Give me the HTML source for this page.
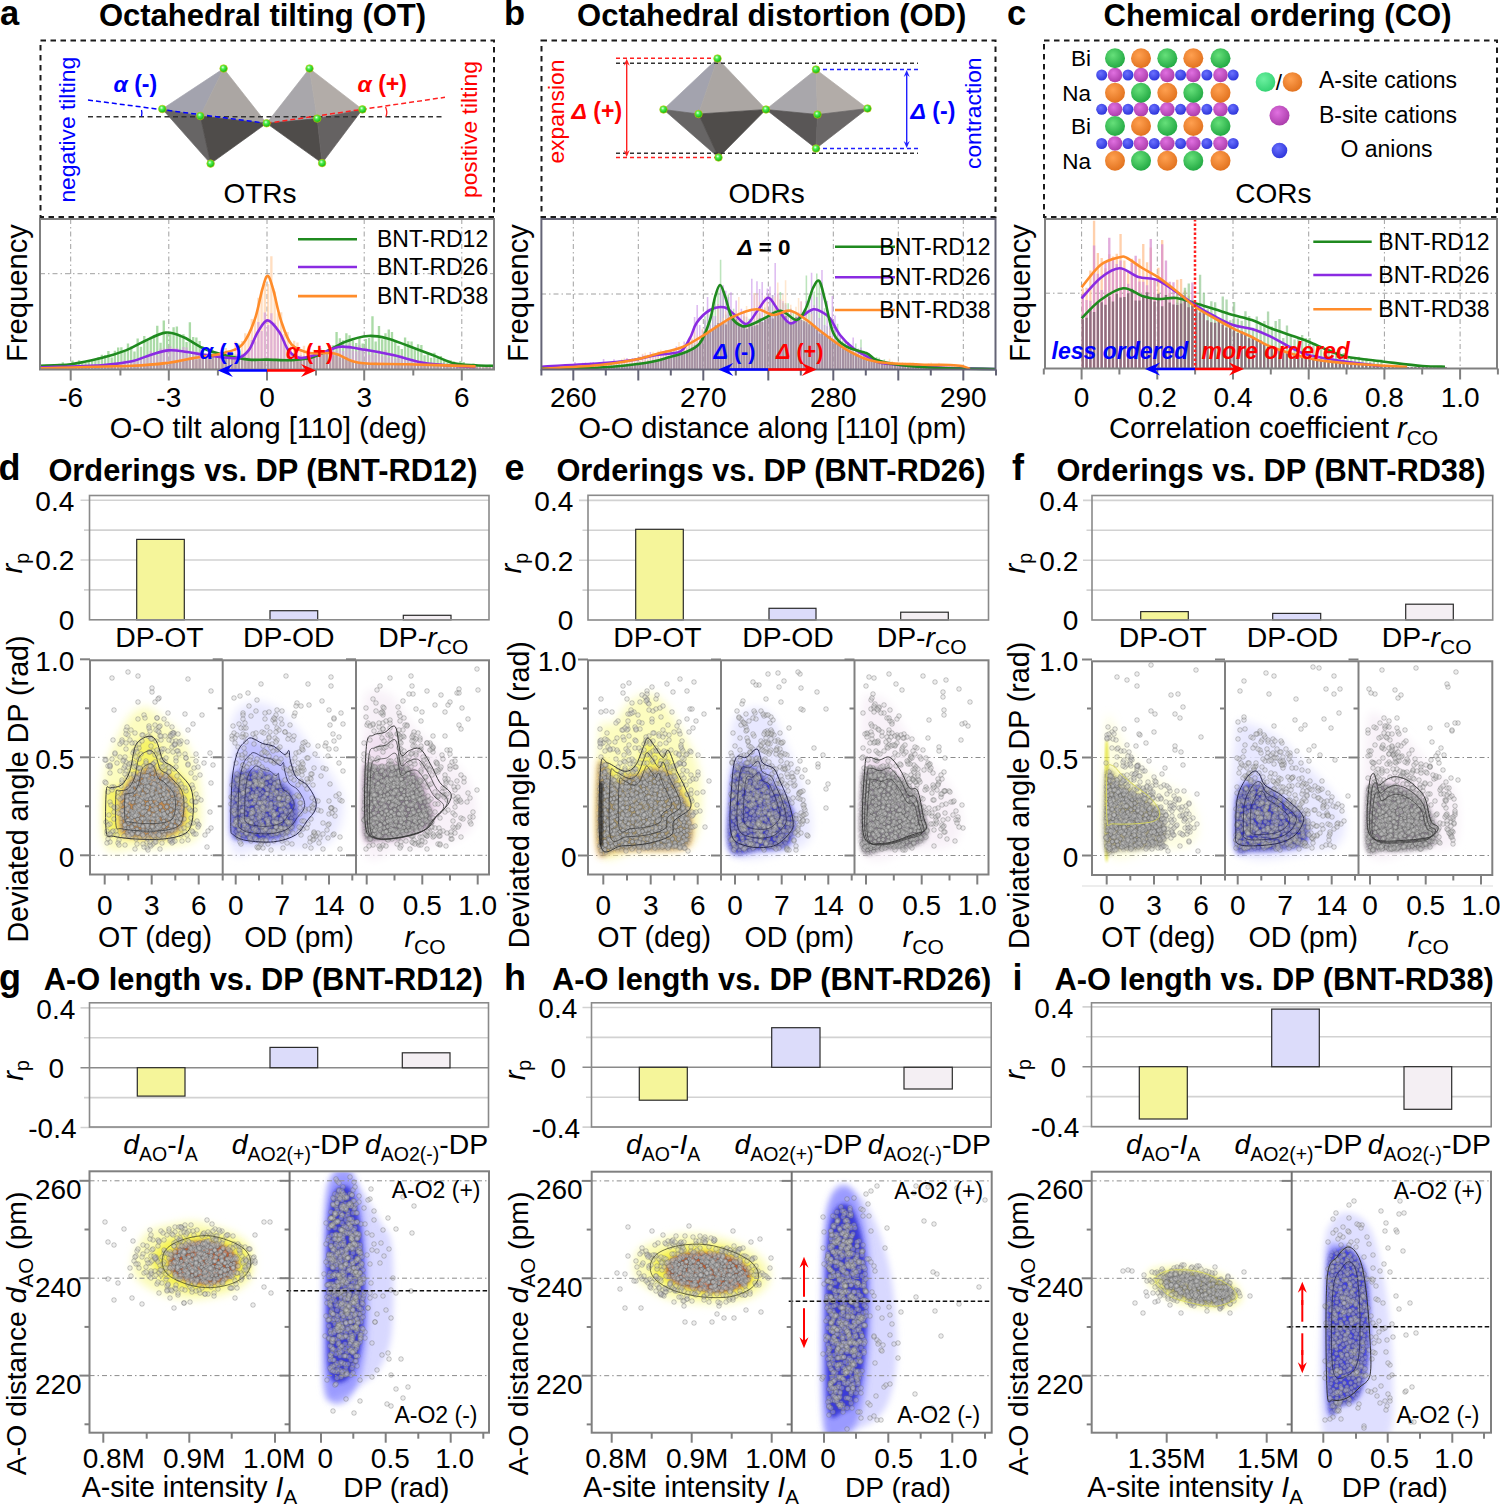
<!DOCTYPE html>
<html><head><meta charset="utf-8"><style>
html,body{margin:0;padding:0;background:#fff;overflow:hidden;}
svg{display:block;}
text{font-family:"Liberation Sans", sans-serif;}
.pc circle{r:2.3px;fill:#cdcdcd;fill-opacity:.36;stroke:#666;stroke-opacity:.48;stroke-width:.75px}
</style></head><body>
<svg width="1500" height="1506" viewBox="0 0 1500 1506" font-family='"Liberation Sans", sans-serif'>
<rect width="1500" height="1506" fill="#fff"/>
<text x="0.0" y="25.0" font-size="34.5" font-weight="bold">a</text>
<text x="504.0" y="25.0" font-size="34.5" font-weight="bold">b</text>
<text x="1007.0" y="25.0" font-size="34.5" font-weight="bold">c</text>
<text x="262.5" y="25.5" font-size="31" text-anchor="middle" font-weight="bold">Octahedral tilting (OT)</text>
<text x="771.7" y="25.5" font-size="31" text-anchor="middle" font-weight="bold">Octahedral distortion (OD)</text>
<text x="1277.5" y="25.5" font-size="31" text-anchor="middle" font-weight="bold">Chemical ordering (CO)</text>
<rect x="40.5" y="40.5" width="453.5" height="176.5" fill="none" stroke="#1a1a1a" stroke-width="2" stroke-dasharray="5.5,4.5"/>
<rect x="541.5" y="40.5" width="454.0" height="176.5" fill="none" stroke="#1a1a1a" stroke-width="2" stroke-dasharray="5.5,4.5"/>
<rect x="1044" y="40.5" width="453" height="176.5" fill="none" stroke="#1a1a1a" stroke-width="2" stroke-dasharray="5.5,4.5"/>
<defs>
<radialGradient id="gball" cx="0.4" cy="0.35" r="0.65"><stop offset="0" stop-color="#eaffea"/><stop offset="0.35" stop-color="#4cf04c"/><stop offset="1" stop-color="#10b010"/></radialGradient>
<radialGradient id="gG" cx="0.4" cy="0.35" r="0.7"><stop offset="0" stop-color="#66e07a"/><stop offset="1" stop-color="#1fa640"/></radialGradient>
<radialGradient id="gO" cx="0.4" cy="0.35" r="0.7"><stop offset="0" stop-color="#ffa050"/><stop offset="1" stop-color="#e0701c"/></radialGradient>
<radialGradient id="gP" cx="0.4" cy="0.35" r="0.7"><stop offset="0" stop-color="#e070e0"/><stop offset="1" stop-color="#a83aa8"/></radialGradient>
<radialGradient id="gB" cx="0.4" cy="0.35" r="0.7"><stop offset="0" stop-color="#6a70ff"/><stop offset="1" stop-color="#2a32d8"/></radialGradient>
<radialGradient id="gGl" cx="0.4" cy="0.35" r="0.7"><stop offset="0" stop-color="#6cf0a0"/><stop offset="1" stop-color="#30d070"/></radialGradient>
<filter id="blur2" x="-20%" y="-20%" width="140%" height="140%"><feGaussianBlur stdDeviation="2"/></filter>
<filter id="blur4" x="-30%" y="-30%" width="160%" height="160%"><feGaussianBlur stdDeviation="4"/></filter>
<filter id="blur7" x="-40%" y="-40%" width="180%" height="180%"><feGaussianBlur stdDeviation="7"/></filter>
<filter id="blur3" x="-30%" y="-30%" width="160%" height="160%"><feGaussianBlur stdDeviation="3"/></filter>
<filter id="blur5" x="-30%" y="-30%" width="160%" height="160%"><feGaussianBlur stdDeviation="5"/></filter>
<filter id="blur6" x="-30%" y="-30%" width="160%" height="160%"><feGaussianBlur stdDeviation="6"/></filter>
</defs>
<polygon points="223.6,68.5 162.3,109.0 200.3,116.0" fill="#a3a3ae" stroke="#a3a3ae" stroke-width="0.7" />
<polygon points="223.6,68.5 200.3,116.0 266.6,123.3" fill="#aba6a3" stroke="#aba6a3" stroke-width="0.7" />
<polygon points="162.3,109.0 200.3,116.0 210.6,163.6" fill="#676565" stroke="#676565" stroke-width="0.7" />
<polygon points="200.3,116.0 266.6,123.3 210.6,163.6" fill="#4f4c4a" stroke="#4f4c4a" stroke-width="0.7" />
<polygon points="309.5,68.5 266.6,123.3 317.2,118.6" fill="#a9a7ab" stroke="#a9a7ab" stroke-width="0.7" />
<polygon points="309.5,68.5 317.2,118.6 362.4,109.4" fill="#b2aca8" stroke="#b2aca8" stroke-width="0.7" />
<polygon points="266.6,123.3 317.2,118.6 322.1,163.1" fill="#4f4c4a" stroke="#4f4c4a" stroke-width="0.7" />
<polygon points="317.2,118.6 362.4,109.4 322.1,163.1" fill="#656262" stroke="#656262" stroke-width="0.7" />
<line x1="88.0" y1="116.7" x2="445.0" y2="116.7" stroke="#333" stroke-width="1.6" stroke-dasharray="5,3.5"/>
<line x1="88.0" y1="100.0" x2="266.6" y2="123.3" stroke="#0000ff" stroke-width="1.5" stroke-dasharray="5,3"/>
<line x1="266.6" y1="123.3" x2="445.0" y2="97.3" stroke="#ff2020" stroke-width="1.5" stroke-dasharray="5,3"/>
<path d="M141.5,110 A 12 12 0 0 1 141.5,116.5" fill="none" stroke="#0000ff" stroke-width="1.3"/>
<path d="M385.5,107 A 12 12 0 0 1 386,116.5" fill="none" stroke="#ff2020" stroke-width="1.3"/>
<circle cx="223.6" cy="68.5" r="3.8" fill="url(#gball)" stroke="#c8c800" stroke-width="0.6"/>
<circle cx="162.3" cy="109.0" r="3.8" fill="url(#gball)" stroke="#c8c800" stroke-width="0.6"/>
<circle cx="200.3" cy="116.0" r="3.8" fill="url(#gball)" stroke="#c8c800" stroke-width="0.6"/>
<circle cx="266.6" cy="123.3" r="3.8" fill="url(#gball)" stroke="#c8c800" stroke-width="0.6"/>
<circle cx="210.6" cy="163.6" r="3.8" fill="url(#gball)" stroke="#c8c800" stroke-width="0.6"/>
<circle cx="309.5" cy="68.5" r="3.8" fill="url(#gball)" stroke="#c8c800" stroke-width="0.6"/>
<circle cx="317.2" cy="118.6" r="3.8" fill="url(#gball)" stroke="#c8c800" stroke-width="0.6"/>
<circle cx="362.4" cy="109.4" r="3.8" fill="url(#gball)" stroke="#c8c800" stroke-width="0.6"/>
<circle cx="322.1" cy="163.1" r="3.8" fill="url(#gball)" stroke="#c8c800" stroke-width="0.6"/>
<text x="113.5" y="91.7" font-size="23" font-weight="bold" fill="#0000ff"><tspan font-style="italic">α</tspan> (-)</text>
<text x="357.5" y="91.7" font-size="23" font-weight="bold" fill="#ff0000"><tspan font-style="italic">α</tspan> (+)</text>
<text x="75.3" y="129.7" font-size="22.8" text-anchor="middle" fill="#0000ff" transform="rotate(-90 75.3 129.7)">negative tilting</text>
<text x="477.2" y="129.6" font-size="22.8" text-anchor="middle" fill="#ff0000" transform="rotate(-90 477.2 129.6)">positive tilting</text>
<text x="260.0" y="203.0" font-size="28" text-anchor="middle">OTRs</text>
<polygon points="717.5,58.5 663.5,109.5 698.5,114.0" fill="#a3a3ae" stroke="#a3a3ae" stroke-width="0.7" />
<polygon points="717.5,58.5 698.5,114.0 766.0,109.5" fill="#aba6a3" stroke="#aba6a3" stroke-width="0.7" />
<polygon points="663.5,109.5 698.5,114.0 718.5,157.5" fill="#676565" stroke="#676565" stroke-width="0.7" />
<polygon points="698.5,114.0 766.0,109.5 718.5,157.5" fill="#4f4c4a" stroke="#4f4c4a" stroke-width="0.7" />
<polygon points="816.0,69.5 766.0,109.5 817.5,114.5" fill="#a9a7ab" stroke="#a9a7ab" stroke-width="0.7" />
<polygon points="816.0,69.5 817.5,114.5 867.5,108.5" fill="#b2aca8" stroke="#b2aca8" stroke-width="0.7" />
<polygon points="766.0,109.5 817.5,114.5 816.0,148.5" fill="#595656" stroke="#595656" stroke-width="0.7" />
<polygon points="817.5,114.5 867.5,108.5 816.0,148.5" fill="#6a6767" stroke="#6a6767" stroke-width="0.7" />
<line x1="616.0" y1="63.3" x2="918.0" y2="63.3" stroke="#333" stroke-width="1.4" stroke-dasharray="4,3"/>
<line x1="616.0" y1="153.3" x2="918.0" y2="153.3" stroke="#333" stroke-width="1.4" stroke-dasharray="4,3"/>
<line x1="616.0" y1="58.3" x2="717.0" y2="58.3" stroke="#ff2020" stroke-width="1.4" stroke-dasharray="4,3"/>
<line x1="616.0" y1="157.5" x2="717.0" y2="157.5" stroke="#ff2020" stroke-width="1.4" stroke-dasharray="4,3"/>
<line x1="816.0" y1="69.5" x2="918.0" y2="69.5" stroke="#2020ff" stroke-width="1.4" stroke-dasharray="4,3"/>
<line x1="816.0" y1="148.5" x2="918.0" y2="148.5" stroke="#2020ff" stroke-width="1.4" stroke-dasharray="4,3"/>
<line x1="626.7" y1="108.0" x2="626.7" y2="63.0" stroke="#ff2020" stroke-width="1.4" />
<polygon points="626.7,58.8 623.7,65.8 626.7,63.3 629.7,65.8" fill="#ff2020" />
<line x1="626.7" y1="108.0" x2="626.7" y2="152.8" stroke="#ff2020" stroke-width="1.4" />
<polygon points="626.7,157.0 623.7,150.0 626.7,152.4 629.7,150.0" fill="#ff2020" />
<line x1="906.7" y1="109.0" x2="906.7" y2="74.2" stroke="#2020ff" stroke-width="1.4" />
<polygon points="906.7,70.0 903.7,77.0 906.7,74.5 909.7,77.0" fill="#2020ff" />
<line x1="906.7" y1="109.0" x2="906.7" y2="143.8" stroke="#2020ff" stroke-width="1.4" />
<polygon points="906.7,148.0 903.7,141.0 906.7,143.4 909.7,141.0" fill="#2020ff" />
<circle cx="717.5" cy="58.5" r="3.8" fill="url(#gball)" stroke="#c8c800" stroke-width="0.6"/>
<circle cx="663.5" cy="109.5" r="3.8" fill="url(#gball)" stroke="#c8c800" stroke-width="0.6"/>
<circle cx="698.5" cy="114.0" r="3.8" fill="url(#gball)" stroke="#c8c800" stroke-width="0.6"/>
<circle cx="766.0" cy="109.5" r="3.8" fill="url(#gball)" stroke="#c8c800" stroke-width="0.6"/>
<circle cx="718.5" cy="157.5" r="3.8" fill="url(#gball)" stroke="#c8c800" stroke-width="0.6"/>
<circle cx="816.0" cy="69.5" r="3.8" fill="url(#gball)" stroke="#c8c800" stroke-width="0.6"/>
<circle cx="817.5" cy="114.5" r="3.8" fill="url(#gball)" stroke="#c8c800" stroke-width="0.6"/>
<circle cx="867.5" cy="108.5" r="3.8" fill="url(#gball)" stroke="#c8c800" stroke-width="0.6"/>
<circle cx="816.0" cy="148.5" r="3.8" fill="url(#gball)" stroke="#c8c800" stroke-width="0.6"/>
<text x="571.5" y="118.8" font-size="23" font-weight="bold" fill="#ff0000"><tspan font-style="italic">Δ</tspan> (+)</text>
<text x="910.5" y="118.8" font-size="23" font-weight="bold" fill="#0000ff"><tspan font-style="italic">Δ</tspan> (-)</text>
<text x="564.0" y="111.6" font-size="22.8" text-anchor="middle" fill="#ff0000" transform="rotate(-90 564.0 111.6)">expansion</text>
<text x="981.2" y="113.2" font-size="22.8" text-anchor="middle" fill="#0000ff" transform="rotate(-90 981.2 113.2)">contraction</text>
<text x="766.7" y="203.0" font-size="28" text-anchor="middle">ODRs</text>
<circle cx="1101.7" cy="75" r="5.5" fill="url(#gB)"/>
<circle cx="1128.0" cy="75" r="5.5" fill="url(#gB)"/>
<circle cx="1154.3" cy="75" r="5.5" fill="url(#gB)"/>
<circle cx="1180.6" cy="75" r="5.5" fill="url(#gB)"/>
<circle cx="1206.9" cy="75" r="5.5" fill="url(#gB)"/>
<circle cx="1233.2" cy="75" r="5.5" fill="url(#gB)"/>
<circle cx="1115.0" cy="75" r="7.3" fill="url(#gP)"/>
<circle cx="1141.0" cy="75" r="7.3" fill="url(#gP)"/>
<circle cx="1167.3" cy="75" r="7.3" fill="url(#gP)"/>
<circle cx="1193.3" cy="75" r="7.3" fill="url(#gP)"/>
<circle cx="1220.5" cy="75" r="7.3" fill="url(#gP)"/>
<circle cx="1101.7" cy="109.3" r="5.5" fill="url(#gB)"/>
<circle cx="1128.0" cy="109.3" r="5.5" fill="url(#gB)"/>
<circle cx="1154.3" cy="109.3" r="5.5" fill="url(#gB)"/>
<circle cx="1180.6" cy="109.3" r="5.5" fill="url(#gB)"/>
<circle cx="1206.9" cy="109.3" r="5.5" fill="url(#gB)"/>
<circle cx="1233.2" cy="109.3" r="5.5" fill="url(#gB)"/>
<circle cx="1115.0" cy="109.3" r="7.3" fill="url(#gP)"/>
<circle cx="1141.0" cy="109.3" r="7.3" fill="url(#gP)"/>
<circle cx="1167.3" cy="109.3" r="7.3" fill="url(#gP)"/>
<circle cx="1193.3" cy="109.3" r="7.3" fill="url(#gP)"/>
<circle cx="1220.5" cy="109.3" r="7.3" fill="url(#gP)"/>
<circle cx="1101.7" cy="143.5" r="5.5" fill="url(#gB)"/>
<circle cx="1128.0" cy="143.5" r="5.5" fill="url(#gB)"/>
<circle cx="1154.3" cy="143.5" r="5.5" fill="url(#gB)"/>
<circle cx="1180.6" cy="143.5" r="5.5" fill="url(#gB)"/>
<circle cx="1206.9" cy="143.5" r="5.5" fill="url(#gB)"/>
<circle cx="1233.2" cy="143.5" r="5.5" fill="url(#gB)"/>
<circle cx="1115.0" cy="143.5" r="7.3" fill="url(#gP)"/>
<circle cx="1141.0" cy="143.5" r="7.3" fill="url(#gP)"/>
<circle cx="1167.3" cy="143.5" r="7.3" fill="url(#gP)"/>
<circle cx="1193.3" cy="143.5" r="7.3" fill="url(#gP)"/>
<circle cx="1220.5" cy="143.5" r="7.3" fill="url(#gP)"/>
<circle cx="1115.0" cy="58.3" r="10" fill="url(#gG)"/>
<circle cx="1141.0" cy="58.3" r="10" fill="url(#gO)"/>
<circle cx="1167.3" cy="58.3" r="10" fill="url(#gG)"/>
<circle cx="1193.3" cy="58.3" r="10" fill="url(#gO)"/>
<circle cx="1220.5" cy="58.3" r="10" fill="url(#gG)"/>
<circle cx="1115.0" cy="92.7" r="10" fill="url(#gO)"/>
<circle cx="1141.0" cy="92.7" r="10" fill="url(#gG)"/>
<circle cx="1167.3" cy="92.7" r="10" fill="url(#gO)"/>
<circle cx="1193.3" cy="92.7" r="10" fill="url(#gG)"/>
<circle cx="1220.5" cy="92.7" r="10" fill="url(#gO)"/>
<circle cx="1115.0" cy="126" r="10" fill="url(#gG)"/>
<circle cx="1141.0" cy="126" r="10" fill="url(#gO)"/>
<circle cx="1167.3" cy="126" r="10" fill="url(#gG)"/>
<circle cx="1193.3" cy="126" r="10" fill="url(#gO)"/>
<circle cx="1220.5" cy="126" r="10" fill="url(#gG)"/>
<circle cx="1115.0" cy="160.7" r="10" fill="url(#gO)"/>
<circle cx="1141.0" cy="160.7" r="10" fill="url(#gG)"/>
<circle cx="1167.3" cy="160.7" r="10" fill="url(#gO)"/>
<circle cx="1193.3" cy="160.7" r="10" fill="url(#gG)"/>
<circle cx="1220.5" cy="160.7" r="10" fill="url(#gO)"/>
<text x="1091.0" y="66.3" font-size="22.5" text-anchor="end">Bi</text>
<text x="1091.0" y="100.7" font-size="22.5" text-anchor="end">Na</text>
<text x="1091.0" y="134.0" font-size="22.5" text-anchor="end">Bi</text>
<text x="1091.0" y="168.7" font-size="22.5" text-anchor="end">Na</text>
<circle cx="1265.5" cy="82" r="9.8" fill="url(#gGl)"/>
<circle cx="1292.5" cy="82" r="9.8" fill="url(#gO)"/>
<text x="1279.0" y="90.0" font-size="22.5" text-anchor="middle">/</text>
<circle cx="1279.5" cy="115.5" r="10" fill="url(#gP)"/>
<circle cx="1279.5" cy="150.5" r="7.8" fill="url(#gB)"/>
<text x="1388.0" y="88.3" font-size="23" text-anchor="middle">A-site cations</text>
<text x="1388.0" y="122.5" font-size="23" text-anchor="middle">B-site cations</text>
<text x="1386.5" y="157.0" font-size="23" text-anchor="middle">O anions</text>
<text x="1273.3" y="203.0" font-size="28" text-anchor="middle">CORs</text>
<line x1="70.7" y1="219.0" x2="70.7" y2="369.0" stroke="#a0a0a0" stroke-width="1" stroke-dasharray="5,3,1.5,3"/>
<line x1="168.8" y1="219.0" x2="168.8" y2="369.0" stroke="#a0a0a0" stroke-width="1" stroke-dasharray="5,3,1.5,3"/>
<line x1="267.0" y1="219.0" x2="267.0" y2="369.0" stroke="#a0a0a0" stroke-width="1" stroke-dasharray="5,3,1.5,3"/>
<line x1="364.2" y1="219.0" x2="364.2" y2="369.0" stroke="#a0a0a0" stroke-width="1" stroke-dasharray="5,3,1.5,3"/>
<line x1="461.8" y1="219.0" x2="461.8" y2="369.0" stroke="#a0a0a0" stroke-width="1" stroke-dasharray="5,3,1.5,3"/>
<line x1="40.0" y1="273.7" x2="494.0" y2="273.7" stroke="#a0a0a0" stroke-width="1" stroke-dasharray="5,3,1.5,3"/>
<path d="M42.0 366.2h2.35V369h-2.35zM45.3 364.7h2.35V369h-2.35zM48.5 365.1h2.35V369h-2.35zM51.8 364.5h2.35V369h-2.35zM55.0 365.0h2.35V369h-2.35zM58.3 363.7h2.35V369h-2.35zM61.6 362.3h2.35V369h-2.35zM64.8 364.4h2.35V369h-2.35zM68.1 364.8h2.35V369h-2.35zM71.3 360.4h2.35V369h-2.35zM74.6 364.6h2.35V369h-2.35zM77.9 360.3h2.35V369h-2.35zM81.1 362.7h2.35V369h-2.35zM84.4 363.1h2.35V369h-2.35zM87.6 360.4h2.35V369h-2.35zM90.9 360.9h2.35V369h-2.35zM94.2 360.4h2.35V369h-2.35zM97.4 357.0h2.35V369h-2.35zM100.7 354.8h2.35V369h-2.35zM103.9 355.1h2.35V369h-2.35zM107.2 351.0h2.35V369h-2.35zM110.5 357.4h2.35V369h-2.35zM113.7 350.8h2.35V369h-2.35zM117.0 347.4h2.35V369h-2.35zM120.2 347.2h2.35V369h-2.35zM123.5 352.0h2.35V369h-2.35zM126.8 343.4h2.35V369h-2.35zM130.0 346.4h2.35V369h-2.35zM133.3 351.5h2.35V369h-2.35zM136.5 338.4h2.35V369h-2.35zM139.8 346.7h2.35V369h-2.35zM143.1 336.1h2.35V369h-2.35zM146.3 340.6h2.35V369h-2.35zM149.6 336.7h2.35V369h-2.35zM152.8 335.1h2.35V369h-2.35zM156.1 325.7h2.35V369h-2.35zM159.4 342.7h2.35V369h-2.35zM162.6 320.5h2.35V369h-2.35zM165.9 333.7h2.35V369h-2.35zM169.1 332.1h2.35V369h-2.35zM172.4 327.3h2.35V369h-2.35zM175.7 326.4h2.35V369h-2.35zM178.9 334.6h2.35V369h-2.35zM182.2 334.3h2.35V369h-2.35zM185.4 342.0h2.35V369h-2.35zM188.7 322.2h2.35V369h-2.35zM192.0 336.9h2.35V369h-2.35zM195.2 337.6h2.35V369h-2.35zM198.5 341.1h2.35V369h-2.35zM201.7 346.4h2.35V369h-2.35zM205.0 353.8h2.35V369h-2.35zM208.3 348.6h2.35V369h-2.35zM211.5 350.5h2.35V369h-2.35zM214.8 353.2h2.35V369h-2.35zM218.0 352.4h2.35V369h-2.35zM221.3 352.9h2.35V369h-2.35zM224.6 358.8h2.35V369h-2.35zM227.8 358.0h2.35V369h-2.35zM231.1 353.2h2.35V369h-2.35zM234.3 354.4h2.35V369h-2.35zM237.6 359.0h2.35V369h-2.35zM240.9 353.7h2.35V369h-2.35zM244.1 359.7h2.35V369h-2.35zM247.4 357.6h2.35V369h-2.35zM250.6 361.4h2.35V369h-2.35zM253.9 357.8h2.35V369h-2.35zM257.2 361.1h2.35V369h-2.35zM260.4 361.1h2.35V369h-2.35zM263.7 357.9h2.35V369h-2.35zM266.9 360.2h2.35V369h-2.35zM270.2 362.0h2.35V369h-2.35zM273.5 359.8h2.35V369h-2.35zM276.7 361.7h2.35V369h-2.35zM280.0 359.4h2.35V369h-2.35zM283.2 359.0h2.35V369h-2.35zM286.5 360.7h2.35V369h-2.35zM289.8 361.7h2.35V369h-2.35zM293.0 361.3h2.35V369h-2.35zM296.3 357.9h2.35V369h-2.35zM299.5 360.3h2.35V369h-2.35zM302.8 356.3h2.35V369h-2.35zM306.1 359.7h2.35V369h-2.35zM309.3 357.9h2.35V369h-2.35zM312.6 357.1h2.35V369h-2.35zM315.8 358.2h2.35V369h-2.35zM319.1 348.3h2.35V369h-2.35zM322.4 353.4h2.35V369h-2.35zM325.6 352.1h2.35V369h-2.35zM328.9 345.3h2.35V369h-2.35zM332.1 345.2h2.35V369h-2.35zM335.4 332.0h2.35V369h-2.35zM338.7 338.2h2.35V369h-2.35zM341.9 340.3h2.35V369h-2.35zM345.2 333.3h2.35V369h-2.35zM348.4 335.3h2.35V369h-2.35zM351.7 340.4h2.35V369h-2.35zM355.0 342.9h2.35V369h-2.35zM358.2 337.8h2.35V369h-2.35zM361.5 343.6h2.35V369h-2.35zM364.7 339.0h2.35V369h-2.35zM368.0 338.1h2.35V369h-2.35zM371.3 316.2h2.35V369h-2.35zM374.5 341.4h2.35V369h-2.35zM377.8 326.0h2.35V369h-2.35zM381.0 339.3h2.35V369h-2.35zM384.3 333.2h2.35V369h-2.35zM387.6 329.5h2.35V369h-2.35zM390.8 331.9h2.35V369h-2.35zM394.1 340.3h2.35V369h-2.35zM397.3 345.7h2.35V369h-2.35zM400.6 349.1h2.35V369h-2.35zM403.9 337.5h2.35V369h-2.35zM407.1 341.2h2.35V369h-2.35zM410.4 341.6h2.35V369h-2.35zM413.6 349.6h2.35V369h-2.35zM416.9 344.3h2.35V369h-2.35zM420.2 344.9h2.35V369h-2.35zM423.4 355.2h2.35V369h-2.35zM426.7 353.4h2.35V369h-2.35zM429.9 357.8h2.35V369h-2.35zM433.2 352.8h2.35V369h-2.35zM436.5 357.7h2.35V369h-2.35zM439.7 356.0h2.35V369h-2.35zM443.0 358.8h2.35V369h-2.35zM446.2 362.6h2.35V369h-2.35zM449.5 360.2h2.35V369h-2.35zM452.8 361.5h2.35V369h-2.35zM456.0 364.1h2.35V369h-2.35zM459.3 361.0h2.35V369h-2.35zM462.5 362.0h2.35V369h-2.35zM465.8 365.4h2.35V369h-2.35zM469.1 365.8h2.35V369h-2.35zM472.3 363.6h2.35V369h-2.35zM475.6 366.0h2.35V369h-2.35zM478.8 365.8h2.35V369h-2.35zM482.1 366.2h2.35V369h-2.35zM485.4 365.7h2.35V369h-2.35zM488.6 364.7h2.35V369h-2.35zM491.9 366.1h2.35V369h-2.35z" fill="#8fcf8a" fill-opacity="0.75"/>
<path d="M42.0 368.2h2.35V369h-2.35zM45.3 368.0h2.35V369h-2.35zM48.5 367.6h2.35V369h-2.35zM51.8 368.1h2.35V369h-2.35zM55.0 367.9h2.35V369h-2.35zM58.3 367.3h2.35V369h-2.35zM61.6 367.3h2.35V369h-2.35zM64.8 367.3h2.35V369h-2.35zM68.1 367.3h2.35V369h-2.35zM71.3 367.3h2.35V369h-2.35zM74.6 366.7h2.35V369h-2.35zM77.9 366.9h2.35V369h-2.35zM81.1 366.9h2.35V369h-2.35zM84.4 366.5h2.35V369h-2.35zM87.6 366.6h2.35V369h-2.35zM90.9 366.5h2.35V369h-2.35zM94.2 366.8h2.35V369h-2.35zM97.4 366.6h2.35V369h-2.35zM100.7 365.5h2.35V369h-2.35zM103.9 366.9h2.35V369h-2.35zM107.2 365.7h2.35V369h-2.35zM110.5 366.0h2.35V369h-2.35zM113.7 366.1h2.35V369h-2.35zM117.0 366.3h2.35V369h-2.35zM120.2 365.8h2.35V369h-2.35zM123.5 365.6h2.35V369h-2.35zM126.8 365.2h2.35V369h-2.35zM130.0 365.4h2.35V369h-2.35zM133.3 364.8h2.35V369h-2.35zM136.5 364.3h2.35V369h-2.35zM139.8 364.4h2.35V369h-2.35zM143.1 363.8h2.35V369h-2.35zM146.3 364.2h2.35V369h-2.35zM149.6 363.1h2.35V369h-2.35zM152.8 364.8h2.35V369h-2.35zM156.1 363.7h2.35V369h-2.35zM159.4 363.7h2.35V369h-2.35zM162.6 360.6h2.35V369h-2.35zM165.9 361.2h2.35V369h-2.35zM169.1 361.3h2.35V369h-2.35zM172.4 360.0h2.35V369h-2.35zM175.7 360.8h2.35V369h-2.35zM178.9 359.8h2.35V369h-2.35zM182.2 357.6h2.35V369h-2.35zM185.4 360.4h2.35V369h-2.35zM188.7 357.7h2.35V369h-2.35zM192.0 360.2h2.35V369h-2.35zM195.2 358.2h2.35V369h-2.35zM198.5 354.0h2.35V369h-2.35zM201.7 356.2h2.35V369h-2.35zM205.0 354.3h2.35V369h-2.35zM208.3 354.3h2.35V369h-2.35zM211.5 350.9h2.35V369h-2.35zM214.8 354.1h2.35V369h-2.35zM218.0 355.1h2.35V369h-2.35zM221.3 348.5h2.35V369h-2.35zM224.6 348.0h2.35V369h-2.35zM227.8 350.4h2.35V369h-2.35zM231.1 353.1h2.35V369h-2.35zM234.3 341.4h2.35V369h-2.35zM237.6 343.4h2.35V369h-2.35zM240.9 341.0h2.35V369h-2.35zM244.1 333.2h2.35V369h-2.35zM247.4 334.6h2.35V369h-2.35zM250.6 318.9h2.35V369h-2.35zM253.9 321.2h2.35V369h-2.35zM257.2 297.7h2.35V369h-2.35zM260.4 292.8h2.35V369h-2.35zM263.7 284.1h2.35V369h-2.35zM266.9 284.0h2.35V369h-2.35zM270.2 256.2h2.35V369h-2.35zM273.5 291.5h2.35V369h-2.35zM276.7 313.5h2.35V369h-2.35zM280.0 312.3h2.35V369h-2.35zM283.2 334.0h2.35V369h-2.35zM286.5 331.9h2.35V369h-2.35zM289.8 345.4h2.35V369h-2.35zM293.0 340.8h2.35V369h-2.35zM296.3 342.4h2.35V369h-2.35zM299.5 349.7h2.35V369h-2.35zM302.8 345.8h2.35V369h-2.35zM306.1 353.6h2.35V369h-2.35zM309.3 352.0h2.35V369h-2.35zM312.6 349.8h2.35V369h-2.35zM315.8 355.1h2.35V369h-2.35zM319.1 350.0h2.35V369h-2.35zM322.4 350.1h2.35V369h-2.35zM325.6 355.7h2.35V369h-2.35zM328.9 350.4h2.35V369h-2.35zM332.1 354.1h2.35V369h-2.35zM335.4 354.5h2.35V369h-2.35zM338.7 352.2h2.35V369h-2.35zM341.9 359.5h2.35V369h-2.35zM345.2 355.5h2.35V369h-2.35zM348.4 359.3h2.35V369h-2.35zM351.7 358.4h2.35V369h-2.35zM355.0 360.6h2.35V369h-2.35zM358.2 361.9h2.35V369h-2.35zM361.5 363.3h2.35V369h-2.35zM364.7 362.7h2.35V369h-2.35zM368.0 362.5h2.35V369h-2.35zM371.3 360.9h2.35V369h-2.35zM374.5 361.8h2.35V369h-2.35zM377.8 361.8h2.35V369h-2.35zM381.0 362.0h2.35V369h-2.35zM384.3 364.7h2.35V369h-2.35zM387.6 364.3h2.35V369h-2.35zM390.8 363.1h2.35V369h-2.35zM394.1 363.8h2.35V369h-2.35zM397.3 363.4h2.35V369h-2.35zM400.6 364.5h2.35V369h-2.35zM403.9 364.0h2.35V369h-2.35zM407.1 364.4h2.35V369h-2.35zM410.4 364.1h2.35V369h-2.35zM413.6 365.0h2.35V369h-2.35zM416.9 363.4h2.35V369h-2.35zM420.2 363.0h2.35V369h-2.35zM423.4 364.3h2.35V369h-2.35zM426.7 365.7h2.35V369h-2.35zM429.9 365.3h2.35V369h-2.35zM433.2 365.1h2.35V369h-2.35zM436.5 363.8h2.35V369h-2.35zM439.7 366.0h2.35V369h-2.35zM443.0 365.5h2.35V369h-2.35zM446.2 364.5h2.35V369h-2.35zM449.5 366.2h2.35V369h-2.35zM452.8 365.9h2.35V369h-2.35zM456.0 365.9h2.35V369h-2.35zM459.3 365.7h2.35V369h-2.35zM462.5 366.4h2.35V369h-2.35zM465.8 366.6h2.35V369h-2.35zM469.1 365.8h2.35V369h-2.35zM472.3 366.8h2.35V369h-2.35zM475.6 366.5h2.35V369h-2.35zM478.8 365.9h2.35V369h-2.35zM482.1 365.9h2.35V369h-2.35zM485.4 366.4h2.35V369h-2.35zM488.6 366.3h2.35V369h-2.35zM491.9 366.4h2.35V369h-2.35z" fill="#ffc898" fill-opacity="0.6"/>
<path d="M42.0 366.7h2.35V369h-2.35zM45.3 366.6h2.35V369h-2.35zM48.5 367.4h2.35V369h-2.35zM51.8 367.3h2.35V369h-2.35zM55.0 366.3h2.35V369h-2.35zM58.3 366.3h2.35V369h-2.35zM61.6 366.2h2.35V369h-2.35zM64.8 366.6h2.35V369h-2.35zM68.1 366.1h2.35V369h-2.35zM71.3 366.0h2.35V369h-2.35zM74.6 365.9h2.35V369h-2.35zM77.9 366.4h2.35V369h-2.35zM81.1 365.9h2.35V369h-2.35zM84.4 365.8h2.35V369h-2.35zM87.6 365.2h2.35V369h-2.35zM90.9 364.5h2.35V369h-2.35zM94.2 364.5h2.35V369h-2.35zM97.4 365.1h2.35V369h-2.35zM100.7 365.1h2.35V369h-2.35zM103.9 365.1h2.35V369h-2.35zM107.2 365.3h2.35V369h-2.35zM110.5 364.9h2.35V369h-2.35zM113.7 363.4h2.35V369h-2.35zM117.0 363.4h2.35V369h-2.35zM120.2 362.8h2.35V369h-2.35zM123.5 360.6h2.35V369h-2.35zM126.8 361.4h2.35V369h-2.35zM130.0 360.9h2.35V369h-2.35zM133.3 361.2h2.35V369h-2.35zM136.5 361.3h2.35V369h-2.35zM139.8 358.8h2.35V369h-2.35zM143.1 358.9h2.35V369h-2.35zM146.3 355.5h2.35V369h-2.35zM149.6 350.9h2.35V369h-2.35zM152.8 352.3h2.35V369h-2.35zM156.1 355.4h2.35V369h-2.35zM159.4 348.7h2.35V369h-2.35zM162.6 348.5h2.35V369h-2.35zM165.9 348.2h2.35V369h-2.35zM169.1 346.4h2.35V369h-2.35zM172.4 348.1h2.35V369h-2.35zM175.7 348.1h2.35V369h-2.35zM178.9 352.4h2.35V369h-2.35zM182.2 347.1h2.35V369h-2.35zM185.4 347.6h2.35V369h-2.35zM188.7 355.0h2.35V369h-2.35zM192.0 350.7h2.35V369h-2.35zM195.2 351.6h2.35V369h-2.35zM198.5 354.1h2.35V369h-2.35zM201.7 354.1h2.35V369h-2.35zM205.0 355.0h2.35V369h-2.35zM208.3 352.5h2.35V369h-2.35zM211.5 355.9h2.35V369h-2.35zM214.8 354.0h2.35V369h-2.35zM218.0 357.3h2.35V369h-2.35zM221.3 354.4h2.35V369h-2.35zM224.6 354.6h2.35V369h-2.35zM227.8 357.5h2.35V369h-2.35zM231.1 357.2h2.35V369h-2.35zM234.3 355.5h2.35V369h-2.35zM237.6 354.6h2.35V369h-2.35zM240.9 354.0h2.35V369h-2.35zM244.1 354.2h2.35V369h-2.35zM247.4 350.9h2.35V369h-2.35zM250.6 339.9h2.35V369h-2.35zM253.9 341.4h2.35V369h-2.35zM257.2 322.1h2.35V369h-2.35zM260.4 331.1h2.35V369h-2.35zM263.7 312.6h2.35V369h-2.35zM266.9 325.0h2.35V369h-2.35zM270.2 313.3h2.35V369h-2.35zM273.5 322.7h2.35V369h-2.35zM276.7 330.2h2.35V369h-2.35zM280.0 335.7h2.35V369h-2.35zM283.2 340.6h2.35V369h-2.35zM286.5 348.4h2.35V369h-2.35zM289.8 353.5h2.35V369h-2.35zM293.0 356.2h2.35V369h-2.35zM296.3 356.0h2.35V369h-2.35zM299.5 355.3h2.35V369h-2.35zM302.8 356.2h2.35V369h-2.35zM306.1 358.9h2.35V369h-2.35zM309.3 353.2h2.35V369h-2.35zM312.6 352.9h2.35V369h-2.35zM315.8 350.6h2.35V369h-2.35zM319.1 355.4h2.35V369h-2.35zM322.4 349.9h2.35V369h-2.35zM325.6 354.8h2.35V369h-2.35zM328.9 348.2h2.35V369h-2.35zM332.1 350.9h2.35V369h-2.35zM335.4 350.4h2.35V369h-2.35zM338.7 342.1h2.35V369h-2.35zM341.9 351.0h2.35V369h-2.35zM345.2 346.8h2.35V369h-2.35zM348.4 343.7h2.35V369h-2.35zM351.7 350.6h2.35V369h-2.35zM355.0 351.3h2.35V369h-2.35zM358.2 344.9h2.35V369h-2.35zM361.5 349.9h2.35V369h-2.35zM364.7 347.5h2.35V369h-2.35zM368.0 354.7h2.35V369h-2.35zM371.3 352.1h2.35V369h-2.35zM374.5 354.4h2.35V369h-2.35zM377.8 350.7h2.35V369h-2.35zM381.0 356.2h2.35V369h-2.35zM384.3 349.9h2.35V369h-2.35zM387.6 357.6h2.35V369h-2.35zM390.8 353.0h2.35V369h-2.35zM394.1 358.7h2.35V369h-2.35zM397.3 357.9h2.35V369h-2.35zM400.6 355.3h2.35V369h-2.35zM403.9 359.9h2.35V369h-2.35zM407.1 360.4h2.35V369h-2.35zM410.4 358.8h2.35V369h-2.35zM413.6 361.0h2.35V369h-2.35zM416.9 363.1h2.35V369h-2.35zM420.2 360.5h2.35V369h-2.35zM423.4 363.8h2.35V369h-2.35zM426.7 364.5h2.35V369h-2.35zM429.9 363.9h2.35V369h-2.35zM433.2 363.4h2.35V369h-2.35zM436.5 363.5h2.35V369h-2.35zM439.7 365.3h2.35V369h-2.35zM443.0 365.1h2.35V369h-2.35zM446.2 366.0h2.35V369h-2.35zM449.5 365.5h2.35V369h-2.35zM452.8 365.3h2.35V369h-2.35zM456.0 365.6h2.35V369h-2.35zM459.3 365.7h2.35V369h-2.35zM462.5 366.1h2.35V369h-2.35zM465.8 366.3h2.35V369h-2.35zM469.1 366.7h2.35V369h-2.35zM472.3 367.2h2.35V369h-2.35zM475.6 367.5h2.35V369h-2.35zM478.8 367.1h2.35V369h-2.35zM482.1 367.4h2.35V369h-2.35zM485.4 367.6h2.35V369h-2.35zM488.6 367.3h2.35V369h-2.35zM491.9 366.9h2.35V369h-2.35z" fill="#d4a0d8" fill-opacity="0.7"/>
<path d="M42.0 368.2h2.35V369h-2.35zM45.3 368.2h2.35V369h-2.35zM48.5 368.0h2.35V369h-2.35zM51.8 368.0h2.35V369h-2.35zM55.0 368.0h2.35V369h-2.35zM58.3 367.8h2.35V369h-2.35zM61.6 367.5h2.35V369h-2.35zM64.8 367.4h2.35V369h-2.35zM68.1 367.4h2.35V369h-2.35zM71.3 367.5h2.35V369h-2.35zM74.6 367.3h2.35V369h-2.35zM77.9 367.3h2.35V369h-2.35zM81.1 367.3h2.35V369h-2.35zM84.4 367.3h2.35V369h-2.35zM87.6 367.2h2.35V369h-2.35zM90.9 366.6h2.35V369h-2.35zM94.2 366.6h2.35V369h-2.35zM97.4 366.5h2.35V369h-2.35zM100.7 366.4h2.35V369h-2.35zM103.9 366.8h2.35V369h-2.35zM107.2 366.6h2.35V369h-2.35zM110.5 366.3h2.35V369h-2.35zM113.7 366.1h2.35V369h-2.35zM117.0 365.9h2.35V369h-2.35zM120.2 365.8h2.35V369h-2.35zM123.5 366.4h2.35V369h-2.35zM126.8 365.9h2.35V369h-2.35zM130.0 365.7h2.35V369h-2.35zM133.3 365.7h2.35V369h-2.35zM136.5 365.7h2.35V369h-2.35zM139.8 365.2h2.35V369h-2.35zM143.1 365.4h2.35V369h-2.35zM146.3 364.0h2.35V369h-2.35zM149.6 363.8h2.35V369h-2.35zM152.8 364.0h2.35V369h-2.35zM156.1 364.1h2.35V369h-2.35zM159.4 362.9h2.35V369h-2.35zM162.6 363.1h2.35V369h-2.35zM165.9 362.3h2.35V369h-2.35zM169.1 361.9h2.35V369h-2.35zM172.4 361.9h2.35V369h-2.35zM175.7 361.5h2.35V369h-2.35zM178.9 360.5h2.35V369h-2.35zM182.2 360.3h2.35V369h-2.35zM185.4 360.5h2.35V369h-2.35zM188.7 359.6h2.35V369h-2.35zM192.0 357.4h2.35V369h-2.35zM195.2 359.4h2.35V369h-2.35zM198.5 358.9h2.35V369h-2.35zM201.7 356.3h2.35V369h-2.35zM205.0 357.1h2.35V369h-2.35zM208.3 356.0h2.35V369h-2.35zM211.5 356.6h2.35V369h-2.35zM214.8 357.3h2.35V369h-2.35zM218.0 355.3h2.35V369h-2.35zM221.3 358.4h2.35V369h-2.35zM224.6 357.9h2.35V369h-2.35zM227.8 358.9h2.35V369h-2.35zM231.1 357.7h2.35V369h-2.35zM234.3 359.1h2.35V369h-2.35zM237.6 358.7h2.35V369h-2.35zM240.9 358.0h2.35V369h-2.35zM244.1 359.9h2.35V369h-2.35zM247.4 359.7h2.35V369h-2.35zM250.6 358.8h2.35V369h-2.35zM253.9 361.0h2.35V369h-2.35zM257.2 361.1h2.35V369h-2.35zM260.4 360.6h2.35V369h-2.35zM263.7 359.2h2.35V369h-2.35zM266.9 359.6h2.35V369h-2.35zM270.2 360.7h2.35V369h-2.35zM273.5 360.5h2.35V369h-2.35zM276.7 361.0h2.35V369h-2.35zM280.0 360.3h2.35V369h-2.35zM283.2 361.5h2.35V369h-2.35zM286.5 359.9h2.35V369h-2.35zM289.8 359.4h2.35V369h-2.35zM293.0 358.9h2.35V369h-2.35zM296.3 359.1h2.35V369h-2.35zM299.5 358.1h2.35V369h-2.35zM302.8 360.5h2.35V369h-2.35zM306.1 359.3h2.35V369h-2.35zM309.3 356.5h2.35V369h-2.35zM312.6 355.7h2.35V369h-2.35zM315.8 355.7h2.35V369h-2.35zM319.1 352.1h2.35V369h-2.35zM322.4 353.2h2.35V369h-2.35zM325.6 352.3h2.35V369h-2.35zM328.9 354.8h2.35V369h-2.35zM332.1 355.3h2.35V369h-2.35zM335.4 355.1h2.35V369h-2.35zM338.7 357.5h2.35V369h-2.35zM341.9 357.7h2.35V369h-2.35zM345.2 357.0h2.35V369h-2.35zM348.4 360.1h2.35V369h-2.35zM351.7 362.0h2.35V369h-2.35zM355.0 363.0h2.35V369h-2.35zM358.2 363.5h2.35V369h-2.35zM361.5 362.5h2.35V369h-2.35zM364.7 363.4h2.35V369h-2.35zM368.0 363.6h2.35V369h-2.35zM371.3 364.0h2.35V369h-2.35zM374.5 362.6h2.35V369h-2.35zM377.8 363.6h2.35V369h-2.35zM381.0 364.1h2.35V369h-2.35zM384.3 364.4h2.35V369h-2.35zM387.6 364.5h2.35V369h-2.35zM390.8 364.4h2.35V369h-2.35zM394.1 363.7h2.35V369h-2.35zM397.3 364.6h2.35V369h-2.35zM400.6 364.8h2.35V369h-2.35zM403.9 364.3h2.35V369h-2.35zM407.1 364.7h2.35V369h-2.35zM410.4 363.8h2.35V369h-2.35zM413.6 365.1h2.35V369h-2.35zM416.9 364.6h2.35V369h-2.35zM420.2 364.4h2.35V369h-2.35zM423.4 365.0h2.35V369h-2.35zM426.7 364.4h2.35V369h-2.35zM429.9 365.1h2.35V369h-2.35zM433.2 365.5h2.35V369h-2.35zM436.5 365.4h2.35V369h-2.35zM439.7 365.9h2.35V369h-2.35zM443.0 365.6h2.35V369h-2.35zM446.2 365.9h2.35V369h-2.35zM449.5 365.3h2.35V369h-2.35zM452.8 365.6h2.35V369h-2.35zM456.0 366.1h2.35V369h-2.35zM459.3 366.7h2.35V369h-2.35zM462.5 366.8h2.35V369h-2.35zM465.8 367.0h2.35V369h-2.35zM469.1 367.2h2.35V369h-2.35zM472.3 367.4h2.35V369h-2.35zM475.6 367.2h2.35V369h-2.35zM478.8 367.5h2.35V369h-2.35zM482.1 367.6h2.35V369h-2.35zM485.4 367.1h2.35V369h-2.35zM488.6 367.3h2.35V369h-2.35zM491.9 367.1h2.35V369h-2.35z" fill="#b09aa3" fill-opacity="0.9"/>
<path d="M40.0,365.8 C45.1,365.5 60.5,365.5 70.7,364.2 C80.9,362.9 92.1,360.4 101.3,358.1 C110.5,355.8 118.7,353.2 125.9,350.4 C133.1,347.6 137.7,344.2 144.3,341.2 C151.0,338.2 159.2,333.2 165.8,332.6 C172.5,332.0 178.1,334.9 184.2,337.5 C190.3,340.1 196.0,345.1 202.6,348.0 C209.2,350.9 216.3,353.1 224.0,355.0 C231.7,356.9 241.4,358.8 248.6,359.6 C255.8,360.4 259.9,359.5 267.0,359.6 C274.1,359.7 284.3,360.4 291.5,360.2 C298.7,359.9 303.9,359.7 310.0,358.1 C316.1,356.5 322.2,353.2 328.3,350.4 C334.4,347.6 340.1,343.6 346.7,341.2 C353.3,338.8 361.5,336.5 368.2,336.0 C374.9,335.5 380.0,336.6 386.6,338.2 C393.2,339.8 400.3,343.0 408.0,345.8 C415.7,348.6 424.9,352.1 432.6,355.0 C440.3,357.9 446.8,361.6 454.0,363.3 C461.2,365.0 468.9,364.8 475.6,365.2 C482.3,365.6 490.9,365.7 494.0,365.8" fill="none" stroke="#1f8a1f" stroke-width="2.6" stroke-linejoin="round"/>
<path d="M40.0,367.3 C50.2,366.9 86.0,366.2 101.3,365.2 C116.6,364.2 123.8,362.9 132.0,361.2 C140.2,359.5 144.3,356.8 150.4,355.0 C156.5,353.2 162.7,350.9 168.8,350.4 C174.9,349.9 180.0,351.1 187.2,352.0 C194.4,352.9 203.6,355.0 211.8,356.0 C220.0,357.0 230.2,359.0 236.3,358.1 C242.4,357.2 245.0,354.8 248.6,350.4 C252.2,346.0 254.6,337.0 257.8,332.0 C261.0,327.0 264.0,320.4 267.6,320.4 C271.2,320.4 275.8,327.0 279.3,332.0 C282.8,337.0 284.9,346.0 288.5,350.4 C292.1,354.8 295.1,357.7 300.7,358.1 C306.3,358.5 315.5,354.8 322.2,352.9 C328.9,351.0 333.4,347.2 340.6,346.7 C347.8,346.2 356.5,348.4 365.2,349.8 C373.9,351.2 383.1,352.9 392.8,355.0 C402.5,357.1 413.2,360.9 423.4,362.7 C433.6,364.5 445.4,365.0 454.1,365.8 C462.8,366.6 472.0,367.1 475.6,367.3" fill="none" stroke="#8a2be2" stroke-width="2.6" stroke-linejoin="round"/>
<path d="M40.0,368.2 C55.3,367.8 110.5,366.7 132.0,365.8 C153.5,364.9 158.6,364.0 168.8,362.7 C179.0,361.4 184.2,359.7 193.4,358.1 C202.6,356.5 215.8,355.2 224.0,352.9 C232.2,350.6 237.4,349.8 242.5,344.3 C247.6,338.8 251.4,329.0 254.7,319.8 C258.0,310.6 260.2,296.3 262.4,289.0 C264.5,281.7 265.8,275.9 267.6,275.9 C269.4,275.9 270.9,281.7 273.1,289.0 C275.3,296.3 277.7,310.6 280.8,319.8 C283.9,329.0 286.6,338.8 291.5,344.3 C296.4,349.8 302.8,351.4 310.0,352.9 C317.2,354.4 326.3,351.9 334.5,353.5 C342.7,355.1 346.8,360.9 359.0,362.7 C371.2,364.5 388.6,363.6 408.0,364.2 C427.4,364.8 464.3,366.0 475.6,366.4" fill="none" stroke="#ff8c2a" stroke-width="2.6" stroke-linejoin="round"/>
<line x1="573.3" y1="219.0" x2="573.3" y2="369.0" stroke="#a0a0a0" stroke-width="1" stroke-dasharray="5,3,1.5,3"/>
<line x1="638.3" y1="219.0" x2="638.3" y2="369.0" stroke="#a0a0a0" stroke-width="1" stroke-dasharray="5,3,1.5,3"/>
<line x1="703.3" y1="219.0" x2="703.3" y2="369.0" stroke="#a0a0a0" stroke-width="1" stroke-dasharray="5,3,1.5,3"/>
<line x1="768.3" y1="219.0" x2="768.3" y2="369.0" stroke="#a0a0a0" stroke-width="1" stroke-dasharray="5,3,1.5,3"/>
<line x1="833.3" y1="219.0" x2="833.3" y2="369.0" stroke="#a0a0a0" stroke-width="1" stroke-dasharray="5,3,1.5,3"/>
<line x1="898.3" y1="219.0" x2="898.3" y2="369.0" stroke="#a0a0a0" stroke-width="1" stroke-dasharray="5,3,1.5,3"/>
<line x1="963.3" y1="219.0" x2="963.3" y2="369.0" stroke="#a0a0a0" stroke-width="1" stroke-dasharray="5,3,1.5,3"/>
<line x1="541.0" y1="294.0" x2="996.0" y2="294.0" stroke="#a0a0a0" stroke-width="1" stroke-dasharray="5,3,1.5,3"/>
<path d="M543.0 368.4h1.56V369h-1.56zM545.6 368.3h1.56V369h-1.56zM548.2 368.2h1.56V369h-1.56zM550.8 368.5h1.56V369h-1.56zM553.4 368.0h1.56V369h-1.56zM556.0 368.0h1.56V369h-1.56zM558.6 368.2h1.56V369h-1.56zM561.2 368.1h1.56V369h-1.56zM563.8 368.3h1.56V369h-1.56zM566.4 368.1h1.56V369h-1.56zM569.0 367.8h1.56V369h-1.56zM571.6 367.7h1.56V369h-1.56zM574.2 367.8h1.56V369h-1.56zM576.8 368.2h1.56V369h-1.56zM579.4 368.0h1.56V369h-1.56zM582.0 367.4h1.56V369h-1.56zM584.6 367.8h1.56V369h-1.56zM587.2 367.6h1.56V369h-1.56zM589.8 367.8h1.56V369h-1.56zM592.4 367.4h1.56V369h-1.56zM595.0 367.1h1.56V369h-1.56zM597.6 367.6h1.56V369h-1.56zM600.2 367.2h1.56V369h-1.56zM602.8 367.2h1.56V369h-1.56zM605.4 367.4h1.56V369h-1.56zM608.0 366.7h1.56V369h-1.56zM610.6 365.7h1.56V369h-1.56zM613.2 366.3h1.56V369h-1.56zM615.8 364.2h1.56V369h-1.56zM618.4 363.0h1.56V369h-1.56zM621.0 364.6h1.56V369h-1.56zM623.6 366.1h1.56V369h-1.56zM626.2 365.0h1.56V369h-1.56zM628.8 364.7h1.56V369h-1.56zM631.4 365.0h1.56V369h-1.56zM634.0 364.8h1.56V369h-1.56zM636.6 362.2h1.56V369h-1.56zM639.2 363.8h1.56V369h-1.56zM641.8 362.9h1.56V369h-1.56zM644.4 364.0h1.56V369h-1.56zM647.0 360.5h1.56V369h-1.56zM649.6 363.3h1.56V369h-1.56zM652.2 362.6h1.56V369h-1.56zM654.8 359.2h1.56V369h-1.56zM657.4 360.1h1.56V369h-1.56zM660.0 358.3h1.56V369h-1.56zM662.6 359.1h1.56V369h-1.56zM665.2 360.2h1.56V369h-1.56zM667.8 355.2h1.56V369h-1.56zM670.4 355.4h1.56V369h-1.56zM673.0 350.9h1.56V369h-1.56zM675.6 354.9h1.56V369h-1.56zM678.2 352.3h1.56V369h-1.56zM680.8 352.8h1.56V369h-1.56zM683.4 356.2h1.56V369h-1.56zM686.0 355.6h1.56V369h-1.56zM688.6 344.5h1.56V369h-1.56zM691.2 343.8h1.56V369h-1.56zM693.8 343.2h1.56V369h-1.56zM696.4 349.4h1.56V369h-1.56zM699.0 346.9h1.56V369h-1.56zM701.6 338.9h1.56V369h-1.56zM704.2 316.3h1.56V369h-1.56zM706.8 308.8h1.56V369h-1.56zM709.4 314.6h1.56V369h-1.56zM712.0 302.5h1.56V369h-1.56zM714.6 295.6h1.56V369h-1.56zM717.2 290.8h1.56V369h-1.56zM719.8 259.7h1.56V369h-1.56zM722.4 289.4h1.56V369h-1.56zM725.0 314.5h1.56V369h-1.56zM727.6 294.4h1.56V369h-1.56zM730.2 318.4h1.56V369h-1.56zM732.8 308.7h1.56V369h-1.56zM735.4 314.5h1.56V369h-1.56zM738.0 325.5h1.56V369h-1.56zM740.6 329.7h1.56V369h-1.56zM743.2 316.2h1.56V369h-1.56zM745.8 328.8h1.56V369h-1.56zM748.4 318.7h1.56V369h-1.56zM751.0 335.5h1.56V369h-1.56zM753.6 327.7h1.56V369h-1.56zM756.2 320.2h1.56V369h-1.56zM758.8 313.3h1.56V369h-1.56zM761.4 321.4h1.56V369h-1.56zM764.0 307.6h1.56V369h-1.56zM766.6 319.0h1.56V369h-1.56zM769.2 300.3h1.56V369h-1.56zM771.8 295.1h1.56V369h-1.56zM774.4 309.6h1.56V369h-1.56zM777.0 321.0h1.56V369h-1.56zM779.6 291.9h1.56V369h-1.56zM782.2 302.7h1.56V369h-1.56zM784.8 303.1h1.56V369h-1.56zM787.4 303.2h1.56V369h-1.56zM790.0 308.8h1.56V369h-1.56zM792.6 311.9h1.56V369h-1.56zM795.2 313.2h1.56V369h-1.56zM797.8 329.8h1.56V369h-1.56zM800.4 312.8h1.56V369h-1.56zM803.0 317.7h1.56V369h-1.56zM805.6 275.4h1.56V369h-1.56zM808.2 295.7h1.56V369h-1.56zM810.8 308.7h1.56V369h-1.56zM813.4 291.5h1.56V369h-1.56zM816.0 273.5h1.56V369h-1.56zM818.6 280.6h1.56V369h-1.56zM821.2 282.4h1.56V369h-1.56zM823.8 308.3h1.56V369h-1.56zM826.4 326.2h1.56V369h-1.56zM829.0 325.4h1.56V369h-1.56zM831.6 338.6h1.56V369h-1.56zM834.2 326.4h1.56V369h-1.56zM836.8 323.7h1.56V369h-1.56zM839.4 338.3h1.56V369h-1.56zM842.0 340.6h1.56V369h-1.56zM844.6 340.1h1.56V369h-1.56zM847.2 341.9h1.56V369h-1.56zM849.8 348.8h1.56V369h-1.56zM852.4 346.8h1.56V369h-1.56zM855.0 343.4h1.56V369h-1.56zM857.6 348.6h1.56V369h-1.56zM860.2 339.6h1.56V369h-1.56zM862.8 355.7h1.56V369h-1.56zM865.4 351.4h1.56V369h-1.56zM868.0 353.2h1.56V369h-1.56zM870.6 357.1h1.56V369h-1.56zM873.2 359.8h1.56V369h-1.56zM875.8 357.0h1.56V369h-1.56zM878.4 357.8h1.56V369h-1.56zM881.0 360.3h1.56V369h-1.56zM883.6 359.2h1.56V369h-1.56zM886.2 362.3h1.56V369h-1.56zM888.8 360.7h1.56V369h-1.56zM891.4 363.9h1.56V369h-1.56zM894.0 364.9h1.56V369h-1.56zM896.6 364.5h1.56V369h-1.56zM899.2 364.1h1.56V369h-1.56zM901.8 366.2h1.56V369h-1.56zM904.4 365.8h1.56V369h-1.56zM907.0 364.9h1.56V369h-1.56zM909.6 366.1h1.56V369h-1.56zM912.2 364.9h1.56V369h-1.56zM914.8 365.9h1.56V369h-1.56zM917.4 366.0h1.56V369h-1.56zM920.0 366.1h1.56V369h-1.56zM922.6 366.3h1.56V369h-1.56zM925.2 366.8h1.56V369h-1.56zM927.8 367.3h1.56V369h-1.56zM930.4 367.3h1.56V369h-1.56zM933.0 367.3h1.56V369h-1.56zM935.6 368.1h1.56V369h-1.56zM938.2 367.9h1.56V369h-1.56zM940.8 367.8h1.56V369h-1.56zM943.4 368.3h1.56V369h-1.56zM946.0 368.1h1.56V369h-1.56zM948.6 368.0h1.56V369h-1.56zM951.2 368.2h1.56V369h-1.56zM953.8 368.3h1.56V369h-1.56zM956.4 368.1h1.56V369h-1.56zM959.0 368.4h1.56V369h-1.56zM964.2 368.4h1.56V369h-1.56zM969.4 368.4h1.56V369h-1.56z" fill="#a0d8a0" fill-opacity="0.7"/>
<path d="M543.0 366.8h1.56V369h-1.56zM545.6 366.5h1.56V369h-1.56zM548.2 366.9h1.56V369h-1.56zM550.8 365.2h1.56V369h-1.56zM553.4 365.3h1.56V369h-1.56zM556.0 365.6h1.56V369h-1.56zM558.6 366.2h1.56V369h-1.56zM561.2 366.0h1.56V369h-1.56zM563.8 364.4h1.56V369h-1.56zM566.4 364.3h1.56V369h-1.56zM569.0 365.3h1.56V369h-1.56zM571.6 364.1h1.56V369h-1.56zM574.2 361.9h1.56V369h-1.56zM576.8 364.1h1.56V369h-1.56zM579.4 364.2h1.56V369h-1.56zM582.0 362.7h1.56V369h-1.56zM584.6 362.5h1.56V369h-1.56zM587.2 363.6h1.56V369h-1.56zM589.8 362.2h1.56V369h-1.56zM592.4 362.1h1.56V369h-1.56zM595.0 363.2h1.56V369h-1.56zM597.6 362.7h1.56V369h-1.56zM600.2 364.1h1.56V369h-1.56zM602.8 359.1h1.56V369h-1.56zM605.4 364.1h1.56V369h-1.56zM608.0 363.0h1.56V369h-1.56zM610.6 361.9h1.56V369h-1.56zM613.2 359.3h1.56V369h-1.56zM615.8 361.6h1.56V369h-1.56zM618.4 360.3h1.56V369h-1.56zM621.0 361.4h1.56V369h-1.56zM623.6 361.3h1.56V369h-1.56zM626.2 358.0h1.56V369h-1.56zM628.8 362.3h1.56V369h-1.56zM631.4 358.1h1.56V369h-1.56zM634.0 360.7h1.56V369h-1.56zM636.6 360.5h1.56V369h-1.56zM639.2 361.0h1.56V369h-1.56zM641.8 354.6h1.56V369h-1.56zM644.4 355.0h1.56V369h-1.56zM647.0 359.9h1.56V369h-1.56zM649.6 351.9h1.56V369h-1.56zM652.2 355.8h1.56V369h-1.56zM654.8 353.4h1.56V369h-1.56zM657.4 355.9h1.56V369h-1.56zM660.0 354.1h1.56V369h-1.56zM662.6 354.3h1.56V369h-1.56zM665.2 350.1h1.56V369h-1.56zM667.8 357.0h1.56V369h-1.56zM670.4 349.2h1.56V369h-1.56zM673.0 349.3h1.56V369h-1.56zM675.6 346.2h1.56V369h-1.56zM678.2 349.6h1.56V369h-1.56zM680.8 353.5h1.56V369h-1.56zM683.4 341.4h1.56V369h-1.56zM686.0 348.2h1.56V369h-1.56zM688.6 341.5h1.56V369h-1.56zM691.2 339.2h1.56V369h-1.56zM693.8 316.9h1.56V369h-1.56zM696.4 304.9h1.56V369h-1.56zM699.0 324.9h1.56V369h-1.56zM701.6 329.4h1.56V369h-1.56zM704.2 320.2h1.56V369h-1.56zM706.8 297.0h1.56V369h-1.56zM709.4 324.4h1.56V369h-1.56zM712.0 316.1h1.56V369h-1.56zM714.6 316.0h1.56V369h-1.56zM717.2 304.0h1.56V369h-1.56zM719.8 288.3h1.56V369h-1.56zM722.4 285.2h1.56V369h-1.56zM725.0 290.7h1.56V369h-1.56zM727.6 297.1h1.56V369h-1.56zM730.2 292.2h1.56V369h-1.56zM732.8 321.6h1.56V369h-1.56zM735.4 300.4h1.56V369h-1.56zM738.0 321.0h1.56V369h-1.56zM740.6 308.7h1.56V369h-1.56zM743.2 310.7h1.56V369h-1.56zM745.8 316.8h1.56V369h-1.56zM748.4 325.0h1.56V369h-1.56zM751.0 278.7h1.56V369h-1.56zM753.6 294.7h1.56V369h-1.56zM756.2 281.3h1.56V369h-1.56zM758.8 289.0h1.56V369h-1.56zM761.4 282.1h1.56V369h-1.56zM764.0 316.6h1.56V369h-1.56zM766.6 288.6h1.56V369h-1.56zM769.2 286.4h1.56V369h-1.56zM771.8 295.0h1.56V369h-1.56zM774.4 263.1h1.56V369h-1.56zM777.0 293.5h1.56V369h-1.56zM779.6 299.5h1.56V369h-1.56zM782.2 300.9h1.56V369h-1.56zM784.8 304.5h1.56V369h-1.56zM787.4 314.4h1.56V369h-1.56zM790.0 308.7h1.56V369h-1.56zM792.6 319.4h1.56V369h-1.56zM795.2 320.5h1.56V369h-1.56zM797.8 312.2h1.56V369h-1.56zM800.4 301.4h1.56V369h-1.56zM803.0 324.3h1.56V369h-1.56zM805.6 300.9h1.56V369h-1.56zM808.2 326.4h1.56V369h-1.56zM810.8 272.7h1.56V369h-1.56zM813.4 305.2h1.56V369h-1.56zM816.0 297.0h1.56V369h-1.56zM818.6 318.1h1.56V369h-1.56zM821.2 270.1h1.56V369h-1.56zM823.8 325.0h1.56V369h-1.56zM826.4 301.1h1.56V369h-1.56zM829.0 318.4h1.56V369h-1.56zM831.6 296.0h1.56V369h-1.56zM834.2 315.4h1.56V369h-1.56zM836.8 334.6h1.56V369h-1.56zM839.4 335.7h1.56V369h-1.56zM842.0 343.2h1.56V369h-1.56zM844.6 345.2h1.56V369h-1.56zM847.2 342.3h1.56V369h-1.56zM849.8 344.4h1.56V369h-1.56zM852.4 337.5h1.56V369h-1.56zM855.0 351.3h1.56V369h-1.56zM857.6 350.8h1.56V369h-1.56zM860.2 347.5h1.56V369h-1.56zM862.8 356.2h1.56V369h-1.56zM865.4 356.6h1.56V369h-1.56zM868.0 353.5h1.56V369h-1.56zM870.6 357.1h1.56V369h-1.56zM873.2 360.4h1.56V369h-1.56zM875.8 360.6h1.56V369h-1.56zM878.4 362.4h1.56V369h-1.56zM881.0 361.5h1.56V369h-1.56zM883.6 363.4h1.56V369h-1.56zM886.2 362.4h1.56V369h-1.56zM888.8 363.1h1.56V369h-1.56zM891.4 365.1h1.56V369h-1.56zM894.0 363.1h1.56V369h-1.56zM896.6 363.1h1.56V369h-1.56zM899.2 364.2h1.56V369h-1.56zM901.8 363.0h1.56V369h-1.56zM904.4 365.1h1.56V369h-1.56zM907.0 365.8h1.56V369h-1.56zM909.6 365.7h1.56V369h-1.56zM912.2 365.8h1.56V369h-1.56zM914.8 364.9h1.56V369h-1.56zM917.4 365.4h1.56V369h-1.56zM920.0 365.4h1.56V369h-1.56zM922.6 366.3h1.56V369h-1.56zM925.2 366.5h1.56V369h-1.56zM927.8 366.5h1.56V369h-1.56zM930.4 367.4h1.56V369h-1.56zM933.0 366.9h1.56V369h-1.56zM935.6 367.1h1.56V369h-1.56zM938.2 367.5h1.56V369h-1.56zM940.8 367.5h1.56V369h-1.56zM943.4 367.1h1.56V369h-1.56zM946.0 367.8h1.56V369h-1.56zM948.6 367.8h1.56V369h-1.56zM951.2 367.5h1.56V369h-1.56zM953.8 368.0h1.56V369h-1.56zM956.4 367.9h1.56V369h-1.56zM959.0 367.9h1.56V369h-1.56zM961.6 368.4h1.56V369h-1.56zM964.2 368.2h1.56V369h-1.56zM966.8 368.4h1.56V369h-1.56zM969.4 368.4h1.56V369h-1.56zM974.6 368.4h1.56V369h-1.56z" fill="#c890e8" fill-opacity="0.6"/>
<path d="M543.0 368.3h1.56V369h-1.56zM545.6 368.4h1.56V369h-1.56zM550.8 368.2h1.56V369h-1.56zM553.4 368.0h1.56V369h-1.56zM556.0 367.9h1.56V369h-1.56zM558.6 367.4h1.56V369h-1.56zM561.2 367.4h1.56V369h-1.56zM563.8 367.6h1.56V369h-1.56zM566.4 366.7h1.56V369h-1.56zM569.0 366.5h1.56V369h-1.56zM571.6 366.3h1.56V369h-1.56zM574.2 367.1h1.56V369h-1.56zM576.8 365.9h1.56V369h-1.56zM579.4 366.9h1.56V369h-1.56zM582.0 365.8h1.56V369h-1.56zM584.6 365.0h1.56V369h-1.56zM587.2 366.3h1.56V369h-1.56zM589.8 365.8h1.56V369h-1.56zM592.4 364.4h1.56V369h-1.56zM595.0 364.8h1.56V369h-1.56zM597.6 364.2h1.56V369h-1.56zM600.2 365.9h1.56V369h-1.56zM602.8 364.0h1.56V369h-1.56zM605.4 362.5h1.56V369h-1.56zM608.0 362.2h1.56V369h-1.56zM610.6 364.4h1.56V369h-1.56zM613.2 363.4h1.56V369h-1.56zM615.8 362.3h1.56V369h-1.56zM618.4 363.1h1.56V369h-1.56zM621.0 358.8h1.56V369h-1.56zM623.6 357.8h1.56V369h-1.56zM626.2 361.5h1.56V369h-1.56zM628.8 359.6h1.56V369h-1.56zM631.4 360.5h1.56V369h-1.56zM634.0 361.4h1.56V369h-1.56zM636.6 361.3h1.56V369h-1.56zM639.2 356.2h1.56V369h-1.56zM641.8 353.7h1.56V369h-1.56zM644.4 352.8h1.56V369h-1.56zM647.0 354.4h1.56V369h-1.56zM649.6 355.5h1.56V369h-1.56zM652.2 351.8h1.56V369h-1.56zM654.8 354.0h1.56V369h-1.56zM657.4 350.8h1.56V369h-1.56zM660.0 349.8h1.56V369h-1.56zM662.6 351.6h1.56V369h-1.56zM665.2 351.4h1.56V369h-1.56zM667.8 354.3h1.56V369h-1.56zM670.4 351.0h1.56V369h-1.56zM673.0 349.2h1.56V369h-1.56zM675.6 351.0h1.56V369h-1.56zM678.2 342.1h1.56V369h-1.56zM680.8 349.5h1.56V369h-1.56zM683.4 345.5h1.56V369h-1.56zM686.0 345.5h1.56V369h-1.56zM688.6 337.2h1.56V369h-1.56zM691.2 337.9h1.56V369h-1.56zM693.8 331.5h1.56V369h-1.56zM696.4 335.6h1.56V369h-1.56zM699.0 338.0h1.56V369h-1.56zM701.6 328.4h1.56V369h-1.56zM704.2 331.2h1.56V369h-1.56zM706.8 325.2h1.56V369h-1.56zM709.4 340.7h1.56V369h-1.56zM712.0 337.5h1.56V369h-1.56zM714.6 329.8h1.56V369h-1.56zM717.2 304.5h1.56V369h-1.56zM719.8 331.5h1.56V369h-1.56zM722.4 318.1h1.56V369h-1.56zM725.0 311.3h1.56V369h-1.56zM727.6 318.2h1.56V369h-1.56zM730.2 328.9h1.56V369h-1.56zM732.8 326.4h1.56V369h-1.56zM735.4 310.5h1.56V369h-1.56zM738.0 296.9h1.56V369h-1.56zM740.6 325.7h1.56V369h-1.56zM743.2 312.8h1.56V369h-1.56zM745.8 306.1h1.56V369h-1.56zM748.4 323.0h1.56V369h-1.56zM751.0 323.9h1.56V369h-1.56zM753.6 293.1h1.56V369h-1.56zM756.2 293.3h1.56V369h-1.56zM758.8 301.7h1.56V369h-1.56zM761.4 322.6h1.56V369h-1.56zM764.0 296.2h1.56V369h-1.56zM766.6 301.9h1.56V369h-1.56zM769.2 320.0h1.56V369h-1.56zM771.8 327.9h1.56V369h-1.56zM774.4 296.6h1.56V369h-1.56zM777.0 282.6h1.56V369h-1.56zM779.6 299.0h1.56V369h-1.56zM782.2 294.4h1.56V369h-1.56zM784.8 280.2h1.56V369h-1.56zM787.4 324.1h1.56V369h-1.56zM790.0 304.8h1.56V369h-1.56zM792.6 327.4h1.56V369h-1.56zM795.2 306.7h1.56V369h-1.56zM797.8 298.0h1.56V369h-1.56zM800.4 301.3h1.56V369h-1.56zM803.0 312.6h1.56V369h-1.56zM805.6 311.7h1.56V369h-1.56zM808.2 319.5h1.56V369h-1.56zM810.8 314.0h1.56V369h-1.56zM813.4 336.3h1.56V369h-1.56zM816.0 339.0h1.56V369h-1.56zM818.6 337.7h1.56V369h-1.56zM821.2 339.4h1.56V369h-1.56zM823.8 335.9h1.56V369h-1.56zM826.4 341.0h1.56V369h-1.56zM829.0 329.4h1.56V369h-1.56zM831.6 345.1h1.56V369h-1.56zM834.2 345.3h1.56V369h-1.56zM836.8 338.2h1.56V369h-1.56zM839.4 349.1h1.56V369h-1.56zM842.0 348.0h1.56V369h-1.56zM844.6 349.5h1.56V369h-1.56zM847.2 349.5h1.56V369h-1.56zM849.8 349.3h1.56V369h-1.56zM852.4 349.6h1.56V369h-1.56zM855.0 352.1h1.56V369h-1.56zM857.6 357.5h1.56V369h-1.56zM860.2 354.1h1.56V369h-1.56zM862.8 360.0h1.56V369h-1.56zM865.4 360.3h1.56V369h-1.56zM868.0 361.1h1.56V369h-1.56zM870.6 362.3h1.56V369h-1.56zM873.2 359.2h1.56V369h-1.56zM875.8 361.2h1.56V369h-1.56zM878.4 362.6h1.56V369h-1.56zM881.0 360.9h1.56V369h-1.56zM883.6 363.4h1.56V369h-1.56zM886.2 363.8h1.56V369h-1.56zM888.8 358.7h1.56V369h-1.56zM891.4 360.9h1.56V369h-1.56zM894.0 362.1h1.56V369h-1.56zM896.6 362.3h1.56V369h-1.56zM899.2 363.3h1.56V369h-1.56zM901.8 362.0h1.56V369h-1.56zM904.4 362.4h1.56V369h-1.56zM907.0 363.3h1.56V369h-1.56zM909.6 362.8h1.56V369h-1.56zM912.2 362.4h1.56V369h-1.56zM914.8 363.6h1.56V369h-1.56zM917.4 365.4h1.56V369h-1.56zM920.0 365.7h1.56V369h-1.56zM922.6 365.5h1.56V369h-1.56zM925.2 365.8h1.56V369h-1.56zM927.8 363.3h1.56V369h-1.56zM930.4 362.6h1.56V369h-1.56zM933.0 364.9h1.56V369h-1.56zM935.6 365.1h1.56V369h-1.56zM938.2 362.8h1.56V369h-1.56zM940.8 364.5h1.56V369h-1.56zM943.4 365.7h1.56V369h-1.56zM946.0 365.6h1.56V369h-1.56zM948.6 365.2h1.56V369h-1.56zM951.2 364.9h1.56V369h-1.56zM953.8 365.4h1.56V369h-1.56zM956.4 366.3h1.56V369h-1.56zM959.0 366.4h1.56V369h-1.56zM961.6 365.8h1.56V369h-1.56zM964.2 366.8h1.56V369h-1.56zM966.8 368.3h1.56V369h-1.56z" fill="#ffd0a0" fill-opacity="0.5"/>
<path d="M543.0 368.5h2.08V369h-2.08zM545.6 368.4h2.08V369h-2.08zM548.2 368.4h2.08V369h-2.08zM550.8 368.4h2.08V369h-2.08zM553.4 368.3h2.08V369h-2.08zM556.0 368.3h2.08V369h-2.08zM558.6 368.2h2.08V369h-2.08zM561.2 368.1h2.08V369h-2.08zM563.8 368.2h2.08V369h-2.08zM566.4 368.1h2.08V369h-2.08zM569.0 368.1h2.08V369h-2.08zM571.6 368.0h2.08V369h-2.08zM574.2 367.9h2.08V369h-2.08zM576.8 367.8h2.08V369h-2.08zM579.4 367.9h2.08V369h-2.08zM582.0 367.8h2.08V369h-2.08zM584.6 367.7h2.08V369h-2.08zM587.2 367.6h2.08V369h-2.08zM589.8 367.6h2.08V369h-2.08zM592.4 367.6h2.08V369h-2.08zM595.0 367.5h2.08V369h-2.08zM597.6 367.6h2.08V369h-2.08zM600.2 367.3h2.08V369h-2.08zM602.8 367.2h2.08V369h-2.08zM605.4 367.0h2.08V369h-2.08zM608.0 366.7h2.08V369h-2.08zM610.6 366.4h2.08V369h-2.08zM613.2 365.9h2.08V369h-2.08zM615.8 366.0h2.08V369h-2.08zM618.4 365.5h2.08V369h-2.08zM621.0 365.3h2.08V369h-2.08zM623.6 365.2h2.08V369h-2.08zM626.2 364.8h2.08V369h-2.08zM628.8 364.9h2.08V369h-2.08zM631.4 364.7h2.08V369h-2.08zM634.0 364.3h2.08V369h-2.08zM636.6 363.7h2.08V369h-2.08zM639.2 363.6h2.08V369h-2.08zM641.8 363.5h2.08V369h-2.08zM644.4 362.6h2.08V369h-2.08zM647.0 362.2h2.08V369h-2.08zM649.6 361.7h2.08V369h-2.08zM652.2 360.5h2.08V369h-2.08zM654.8 360.0h2.08V369h-2.08zM657.4 360.0h2.08V369h-2.08zM660.0 358.9h2.08V369h-2.08zM662.6 358.4h2.08V369h-2.08zM665.2 357.2h2.08V369h-2.08zM667.8 356.8h2.08V369h-2.08zM670.4 356.9h2.08V369h-2.08zM673.0 354.6h2.08V369h-2.08zM675.6 355.7h2.08V369h-2.08zM678.2 354.2h2.08V369h-2.08zM680.8 352.5h2.08V369h-2.08zM683.4 353.3h2.08V369h-2.08zM686.0 351.3h2.08V369h-2.08zM688.6 351.0h2.08V369h-2.08zM691.2 347.3h2.08V369h-2.08zM693.8 345.2h2.08V369h-2.08zM696.4 344.2h2.08V369h-2.08zM699.0 340.7h2.08V369h-2.08zM701.6 337.3h2.08V369h-2.08zM704.2 332.9h2.08V369h-2.08zM706.8 331.9h2.08V369h-2.08zM709.4 330.3h2.08V369h-2.08zM712.0 329.5h2.08V369h-2.08zM714.6 325.3h2.08V369h-2.08zM717.2 322.9h2.08V369h-2.08zM719.8 324.5h2.08V369h-2.08zM722.4 321.5h2.08V369h-2.08zM725.0 324.4h2.08V369h-2.08zM727.6 317.8h2.08V369h-2.08zM730.2 316.6h2.08V369h-2.08zM732.8 315.8h2.08V369h-2.08zM735.4 319.3h2.08V369h-2.08zM738.0 325.4h2.08V369h-2.08zM740.6 326.7h2.08V369h-2.08zM743.2 324.5h2.08V369h-2.08zM745.8 328.7h2.08V369h-2.08zM748.4 325.3h2.08V369h-2.08zM751.0 326.3h2.08V369h-2.08zM753.6 325.5h2.08V369h-2.08zM756.2 324.9h2.08V369h-2.08zM758.8 318.2h2.08V369h-2.08zM761.4 322.0h2.08V369h-2.08zM764.0 319.9h2.08V369h-2.08zM766.6 317.6h2.08V369h-2.08zM769.2 312.3h2.08V369h-2.08zM771.8 318.6h2.08V369h-2.08zM774.4 314.8h2.08V369h-2.08zM777.0 313.3h2.08V369h-2.08zM779.6 309.8h2.08V369h-2.08zM782.2 313.4h2.08V369h-2.08zM784.8 316.1h2.08V369h-2.08zM787.4 323.5h2.08V369h-2.08zM790.0 323.1h2.08V369h-2.08zM792.6 322.0h2.08V369h-2.08zM795.2 316.9h2.08V369h-2.08zM797.8 314.0h2.08V369h-2.08zM800.4 320.1h2.08V369h-2.08zM803.0 321.3h2.08V369h-2.08zM805.6 322.3h2.08V369h-2.08zM808.2 324.2h2.08V369h-2.08zM810.8 324.4h2.08V369h-2.08zM813.4 325.8h2.08V369h-2.08zM816.0 330.0h2.08V369h-2.08zM818.6 333.6h2.08V369h-2.08zM821.2 333.1h2.08V369h-2.08zM823.8 335.3h2.08V369h-2.08zM826.4 336.0h2.08V369h-2.08zM829.0 335.9h2.08V369h-2.08zM831.6 339.0h2.08V369h-2.08zM834.2 341.6h2.08V369h-2.08zM836.8 343.0h2.08V369h-2.08zM839.4 344.6h2.08V369h-2.08zM842.0 348.6h2.08V369h-2.08zM844.6 347.6h2.08V369h-2.08zM847.2 349.8h2.08V369h-2.08zM849.8 351.1h2.08V369h-2.08zM852.4 352.3h2.08V369h-2.08zM855.0 354.3h2.08V369h-2.08zM857.6 355.3h2.08V369h-2.08zM860.2 356.8h2.08V369h-2.08zM862.8 356.7h2.08V369h-2.08zM865.4 358.7h2.08V369h-2.08zM868.0 359.6h2.08V369h-2.08zM870.6 360.3h2.08V369h-2.08zM873.2 361.3h2.08V369h-2.08zM875.8 361.9h2.08V369h-2.08zM878.4 362.4h2.08V369h-2.08zM881.0 363.4h2.08V369h-2.08zM883.6 363.7h2.08V369h-2.08zM886.2 364.0h2.08V369h-2.08zM888.8 364.0h2.08V369h-2.08zM891.4 364.4h2.08V369h-2.08zM894.0 364.0h2.08V369h-2.08zM896.6 364.5h2.08V369h-2.08zM899.2 365.3h2.08V369h-2.08zM901.8 365.4h2.08V369h-2.08zM904.4 365.5h2.08V369h-2.08zM907.0 365.7h2.08V369h-2.08zM909.6 366.0h2.08V369h-2.08zM912.2 365.8h2.08V369h-2.08zM914.8 366.0h2.08V369h-2.08zM917.4 366.4h2.08V369h-2.08zM920.0 366.6h2.08V369h-2.08zM922.6 366.9h2.08V369h-2.08zM925.2 367.1h2.08V369h-2.08zM927.8 367.2h2.08V369h-2.08zM930.4 367.4h2.08V369h-2.08zM933.0 367.5h2.08V369h-2.08zM935.6 367.8h2.08V369h-2.08zM938.2 368.0h2.08V369h-2.08zM940.8 368.0h2.08V369h-2.08zM943.4 368.1h2.08V369h-2.08zM946.0 368.2h2.08V369h-2.08zM948.6 368.2h2.08V369h-2.08zM951.2 368.3h2.08V369h-2.08zM953.8 368.3h2.08V369h-2.08zM956.4 368.3h2.08V369h-2.08zM959.0 368.3h2.08V369h-2.08zM961.6 368.4h2.08V369h-2.08zM964.2 368.5h2.08V369h-2.08z" fill="#a08ca0" fill-opacity="0.92"/>
<path d="M542.0,366.7 C551.7,366.1 584.8,364.4 600.0,363.3 C615.2,362.2 623.8,361.4 633.3,360.0 C642.8,358.6 648.9,356.4 656.7,355.0 C664.5,353.6 674.5,354.5 680.0,351.7 C685.5,348.9 687.2,342.8 690.0,338.0 C692.8,333.2 693.4,327.4 696.7,322.7 C700.0,318.0 705.5,312.6 710.0,310.0 C714.5,307.4 719.8,306.5 724.0,307.3 C728.2,308.1 731.2,312.2 735.0,315.0 C738.8,317.8 742.9,324.8 746.7,324.0 C750.5,323.2 754.4,314.4 758.0,310.0 C761.6,305.6 765.0,297.7 768.3,297.7 C771.6,297.7 774.4,305.7 778.0,310.0 C781.6,314.3 786.0,322.3 790.0,323.3 C794.0,324.3 798.1,318.3 802.0,316.0 C805.9,313.7 810.0,310.0 813.3,309.3 C816.6,308.6 819.2,310.5 822.0,312.0 C824.8,313.5 827.0,314.5 830.0,318.3 C833.0,322.1 836.1,330.0 840.0,335.0 C843.9,340.0 848.3,344.5 853.3,348.3 C858.3,352.1 865.0,355.5 870.0,358.0 C875.0,360.5 873.3,361.8 883.3,363.3 C893.3,364.8 916.7,366.2 930.0,367.0 C943.3,367.8 952.3,368.0 963.3,368.3 C974.3,368.6 990.5,368.9 996.0,369.0" fill="none" stroke="#8a2be2" stroke-width="2.6" stroke-linejoin="round"/>
<path d="M542.0,368.5 C551.7,368.3 583.1,368.4 600.0,367.5 C616.9,366.6 631.6,365.1 643.3,363.3 C655.0,361.6 662.8,358.9 670.0,357.0 C677.2,355.1 681.7,354.0 686.7,351.7 C691.7,349.4 696.1,348.3 700.0,343.0 C703.9,337.7 707.5,327.7 710.0,320.0 C712.5,312.3 713.3,302.8 715.0,297.0 C716.7,291.2 718.3,285.2 720.0,285.0 C721.7,284.8 723.0,290.5 725.0,296.0 C727.0,301.5 729.2,313.0 732.0,318.0 C734.8,323.0 739.0,324.8 742.0,326.0 C745.0,327.2 746.2,326.3 750.0,325.0 C753.8,323.7 759.9,320.4 765.0,318.0 C770.1,315.6 775.4,310.4 780.7,310.7 C786.0,311.0 792.5,320.4 796.7,320.0 C800.9,319.6 803.3,313.3 806.0,308.0 C808.7,302.7 810.8,292.5 813.0,288.0 C815.2,283.5 817.3,279.0 819.3,281.0 C821.3,283.0 822.7,291.3 825.0,300.0 C827.3,308.7 829.7,325.2 833.3,333.0 C836.9,340.8 841.1,343.3 846.7,346.7 C852.3,350.1 861.7,351.1 866.7,353.3 C871.7,355.5 871.2,358.1 876.7,360.0 C882.2,361.9 889.5,363.7 900.0,365.0 C910.5,366.3 924.0,367.3 940.0,368.0 C956.0,368.7 986.7,368.8 996.0,369.0" fill="none" stroke="#1f8a1f" stroke-width="2.6" stroke-linejoin="round"/>
<path d="M542.0,368.5 C543.3,368.5 540.3,368.9 550.0,368.3 C559.7,367.7 586.1,366.4 600.0,365.0 C613.9,363.6 623.8,361.8 633.3,360.0 C642.8,358.2 648.4,356.2 656.7,354.0 C665.0,351.8 675.0,350.1 683.3,346.7 C691.6,343.2 698.4,338.3 706.7,333.3 C715.0,328.3 725.0,320.7 733.3,316.7 C741.6,312.7 750.0,309.6 756.7,309.3 C763.4,309.0 767.8,314.8 773.3,315.0 C778.8,315.2 784.4,309.9 790.0,310.7 C795.6,311.5 801.2,316.2 806.7,320.0 C812.2,323.8 816.1,328.0 823.3,333.3 C830.5,338.6 841.1,347.0 850.0,351.7 C858.9,356.4 865.0,359.6 876.7,361.7 C888.4,363.8 907.8,363.9 920.0,364.5 C932.2,365.1 943.0,364.8 950.0,365.0 C957.0,365.2 958.7,365.3 962.0,366.0 C965.3,366.7 968.7,368.5 970.0,369.0" fill="none" stroke="#ff8c2a" stroke-width="2.6" stroke-linejoin="round"/>
<line x1="1081.6" y1="219.0" x2="1081.6" y2="368.0" stroke="#a0a0a0" stroke-width="1" stroke-dasharray="5,3,1.5,3"/>
<line x1="1157.3" y1="219.0" x2="1157.3" y2="368.0" stroke="#a0a0a0" stroke-width="1" stroke-dasharray="5,3,1.5,3"/>
<line x1="1233.0" y1="219.0" x2="1233.0" y2="368.0" stroke="#a0a0a0" stroke-width="1" stroke-dasharray="5,3,1.5,3"/>
<line x1="1308.7" y1="219.0" x2="1308.7" y2="368.0" stroke="#a0a0a0" stroke-width="1" stroke-dasharray="5,3,1.5,3"/>
<line x1="1384.4" y1="219.0" x2="1384.4" y2="368.0" stroke="#a0a0a0" stroke-width="1" stroke-dasharray="5,3,1.5,3"/>
<line x1="1460.1" y1="219.0" x2="1460.1" y2="368.0" stroke="#a0a0a0" stroke-width="1" stroke-dasharray="5,3,1.5,3"/>
<line x1="1045.0" y1="293.2" x2="1497.0" y2="293.2" stroke="#a0a0a0" stroke-width="1" stroke-dasharray="5,3,1.5,3"/>
<path d="M1081.6 288.2h2.34V368h-2.34zM1085.4 287.7h2.34V368h-2.34zM1089.2 270.4h2.34V368h-2.34zM1092.9 220.8h2.34V368h-2.34zM1096.7 253.0h2.34V368h-2.34zM1100.5 258.0h2.34V368h-2.34zM1104.3 268.3h2.34V368h-2.34zM1108.1 254.2h2.34V368h-2.34zM1111.8 256.4h2.34V368h-2.34zM1115.6 253.7h2.34V368h-2.34zM1119.4 234.0h2.34V368h-2.34zM1123.2 260.5h2.34V368h-2.34zM1127.0 271.0h2.34V368h-2.34zM1130.7 258.8h2.34V368h-2.34zM1134.5 263.1h2.34V368h-2.34zM1138.3 258.7h2.34V368h-2.34zM1142.1 244.0h2.34V368h-2.34zM1145.9 262.3h2.34V368h-2.34zM1149.6 247.6h2.34V368h-2.34zM1153.4 280.4h2.34V368h-2.34zM1157.2 267.8h2.34V368h-2.34zM1161.0 240.1h2.34V368h-2.34zM1164.8 282.2h2.34V368h-2.34zM1168.5 292.9h2.34V368h-2.34zM1172.3 296.8h2.34V368h-2.34zM1176.1 279.8h2.34V368h-2.34zM1179.9 279.1h2.34V368h-2.34zM1183.7 290.4h2.34V368h-2.34zM1187.4 295.8h2.34V368h-2.34zM1191.2 311.6h2.34V368h-2.34z" fill="#ffc090" fill-opacity="0.75"/>
<path d="M1081.6 293.8h2.34V368h-2.34zM1085.4 299.9h2.34V368h-2.34zM1089.2 300.7h2.34V368h-2.34zM1092.9 245.5h2.34V368h-2.34zM1096.7 273.7h2.34V368h-2.34zM1100.5 290.0h2.34V368h-2.34zM1104.3 262.5h2.34V368h-2.34zM1108.1 237.8h2.34V368h-2.34zM1111.8 258.8h2.34V368h-2.34zM1115.6 264.1h2.34V368h-2.34zM1119.4 260.4h2.34V368h-2.34zM1123.2 270.8h2.34V368h-2.34zM1127.0 283.8h2.34V368h-2.34zM1130.7 262.8h2.34V368h-2.34zM1134.5 255.8h2.34V368h-2.34zM1138.3 281.6h2.34V368h-2.34zM1142.1 281.7h2.34V368h-2.34zM1145.9 285.3h2.34V368h-2.34zM1149.6 239.0h2.34V368h-2.34zM1153.4 279.8h2.34V368h-2.34zM1157.2 294.2h2.34V368h-2.34zM1161.0 244.3h2.34V368h-2.34zM1164.8 260.6h2.34V368h-2.34zM1168.5 281.7h2.34V368h-2.34zM1172.3 282.2h2.34V368h-2.34zM1176.1 302.6h2.34V368h-2.34zM1179.9 294.6h2.34V368h-2.34zM1183.7 295.0h2.34V368h-2.34zM1187.4 299.9h2.34V368h-2.34zM1191.2 282.4h2.34V368h-2.34z" fill="#d890d0" fill-opacity="0.75"/>
<path d="M1176.2 293.9h2.34V368h-2.34zM1180.0 294.8h2.34V368h-2.34zM1183.8 287.8h2.34V368h-2.34zM1187.6 283.4h2.34V368h-2.34zM1191.3 300.1h2.34V368h-2.34zM1195.1 310.2h2.34V368h-2.34zM1198.9 274.8h2.34V368h-2.34zM1202.7 292.8h2.34V368h-2.34zM1206.5 309.2h2.34V368h-2.34zM1210.2 301.3h2.34V368h-2.34zM1214.0 302.2h2.34V368h-2.34zM1217.8 319.9h2.34V368h-2.34zM1221.6 296.4h2.34V368h-2.34zM1225.4 299.4h2.34V368h-2.34zM1229.1 320.2h2.34V368h-2.34zM1232.9 302.0h2.34V368h-2.34zM1236.7 318.5h2.34V368h-2.34zM1240.5 320.8h2.34V368h-2.34zM1244.3 311.2h2.34V368h-2.34zM1248.0 315.9h2.34V368h-2.34zM1251.8 327.7h2.34V368h-2.34zM1255.6 316.4h2.34V368h-2.34zM1259.4 322.9h2.34V368h-2.34zM1263.2 321.1h2.34V368h-2.34zM1266.9 311.4h2.34V368h-2.34zM1270.7 326.4h2.34V368h-2.34zM1274.5 321.0h2.34V368h-2.34zM1278.3 318.9h2.34V368h-2.34zM1282.1 337.9h2.34V368h-2.34zM1285.8 325.5h2.34V368h-2.34zM1289.6 336.1h2.34V368h-2.34zM1293.4 339.6h2.34V368h-2.34zM1297.2 338.5h2.34V368h-2.34zM1301.0 335.1h2.34V368h-2.34zM1304.7 338.1h2.34V368h-2.34zM1308.5 338.0h2.34V368h-2.34zM1312.3 345.3h2.34V368h-2.34zM1316.1 350.8h2.34V368h-2.34zM1319.9 348.6h2.34V368h-2.34zM1323.6 352.6h2.34V368h-2.34zM1327.4 349.3h2.34V368h-2.34zM1331.2 348.4h2.34V368h-2.34zM1335.0 354.8h2.34V368h-2.34zM1338.8 351.4h2.34V368h-2.34zM1342.5 353.0h2.34V368h-2.34zM1346.3 356.6h2.34V368h-2.34zM1350.1 357.6h2.34V368h-2.34zM1353.9 357.2h2.34V368h-2.34zM1357.7 356.7h2.34V368h-2.34zM1361.4 358.9h2.34V368h-2.34zM1365.2 358.3h2.34V368h-2.34zM1369.0 361.7h2.34V368h-2.34zM1372.8 361.0h2.34V368h-2.34zM1376.6 362.1h2.34V368h-2.34zM1380.3 359.5h2.34V368h-2.34z" fill="#80c080" fill-opacity="0.6"/>
<path d="M1081.6 319.3h2.34V368h-2.34zM1085.4 317.7h2.34V368h-2.34zM1089.2 308.6h2.34V368h-2.34zM1092.9 312.0h2.34V368h-2.34zM1096.7 302.7h2.34V368h-2.34zM1100.5 302.2h2.34V368h-2.34zM1104.3 304.7h2.34V368h-2.34zM1108.1 296.5h2.34V368h-2.34zM1111.8 301.5h2.34V368h-2.34zM1115.6 293.8h2.34V368h-2.34zM1119.4 297.5h2.34V368h-2.34zM1123.2 297.0h2.34V368h-2.34zM1127.0 293.3h2.34V368h-2.34zM1130.7 288.8h2.34V368h-2.34zM1134.5 300.6h2.34V368h-2.34zM1138.3 300.6h2.34V368h-2.34zM1142.1 296.0h2.34V368h-2.34zM1145.9 292.3h2.34V368h-2.34zM1149.6 298.2h2.34V368h-2.34zM1153.4 301.4h2.34V368h-2.34zM1157.2 293.8h2.34V368h-2.34zM1161.0 306.2h2.34V368h-2.34zM1164.8 295.0h2.34V368h-2.34zM1168.5 302.6h2.34V368h-2.34zM1172.3 304.4h2.34V368h-2.34zM1176.1 305.1h2.34V368h-2.34zM1179.9 303.5h2.34V368h-2.34zM1183.7 297.8h2.34V368h-2.34zM1187.4 307.3h2.34V368h-2.34zM1191.2 305.3h2.34V368h-2.34zM1195.0 307.3h2.34V368h-2.34zM1198.8 312.6h2.34V368h-2.34zM1202.6 312.8h2.34V368h-2.34zM1206.3 320.2h2.34V368h-2.34zM1210.1 322.2h2.34V368h-2.34zM1213.9 322.7h2.34V368h-2.34zM1217.7 320.3h2.34V368h-2.34zM1221.5 324.6h2.34V368h-2.34zM1225.2 327.5h2.34V368h-2.34zM1229.0 327.3h2.34V368h-2.34zM1232.8 330.2h2.34V368h-2.34zM1236.6 333.0h2.34V368h-2.34zM1240.4 331.2h2.34V368h-2.34zM1244.1 333.6h2.34V368h-2.34zM1247.9 338.3h2.34V368h-2.34zM1251.7 338.0h2.34V368h-2.34zM1255.5 340.2h2.34V368h-2.34zM1259.3 340.3h2.34V368h-2.34zM1263.0 343.1h2.34V368h-2.34zM1266.8 347.0h2.34V368h-2.34zM1270.6 345.7h2.34V368h-2.34zM1274.4 350.2h2.34V368h-2.34zM1278.2 350.2h2.34V368h-2.34zM1281.9 350.2h2.34V368h-2.34zM1285.7 353.3h2.34V368h-2.34zM1289.5 353.3h2.34V368h-2.34zM1293.3 355.7h2.34V368h-2.34zM1297.1 355.1h2.34V368h-2.34zM1300.8 356.1h2.34V368h-2.34zM1304.6 357.7h2.34V368h-2.34zM1308.4 358.0h2.34V368h-2.34zM1312.2 359.5h2.34V368h-2.34zM1316.0 359.4h2.34V368h-2.34zM1319.7 360.0h2.34V368h-2.34zM1323.5 360.5h2.34V368h-2.34zM1327.3 361.2h2.34V368h-2.34zM1331.1 361.2h2.34V368h-2.34zM1334.9 361.6h2.34V368h-2.34zM1338.6 362.6h2.34V368h-2.34zM1342.4 362.9h2.34V368h-2.34zM1346.2 363.9h2.34V368h-2.34zM1350.0 363.5h2.34V368h-2.34zM1353.8 363.8h2.34V368h-2.34zM1357.5 363.8h2.34V368h-2.34zM1361.3 364.2h2.34V368h-2.34zM1365.1 364.8h2.34V368h-2.34zM1368.9 364.9h2.34V368h-2.34zM1372.7 365.2h2.34V368h-2.34zM1376.4 366.0h2.34V368h-2.34zM1380.2 366.1h2.34V368h-2.34zM1384.0 366.2h2.34V368h-2.34zM1387.8 366.2h2.34V368h-2.34zM1391.6 366.4h2.34V368h-2.34zM1395.3 366.3h2.34V368h-2.34zM1399.1 366.8h2.34V368h-2.34zM1402.9 366.9h2.34V368h-2.34zM1406.7 367.0h2.34V368h-2.34zM1410.5 366.9h2.34V368h-2.34zM1414.2 367.1h2.34V368h-2.34zM1418.0 367.0h2.34V368h-2.34zM1421.8 367.0h2.34V368h-2.34zM1425.6 366.9h2.34V368h-2.34zM1429.4 367.0h2.34V368h-2.34zM1433.1 366.9h2.34V368h-2.34zM1436.9 367.1h2.34V368h-2.34zM1440.7 367.0h2.34V368h-2.34zM1444.5 367.0h2.34V368h-2.34z" fill="#8b6c7a" fill-opacity="0.95"/>
<path d="M1081.6,318.3 C1084.8,315.2 1093.6,305.0 1100.5,300.0 C1107.5,295.0 1116.3,289.0 1123.2,288.3 C1130.2,287.6 1136.5,294.2 1142.2,296.0 C1147.8,297.8 1151.6,298.7 1157.3,299.0 C1163.0,299.3 1169.9,297.3 1176.2,298.0 C1182.5,298.7 1188.8,301.5 1195.1,303.3 C1201.5,305.1 1207.8,307.1 1214.1,309.0 C1220.4,310.9 1226.7,313.2 1233.0,315.0 C1239.3,316.8 1245.6,317.8 1251.9,320.0 C1258.2,322.2 1264.5,325.8 1270.8,328.3 C1277.2,330.8 1283.5,332.8 1289.8,335.0 C1296.1,337.2 1302.4,339.2 1308.7,341.7 C1315.0,344.2 1321.3,347.5 1327.6,350.0 C1333.9,352.5 1337.1,354.8 1346.5,356.7 C1356.0,358.6 1371.8,360.1 1384.4,361.7 C1397.0,363.2 1412.2,365.2 1422.2,366.0 C1432.3,366.8 1441.2,366.6 1445.0,366.7" fill="none" stroke="#1f8a1f" stroke-width="2.6" stroke-linejoin="round"/>
<path d="M1081.6,298.3 C1084.8,294.9 1094.2,283.0 1100.5,278.0 C1106.8,273.0 1113.1,268.5 1119.4,268.3 C1125.8,268.1 1132.1,275.1 1138.4,277.0 C1144.7,278.9 1151.0,277.5 1157.3,280.0 C1163.6,282.5 1169.9,287.8 1176.2,292.0 C1182.5,296.2 1188.8,301.0 1195.1,305.0 C1201.5,309.0 1207.8,312.7 1214.1,316.0 C1220.4,319.3 1226.7,322.8 1233.0,325.0 C1239.3,327.2 1245.6,327.1 1251.9,329.0 C1258.2,330.9 1264.5,333.7 1270.8,336.7 C1277.2,339.7 1283.5,343.9 1289.8,347.0 C1296.1,350.1 1299.2,352.6 1308.7,355.0 C1318.2,357.4 1334.6,359.9 1346.5,361.7 C1358.5,363.5 1374.9,365.3 1380.6,366.0" fill="none" stroke="#8a2be2" stroke-width="2.6" stroke-linejoin="round"/>
<path d="M1081.6,287.3 C1084.8,283.6 1094.2,270.0 1100.5,265.0 C1106.8,260.0 1115.0,258.5 1119.4,257.3 C1123.9,256.1 1123.2,256.2 1127.0,258.0 C1130.8,259.8 1137.1,264.9 1142.2,268.0 C1147.2,271.1 1151.6,272.9 1157.3,276.7 C1163.0,280.5 1169.9,286.0 1176.2,291.0 C1182.5,296.0 1188.8,302.2 1195.1,306.7 C1201.5,311.2 1207.8,314.4 1214.1,318.0 C1220.4,321.6 1226.7,325.1 1233.0,328.3 C1239.3,331.5 1245.6,333.9 1251.9,337.0 C1258.2,340.1 1261.4,343.1 1270.8,346.7 C1280.3,350.2 1296.1,355.5 1308.7,358.3 C1321.3,361.1 1330.1,361.9 1346.5,363.3 C1363.0,364.8 1397.0,366.4 1407.1,367.0" fill="none" stroke="#ff8c2a" stroke-width="2.6" stroke-linejoin="round"/>
<line x1="1195.0" y1="219.0" x2="1195.0" y2="368.0" stroke="#ff2020" stroke-width="2.5" stroke-dasharray="2.5,2"/>
<rect x="40.0" y="219.0" width="454.0" height="150.5" fill="none" stroke="#808080" stroke-width="2" />
<line x1="70.7" y1="369.5" x2="70.7" y2="380.5" stroke="#808080" stroke-width="2" />
<line x1="168.8" y1="369.5" x2="168.8" y2="380.5" stroke="#808080" stroke-width="2" />
<line x1="267.0" y1="369.5" x2="267.0" y2="380.5" stroke="#808080" stroke-width="2" />
<line x1="364.2" y1="369.5" x2="364.2" y2="380.5" stroke="#808080" stroke-width="2" />
<line x1="461.8" y1="369.5" x2="461.8" y2="380.5" stroke="#808080" stroke-width="2" />
<line x1="120.4" y1="369.5" x2="120.4" y2="375.5" stroke="#808080" stroke-width="2" />
<line x1="217.9" y1="369.5" x2="217.9" y2="375.5" stroke="#808080" stroke-width="2" />
<line x1="316.0" y1="369.5" x2="316.0" y2="375.5" stroke="#808080" stroke-width="2" />
<line x1="413.3" y1="369.5" x2="413.3" y2="375.5" stroke="#808080" stroke-width="2" />
<text x="70.7" y="407.0" font-size="28" text-anchor="middle">-6</text>
<text x="168.8" y="407.0" font-size="28" text-anchor="middle">-3</text>
<text x="267.0" y="407.0" font-size="28" text-anchor="middle">0</text>
<text x="364.2" y="407.0" font-size="28" text-anchor="middle">3</text>
<text x="461.8" y="407.0" font-size="28" text-anchor="middle">6</text>
<rect x="541.4" y="219.0" width="454.1" height="150.5" fill="none" stroke="#646476" stroke-width="2" />
<line x1="573.3" y1="369.5" x2="573.3" y2="380.5" stroke="#646476" stroke-width="2" />
<line x1="638.3" y1="369.5" x2="638.3" y2="380.5" stroke="#646476" stroke-width="2" />
<line x1="703.3" y1="369.5" x2="703.3" y2="380.5" stroke="#646476" stroke-width="2" />
<line x1="768.3" y1="369.5" x2="768.3" y2="380.5" stroke="#646476" stroke-width="2" />
<line x1="833.3" y1="369.5" x2="833.3" y2="380.5" stroke="#646476" stroke-width="2" />
<line x1="898.3" y1="369.5" x2="898.3" y2="380.5" stroke="#646476" stroke-width="2" />
<line x1="963.3" y1="369.5" x2="963.3" y2="380.5" stroke="#646476" stroke-width="2" />
<line x1="541.4" y1="369.5" x2="541.4" y2="375.5" stroke="#646476" stroke-width="2" />
<line x1="605.8" y1="369.5" x2="605.8" y2="375.5" stroke="#646476" stroke-width="2" />
<line x1="670.8" y1="369.5" x2="670.8" y2="375.5" stroke="#646476" stroke-width="2" />
<line x1="735.8" y1="369.5" x2="735.8" y2="375.5" stroke="#646476" stroke-width="2" />
<line x1="800.8" y1="369.5" x2="800.8" y2="375.5" stroke="#646476" stroke-width="2" />
<line x1="865.8" y1="369.5" x2="865.8" y2="375.5" stroke="#646476" stroke-width="2" />
<line x1="930.8" y1="369.5" x2="930.8" y2="375.5" stroke="#646476" stroke-width="2" />
<line x1="996.0" y1="369.5" x2="996.0" y2="375.5" stroke="#646476" stroke-width="2" />
<text x="573.3" y="407.0" font-size="28" text-anchor="middle">260</text>
<text x="703.3" y="407.0" font-size="28" text-anchor="middle">270</text>
<text x="833.3" y="407.0" font-size="28" text-anchor="middle">280</text>
<text x="963.3" y="407.0" font-size="28" text-anchor="middle">290</text>
<rect x="1045.0" y="219.0" width="452.0" height="149.5" fill="none" stroke="#808080" stroke-width="2" />
<line x1="1081.6" y1="368.5" x2="1081.6" y2="379.5" stroke="#808080" stroke-width="2" />
<line x1="1157.3" y1="368.5" x2="1157.3" y2="379.5" stroke="#808080" stroke-width="2" />
<line x1="1233.0" y1="368.5" x2="1233.0" y2="379.5" stroke="#808080" stroke-width="2" />
<line x1="1308.7" y1="368.5" x2="1308.7" y2="379.5" stroke="#808080" stroke-width="2" />
<line x1="1384.4" y1="368.5" x2="1384.4" y2="379.5" stroke="#808080" stroke-width="2" />
<line x1="1460.1" y1="368.5" x2="1460.1" y2="379.5" stroke="#808080" stroke-width="2" />
<line x1="1043.8" y1="368.5" x2="1043.8" y2="374.5" stroke="#808080" stroke-width="2" />
<line x1="1119.4" y1="368.5" x2="1119.4" y2="374.5" stroke="#808080" stroke-width="2" />
<line x1="1195.1" y1="368.5" x2="1195.1" y2="374.5" stroke="#808080" stroke-width="2" />
<line x1="1270.8" y1="368.5" x2="1270.8" y2="374.5" stroke="#808080" stroke-width="2" />
<line x1="1346.5" y1="368.5" x2="1346.5" y2="374.5" stroke="#808080" stroke-width="2" />
<line x1="1422.2" y1="368.5" x2="1422.2" y2="374.5" stroke="#808080" stroke-width="2" />
<line x1="1497.9" y1="368.5" x2="1497.9" y2="374.5" stroke="#808080" stroke-width="2" />
<text x="1081.6" y="407.0" font-size="28" text-anchor="middle">0</text>
<text x="1157.3" y="407.0" font-size="28" text-anchor="middle">0.2</text>
<text x="1233.0" y="407.0" font-size="28" text-anchor="middle">0.4</text>
<text x="1308.7" y="407.0" font-size="28" text-anchor="middle">0.6</text>
<text x="1384.4" y="407.0" font-size="28" text-anchor="middle">0.8</text>
<text x="1460.1" y="407.0" font-size="28" text-anchor="middle">1.0</text>
<text x="268.3" y="438.3" font-size="29" text-anchor="middle">O-O tilt along [110] (deg)</text>
<text x="772.5" y="438.3" font-size="29" text-anchor="middle">O-O distance along [110] (pm)</text>
<text x="1109.0" y="438.3" font-size="29">Correlation coefficient <tspan font-style="italic">r</tspan><tspan font-size="21" dy="7">CO</tspan></text>
<text x="27.0" y="293.0" font-size="29.2" text-anchor="middle" transform="rotate(-90 27.0 293.0)">Frequency</text>
<text x="527.5" y="293.0" font-size="29.2" text-anchor="middle" transform="rotate(-90 527.5 293.0)">Frequency</text>
<text x="1029.5" y="293.0" font-size="29.2" text-anchor="middle" transform="rotate(-90 1029.5 293.0)">Frequency</text>
<line x1="298.0" y1="239.3" x2="357.0" y2="239.3" stroke="#1f8a1f" stroke-width="2.6" />
<text x="377.0" y="247.3" font-size="23">BNT-RD12</text>
<line x1="298.0" y1="267.0" x2="357.0" y2="267.0" stroke="#8a2be2" stroke-width="2.6" />
<text x="377.0" y="275.0" font-size="23">BNT-RD26</text>
<line x1="298.0" y1="296.1" x2="357.0" y2="296.1" stroke="#ff8c2a" stroke-width="2.6" />
<text x="377.0" y="304.1" font-size="23">BNT-RD38</text>
<line x1="835.0" y1="246.7" x2="895.0" y2="246.7" stroke="#1f8a1f" stroke-width="2.6" />
<text x="879.3" y="254.7" font-size="23">BNT-RD12</text>
<line x1="835.0" y1="277.3" x2="895.0" y2="277.3" stroke="#8a2be2" stroke-width="2.6" />
<text x="879.3" y="285.3" font-size="23">BNT-RD26</text>
<line x1="835.0" y1="310.0" x2="895.0" y2="310.0" stroke="#ff8c2a" stroke-width="2.6" />
<text x="879.3" y="318.0" font-size="23">BNT-RD38</text>
<line x1="1313.3" y1="241.7" x2="1371.7" y2="241.7" stroke="#1f8a1f" stroke-width="2.6" />
<text x="1378.3" y="249.7" font-size="23">BNT-RD12</text>
<line x1="1313.3" y1="275.0" x2="1371.7" y2="275.0" stroke="#8a2be2" stroke-width="2.6" />
<text x="1378.3" y="283.0" font-size="23">BNT-RD26</text>
<line x1="1313.3" y1="309.3" x2="1371.7" y2="309.3" stroke="#ff8c2a" stroke-width="2.6" />
<text x="1378.3" y="317.3" font-size="23">BNT-RD38</text>
<line x1="267.0" y1="370.4" x2="226.9" y2="370.4" stroke="#0000ff" stroke-width="2.5" />
<polygon points="217.9,370.4 232.9,363.9 227.7,370.4 232.9,376.9" fill="#0000ff" />
<line x1="267.0" y1="370.4" x2="307.0" y2="370.4" stroke="#ff0000" stroke-width="2.5" />
<polygon points="316.0,370.4 301.0,363.9 306.2,370.4 301.0,376.9" fill="#ff0000" />
<text x="199.5" y="358.5" font-size="22" font-weight="bold" fill="#0000ff"><tspan font-style="italic">α</tspan> (-)</text>
<text x="286.0" y="358.5" font-size="22" font-weight="bold" fill="#ff0000"><tspan font-style="italic">α</tspan> (+)</text>
<line x1="768.3" y1="369.5" x2="727.3" y2="369.5" stroke="#0000ff" stroke-width="2.5" />
<polygon points="718.3,369.5 733.3,363.0 728.0,369.5 733.3,376.0" fill="#0000ff" />
<line x1="768.3" y1="369.5" x2="807.7" y2="369.5" stroke="#ff0000" stroke-width="2.5" />
<polygon points="816.7,369.5 801.7,363.0 807.0,369.5 801.7,376.0" fill="#ff0000" />
<text x="713.5" y="358.8" font-size="21.5" font-weight="bold" fill="#0000ff"><tspan font-style="italic">Δ</tspan> (-)</text>
<text x="776.0" y="358.8" font-size="21.5" font-weight="bold" fill="#ff0000"><tspan font-style="italic">Δ</tspan> (+)</text>
<text x="737.5" y="254.9" font-size="22.4" font-weight="bold"><tspan font-style="italic">Δ</tspan> = 0</text>
<line x1="1195.0" y1="369.0" x2="1154.0" y2="369.0" stroke="#0000ff" stroke-width="2.5" />
<polygon points="1145.0,369.0 1160.0,362.5 1154.8,369.0 1160.0,375.5" fill="#0000ff" />
<line x1="1195.0" y1="369.0" x2="1235.0" y2="369.0" stroke="#ff0000" stroke-width="2.5" />
<polygon points="1244.0,369.0 1229.0,362.5 1234.2,369.0 1229.0,375.5" fill="#ff0000" />
<text x="1051.5" y="359.3" font-size="23" font-weight="bold" font-style="italic" fill="#0000ff">less ordered</text>
<text x="1201.5" y="359.3" font-size="23" font-weight="bold" font-style="italic" fill="#ff0000">more ordered</text>
<defs>
<pattern id="pt" width="32" height="32" patternUnits="userSpaceOnUse">
<g fill="#ababab" stroke="#5a5a5a" stroke-width="0.55"><circle cx="19.9" cy="23.7" r="2.1"/><circle cx="25.4" cy="-1.8" r="2.1"/><circle cx="25.4" cy="30.2" r="2.1"/><circle cx="0.9" cy="14.9" r="2.1"/><circle cx="32.9" cy="14.9" r="2.1"/><circle cx="-1.8" cy="20.8" r="2.1"/><circle cx="30.2" cy="20.8" r="2.1"/><circle cx="28.8" cy="3.6" r="2.1"/><circle cx="15.0" cy="7.9" r="2.1"/><circle cx="17.4" cy="18.4" r="2.1"/><circle cx="0.4" cy="6.9" r="2.1"/><circle cx="32.4" cy="6.9" r="2.1"/><circle cx="8.9" cy="29.3" r="2.1"/><circle cx="24.5" cy="5.1" r="2.1"/><circle cx="19.8" cy="4.1" r="2.1"/><circle cx="0.1" cy="27.9" r="2.1"/><circle cx="32.1" cy="27.9" r="2.1"/><circle cx="6.7" cy="6.9" r="2.1"/><circle cx="17.3" cy="21.7" r="2.1"/><circle cx="22.1" cy="-1.1" r="2.1"/><circle cx="22.1" cy="30.9" r="2.1"/><circle cx="28.6" cy="9.6" r="2.1"/><circle cx="11.6" cy="5.3" r="2.1"/><circle cx="4.7" cy="2.1" r="2.1"/><circle cx="4.7" cy="34.1" r="2.1"/><circle cx="9.6" cy="19.3" r="2.1"/><circle cx="10.8" cy="9.9" r="2.1"/><circle cx="26.2" cy="15.4" r="2.1"/><circle cx="10.1" cy="15.4" r="2.1"/><circle cx="-0.8" cy="0.7" r="2.1"/><circle cx="-0.8" cy="32.7" r="2.1"/><circle cx="31.2" cy="0.7" r="2.1"/><circle cx="31.2" cy="32.7" r="2.1"/><circle cx="24.0" cy="27.0" r="2.1"/><circle cx="5.8" cy="-1.4" r="2.1"/><circle cx="5.8" cy="30.6" r="2.1"/><circle cx="6.3" cy="24.2" r="2.1"/><circle cx="2.9" cy="10.9" r="2.1"/><circle cx="14.6" cy="13.5" r="2.1"/><circle cx="12.1" cy="-0.4" r="2.1"/><circle cx="12.1" cy="31.6" r="2.1"/><circle cx="11.6" cy="25.2" r="2.1"/><circle cx="24.8" cy="22.2" r="2.1"/><circle cx="20.8" cy="18.6" r="2.1"/><circle cx="14.8" cy="26.1" r="2.1"/><circle cx="25.0" cy="18.6" r="2.1"/><circle cx="21.3" cy="13.5" r="2.1"/><circle cx="3.7" cy="26.6" r="2.1"/><circle cx="17.4" cy="10.9" r="2.1"/><circle cx="18.6" cy="-1.3" r="2.1"/><circle cx="18.6" cy="30.7" r="2.1"/><circle cx="3.5" cy="18.1" r="2.1"/><circle cx="24.3" cy="9.6" r="2.1"/><circle cx="13.7" cy="18.4" r="2.1"/><circle cx="0.8" cy="23.1" r="2.1"/><circle cx="32.8" cy="23.1" r="2.1"/><circle cx="7.5" cy="11.9" r="2.1"/><circle cx="19.0" cy="7.6" r="2.1"/><circle cx="14.9" cy="3.2" r="2.1"/><circle cx="15.1" cy="-1.7" r="2.1"/><circle cx="15.1" cy="30.3" r="2.1"/><circle cx="3.8" cy="21.4" r="2.1"/><circle cx="9.1" cy="2.0" r="2.1"/><circle cx="9.1" cy="34.0" r="2.1"/><circle cx="6.7" cy="16.5" r="2.1"/><circle cx="12.0" cy="21.9" r="2.1"/><circle cx="28.7" cy="28.3" r="2.1"/><circle cx="28.8" cy="17.8" r="2.1"/><circle cx="19.8" cy="27.4" r="2.1"/><circle cx="29.8" cy="12.9" r="2.1"/><circle cx="4.2" cy="14.1" r="2.1"/><circle cx="28.4" cy="25.0" r="2.1"/><circle cx="18.4" cy="15.2" r="2.1"/><circle cx="22.6" cy="2.2" r="2.1"/><circle cx="2.4" cy="-0.7" r="2.1"/><circle cx="2.4" cy="31.3" r="2.1"/></g></pattern>
</defs>
<defs><filter id="blur1" x="-10%" y="-10%" width="120%" height="120%"><feGaussianBlur stdDeviation="0.8"/></filter></defs>
<text x="-1.5" y="480.0" font-size="36" font-weight="bold">d</text>
<text x="504.5" y="480.0" font-size="36" font-weight="bold">e</text>
<text x="1012.0" y="480.0" font-size="36" font-weight="bold">f</text>
<text x="262.9" y="480.5" font-size="30.8" text-anchor="middle" font-weight="bold">Orderings vs. DP (BNT-RD12)</text>
<text x="770.9" y="480.5" font-size="30.8" text-anchor="middle" font-weight="bold">Orderings vs. DP (BNT-RD26)</text>
<text x="1270.9" y="480.5" font-size="30.8" text-anchor="middle" font-weight="bold">Orderings vs. DP (BNT-RD38)</text>
<line x1="80.5" y1="500.2" x2="489.0" y2="500.2" stroke="#d2d2d2" stroke-width="1.6" />
<line x1="80.5" y1="560.0" x2="489.0" y2="560.0" stroke="#d2d2d2" stroke-width="1.6" />
<line x1="84.0" y1="530.1" x2="489.0" y2="530.1" stroke="#d2d2d2" stroke-width="1.6" />
<line x1="84.0" y1="589.9" x2="489.0" y2="589.9" stroke="#d2d2d2" stroke-width="1.6" />
<rect x="136.7" y="539.4" width="47.6" height="80.4" fill="#f5f59a" stroke="#2a2a2a" stroke-width="1.2" />
<rect x="270.0" y="610.7" width="47.7" height="9.1" fill="#dcdcfa" stroke="#2a2a2a" stroke-width="1.2" />
<rect x="403.3" y="615.3" width="47.7" height="4.5" fill="#f4eff3" stroke="#2a2a2a" stroke-width="1.2" />
<rect x="89.5" y="495.5" width="399.5" height="124.3" fill="none" stroke="#8a8a8a" stroke-width="1.6" />
<text x="74.3" y="510.6" font-size="28" text-anchor="end">0.4</text>
<text x="74.3" y="570.4" font-size="28" text-anchor="end">0.2</text>
<text x="74.3" y="630.2" font-size="28" text-anchor="end">0</text>
<text x="21.9" y="573.5" font-size="29" transform="rotate(-90 21.9 573.5)"><tspan font-style="italic">r</tspan><tspan font-size="19.3" dy="6.7">p</tspan></text>
<line x1="579.0" y1="500.4" x2="988.5" y2="500.4" stroke="#d2d2d2" stroke-width="1.6" />
<line x1="579.0" y1="560.2" x2="988.5" y2="560.2" stroke="#d2d2d2" stroke-width="1.6" />
<line x1="582.5" y1="530.3" x2="988.5" y2="530.3" stroke="#d2d2d2" stroke-width="1.6" />
<line x1="582.5" y1="590.1" x2="988.5" y2="590.1" stroke="#d2d2d2" stroke-width="1.6" />
<rect x="635.7" y="529.3" width="47.6" height="90.7" fill="#f5f59a" stroke="#2a2a2a" stroke-width="1.2" />
<rect x="769.0" y="608.3" width="47.0" height="11.7" fill="#dcdcfa" stroke="#2a2a2a" stroke-width="1.2" />
<rect x="900.7" y="612.2" width="47.6" height="7.8" fill="#f4eff3" stroke="#2a2a2a" stroke-width="1.2" />
<rect x="588.0" y="495.3" width="400.5" height="124.7" fill="none" stroke="#8a8a8a" stroke-width="1.6" />
<text x="573.3" y="510.8" font-size="28" text-anchor="end">0.4</text>
<text x="573.3" y="570.6" font-size="28" text-anchor="end">0.2</text>
<text x="573.3" y="630.4" font-size="28" text-anchor="end">0</text>
<text x="521.0" y="573.5" font-size="29" transform="rotate(-90 521.0 573.5)"><tspan font-style="italic">r</tspan><tspan font-size="19.3" dy="6.7">p</tspan></text>
<line x1="1083.0" y1="500.4" x2="1492.7" y2="500.4" stroke="#d2d2d2" stroke-width="1.6" />
<line x1="1083.0" y1="560.2" x2="1492.7" y2="560.2" stroke="#d2d2d2" stroke-width="1.6" />
<line x1="1086.5" y1="530.3" x2="1492.7" y2="530.3" stroke="#d2d2d2" stroke-width="1.6" />
<line x1="1086.5" y1="590.1" x2="1492.7" y2="590.1" stroke="#d2d2d2" stroke-width="1.6" />
<rect x="1140.7" y="611.6" width="47.6" height="8.4" fill="#f5f59a" stroke="#2a2a2a" stroke-width="1.2" />
<rect x="1272.7" y="613.4" width="48.0" height="6.6" fill="#dcdcfa" stroke="#2a2a2a" stroke-width="1.2" />
<rect x="1405.7" y="604.2" width="47.6" height="15.8" fill="#f4eff3" stroke="#2a2a2a" stroke-width="1.2" />
<rect x="1092.0" y="495.5" width="400.7" height="124.5" fill="none" stroke="#8a8a8a" stroke-width="1.6" />
<text x="1078.3" y="510.8" font-size="28" text-anchor="end">0.4</text>
<text x="1078.3" y="570.6" font-size="28" text-anchor="end">0.2</text>
<text x="1078.3" y="630.4" font-size="28" text-anchor="end">0</text>
<text x="1025.0" y="573.5" font-size="29" transform="rotate(-90 1025.0 573.5)"><tspan font-style="italic">r</tspan><tspan font-size="19.3" dy="6.7">p</tspan></text>
<text x="159.4" y="646.7" font-size="28.4" text-anchor="middle">DP-OT</text>
<text x="288.8" y="646.7" font-size="28.4" text-anchor="middle">DP-OD</text>
<text x="423.3" y="646.7" font-size="28.4" text-anchor="middle">DP-<tspan font-style="italic">r</tspan><tspan font-size="21" dy="7">CO</tspan></text>
<text x="657.5" y="646.7" font-size="28.4" text-anchor="middle">DP-OT</text>
<text x="788.0" y="646.7" font-size="28.4" text-anchor="middle">DP-OD</text>
<text x="921.6" y="646.7" font-size="28.4" text-anchor="middle">DP-<tspan font-style="italic">r</tspan><tspan font-size="21" dy="7">CO</tspan></text>
<text x="1162.8" y="646.7" font-size="28.4" text-anchor="middle">DP-OT</text>
<text x="1292.5" y="646.7" font-size="28.4" text-anchor="middle">DP-OD</text>
<text x="1426.6" y="646.7" font-size="28.4" text-anchor="middle">DP-<tspan font-style="italic">r</tspan><tspan font-size="21" dy="7">CO</tspan></text>
<line x1="90.0" y1="757.3" x2="489.0" y2="757.3" stroke="#8c8c8c" stroke-width="1" stroke-dasharray="5,3,1.5,3"/>
<line x1="90.0" y1="855.3" x2="489.0" y2="855.3" stroke="#8c8c8c" stroke-width="1" stroke-dasharray="5,3,1.5,3"/>
<clipPath id="cl1"><rect x="91" y="661.3" width="130.7" height="212.20000000000005"/></clipPath>
<g clip-path="url(#cl1)">
<path d="M104.9,845.9 C99.6,834.4 102.1,796.1 103.5,779.5 C104.9,762.9 108.8,756.9 113.2,746.3 C117.6,735.7 124.3,722.3 129.8,715.9 C135.3,709.4 140.9,707.1 146.4,707.6 C151.9,708.0 157.0,713.6 163.0,718.6 C169.0,723.7 176.8,730.2 182.4,738.0 C187.9,745.9 193.0,755.5 196.2,765.7 C199.4,775.8 201.3,787.4 201.7,798.9 C202.2,810.4 203.1,827.0 199.0,834.9 C194.8,842.7 187.5,843.6 176.8,845.9 C166.2,848.2 147.3,848.7 135.3,848.7 C123.3,848.7 110.2,857.5 104.9,845.9 Z" fill="#fbfbb4" fill-opacity="0.85" filter="url(#blur5)"/>
<path d="M106.3,832.1 C105.1,824.5 105.6,798.0 106.3,790.6 C107.0,783.2 107.9,788.7 110.4,787.8 C113.0,786.9 118.3,787.8 121.5,785.0 C124.7,782.3 127.5,777.7 129.8,771.2 C132.1,764.8 133.0,751.8 135.3,746.3 C137.6,740.8 140.9,739.6 143.6,738.0 C146.4,736.4 149.6,735.7 151.9,736.6 C154.2,737.5 155.6,739.6 157.5,743.5 C159.3,747.5 160.7,756.5 163.0,760.1 C165.3,763.8 168.5,763.4 171.3,765.7 C174.1,768.0 176.4,770.3 179.6,774.0 C182.8,777.7 188.4,782.3 190.7,787.8 C193.0,793.4 193.4,800.7 193.4,807.2 C193.4,813.6 192.5,821.9 190.7,826.6 C188.8,831.2 187.0,832.8 182.4,834.9 C177.8,836.9 170.9,838.3 163.0,839.0 C155.2,839.7 143.6,839.5 135.3,839.0 C127.0,838.5 118.0,837.4 113.2,836.2 C108.4,835.1 107.4,839.7 106.3,832.1 Z" fill="#f4f04a" fill-opacity="0.75" filter="url(#blur3)"/>
<path d="M120.0,827.8 C119.6,821.7 118.8,806.0 120.0,798.7 C121.3,791.5 124.9,788.1 127.3,784.2 C129.7,780.3 131.9,777.7 134.6,775.5 C137.2,773.3 140.6,773.1 143.3,771.1 C146.0,769.2 148.1,763.6 150.6,763.9 C153.0,764.1 154.7,770.7 157.8,772.6 C161.0,774.5 166.0,773.1 169.4,775.5 C172.8,777.9 175.7,782.3 178.2,787.1 C180.6,792.0 183.0,798.7 184.0,804.5 C184.9,810.4 185.4,817.1 184.0,822.0 C182.5,826.8 179.6,830.9 175.2,833.6 C170.9,836.3 164.6,837.2 157.8,838.0 C151.0,838.7 140.4,838.4 134.6,838.0 C128.8,837.5 125.4,836.7 123.0,835.1 C120.5,833.4 120.5,833.8 120.0,827.8 Z" fill="#e89040" fill-opacity="0.55" filter="url(#blur3)"/>
<mask id="mk1"><path d="M121.5,826.6 C121.0,820.8 120.4,805.8 121.5,798.9 C122.7,792.0 126.1,788.7 128.4,785.0 C130.7,781.4 132.8,778.8 135.3,776.7 C137.9,774.7 141.1,774.4 143.6,772.6 C146.2,770.8 148.3,765.5 150.6,765.7 C152.9,765.9 154.5,772.1 157.5,774.0 C160.5,775.8 165.3,774.4 168.5,776.7 C171.8,779.1 174.5,783.2 176.8,787.8 C179.2,792.4 181.5,798.9 182.4,804.4 C183.3,810.0 183.8,816.4 182.4,821.0 C181.0,825.6 178.2,829.6 174.1,832.1 C169.9,834.6 163.9,835.5 157.5,836.2 C151.0,836.9 140.9,836.7 135.3,836.2 C129.8,835.8 126.6,835.1 124.3,833.5 C122.0,831.9 122.0,832.3 121.5,826.6 Z" fill="#fff" filter="url(#blur2)"/></mask>
<path d="M121.5,826.6 C121.0,820.8 120.4,805.8 121.5,798.9 C122.7,792.0 126.1,788.7 128.4,785.0 C130.7,781.4 132.8,778.8 135.3,776.7 C137.9,774.7 141.1,774.4 143.6,772.6 C146.2,770.8 148.3,765.5 150.6,765.7 C152.9,765.9 154.5,772.1 157.5,774.0 C160.5,775.8 165.3,774.4 168.5,776.7 C171.8,779.1 174.5,783.2 176.8,787.8 C179.2,792.4 181.5,798.9 182.4,804.4 C183.3,810.0 183.8,816.4 182.4,821.0 C181.0,825.6 178.2,829.6 174.1,832.1 C169.9,834.6 163.9,835.5 157.5,836.2 C151.0,836.9 140.9,836.7 135.3,836.2 C129.8,835.8 126.6,835.1 124.3,833.5 C122.0,831.9 122.0,832.3 121.5,826.6 Z" fill="#b88050" fill-opacity="0.85" filter="url(#blur2)"/>
<rect x="91" y="661.3" width="130.7" height="212.20000000000005" fill="url(#pt)" fill-opacity="1.0" mask="url(#mk1)"/>
<g class="pc"><circle cx="164" cy="814"/><circle cx="192" cy="811"/><circle cx="198" cy="798"/><circle cx="114" cy="787"/><circle cx="190" cy="810"/><circle cx="165" cy="777"/><circle cx="204" cy="763"/><circle cx="141" cy="771"/><circle cx="178" cy="751"/><circle cx="151" cy="746"/><circle cx="148" cy="776"/><circle cx="155" cy="702"/><circle cx="159" cy="732"/><circle cx="172" cy="785"/><circle cx="211" cy="691"/><circle cx="136" cy="810"/><circle cx="119" cy="840"/><circle cx="153" cy="751"/><circle cx="157" cy="812"/><circle cx="193" cy="724"/><circle cx="156" cy="730"/><circle cx="153" cy="844"/><circle cx="131" cy="785"/><circle cx="123" cy="797"/><circle cx="129" cy="802"/><circle cx="185" cy="754"/><circle cx="126" cy="771"/><circle cx="139" cy="748"/><circle cx="128" cy="672"/><circle cx="144" cy="783"/><circle cx="150" cy="794"/><circle cx="153" cy="835"/><circle cx="163" cy="791"/><circle cx="106" cy="760"/><circle cx="165" cy="817"/><circle cx="164" cy="749"/><circle cx="128" cy="767"/><circle cx="198" cy="824"/><circle cx="172" cy="782"/><circle cx="181" cy="811"/><circle cx="106" cy="822"/><circle cx="118" cy="843"/><circle cx="156" cy="833"/><circle cx="134" cy="767"/><circle cx="159" cy="785"/><circle cx="143" cy="807"/><circle cx="159" cy="838"/><circle cx="126" cy="804"/><circle cx="110" cy="824"/><circle cx="158" cy="731"/><circle cx="189" cy="808"/><circle cx="186" cy="805"/><circle cx="154" cy="768"/><circle cx="134" cy="751"/><circle cx="132" cy="814"/><circle cx="188" cy="840"/><circle cx="143" cy="794"/><circle cx="126" cy="749"/><circle cx="202" cy="715"/><circle cx="172" cy="741"/><circle cx="115" cy="754"/><circle cx="154" cy="836"/><circle cx="161" cy="767"/><circle cx="171" cy="841"/><circle cx="177" cy="813"/><circle cx="128" cy="789"/><circle cx="152" cy="790"/><circle cx="166" cy="798"/><circle cx="157" cy="776"/><circle cx="136" cy="757"/><circle cx="168" cy="822"/><circle cx="154" cy="819"/><circle cx="141" cy="754"/><circle cx="110" cy="767"/><circle cx="162" cy="815"/><circle cx="147" cy="821"/><circle cx="138" cy="795"/><circle cx="176" cy="807"/><circle cx="147" cy="848"/><circle cx="130" cy="820"/><circle cx="111" cy="835"/><circle cx="124" cy="836"/><circle cx="153" cy="827"/><circle cx="152" cy="692"/><circle cx="182" cy="808"/><circle cx="120" cy="771"/><circle cx="107" cy="834"/><circle cx="151" cy="846"/><circle cx="136" cy="824"/><circle cx="136" cy="777"/><circle cx="174" cy="733"/><circle cx="131" cy="793"/><circle cx="105" cy="782"/><circle cx="168" cy="713"/><circle cx="138" cy="676"/><circle cx="168" cy="818"/><circle cx="122" cy="782"/><circle cx="159" cy="772"/><circle cx="210" cy="753"/><circle cx="171" cy="828"/><circle cx="131" cy="788"/><circle cx="146" cy="761"/><circle cx="147" cy="776"/><circle cx="135" cy="791"/><circle cx="145" cy="796"/><circle cx="157" cy="718"/><circle cx="164" cy="835"/><circle cx="157" cy="718"/><circle cx="134" cy="776"/><circle cx="136" cy="839"/><circle cx="173" cy="837"/><circle cx="181" cy="801"/><circle cx="192" cy="801"/><circle cx="135" cy="743"/><circle cx="175" cy="827"/><circle cx="193" cy="788"/><circle cx="184" cy="798"/><circle cx="139" cy="768"/><circle cx="126" cy="730"/><circle cx="124" cy="760"/><circle cx="196" cy="794"/><circle cx="138" cy="768"/><circle cx="169" cy="767"/><circle cx="188" cy="679"/><circle cx="178" cy="734"/><circle cx="165" cy="765"/><circle cx="181" cy="835"/><circle cx="160" cy="849"/><circle cx="177" cy="776"/><circle cx="161" cy="836"/><circle cx="170" cy="785"/><circle cx="153" cy="793"/><circle cx="120" cy="799"/><circle cx="138" cy="783"/><circle cx="155" cy="815"/><circle cx="142" cy="812"/><circle cx="148" cy="787"/><circle cx="154" cy="788"/><circle cx="127" cy="777"/><circle cx="165" cy="771"/><circle cx="123" cy="811"/><circle cx="112" cy="832"/><circle cx="125" cy="757"/><circle cx="110" cy="834"/><circle cx="180" cy="823"/><circle cx="152" cy="688"/><circle cx="159" cy="835"/><circle cx="195" cy="802"/><circle cx="144" cy="847"/><circle cx="187" cy="835"/><circle cx="161" cy="740"/><circle cx="149" cy="813"/><circle cx="126" cy="812"/><circle cx="137" cy="806"/><circle cx="127" cy="800"/><circle cx="153" cy="764"/><circle cx="170" cy="818"/><circle cx="137" cy="778"/><circle cx="129" cy="820"/><circle cx="188" cy="764"/><circle cx="127" cy="809"/><circle cx="124" cy="815"/><circle cx="166" cy="774"/><circle cx="120" cy="757"/><circle cx="142" cy="811"/><circle cx="187" cy="742"/><circle cx="160" cy="736"/><circle cx="127" cy="797"/><circle cx="146" cy="763"/><circle cx="155" cy="762"/><circle cx="119" cy="845"/><circle cx="152" cy="780"/><circle cx="157" cy="823"/><circle cx="148" cy="850"/><circle cx="156" cy="741"/><circle cx="169" cy="740"/><circle cx="192" cy="785"/><circle cx="142" cy="834"/><circle cx="126" cy="762"/><circle cx="147" cy="791"/><circle cx="172" cy="830"/><circle cx="154" cy="810"/><circle cx="132" cy="817"/><circle cx="186" cy="758"/><circle cx="141" cy="808"/><circle cx="107" cy="831"/><circle cx="147" cy="842"/><circle cx="148" cy="786"/><circle cx="131" cy="837"/><circle cx="162" cy="760"/><circle cx="131" cy="834"/><circle cx="126" cy="805"/><circle cx="130" cy="774"/><circle cx="159" cy="752"/><circle cx="108" cy="792"/><circle cx="173" cy="733"/><circle cx="171" cy="790"/><circle cx="159" cy="787"/><circle cx="170" cy="841"/><circle cx="132" cy="834"/><circle cx="129" cy="764"/><circle cx="193" cy="832"/><circle cx="158" cy="798"/><circle cx="116" cy="831"/><circle cx="125" cy="774"/><circle cx="126" cy="792"/><circle cx="164" cy="719"/><circle cx="128" cy="835"/><circle cx="155" cy="780"/><circle cx="133" cy="753"/><circle cx="150" cy="845"/><circle cx="122" cy="780"/><circle cx="171" cy="734"/><circle cx="194" cy="834"/><circle cx="138" cy="800"/><circle cx="132" cy="791"/><circle cx="134" cy="774"/><circle cx="123" cy="815"/><circle cx="128" cy="735"/><circle cx="173" cy="733"/><circle cx="125" cy="825"/><circle cx="185" cy="805"/><circle cx="139" cy="744"/><circle cx="115" cy="808"/><circle cx="171" cy="815"/><circle cx="211" cy="828"/><circle cx="110" cy="802"/><circle cx="156" cy="801"/><circle cx="173" cy="795"/><circle cx="196" cy="834"/><circle cx="191" cy="823"/><circle cx="148" cy="823"/><circle cx="113" cy="740"/><circle cx="171" cy="825"/><circle cx="117" cy="763"/><circle cx="152" cy="826"/><circle cx="165" cy="781"/><circle cx="136" cy="812"/><circle cx="132" cy="828"/><circle cx="144" cy="715"/><circle cx="155" cy="725"/><circle cx="111" cy="805"/><circle cx="136" cy="807"/><circle cx="173" cy="788"/><circle cx="122" cy="740"/><circle cx="146" cy="823"/><circle cx="139" cy="823"/><circle cx="114" cy="812"/><circle cx="196" cy="761"/><circle cx="143" cy="844"/><circle cx="150" cy="737"/><circle cx="120" cy="744"/><circle cx="143" cy="819"/><circle cx="110" cy="842"/><circle cx="147" cy="782"/><circle cx="149" cy="752"/><circle cx="162" cy="749"/><circle cx="173" cy="842"/><circle cx="150" cy="752"/><circle cx="155" cy="785"/><circle cx="165" cy="816"/><circle cx="199" cy="825"/><circle cx="159" cy="757"/><circle cx="112" cy="678"/><circle cx="173" cy="821"/><circle cx="145" cy="797"/><circle cx="181" cy="829"/><circle cx="117" cy="835"/><circle cx="160" cy="726"/><circle cx="148" cy="824"/><circle cx="177" cy="789"/><circle cx="188" cy="765"/><circle cx="158" cy="799"/><circle cx="191" cy="818"/><circle cx="213" cy="765"/><circle cx="161" cy="736"/><circle cx="155" cy="755"/><circle cx="166" cy="781"/><circle cx="138" cy="702"/><circle cx="157" cy="796"/><circle cx="170" cy="736"/><circle cx="163" cy="767"/><circle cx="174" cy="745"/><circle cx="196" cy="754"/><circle cx="175" cy="789"/><circle cx="175" cy="802"/><circle cx="109" cy="815"/><circle cx="122" cy="742"/><circle cx="159" cy="698"/><circle cx="145" cy="782"/><circle cx="129" cy="836"/><circle cx="106" cy="783"/><circle cx="198" cy="767"/><circle cx="186" cy="791"/><circle cx="114" cy="710"/><circle cx="171" cy="826"/><circle cx="155" cy="807"/><circle cx="121" cy="786"/><circle cx="182" cy="841"/><circle cx="158" cy="828"/><circle cx="172" cy="802"/><circle cx="179" cy="796"/><circle cx="158" cy="816"/><circle cx="177" cy="785"/><circle cx="151" cy="766"/><circle cx="179" cy="781"/><circle cx="172" cy="840"/><circle cx="135" cy="849"/><circle cx="160" cy="814"/><circle cx="142" cy="741"/><circle cx="148" cy="839"/><circle cx="200" cy="775"/><circle cx="138" cy="719"/><circle cx="188" cy="730"/><circle cx="177" cy="751"/><circle cx="140" cy="775"/><circle cx="166" cy="796"/><circle cx="172" cy="747"/><circle cx="192" cy="831"/><circle cx="161" cy="752"/><circle cx="108" cy="839"/><circle cx="152" cy="783"/><circle cx="124" cy="768"/><circle cx="186" cy="758"/><circle cx="137" cy="813"/><circle cx="112" cy="790"/><circle cx="118" cy="792"/><circle cx="127" cy="801"/><circle cx="177" cy="792"/><circle cx="134" cy="763"/><circle cx="139" cy="810"/><circle cx="153" cy="764"/><circle cx="144" cy="837"/><circle cx="185" cy="788"/><circle cx="107" cy="843"/><circle cx="168" cy="794"/><circle cx="162" cy="843"/><circle cx="141" cy="788"/><circle cx="131" cy="798"/><circle cx="157" cy="750"/><circle cx="114" cy="819"/><circle cx="139" cy="759"/><circle cx="142" cy="802"/><circle cx="169" cy="768"/><circle cx="191" cy="773"/><circle cx="134" cy="815"/><circle cx="122" cy="811"/><circle cx="156" cy="830"/><circle cx="150" cy="731"/><circle cx="182" cy="787"/><circle cx="136" cy="749"/><circle cx="165" cy="736"/><circle cx="166" cy="776"/><circle cx="153" cy="815"/><circle cx="164" cy="814"/><circle cx="196" cy="802"/><circle cx="154" cy="784"/><circle cx="179" cy="816"/><circle cx="158" cy="819"/><circle cx="171" cy="736"/><circle cx="207" cy="847"/><circle cx="128" cy="809"/><circle cx="143" cy="735"/><circle cx="145" cy="780"/><circle cx="138" cy="791"/><circle cx="174" cy="769"/><circle cx="147" cy="826"/><circle cx="166" cy="758"/><circle cx="155" cy="840"/><circle cx="145" cy="823"/><circle cx="108" cy="825"/><circle cx="169" cy="772"/><circle cx="132" cy="743"/><circle cx="173" cy="752"/><circle cx="156" cy="842"/><circle cx="128" cy="821"/><circle cx="141" cy="799"/><circle cx="136" cy="766"/><circle cx="145" cy="776"/><circle cx="149" cy="726"/><circle cx="152" cy="739"/><circle cx="148" cy="736"/><circle cx="117" cy="807"/><circle cx="184" cy="828"/><circle cx="135" cy="785"/><circle cx="205" cy="835"/><circle cx="125" cy="845"/><circle cx="165" cy="762"/><circle cx="150" cy="788"/><circle cx="108" cy="766"/><circle cx="130" cy="740"/><circle cx="172" cy="843"/><circle cx="135" cy="809"/><circle cx="172" cy="793"/><circle cx="170" cy="839"/><circle cx="168" cy="795"/><circle cx="195" cy="778"/><circle cx="132" cy="785"/><circle cx="152" cy="769"/><circle cx="152" cy="791"/><circle cx="176" cy="767"/><circle cx="188" cy="825"/><circle cx="133" cy="812"/><circle cx="208" cy="831"/><circle cx="164" cy="838"/><circle cx="149" cy="770"/><circle cx="164" cy="789"/><circle cx="185" cy="714"/><circle cx="164" cy="794"/><circle cx="158" cy="827"/><circle cx="110" cy="765"/><circle cx="151" cy="739"/><circle cx="163" cy="760"/><circle cx="142" cy="797"/><circle cx="114" cy="807"/><circle cx="172" cy="786"/><circle cx="128" cy="821"/><circle cx="138" cy="833"/><circle cx="179" cy="823"/><circle cx="185" cy="832"/><circle cx="113" cy="831"/><circle cx="195" cy="810"/><circle cx="152" cy="794"/><circle cx="123" cy="761"/><circle cx="176" cy="758"/><circle cx="115" cy="753"/><circle cx="159" cy="791"/><circle cx="135" cy="733"/><circle cx="210" cy="812"/><circle cx="139" cy="790"/><circle cx="125" cy="766"/><circle cx="181" cy="741"/><circle cx="184" cy="819"/><circle cx="150" cy="766"/><circle cx="135" cy="816"/><circle cx="110" cy="766"/><circle cx="110" cy="773"/><circle cx="148" cy="817"/><circle cx="151" cy="818"/><circle cx="129" cy="788"/><circle cx="144" cy="812"/><circle cx="138" cy="833"/><circle cx="120" cy="814"/><circle cx="165" cy="782"/><circle cx="118" cy="797"/><circle cx="193" cy="823"/><circle cx="163" cy="784"/><circle cx="137" cy="752"/><circle cx="167" cy="724"/><circle cx="159" cy="835"/><circle cx="150" cy="842"/><circle cx="201" cy="800"/><circle cx="198" cy="827"/><circle cx="126" cy="734"/><circle cx="176" cy="741"/><circle cx="181" cy="784"/><circle cx="175" cy="841"/><circle cx="175" cy="745"/><circle cx="144" cy="766"/><circle cx="134" cy="821"/><circle cx="139" cy="789"/><circle cx="176" cy="812"/><circle cx="145" cy="718"/><circle cx="118" cy="813"/><circle cx="165" cy="787"/><circle cx="176" cy="761"/><circle cx="169" cy="830"/><circle cx="159" cy="727"/><circle cx="173" cy="735"/><circle cx="194" cy="768"/><circle cx="175" cy="802"/><circle cx="140" cy="768"/><circle cx="175" cy="817"/><circle cx="181" cy="819"/><circle cx="138" cy="807"/><circle cx="180" cy="744"/><circle cx="153" cy="788"/><circle cx="172" cy="727"/><circle cx="169" cy="785"/><circle cx="105" cy="760"/><circle cx="211" cy="783"/><circle cx="174" cy="806"/><circle cx="185" cy="800"/><circle cx="168" cy="788"/><circle cx="131" cy="730"/><circle cx="112" cy="759"/><circle cx="126" cy="743"/><circle cx="127" cy="727"/><circle cx="179" cy="742"/><circle cx="175" cy="744"/><circle cx="148" cy="796"/><circle cx="156" cy="809"/><circle cx="137" cy="844"/><circle cx="179" cy="754"/><circle cx="147" cy="825"/><circle cx="140" cy="801"/><circle cx="139" cy="805"/><circle cx="149" cy="728"/><circle cx="169" cy="772"/><circle cx="155" cy="798"/><circle cx="142" cy="735"/><circle cx="129" cy="830"/><circle cx="197" cy="821"/><circle cx="158" cy="699"/><circle cx="143" cy="835"/><circle cx="149" cy="779"/><circle cx="168" cy="751"/><circle cx="112" cy="787"/><circle cx="160" cy="825"/><circle cx="143" cy="827"/><circle cx="136" cy="815"/><circle cx="155" cy="842"/><circle cx="131" cy="763"/></g>
<path d="M106.3,832.1 C105.1,824.5 105.6,798.0 106.3,790.6 C107.0,783.2 107.9,788.7 110.4,787.8 C113.0,786.9 118.3,787.8 121.5,785.0 C124.7,782.3 127.5,777.7 129.8,771.2 C132.1,764.8 133.0,751.8 135.3,746.3 C137.6,740.8 140.9,739.6 143.6,738.0 C146.4,736.4 149.6,735.7 151.9,736.6 C154.2,737.5 155.6,739.6 157.5,743.5 C159.3,747.5 160.7,756.5 163.0,760.1 C165.3,763.8 168.5,763.4 171.3,765.7 C174.1,768.0 176.4,770.3 179.6,774.0 C182.8,777.7 188.4,782.3 190.7,787.8 C193.0,793.4 193.4,800.7 193.4,807.2 C193.4,813.6 192.5,821.9 190.7,826.6 C188.8,831.2 187.0,832.8 182.4,834.9 C177.8,836.9 170.9,838.3 163.0,839.0 C155.2,839.7 143.6,839.5 135.3,839.0 C127.0,838.5 118.0,837.4 113.2,836.2 C108.4,835.1 107.4,839.7 106.3,832.1 Z" fill="none" stroke="#3a3a3a" stroke-width="1.0"/>
<path d="M116.0,825.4 C115.1,819.5 115.5,798.8 116.0,793.1 C116.6,787.3 117.3,791.6 119.3,790.9 C121.3,790.2 125.4,790.9 127.9,788.7 C130.4,786.6 132.6,783.0 134.4,778.0 C136.2,772.9 136.9,762.8 138.7,758.5 C140.5,754.2 143.0,753.3 145.2,752.1 C147.3,750.8 149.9,750.3 151.7,751.0 C153.5,751.7 154.5,753.3 156.0,756.4 C157.4,759.4 158.5,766.4 160.3,769.3 C162.1,772.2 164.6,771.8 166.8,773.6 C168.9,775.4 170.7,777.2 173.2,780.1 C175.8,783.0 180.1,786.6 181.9,790.9 C183.7,795.2 184.0,801.0 184.0,806.0 C184.0,811.0 183.3,817.5 181.9,821.1 C180.4,824.7 179.0,826.0 175.4,827.6 C171.8,829.2 166.4,830.3 160.3,830.8 C154.2,831.4 145.2,831.2 138.7,830.8 C132.2,830.5 125.2,829.6 121.4,828.7 C117.7,827.8 116.9,831.4 116.0,825.4 Z" fill="none" stroke="#3a3a3a" stroke-width="0.8"/>
<path d="M124.9,819.4 C124.3,815.0 124.5,799.6 124.9,795.3 C125.3,791.0 125.9,794.2 127.3,793.7 C128.8,793.2 131.9,793.7 133.7,792.1 C135.6,790.5 137.2,787.8 138.6,784.1 C139.9,780.3 140.4,772.8 141.8,769.6 C143.1,766.4 145.0,765.8 146.6,764.8 C148.2,763.9 150.1,763.5 151.4,764.0 C152.7,764.5 153.5,765.8 154.6,768.0 C155.7,770.3 156.5,775.5 157.8,777.7 C159.2,779.8 161.0,779.5 162.6,780.9 C164.2,782.2 165.6,783.5 167.4,785.7 C169.3,787.8 172.5,790.5 173.9,793.7 C175.2,796.9 175.5,801.2 175.5,804.9 C175.5,808.7 174.9,813.5 173.9,816.2 C172.8,818.8 171.7,819.8 169.1,821.0 C166.4,822.2 162.4,823.0 157.8,823.4 C153.3,823.8 146.6,823.7 141.8,823.4 C137.0,823.1 131.7,822.5 128.9,821.8 C126.1,821.1 125.6,823.8 124.9,819.4 Z" fill="none" stroke="#3a3a3a" stroke-width="0.7"/>
</g>
<clipPath id="cl2"><rect x="223.7" y="661.3" width="131.3" height="212.20000000000005"/></clipPath>
<g clip-path="url(#cl2)">
<path d="M230.8,845.9 C226.0,827.2 229.6,760.6 230.8,738.0 C232.0,715.4 233.3,716.3 237.7,710.3 C242.1,704.3 250.2,702.0 257.1,702.0 C264.0,702.0 272.8,706.2 279.2,710.3 C285.7,714.5 290.8,720.9 295.8,726.9 C300.9,732.9 304.1,738.9 309.7,746.3 C315.2,753.7 323.5,762.5 329.0,771.2 C334.6,780.0 341.5,788.7 342.9,798.9 C344.3,809.0 341.9,823.8 337.3,832.1 C332.7,840.4 328.1,845.7 315.2,848.7 C302.3,851.7 273.9,850.5 259.9,850.1 C245.8,849.6 235.6,864.6 230.8,845.9 Z" fill="#e4e4ff" fill-opacity="0.85" filter="url(#blur5)"/>
<path d="M230.8,826.6 C230.6,817.3 231.0,792.0 232.2,779.5 C233.3,767.1 235.4,758.3 237.7,751.8 C240.0,745.4 243.7,743.1 246.0,740.8 C248.3,738.5 248.8,737.5 251.6,738.0 C254.3,738.5 258.9,742.2 262.6,743.5 C266.3,744.9 270.0,744.5 273.7,746.3 C277.4,748.2 282.2,753.9 284.8,754.6 C287.3,755.3 288.0,749.5 288.9,750.5 C289.8,751.4 289.1,755.8 290.3,760.1 C291.4,764.5 293.1,772.6 295.8,776.7 C298.6,780.9 303.7,781.4 306.9,785.0 C310.1,788.7 313.8,794.7 315.2,798.9 C316.6,803.0 316.6,806.3 315.2,810.0 C313.8,813.6 310.1,816.9 306.9,821.0 C303.7,825.2 301.4,831.4 295.8,834.9 C290.3,838.3 282.0,840.9 273.7,841.8 C265.4,842.7 252.7,841.5 246.0,840.4 C239.3,839.2 236.1,837.2 233.6,834.9 C231.0,832.6 231.0,835.8 230.8,826.6 Z" fill="#b4b4ff" fill-opacity="0.75" filter="url(#blur3)"/>
<path d="M232.1,833.5 C230.8,823.8 231.3,791.3 232.1,781.2 C232.8,771.0 233.3,774.4 236.4,772.4 C239.6,770.5 245.6,769.5 250.9,769.5 C256.3,769.5 263.5,770.5 268.4,772.4 C273.2,774.4 276.1,777.8 280.0,781.2 C283.9,784.5 288.7,787.9 291.6,792.8 C294.5,797.6 296.9,804.4 297.4,810.2 C297.9,816.0 296.9,823.3 294.5,827.6 C292.1,832.0 288.7,834.2 282.9,836.4 C277.1,838.5 266.9,840.2 259.7,840.7 C252.4,841.2 243.9,840.5 239.3,839.3 C234.7,838.1 233.3,843.1 232.1,833.5 Z" fill="#5a5af0" fill-opacity="0.55" filter="url(#blur3)"/>
<mask id="mk2"><path d="M233.6,832.1 C232.4,822.9 232.9,792.0 233.6,782.3 C234.3,772.6 234.7,775.8 237.7,774.0 C240.7,772.1 246.5,771.2 251.6,771.2 C256.6,771.2 263.5,772.1 268.2,774.0 C272.8,775.8 275.5,779.1 279.2,782.3 C282.9,785.5 287.5,788.7 290.3,793.4 C293.1,798.0 295.4,804.4 295.8,810.0 C296.3,815.5 295.4,822.4 293.1,826.6 C290.8,830.7 287.5,832.8 282.0,834.9 C276.5,836.9 266.8,838.5 259.9,839.0 C252.9,839.5 244.9,838.8 240.5,837.6 C236.1,836.5 234.7,841.3 233.6,832.1 Z" fill="#fff" filter="url(#blur2)"/></mask>
<path d="M233.6,832.1 C232.4,822.9 232.9,792.0 233.6,782.3 C234.3,772.6 234.7,775.8 237.7,774.0 C240.7,772.1 246.5,771.2 251.6,771.2 C256.6,771.2 263.5,772.1 268.2,774.0 C272.8,775.8 275.5,779.1 279.2,782.3 C282.9,785.5 287.5,788.7 290.3,793.4 C293.1,798.0 295.4,804.4 295.8,810.0 C296.3,815.5 295.4,822.4 293.1,826.6 C290.8,830.7 287.5,832.8 282.0,834.9 C276.5,836.9 266.8,838.5 259.9,839.0 C252.9,839.5 244.9,838.8 240.5,837.6 C236.1,836.5 234.7,841.3 233.6,832.1 Z" fill="#2828c8" fill-opacity="0.85" filter="url(#blur2)"/>
<rect x="223.7" y="661.3" width="131.3" height="212.20000000000005" fill="url(#pt)" fill-opacity="0.62" mask="url(#mk2)"/>
<g class="pc"><circle cx="292" cy="844"/><circle cx="330" cy="784"/><circle cx="250" cy="839"/><circle cx="264" cy="801"/><circle cx="279" cy="823"/><circle cx="236" cy="763"/><circle cx="238" cy="835"/><circle cx="279" cy="829"/><circle cx="305" cy="785"/><circle cx="255" cy="780"/><circle cx="255" cy="800"/><circle cx="308" cy="745"/><circle cx="232" cy="736"/><circle cx="340" cy="800"/><circle cx="274" cy="763"/><circle cx="284" cy="795"/><circle cx="294" cy="797"/><circle cx="294" cy="716"/><circle cx="232" cy="785"/><circle cx="263" cy="784"/><circle cx="273" cy="831"/><circle cx="274" cy="816"/><circle cx="257" cy="700"/><circle cx="286" cy="833"/><circle cx="333" cy="835"/><circle cx="343" cy="771"/><circle cx="257" cy="782"/><circle cx="314" cy="839"/><circle cx="318" cy="801"/><circle cx="332" cy="808"/><circle cx="336" cy="749"/><circle cx="299" cy="797"/><circle cx="273" cy="720"/><circle cx="331" cy="808"/><circle cx="289" cy="771"/><circle cx="240" cy="779"/><circle cx="302" cy="762"/><circle cx="282" cy="724"/><circle cx="269" cy="712"/><circle cx="305" cy="742"/><circle cx="259" cy="803"/><circle cx="323" cy="823"/><circle cx="287" cy="822"/><circle cx="328" cy="838"/><circle cx="294" cy="780"/><circle cx="263" cy="841"/><circle cx="276" cy="824"/><circle cx="333" cy="734"/><circle cx="287" cy="755"/><circle cx="284" cy="804"/><circle cx="262" cy="732"/><circle cx="244" cy="748"/><circle cx="290" cy="828"/><circle cx="294" cy="769"/><circle cx="260" cy="772"/><circle cx="277" cy="728"/><circle cx="301" cy="768"/><circle cx="329" cy="801"/><circle cx="259" cy="777"/><circle cx="263" cy="769"/><circle cx="269" cy="756"/><circle cx="321" cy="776"/><circle cx="265" cy="778"/><circle cx="314" cy="833"/><circle cx="275" cy="778"/><circle cx="244" cy="818"/><circle cx="275" cy="738"/><circle cx="252" cy="817"/><circle cx="301" cy="706"/><circle cx="293" cy="833"/><circle cx="261" cy="773"/><circle cx="260" cy="775"/><circle cx="287" cy="805"/><circle cx="310" cy="778"/><circle cx="326" cy="743"/><circle cx="311" cy="779"/><circle cx="243" cy="790"/><circle cx="276" cy="792"/><circle cx="256" cy="762"/><circle cx="289" cy="824"/><circle cx="296" cy="753"/><circle cx="301" cy="828"/><circle cx="288" cy="832"/><circle cx="266" cy="841"/><circle cx="248" cy="821"/><circle cx="274" cy="815"/><circle cx="267" cy="819"/><circle cx="277" cy="750"/><circle cx="291" cy="768"/><circle cx="269" cy="825"/><circle cx="267" cy="803"/><circle cx="258" cy="848"/><circle cx="318" cy="810"/><circle cx="257" cy="759"/><circle cx="298" cy="771"/><circle cx="268" cy="844"/><circle cx="240" cy="783"/><circle cx="280" cy="747"/><circle cx="316" cy="836"/><circle cx="243" cy="830"/><circle cx="232" cy="798"/><circle cx="262" cy="783"/><circle cx="303" cy="750"/><circle cx="299" cy="752"/><circle cx="263" cy="746"/><circle cx="269" cy="777"/><circle cx="307" cy="758"/><circle cx="281" cy="804"/><circle cx="277" cy="793"/><circle cx="240" cy="795"/><circle cx="234" cy="733"/><circle cx="261" cy="785"/><circle cx="272" cy="791"/><circle cx="244" cy="777"/><circle cx="252" cy="813"/><circle cx="318" cy="746"/><circle cx="275" cy="719"/><circle cx="244" cy="770"/><circle cx="246" cy="775"/><circle cx="335" cy="810"/><circle cx="303" cy="743"/><circle cx="247" cy="804"/><circle cx="311" cy="819"/><circle cx="283" cy="808"/><circle cx="233" cy="726"/><circle cx="297" cy="795"/><circle cx="314" cy="768"/><circle cx="299" cy="796"/><circle cx="286" cy="676"/><circle cx="243" cy="713"/><circle cx="321" cy="811"/><circle cx="265" cy="719"/><circle cx="301" cy="835"/><circle cx="241" cy="844"/><circle cx="263" cy="814"/><circle cx="276" cy="833"/><circle cx="302" cy="775"/><circle cx="294" cy="773"/><circle cx="339" cy="794"/><circle cx="255" cy="798"/><circle cx="248" cy="693"/><circle cx="310" cy="842"/><circle cx="327" cy="830"/><circle cx="273" cy="834"/><circle cx="328" cy="756"/><circle cx="251" cy="797"/><circle cx="299" cy="827"/><circle cx="247" cy="833"/><circle cx="262" cy="827"/><circle cx="236" cy="820"/><circle cx="340" cy="849"/><circle cx="298" cy="773"/><circle cx="296" cy="774"/><circle cx="239" cy="801"/><circle cx="282" cy="799"/><circle cx="330" cy="725"/><circle cx="341" cy="713"/><circle cx="247" cy="791"/><circle cx="253" cy="796"/><circle cx="329" cy="824"/><circle cx="245" cy="781"/><circle cx="308" cy="758"/><circle cx="291" cy="778"/><circle cx="264" cy="808"/><circle cx="279" cy="799"/><circle cx="237" cy="799"/><circle cx="283" cy="848"/><circle cx="279" cy="730"/><circle cx="275" cy="784"/><circle cx="238" cy="784"/><circle cx="261" cy="840"/><circle cx="276" cy="827"/><circle cx="244" cy="728"/><circle cx="247" cy="819"/><circle cx="281" cy="820"/><circle cx="291" cy="768"/><circle cx="331" cy="808"/><circle cx="290" cy="811"/><circle cx="247" cy="828"/><circle cx="238" cy="837"/><circle cx="277" cy="823"/><circle cx="269" cy="737"/><circle cx="281" cy="719"/><circle cx="243" cy="715"/><circle cx="302" cy="821"/><circle cx="251" cy="835"/><circle cx="264" cy="810"/><circle cx="266" cy="760"/><circle cx="284" cy="799"/><circle cx="249" cy="784"/><circle cx="249" cy="706"/><circle cx="323" cy="834"/><circle cx="329" cy="814"/><circle cx="261" cy="805"/><circle cx="264" cy="803"/><circle cx="243" cy="782"/><circle cx="273" cy="812"/><circle cx="237" cy="735"/><circle cx="248" cy="821"/><circle cx="261" cy="803"/><circle cx="288" cy="798"/><circle cx="252" cy="810"/><circle cx="336" cy="796"/><circle cx="308" cy="684"/><circle cx="238" cy="796"/><circle cx="274" cy="794"/><circle cx="278" cy="782"/><circle cx="235" cy="738"/><circle cx="309" cy="705"/><circle cx="277" cy="762"/><circle cx="318" cy="833"/><circle cx="268" cy="827"/><circle cx="246" cy="742"/><circle cx="293" cy="740"/><circle cx="274" cy="761"/><circle cx="256" cy="768"/><circle cx="290" cy="725"/><circle cx="254" cy="786"/><circle cx="284" cy="816"/><circle cx="246" cy="758"/><circle cx="245" cy="753"/><circle cx="276" cy="758"/><circle cx="237" cy="821"/><circle cx="340" cy="837"/><circle cx="303" cy="829"/><circle cx="257" cy="807"/><circle cx="267" cy="770"/><circle cx="294" cy="736"/><circle cx="246" cy="833"/><circle cx="298" cy="763"/><circle cx="242" cy="820"/><circle cx="260" cy="825"/><circle cx="239" cy="838"/><circle cx="275" cy="723"/><circle cx="254" cy="803"/><circle cx="264" cy="751"/><circle cx="266" cy="794"/><circle cx="263" cy="827"/><circle cx="246" cy="825"/><circle cx="242" cy="758"/><circle cx="251" cy="823"/><circle cx="264" cy="733"/><circle cx="251" cy="803"/><circle cx="268" cy="778"/><circle cx="274" cy="822"/><circle cx="250" cy="838"/><circle cx="305" cy="846"/><circle cx="284" cy="768"/><circle cx="235" cy="743"/><circle cx="241" cy="728"/><circle cx="289" cy="735"/><circle cx="253" cy="832"/><circle cx="255" cy="781"/><circle cx="277" cy="740"/><circle cx="309" cy="809"/><circle cx="241" cy="787"/><circle cx="270" cy="831"/><circle cx="275" cy="802"/><circle cx="271" cy="760"/><circle cx="290" cy="774"/><circle cx="242" cy="777"/><circle cx="271" cy="761"/><circle cx="323" cy="768"/><circle cx="281" cy="828"/><circle cx="278" cy="786"/><circle cx="237" cy="779"/><circle cx="313" cy="785"/><circle cx="339" cy="737"/><circle cx="298" cy="768"/><circle cx="301" cy="782"/><circle cx="243" cy="821"/><circle cx="270" cy="732"/><circle cx="262" cy="822"/><circle cx="253" cy="734"/><circle cx="285" cy="732"/><circle cx="261" cy="684"/><circle cx="334" cy="834"/><circle cx="259" cy="803"/><circle cx="245" cy="792"/><circle cx="239" cy="804"/><circle cx="282" cy="839"/><circle cx="249" cy="764"/><circle cx="286" cy="818"/><circle cx="256" cy="711"/><circle cx="268" cy="809"/><circle cx="301" cy="803"/><circle cx="287" cy="831"/><circle cx="300" cy="814"/><circle cx="251" cy="757"/><circle cx="273" cy="788"/><circle cx="312" cy="774"/><circle cx="243" cy="719"/><circle cx="260" cy="809"/><circle cx="313" cy="836"/><circle cx="304" cy="821"/><circle cx="298" cy="785"/><circle cx="311" cy="848"/><circle cx="275" cy="814"/><circle cx="257" cy="810"/><circle cx="295" cy="758"/><circle cx="244" cy="825"/><circle cx="251" cy="822"/><circle cx="332" cy="813"/><circle cx="329" cy="710"/><circle cx="243" cy="811"/><circle cx="253" cy="812"/><circle cx="305" cy="809"/><circle cx="271" cy="850"/><circle cx="232" cy="811"/><circle cx="238" cy="747"/><circle cx="326" cy="769"/><circle cx="282" cy="829"/><circle cx="241" cy="803"/><circle cx="242" cy="755"/><circle cx="312" cy="811"/><circle cx="269" cy="745"/><circle cx="277" cy="710"/><circle cx="278" cy="749"/><circle cx="271" cy="807"/><circle cx="312" cy="806"/><circle cx="325" cy="746"/><circle cx="275" cy="776"/><circle cx="304" cy="770"/><circle cx="235" cy="825"/><circle cx="234" cy="824"/><circle cx="299" cy="832"/><circle cx="263" cy="826"/><circle cx="243" cy="793"/><circle cx="244" cy="737"/><circle cx="308" cy="782"/><circle cx="267" cy="727"/><circle cx="247" cy="790"/><circle cx="266" cy="840"/><circle cx="286" cy="837"/><circle cx="281" cy="828"/><circle cx="269" cy="738"/><circle cx="292" cy="827"/><circle cx="307" cy="828"/><circle cx="301" cy="767"/><circle cx="231" cy="804"/><circle cx="285" cy="780"/><circle cx="256" cy="785"/><circle cx="247" cy="785"/><circle cx="243" cy="793"/><circle cx="287" cy="770"/><circle cx="310" cy="838"/><circle cx="251" cy="716"/><circle cx="282" cy="841"/><circle cx="243" cy="765"/><circle cx="290" cy="822"/><circle cx="263" cy="831"/><circle cx="265" cy="713"/><circle cx="281" cy="805"/><circle cx="259" cy="812"/><circle cx="255" cy="776"/><circle cx="312" cy="798"/><circle cx="334" cy="741"/><circle cx="322" cy="701"/><circle cx="315" cy="800"/><circle cx="287" cy="793"/><circle cx="239" cy="724"/><circle cx="307" cy="789"/><circle cx="319" cy="843"/><circle cx="331" cy="686"/><circle cx="334" cy="719"/><circle cx="257" cy="847"/><circle cx="307" cy="779"/><circle cx="276" cy="822"/><circle cx="268" cy="823"/><circle cx="273" cy="751"/><circle cx="256" cy="819"/><circle cx="234" cy="813"/><circle cx="303" cy="764"/><circle cx="342" cy="801"/><circle cx="283" cy="834"/><circle cx="262" cy="785"/><circle cx="281" cy="793"/><circle cx="243" cy="734"/><circle cx="313" cy="808"/><circle cx="271" cy="796"/><circle cx="256" cy="796"/><circle cx="262" cy="758"/><circle cx="259" cy="764"/><circle cx="279" cy="831"/><circle cx="335" cy="816"/><circle cx="262" cy="753"/><circle cx="259" cy="847"/><circle cx="259" cy="841"/><circle cx="236" cy="822"/><circle cx="240" cy="842"/><circle cx="279" cy="798"/><circle cx="288" cy="822"/><circle cx="246" cy="735"/><circle cx="329" cy="749"/><circle cx="288" cy="798"/><circle cx="237" cy="780"/><circle cx="256" cy="782"/><circle cx="247" cy="767"/><circle cx="262" cy="809"/><circle cx="277" cy="833"/><circle cx="287" cy="843"/><circle cx="256" cy="733"/><circle cx="302" cy="771"/><circle cx="263" cy="807"/><circle cx="276" cy="715"/><circle cx="242" cy="737"/><circle cx="241" cy="834"/><circle cx="263" cy="848"/><circle cx="234" cy="698"/><circle cx="285" cy="732"/><circle cx="261" cy="844"/><circle cx="279" cy="782"/><circle cx="245" cy="723"/><circle cx="286" cy="811"/><circle cx="279" cy="798"/><circle cx="262" cy="786"/><circle cx="256" cy="840"/><circle cx="279" cy="805"/><circle cx="334" cy="718"/><circle cx="282" cy="711"/><circle cx="259" cy="818"/><circle cx="247" cy="782"/><circle cx="300" cy="803"/><circle cx="260" cy="781"/><circle cx="257" cy="793"/><circle cx="237" cy="774"/><circle cx="238" cy="826"/><circle cx="339" cy="763"/><circle cx="243" cy="765"/><circle cx="286" cy="829"/><circle cx="255" cy="838"/><circle cx="254" cy="744"/><circle cx="251" cy="841"/><circle cx="276" cy="827"/><circle cx="262" cy="767"/><circle cx="315" cy="834"/><circle cx="276" cy="742"/><circle cx="302" cy="747"/><circle cx="313" cy="840"/><circle cx="262" cy="842"/><circle cx="254" cy="829"/><circle cx="305" cy="811"/><circle cx="238" cy="755"/><circle cx="267" cy="753"/><circle cx="315" cy="754"/><circle cx="288" cy="739"/><circle cx="302" cy="749"/><circle cx="314" cy="832"/><circle cx="254" cy="774"/><circle cx="295" cy="713"/><circle cx="314" cy="804"/><circle cx="262" cy="781"/><circle cx="265" cy="752"/><circle cx="282" cy="832"/><circle cx="245" cy="808"/><circle cx="255" cy="738"/><circle cx="271" cy="804"/><circle cx="235" cy="814"/><circle cx="243" cy="801"/><circle cx="281" cy="811"/><circle cx="276" cy="732"/><circle cx="251" cy="823"/><circle cx="274" cy="831"/><circle cx="267" cy="789"/><circle cx="285" cy="828"/><circle cx="253" cy="763"/><circle cx="297" cy="703"/><circle cx="274" cy="841"/><circle cx="303" cy="768"/><circle cx="264" cy="797"/><circle cx="234" cy="810"/><circle cx="234" cy="794"/><circle cx="260" cy="816"/><circle cx="232" cy="739"/><circle cx="292" cy="762"/><circle cx="259" cy="784"/><circle cx="308" cy="824"/><circle cx="246" cy="728"/><circle cx="265" cy="830"/><circle cx="300" cy="808"/><circle cx="250" cy="760"/><circle cx="281" cy="759"/><circle cx="271" cy="748"/><circle cx="239" cy="829"/><circle cx="279" cy="762"/><circle cx="251" cy="813"/><circle cx="250" cy="783"/><circle cx="288" cy="801"/><circle cx="272" cy="744"/><circle cx="245" cy="821"/><circle cx="235" cy="807"/><circle cx="274" cy="718"/><circle cx="240" cy="696"/><circle cx="323" cy="849"/><circle cx="267" cy="794"/><circle cx="242" cy="769"/><circle cx="331" cy="677"/><circle cx="266" cy="742"/><circle cx="343" cy="724"/><circle cx="296" cy="706"/><circle cx="328" cy="825"/><circle cx="231" cy="797"/><circle cx="242" cy="811"/><circle cx="268" cy="821"/><circle cx="266" cy="829"/><circle cx="256" cy="784"/><circle cx="320" cy="838"/><circle cx="270" cy="810"/><circle cx="238" cy="812"/><circle cx="256" cy="830"/><circle cx="311" cy="774"/><circle cx="301" cy="781"/><circle cx="239" cy="823"/></g>
<path d="M230.8,826.6 C230.6,817.3 231.0,792.0 232.2,779.5 C233.3,767.1 235.4,758.3 237.7,751.8 C240.0,745.4 243.7,743.1 246.0,740.8 C248.3,738.5 248.8,737.5 251.6,738.0 C254.3,738.5 258.9,742.2 262.6,743.5 C266.3,744.9 270.0,744.5 273.7,746.3 C277.4,748.2 282.2,753.9 284.8,754.6 C287.3,755.3 288.0,749.5 288.9,750.5 C289.8,751.4 289.1,755.8 290.3,760.1 C291.4,764.5 293.1,772.6 295.8,776.7 C298.6,780.9 303.7,781.4 306.9,785.0 C310.1,788.7 313.8,794.7 315.2,798.9 C316.6,803.0 316.6,806.3 315.2,810.0 C313.8,813.6 310.1,816.9 306.9,821.0 C303.7,825.2 301.4,831.4 295.8,834.9 C290.3,838.3 282.0,840.9 273.7,841.8 C265.4,842.7 252.7,841.5 246.0,840.4 C239.3,839.2 236.1,837.2 233.6,834.9 C231.0,832.6 231.0,835.8 230.8,826.6 Z" fill="none" stroke="#2c2c50" stroke-width="1.0"/>
<path d="M238.1,821.8 C237.9,814.6 238.2,794.8 239.1,785.1 C240.0,775.4 241.7,768.5 243.5,763.5 C245.3,758.5 248.1,756.7 249.9,754.9 C251.7,753.1 252.1,752.3 254.2,752.7 C256.4,753.1 260.0,755.9 262.9,757.0 C265.8,758.1 268.6,757.7 271.5,759.2 C274.4,760.6 278.2,765.1 280.1,765.6 C282.1,766.2 282.7,761.7 283.4,762.4 C284.1,763.1 283.6,766.5 284.5,770.0 C285.4,773.4 286.6,779.7 288.8,782.9 C290.9,786.1 294.9,786.5 297.4,789.4 C299.9,792.3 302.8,796.9 303.9,800.2 C305.0,803.4 305.0,805.9 303.9,808.8 C302.8,811.7 299.9,814.2 297.4,817.4 C294.9,820.7 293.1,825.5 288.8,828.2 C284.5,830.9 278.0,832.9 271.5,833.6 C265.0,834.4 255.1,833.5 249.9,832.6 C244.7,831.7 242.2,830.0 240.2,828.2 C238.2,826.4 238.2,829.0 238.1,821.8 Z" fill="none" stroke="#2c2c50" stroke-width="0.8"/>
<path d="M244.7,817.4 C244.5,812.1 244.8,797.3 245.5,790.1 C246.1,782.9 247.3,777.8 248.7,774.1 C250.0,770.3 252.1,769.0 253.5,767.7 C254.8,766.3 255.1,765.8 256.7,766.0 C258.3,766.3 261.0,768.5 263.1,769.3 C265.2,770.1 267.4,769.8 269.5,770.9 C271.7,771.9 274.5,775.3 275.9,775.7 C277.4,776.1 277.8,772.7 278.4,773.3 C278.9,773.8 278.5,776.3 279.2,778.9 C279.8,781.4 280.8,786.1 282.4,788.5 C284.0,790.9 286.9,791.2 288.8,793.3 C290.7,795.5 292.8,798.9 293.6,801.4 C294.4,803.8 294.4,805.6 293.6,807.8 C292.8,809.9 290.7,811.8 288.8,814.2 C286.9,816.6 285.6,820.2 282.4,822.2 C279.2,824.2 274.3,825.7 269.5,826.2 C264.7,826.8 257.4,826.1 253.5,825.4 C249.6,824.8 247.7,823.6 246.3,822.2 C244.8,820.9 244.8,822.8 244.7,817.4 Z" fill="none" stroke="#2c2c50" stroke-width="0.7"/>
</g>
<clipPath id="cl3"><rect x="357" y="661.3" width="131" height="212.20000000000005"/></clipPath>
<g clip-path="url(#cl3)">
<path d="M363.6,848.7 C357.9,825.4 362.0,736.6 363.6,710.3 C365.2,684.1 368.5,693.3 373.3,691.0 C378.1,688.7 386.2,691.0 392.7,696.5 C399.1,702.0 405.1,715.9 412.0,724.2 C419.0,732.5 425.9,738.5 434.2,746.3 C442.5,754.2 454.9,762.5 461.8,771.2 C468.8,780.0 473.8,789.7 475.7,798.9 C477.5,808.1 477.5,819.2 472.9,826.6 C468.3,833.9 460.5,839.2 448.0,843.2 C435.6,847.1 412.3,849.2 398.2,850.1 C384.1,851.0 369.4,872.0 363.6,848.7 Z" fill="#f7eff7" fill-opacity="0.85" filter="url(#blur5)"/>
<path d="M365.0,821.0 C363.8,805.8 365.0,760.6 366.4,746.3 C367.8,732.0 370.3,737.5 373.3,735.2 C376.3,732.9 380.7,733.9 384.4,732.5 C388.1,731.1 392.7,723.3 395.4,726.9 C398.2,730.6 398.7,750.7 401.0,754.6 C403.3,758.5 406.0,751.4 409.3,750.5 C412.5,749.5 416.7,746.5 420.3,749.1 C424.0,751.6 428.2,760.1 431.4,765.7 C434.6,771.2 436.5,777.7 439.7,782.3 C442.9,786.9 449.4,789.7 450.8,793.4 C452.2,797.0 450.3,800.7 448.0,804.4 C445.7,808.1 440.6,811.3 436.9,815.5 C433.3,819.6 432.3,825.6 425.9,829.3 C419.4,833.0 407.0,836.2 398.2,837.6 C389.4,839.0 378.8,840.4 373.3,837.6 C367.8,834.9 366.2,836.2 365.0,821.0 Z" fill="#efdcef" fill-opacity="0.75" filter="url(#blur3)"/>
<path d="M363.3,836.6 C360.9,824.7 362.3,781.8 363.3,769.7 C364.3,757.6 365.7,764.4 369.1,763.9 C372.5,763.4 378.8,766.8 383.6,766.8 C388.5,766.8 393.3,763.4 398.2,763.9 C403.0,764.4 408.8,766.8 412.7,769.7 C416.6,772.6 419.0,776.5 421.4,781.4 C423.8,786.2 425.3,793.0 427.2,798.8 C429.2,804.6 433.0,811.4 433.0,816.2 C433.0,821.1 430.6,824.9 427.2,827.8 C423.8,830.8 417.5,831.7 412.7,833.7 C407.8,835.6 404.0,838.3 398.2,839.5 C392.4,840.7 383.6,841.4 377.8,840.9 C372.0,840.4 365.7,848.4 363.3,836.6 Z" fill="#dcb0d8" fill-opacity="0.55" filter="url(#blur3)"/>
<mask id="mk3"><path d="M365.0,834.9 C362.7,823.6 364.1,782.7 365.0,771.2 C365.9,759.7 367.3,766.1 370.5,765.7 C373.8,765.2 379.8,768.4 384.4,768.4 C389.0,768.4 393.6,765.2 398.2,765.7 C402.8,766.1 408.4,768.4 412.0,771.2 C415.7,774.0 418.0,777.7 420.3,782.3 C422.6,786.9 424.0,793.4 425.9,798.9 C427.7,804.4 431.4,810.9 431.4,815.5 C431.4,820.1 429.1,823.8 425.9,826.6 C422.6,829.3 416.7,830.2 412.0,832.1 C407.4,833.9 403.7,836.5 398.2,837.6 C392.7,838.8 384.4,839.5 378.8,839.0 C373.3,838.5 367.3,846.2 365.0,834.9 Z" fill="#fff" filter="url(#blur2)"/></mask>
<path d="M365.0,834.9 C362.7,823.6 364.1,782.7 365.0,771.2 C365.9,759.7 367.3,766.1 370.5,765.7 C373.8,765.2 379.8,768.4 384.4,768.4 C389.0,768.4 393.6,765.2 398.2,765.7 C402.8,766.1 408.4,768.4 412.0,771.2 C415.7,774.0 418.0,777.7 420.3,782.3 C422.6,786.9 424.0,793.4 425.9,798.9 C427.7,804.4 431.4,810.9 431.4,815.5 C431.4,820.1 429.1,823.8 425.9,826.6 C422.6,829.3 416.7,830.2 412.0,832.1 C407.4,833.9 403.7,836.5 398.2,837.6 C392.7,838.8 384.4,839.5 378.8,839.0 C373.3,838.5 367.3,846.2 365.0,834.9 Z" fill="#7a7080" fill-opacity="0.85" filter="url(#blur2)"/>
<rect x="357" y="661.3" width="131" height="212.20000000000005" fill="url(#pt)" fill-opacity="1.0" mask="url(#mk3)"/>
<g class="pc"><circle cx="422" cy="793"/><circle cx="461" cy="818"/><circle cx="402" cy="819"/><circle cx="383" cy="715"/><circle cx="370" cy="740"/><circle cx="445" cy="795"/><circle cx="392" cy="820"/><circle cx="411" cy="819"/><circle cx="425" cy="842"/><circle cx="397" cy="779"/><circle cx="450" cy="750"/><circle cx="462" cy="708"/><circle cx="408" cy="794"/><circle cx="378" cy="819"/><circle cx="370" cy="831"/><circle cx="407" cy="725"/><circle cx="454" cy="787"/><circle cx="451" cy="839"/><circle cx="383" cy="707"/><circle cx="373" cy="794"/><circle cx="416" cy="753"/><circle cx="370" cy="839"/><circle cx="382" cy="801"/><circle cx="407" cy="803"/><circle cx="378" cy="758"/><circle cx="414" cy="840"/><circle cx="397" cy="800"/><circle cx="421" cy="770"/><circle cx="370" cy="825"/><circle cx="414" cy="738"/><circle cx="413" cy="843"/><circle cx="384" cy="748"/><circle cx="391" cy="826"/><circle cx="447" cy="833"/><circle cx="401" cy="810"/><circle cx="399" cy="762"/><circle cx="458" cy="801"/><circle cx="383" cy="729"/><circle cx="379" cy="833"/><circle cx="387" cy="779"/><circle cx="437" cy="796"/><circle cx="446" cy="783"/><circle cx="422" cy="815"/><circle cx="429" cy="769"/><circle cx="422" cy="712"/><circle cx="443" cy="795"/><circle cx="427" cy="836"/><circle cx="381" cy="747"/><circle cx="404" cy="737"/><circle cx="394" cy="834"/><circle cx="375" cy="819"/><circle cx="407" cy="784"/><circle cx="395" cy="801"/><circle cx="408" cy="788"/><circle cx="372" cy="784"/><circle cx="386" cy="807"/><circle cx="420" cy="837"/><circle cx="435" cy="804"/><circle cx="417" cy="832"/><circle cx="382" cy="800"/><circle cx="433" cy="837"/><circle cx="428" cy="801"/><circle cx="459" cy="689"/><circle cx="431" cy="745"/><circle cx="373" cy="822"/><circle cx="402" cy="832"/><circle cx="374" cy="824"/><circle cx="417" cy="797"/><circle cx="455" cy="833"/><circle cx="390" cy="723"/><circle cx="429" cy="809"/><circle cx="393" cy="834"/><circle cx="398" cy="797"/><circle cx="408" cy="773"/><circle cx="416" cy="830"/><circle cx="367" cy="818"/><circle cx="401" cy="749"/><circle cx="403" cy="736"/><circle cx="438" cy="844"/><circle cx="416" cy="755"/><circle cx="440" cy="769"/><circle cx="415" cy="817"/><circle cx="411" cy="767"/><circle cx="450" cy="766"/><circle cx="427" cy="849"/><circle cx="408" cy="791"/><circle cx="445" cy="712"/><circle cx="369" cy="783"/><circle cx="422" cy="763"/><circle cx="431" cy="827"/><circle cx="395" cy="830"/><circle cx="371" cy="780"/><circle cx="443" cy="788"/><circle cx="430" cy="743"/><circle cx="427" cy="787"/><circle cx="425" cy="782"/><circle cx="390" cy="728"/><circle cx="440" cy="836"/><circle cx="423" cy="757"/><circle cx="450" cy="769"/><circle cx="420" cy="738"/><circle cx="444" cy="797"/><circle cx="459" cy="725"/><circle cx="477" cy="790"/><circle cx="448" cy="705"/><circle cx="414" cy="818"/><circle cx="427" cy="836"/><circle cx="414" cy="761"/><circle cx="438" cy="772"/><circle cx="426" cy="767"/><circle cx="420" cy="782"/><circle cx="392" cy="764"/><circle cx="381" cy="847"/><circle cx="370" cy="790"/><circle cx="367" cy="725"/><circle cx="380" cy="767"/><circle cx="398" cy="783"/><circle cx="375" cy="801"/><circle cx="375" cy="781"/><circle cx="397" cy="760"/><circle cx="406" cy="841"/><circle cx="373" cy="769"/><circle cx="382" cy="770"/><circle cx="387" cy="839"/><circle cx="411" cy="804"/><circle cx="447" cy="750"/><circle cx="403" cy="783"/><circle cx="370" cy="821"/><circle cx="438" cy="834"/><circle cx="369" cy="775"/><circle cx="443" cy="831"/><circle cx="371" cy="773"/><circle cx="377" cy="788"/><circle cx="369" cy="832"/><circle cx="421" cy="772"/><circle cx="374" cy="793"/><circle cx="373" cy="699"/><circle cx="364" cy="820"/><circle cx="404" cy="759"/><circle cx="401" cy="765"/><circle cx="371" cy="807"/><circle cx="410" cy="805"/><circle cx="394" cy="783"/><circle cx="455" cy="790"/><circle cx="386" cy="832"/><circle cx="385" cy="801"/><circle cx="383" cy="804"/><circle cx="433" cy="748"/><circle cx="402" cy="807"/><circle cx="410" cy="849"/><circle cx="446" cy="781"/><circle cx="379" cy="727"/><circle cx="426" cy="816"/><circle cx="368" cy="816"/><circle cx="380" cy="686"/><circle cx="401" cy="779"/><circle cx="457" cy="693"/><circle cx="435" cy="828"/><circle cx="388" cy="785"/><circle cx="453" cy="821"/><circle cx="435" cy="705"/><circle cx="395" cy="790"/><circle cx="428" cy="765"/><circle cx="408" cy="761"/><circle cx="375" cy="795"/><circle cx="367" cy="790"/><circle cx="453" cy="796"/><circle cx="409" cy="757"/><circle cx="412" cy="753"/><circle cx="368" cy="768"/><circle cx="402" cy="775"/><circle cx="373" cy="725"/><circle cx="380" cy="825"/><circle cx="364" cy="760"/><circle cx="392" cy="839"/><circle cx="391" cy="812"/><circle cx="413" cy="836"/><circle cx="477" cy="669"/><circle cx="399" cy="713"/><circle cx="400" cy="836"/><circle cx="373" cy="845"/><circle cx="420" cy="799"/><circle cx="455" cy="767"/><circle cx="415" cy="746"/><circle cx="452" cy="762"/><circle cx="393" cy="825"/><circle cx="456" cy="802"/><circle cx="388" cy="773"/><circle cx="382" cy="738"/><circle cx="411" cy="790"/><circle cx="456" cy="767"/><circle cx="456" cy="799"/><circle cx="461" cy="729"/><circle cx="437" cy="764"/><circle cx="378" cy="776"/><circle cx="439" cy="828"/><circle cx="388" cy="735"/><circle cx="413" cy="746"/><circle cx="388" cy="821"/><circle cx="470" cy="817"/><circle cx="369" cy="802"/><circle cx="400" cy="742"/><circle cx="400" cy="738"/><circle cx="464" cy="778"/><circle cx="423" cy="798"/><circle cx="367" cy="800"/><circle cx="370" cy="786"/><circle cx="383" cy="723"/><circle cx="468" cy="719"/><circle cx="421" cy="828"/><circle cx="418" cy="843"/><circle cx="411" cy="754"/><circle cx="394" cy="814"/><circle cx="438" cy="804"/><circle cx="403" cy="817"/><circle cx="366" cy="708"/><circle cx="368" cy="765"/><circle cx="401" cy="810"/><circle cx="395" cy="791"/><circle cx="365" cy="802"/><circle cx="427" cy="691"/><circle cx="470" cy="822"/><circle cx="400" cy="756"/><circle cx="397" cy="767"/><circle cx="411" cy="676"/><circle cx="422" cy="816"/><circle cx="404" cy="755"/><circle cx="459" cy="825"/><circle cx="407" cy="825"/><circle cx="398" cy="707"/><circle cx="455" cy="807"/><circle cx="421" cy="781"/><circle cx="367" cy="834"/><circle cx="396" cy="820"/><circle cx="392" cy="773"/><circle cx="421" cy="721"/><circle cx="435" cy="792"/><circle cx="426" cy="835"/><circle cx="401" cy="743"/><circle cx="445" cy="736"/><circle cx="411" cy="836"/><circle cx="390" cy="678"/><circle cx="366" cy="717"/><circle cx="386" cy="789"/><circle cx="425" cy="834"/><circle cx="438" cy="770"/><circle cx="393" cy="775"/><circle cx="381" cy="819"/><circle cx="432" cy="822"/><circle cx="400" cy="716"/><circle cx="391" cy="775"/><circle cx="401" cy="842"/><circle cx="382" cy="766"/><circle cx="433" cy="752"/><circle cx="386" cy="721"/><circle cx="416" cy="709"/><circle cx="427" cy="743"/><circle cx="478" cy="690"/><circle cx="382" cy="767"/><circle cx="413" cy="735"/><circle cx="403" cy="730"/><circle cx="421" cy="749"/><circle cx="392" cy="793"/><circle cx="401" cy="828"/><circle cx="382" cy="771"/><circle cx="430" cy="812"/><circle cx="416" cy="805"/><circle cx="376" cy="749"/><circle cx="384" cy="708"/><circle cx="393" cy="800"/><circle cx="391" cy="746"/><circle cx="367" cy="773"/><circle cx="415" cy="819"/><circle cx="432" cy="749"/><circle cx="412" cy="836"/><circle cx="391" cy="736"/><circle cx="411" cy="788"/><circle cx="413" cy="694"/><circle cx="383" cy="713"/><circle cx="395" cy="800"/><circle cx="366" cy="849"/><circle cx="410" cy="781"/><circle cx="455" cy="761"/><circle cx="408" cy="774"/><circle cx="383" cy="808"/><circle cx="420" cy="750"/><circle cx="404" cy="834"/><circle cx="452" cy="839"/><circle cx="381" cy="827"/><circle cx="423" cy="820"/><circle cx="372" cy="759"/><circle cx="370" cy="783"/><circle cx="473" cy="817"/><circle cx="406" cy="767"/><circle cx="401" cy="763"/><circle cx="433" cy="747"/><circle cx="408" cy="769"/><circle cx="378" cy="784"/><circle cx="364" cy="820"/><circle cx="448" cy="810"/><circle cx="418" cy="733"/><circle cx="379" cy="828"/><circle cx="412" cy="813"/><circle cx="373" cy="835"/><circle cx="409" cy="824"/><circle cx="381" cy="792"/><circle cx="397" cy="802"/><circle cx="438" cy="797"/><circle cx="366" cy="817"/><circle cx="389" cy="761"/><circle cx="368" cy="723"/><circle cx="411" cy="831"/><circle cx="443" cy="759"/><circle cx="396" cy="831"/><circle cx="393" cy="805"/><circle cx="375" cy="813"/><circle cx="422" cy="837"/><circle cx="457" cy="781"/><circle cx="401" cy="846"/><circle cx="428" cy="796"/><circle cx="445" cy="812"/><circle cx="390" cy="781"/><circle cx="415" cy="764"/><circle cx="388" cy="765"/><circle cx="417" cy="786"/><circle cx="403" cy="785"/><circle cx="427" cy="743"/><circle cx="364" cy="743"/><circle cx="433" cy="834"/><circle cx="376" cy="776"/><circle cx="392" cy="798"/><circle cx="389" cy="764"/><circle cx="378" cy="778"/><circle cx="383" cy="845"/><circle cx="380" cy="825"/><circle cx="391" cy="822"/><circle cx="410" cy="834"/><circle cx="382" cy="712"/><circle cx="413" cy="778"/><circle cx="402" cy="761"/><circle cx="431" cy="823"/><circle cx="431" cy="799"/><circle cx="416" cy="739"/><circle cx="390" cy="820"/><circle cx="401" cy="798"/><circle cx="412" cy="842"/><circle cx="373" cy="790"/><circle cx="401" cy="784"/><circle cx="451" cy="835"/><circle cx="439" cy="836"/><circle cx="464" cy="782"/><circle cx="373" cy="724"/><circle cx="376" cy="703"/><circle cx="369" cy="829"/><circle cx="420" cy="740"/><circle cx="446" cy="846"/><circle cx="401" cy="814"/><circle cx="395" cy="791"/><circle cx="438" cy="796"/><circle cx="430" cy="832"/><circle cx="397" cy="783"/><circle cx="386" cy="811"/><circle cx="451" cy="783"/><circle cx="383" cy="800"/><circle cx="387" cy="798"/><circle cx="398" cy="734"/><circle cx="420" cy="800"/><circle cx="436" cy="771"/><circle cx="377" cy="760"/><circle cx="412" cy="686"/><circle cx="379" cy="799"/><circle cx="388" cy="840"/><circle cx="426" cy="777"/><circle cx="415" cy="844"/><circle cx="375" cy="803"/><circle cx="434" cy="836"/><circle cx="396" cy="767"/><circle cx="393" cy="794"/><circle cx="440" cy="818"/><circle cx="461" cy="802"/><circle cx="414" cy="741"/><circle cx="370" cy="761"/><circle cx="400" cy="826"/><circle cx="405" cy="725"/><circle cx="393" cy="830"/><circle cx="387" cy="781"/><circle cx="386" cy="837"/><circle cx="377" cy="690"/><circle cx="397" cy="844"/><circle cx="376" cy="711"/><circle cx="402" cy="798"/><circle cx="428" cy="832"/><circle cx="364" cy="809"/><circle cx="414" cy="812"/><circle cx="422" cy="841"/><circle cx="405" cy="775"/><circle cx="392" cy="768"/><circle cx="395" cy="836"/><circle cx="458" cy="787"/><circle cx="400" cy="848"/><circle cx="460" cy="800"/><circle cx="380" cy="733"/><circle cx="368" cy="756"/><circle cx="383" cy="752"/><circle cx="385" cy="773"/><circle cx="467" cy="802"/><circle cx="390" cy="837"/><circle cx="394" cy="779"/><circle cx="410" cy="778"/><circle cx="463" cy="819"/><circle cx="369" cy="767"/><circle cx="422" cy="824"/><circle cx="427" cy="759"/><circle cx="414" cy="802"/><circle cx="383" cy="818"/><circle cx="365" cy="789"/><circle cx="391" cy="765"/><circle cx="419" cy="845"/><circle cx="416" cy="828"/><circle cx="423" cy="765"/><circle cx="427" cy="831"/><circle cx="386" cy="747"/><circle cx="410" cy="763"/><circle cx="432" cy="827"/><circle cx="425" cy="777"/><circle cx="370" cy="798"/><circle cx="394" cy="793"/><circle cx="387" cy="744"/><circle cx="419" cy="842"/><circle cx="455" cy="828"/><circle cx="401" cy="737"/><circle cx="430" cy="770"/><circle cx="378" cy="837"/><circle cx="420" cy="780"/><circle cx="433" cy="736"/><circle cx="440" cy="845"/><circle cx="403" cy="809"/><circle cx="399" cy="748"/><circle cx="391" cy="740"/><circle cx="391" cy="761"/><circle cx="451" cy="832"/><circle cx="370" cy="826"/><circle cx="411" cy="794"/><circle cx="398" cy="838"/><circle cx="404" cy="819"/><circle cx="401" cy="798"/><circle cx="381" cy="713"/><circle cx="429" cy="801"/><circle cx="401" cy="822"/><circle cx="440" cy="844"/><circle cx="429" cy="785"/><circle cx="412" cy="737"/><circle cx="366" cy="795"/><circle cx="453" cy="827"/><circle cx="432" cy="775"/><circle cx="448" cy="779"/><circle cx="398" cy="832"/><circle cx="409" cy="694"/><circle cx="379" cy="846"/><circle cx="377" cy="833"/><circle cx="385" cy="806"/><circle cx="399" cy="735"/><circle cx="459" cy="693"/><circle cx="458" cy="797"/><circle cx="390" cy="720"/><circle cx="417" cy="831"/><circle cx="374" cy="731"/><circle cx="453" cy="813"/><circle cx="379" cy="836"/><circle cx="379" cy="723"/><circle cx="379" cy="816"/><circle cx="455" cy="815"/><circle cx="391" cy="779"/><circle cx="442" cy="792"/><circle cx="413" cy="786"/><circle cx="430" cy="750"/><circle cx="468" cy="793"/><circle cx="372" cy="766"/><circle cx="470" cy="798"/><circle cx="399" cy="774"/><circle cx="380" cy="830"/><circle cx="370" cy="765"/><circle cx="366" cy="819"/><circle cx="370" cy="774"/><circle cx="413" cy="799"/><circle cx="384" cy="781"/><circle cx="375" cy="830"/><circle cx="397" cy="791"/><circle cx="403" cy="701"/><circle cx="379" cy="748"/><circle cx="426" cy="821"/><circle cx="414" cy="732"/><circle cx="390" cy="734"/><circle cx="431" cy="784"/><circle cx="383" cy="786"/><circle cx="364" cy="754"/><circle cx="441" cy="695"/><circle cx="399" cy="730"/><circle cx="414" cy="797"/><circle cx="395" cy="818"/><circle cx="397" cy="833"/><circle cx="379" cy="835"/><circle cx="461" cy="837"/><circle cx="436" cy="762"/><circle cx="412" cy="741"/><circle cx="450" cy="754"/><circle cx="424" cy="810"/><circle cx="380" cy="849"/><circle cx="461" cy="775"/><circle cx="437" cy="763"/><circle cx="442" cy="755"/><circle cx="400" cy="819"/><circle cx="473" cy="812"/><circle cx="370" cy="809"/><circle cx="399" cy="772"/><circle cx="401" cy="754"/><circle cx="369" cy="846"/><circle cx="421" cy="789"/><circle cx="388" cy="788"/><circle cx="404" cy="751"/><circle cx="397" cy="734"/><circle cx="425" cy="814"/><circle cx="392" cy="768"/><circle cx="417" cy="818"/><circle cx="370" cy="726"/><circle cx="392" cy="787"/><circle cx="400" cy="721"/><circle cx="445" cy="788"/><circle cx="424" cy="760"/><circle cx="385" cy="767"/><circle cx="413" cy="797"/><circle cx="440" cy="832"/><circle cx="397" cy="780"/><circle cx="380" cy="791"/><circle cx="458" cy="827"/><circle cx="394" cy="786"/><circle cx="415" cy="821"/><circle cx="399" cy="814"/><circle cx="445" cy="775"/><circle cx="421" cy="746"/><circle cx="417" cy="793"/><circle cx="384" cy="741"/><circle cx="403" cy="813"/><circle cx="383" cy="729"/><circle cx="421" cy="845"/><circle cx="415" cy="826"/><circle cx="447" cy="794"/><circle cx="374" cy="795"/><circle cx="378" cy="807"/><circle cx="391" cy="829"/><circle cx="433" cy="818"/><circle cx="390" cy="798"/><circle cx="375" cy="767"/><circle cx="386" cy="846"/><circle cx="401" cy="759"/><circle cx="445" cy="779"/><circle cx="450" cy="702"/><circle cx="447" cy="800"/><circle cx="379" cy="788"/><circle cx="392" cy="805"/><circle cx="375" cy="818"/><circle cx="412" cy="805"/><circle cx="406" cy="769"/><circle cx="407" cy="780"/><circle cx="368" cy="802"/><circle cx="407" cy="726"/><circle cx="435" cy="812"/><circle cx="369" cy="788"/><circle cx="404" cy="718"/><circle cx="441" cy="767"/><circle cx="471" cy="824"/></g>
<path d="M365.0,821.0 C363.8,805.8 365.0,760.6 366.4,746.3 C367.8,732.0 370.3,737.5 373.3,735.2 C376.3,732.9 380.7,733.9 384.4,732.5 C388.1,731.1 392.7,723.3 395.4,726.9 C398.2,730.6 398.7,750.7 401.0,754.6 C403.3,758.5 406.0,751.4 409.3,750.5 C412.5,749.5 416.7,746.5 420.3,749.1 C424.0,751.6 428.2,760.1 431.4,765.7 C434.6,771.2 436.5,777.7 439.7,782.3 C442.9,786.9 449.4,789.7 450.8,793.4 C452.2,797.0 450.3,800.7 448.0,804.4 C445.7,808.1 440.6,811.3 436.9,815.5 C433.3,819.6 432.3,825.6 425.9,829.3 C419.4,833.0 407.0,836.2 398.2,837.6 C389.4,839.0 378.8,840.4 373.3,837.6 C367.8,834.9 366.2,836.2 365.0,821.0 Z" fill="none" stroke="#3a3a3a" stroke-width="1.0"/>
<path d="M367.5,823.2 C366.4,809.8 367.5,770.0 368.7,757.4 C370.0,744.9 372.4,749.7 375.2,747.7 C377.9,745.7 382.0,746.5 385.4,745.3 C388.9,744.0 393.1,737.1 395.7,740.4 C398.3,743.6 398.7,761.3 400.8,764.7 C403.0,768.2 405.5,761.9 408.5,761.1 C411.5,760.3 415.4,757.6 418.8,759.9 C422.2,762.1 426.1,769.6 429.1,774.5 C432.1,779.3 433.8,785.0 436.8,789.1 C439.8,793.1 445.8,795.6 447.1,798.8 C448.3,802.1 446.6,805.3 444.5,808.6 C442.3,811.8 437.6,814.7 434.2,818.3 C430.8,822.0 429.9,827.2 423.9,830.5 C418.0,833.7 406.4,836.6 398.3,837.8 C390.1,839.0 380.3,840.2 375.2,837.8 C370.0,835.4 368.5,836.6 367.5,823.2 Z" fill="none" stroke="#3a3a3a" stroke-width="0.8"/>
<path d="M369.9,825.3 C368.9,813.8 369.9,779.4 371.1,768.6 C372.3,757.7 374.4,761.9 377.0,760.1 C379.6,758.4 383.3,759.1 386.5,758.0 C389.6,757.0 393.6,751.0 396.0,753.8 C398.3,756.6 398.7,771.9 400.7,774.9 C402.7,777.8 405.0,772.4 407.8,771.7 C410.6,771.0 414.1,768.7 417.3,770.7 C420.4,772.6 424.0,779.1 426.8,783.3 C429.5,787.5 431.1,792.4 433.9,795.9 C436.6,799.4 442.1,801.5 443.3,804.3 C444.5,807.1 442.9,809.9 441.0,812.7 C439.0,815.5 434.6,818.0 431.5,821.1 C428.3,824.3 427.5,828.8 422.0,831.6 C416.5,834.5 405.8,836.9 398.3,838.0 C390.8,839.0 381.7,840.1 377.0,838.0 C372.3,835.9 370.9,836.9 369.9,825.3 Z" fill="none" stroke="#3a3a3a" stroke-width="0.7"/>
</g>
<rect x="90" y="660.3" width="399" height="214.20000000000005" fill="none" stroke="#808080" stroke-width="2"/>
<line x1="222.7" y1="660.3" x2="222.7" y2="874.5" stroke="#808080" stroke-width="2" />
<line x1="356.0" y1="660.3" x2="356.0" y2="874.5" stroke="#808080" stroke-width="2" />
<line x1="80.0" y1="659.3" x2="90.0" y2="659.3" stroke="#808080" stroke-width="2" />
<line x1="80.0" y1="757.3" x2="90.0" y2="757.3" stroke="#808080" stroke-width="2" />
<line x1="80.0" y1="855.3" x2="90.0" y2="855.3" stroke="#808080" stroke-width="2" />
<line x1="85.0" y1="708.3" x2="90.0" y2="708.3" stroke="#808080" stroke-width="2" />
<line x1="85.0" y1="806.3" x2="90.0" y2="806.3" stroke="#808080" stroke-width="2" />
<line x1="212.7" y1="659.3" x2="222.7" y2="659.3" stroke="#808080" stroke-width="2" />
<line x1="212.7" y1="757.3" x2="222.7" y2="757.3" stroke="#808080" stroke-width="2" />
<line x1="212.7" y1="855.3" x2="222.7" y2="855.3" stroke="#808080" stroke-width="2" />
<line x1="217.7" y1="708.3" x2="222.7" y2="708.3" stroke="#808080" stroke-width="2" />
<line x1="217.7" y1="806.3" x2="222.7" y2="806.3" stroke="#808080" stroke-width="2" />
<line x1="346.0" y1="659.3" x2="356.0" y2="659.3" stroke="#808080" stroke-width="2" />
<line x1="346.0" y1="757.3" x2="356.0" y2="757.3" stroke="#808080" stroke-width="2" />
<line x1="346.0" y1="855.3" x2="356.0" y2="855.3" stroke="#808080" stroke-width="2" />
<line x1="351.0" y1="708.3" x2="356.0" y2="708.3" stroke="#808080" stroke-width="2" />
<line x1="351.0" y1="806.3" x2="356.0" y2="806.3" stroke="#808080" stroke-width="2" />
<line x1="104.7" y1="874.5" x2="104.7" y2="884.5" stroke="#808080" stroke-width="2" />
<line x1="151.7" y1="874.5" x2="151.7" y2="884.5" stroke="#808080" stroke-width="2" />
<line x1="198.7" y1="874.5" x2="198.7" y2="884.5" stroke="#808080" stroke-width="2" />
<line x1="128.3" y1="874.5" x2="128.3" y2="880.5" stroke="#808080" stroke-width="2" />
<line x1="175.3" y1="874.5" x2="175.3" y2="880.5" stroke="#808080" stroke-width="2" />
<line x1="222.7" y1="874.5" x2="222.7" y2="880.5" stroke="#808080" stroke-width="2" />
<text x="104.7" y="915.0" font-size="28" text-anchor="middle">0</text>
<text x="151.7" y="915.0" font-size="28" text-anchor="middle">3</text>
<text x="198.7" y="915.0" font-size="28" text-anchor="middle">6</text>
<line x1="235.7" y1="874.5" x2="235.7" y2="884.5" stroke="#808080" stroke-width="2" />
<line x1="282.3" y1="874.5" x2="282.3" y2="884.5" stroke="#808080" stroke-width="2" />
<line x1="329.0" y1="874.5" x2="329.0" y2="884.5" stroke="#808080" stroke-width="2" />
<line x1="259.0" y1="874.5" x2="259.0" y2="880.5" stroke="#808080" stroke-width="2" />
<line x1="305.7" y1="874.5" x2="305.7" y2="880.5" stroke="#808080" stroke-width="2" />
<line x1="352.3" y1="874.5" x2="352.3" y2="880.5" stroke="#808080" stroke-width="2" />
<text x="235.7" y="915.0" font-size="28" text-anchor="middle">0</text>
<text x="282.3" y="915.0" font-size="28" text-anchor="middle">7</text>
<text x="329.0" y="915.0" font-size="28" text-anchor="middle">14</text>
<line x1="366.7" y1="874.5" x2="366.7" y2="884.5" stroke="#808080" stroke-width="2" />
<line x1="422.3" y1="874.5" x2="422.3" y2="884.5" stroke="#808080" stroke-width="2" />
<line x1="477.7" y1="874.5" x2="477.7" y2="884.5" stroke="#808080" stroke-width="2" />
<line x1="394.5" y1="874.5" x2="394.5" y2="880.5" stroke="#808080" stroke-width="2" />
<line x1="450.0" y1="874.5" x2="450.0" y2="880.5" stroke="#808080" stroke-width="2" />
<text x="366.7" y="915.0" font-size="28" text-anchor="middle">0</text>
<text x="422.3" y="915.0" font-size="28" text-anchor="middle">0.5</text>
<text x="477.7" y="915.0" font-size="28" text-anchor="middle">1.0</text>
<text x="74.3" y="671.1" font-size="28" text-anchor="end">1.0</text>
<text x="74.3" y="769.1" font-size="28" text-anchor="end">0.5</text>
<text x="74.3" y="867.1" font-size="28" text-anchor="end">0</text>
<text x="28.3" y="789.0" font-size="28.7" text-anchor="middle" transform="rotate(-90 28.3 789.0)">Deviated angle DP (rad)</text>
<text x="155.0" y="946.7" font-size="28.6" text-anchor="middle">OT (deg)</text>
<text x="299.0" y="946.7" font-size="28.6" text-anchor="middle">OD (pm)</text>
<text x="425.0" y="946.7" font-size="28.6" text-anchor="middle"><tspan font-style="italic">r</tspan><tspan font-size="21" dy="7">CO</tspan></text>
<line x1="588.0" y1="757.5" x2="988.5" y2="757.5" stroke="#8c8c8c" stroke-width="1" stroke-dasharray="5,3,1.5,3"/>
<line x1="588.0" y1="855.5" x2="988.5" y2="855.5" stroke="#8c8c8c" stroke-width="1" stroke-dasharray="5,3,1.5,3"/>
<clipPath id="cl4"><rect x="589" y="661.3" width="131" height="212.20000000000005"/></clipPath>
<g clip-path="url(#cl4)">
<path d="M599.4,850.1 C593.4,830.2 597.1,753.5 599.4,732.5 C601.7,711.5 608.1,729.2 613.2,724.2 C618.3,719.1 623.8,707.1 629.8,702.0 C635.8,697.0 643.6,693.7 649.2,693.7 C654.7,693.7 657.9,696.5 663.0,702.0 C668.1,707.6 674.1,717.3 679.6,726.9 C685.1,736.6 692.5,749.1 696.2,760.1 C699.9,771.2 701.3,782.3 701.7,793.4 C702.2,804.4 701.7,817.3 699.0,826.6 C696.2,835.8 695.8,844.5 685.1,848.7 C674.5,852.8 649.6,851.2 635.3,851.5 C621.0,851.7 605.4,869.9 599.4,850.1 Z" fill="#fbfbb4" fill-opacity="0.85" filter="url(#blur5)"/>
<path d="M600.8,845.9 C597.3,832.6 599.6,779.5 600.8,765.7 C601.9,751.8 603.8,762.0 607.7,762.9 C611.6,763.8 619.7,770.8 624.3,771.2 C628.9,771.7 632.1,769.8 635.3,765.7 C638.6,761.5 641.6,750.9 643.6,746.3 C645.7,741.7 645.9,738.0 647.8,738.0 C649.6,738.0 652.2,743.1 654.7,746.3 C657.2,749.5 660.7,756.7 663.0,757.4 C665.3,758.1 666.2,748.2 668.5,750.5 C670.9,752.8 674.1,765.0 676.8,771.2 C679.6,777.4 682.8,781.8 685.1,787.8 C687.5,793.8 692.5,801.7 690.7,807.2 C688.8,812.7 677.3,816.4 674.1,821.0 C670.9,825.6 675.5,831.2 671.3,834.9 C667.2,838.5 657.5,841.3 649.2,843.2 C640.9,845.0 629.6,845.5 621.5,845.9 C613.4,846.4 604.2,859.3 600.8,845.9 Z" fill="#f4f04a" fill-opacity="0.75" filter="url(#blur3)"/>
<path d="M597.1,850.9 C594.7,837.1 596.1,784.1 597.1,769.6 C598.1,755.0 600.0,761.3 602.9,763.7 C605.8,766.2 610.6,782.1 614.5,784.1 C618.4,786.0 622.3,776.8 626.1,775.4 C630.0,773.9 633.9,776.3 637.8,775.4 C641.6,774.4 645.5,770.5 649.4,769.6 C653.3,768.6 657.1,768.6 661.0,769.6 C664.9,770.5 669.2,771.5 672.6,775.4 C676.0,779.2 678.4,787.0 681.3,792.8 C684.2,798.6 688.1,803.4 690.1,810.2 C692.0,817.0 693.4,827.2 693.0,833.5 C692.5,839.8 692.0,845.1 687.2,848.0 C682.3,850.9 672.6,850.4 663.9,850.9 C655.2,851.4 643.6,850.7 634.9,850.9 C626.1,851.1 617.9,852.4 611.6,852.4 C605.3,852.4 599.5,864.7 597.1,850.9 Z" fill="#e89040" fill-opacity="0.55" filter="url(#blur3)"/>
<mask id="mk4"><path d="M599.4,848.7 C597.1,835.5 598.4,785.0 599.4,771.2 C600.3,757.4 602.1,763.4 604.9,765.7 C607.7,768.0 612.3,783.2 616.0,785.0 C619.7,786.9 623.3,778.1 627.0,776.7 C630.7,775.4 634.4,777.7 638.1,776.7 C641.8,775.8 645.5,772.1 649.2,771.2 C652.9,770.3 656.6,770.3 660.2,771.2 C663.9,772.1 668.1,773.1 671.3,776.7 C674.5,780.4 676.8,787.8 679.6,793.4 C682.4,798.9 686.1,803.5 687.9,810.0 C689.8,816.4 691.1,826.1 690.7,832.1 C690.2,838.1 689.8,843.2 685.1,845.9 C680.5,848.7 671.3,848.2 663.0,848.7 C654.7,849.2 643.6,848.5 635.3,848.7 C627.0,848.9 619.2,850.1 613.2,850.1 C607.2,850.1 601.7,861.8 599.4,848.7 Z" fill="#fff" filter="url(#blur2)"/></mask>
<path d="M599.4,848.7 C597.1,835.5 598.4,785.0 599.4,771.2 C600.3,757.4 602.1,763.4 604.9,765.7 C607.7,768.0 612.3,783.2 616.0,785.0 C619.7,786.9 623.3,778.1 627.0,776.7 C630.7,775.4 634.4,777.7 638.1,776.7 C641.8,775.8 645.5,772.1 649.2,771.2 C652.9,770.3 656.6,770.3 660.2,771.2 C663.9,772.1 668.1,773.1 671.3,776.7 C674.5,780.4 676.8,787.8 679.6,793.4 C682.4,798.9 686.1,803.5 687.9,810.0 C689.8,816.4 691.1,826.1 690.7,832.1 C690.2,838.1 689.8,843.2 685.1,845.9 C680.5,848.7 671.3,848.2 663.0,848.7 C654.7,849.2 643.6,848.5 635.3,848.7 C627.0,848.9 619.2,850.1 613.2,850.1 C607.2,850.1 601.7,861.8 599.4,848.7 Z" fill="#a09070" fill-opacity="0.85" filter="url(#blur2)"/>
<rect x="589" y="661.3" width="131" height="212.20000000000005" fill="url(#pt)" fill-opacity="1.0" mask="url(#mk4)"/>
<g class="pc"><circle cx="644" cy="773"/><circle cx="671" cy="820"/><circle cx="687" cy="771"/><circle cx="608" cy="803"/><circle cx="682" cy="842"/><circle cx="622" cy="786"/><circle cx="603" cy="807"/><circle cx="666" cy="743"/><circle cx="630" cy="819"/><circle cx="611" cy="822"/><circle cx="647" cy="699"/><circle cx="669" cy="735"/><circle cx="683" cy="770"/><circle cx="690" cy="709"/><circle cx="653" cy="818"/><circle cx="683" cy="846"/><circle cx="638" cy="784"/><circle cx="649" cy="829"/><circle cx="619" cy="828"/><circle cx="622" cy="730"/><circle cx="692" cy="801"/><circle cx="679" cy="731"/><circle cx="673" cy="692"/><circle cx="632" cy="818"/><circle cx="679" cy="722"/><circle cx="661" cy="792"/><circle cx="640" cy="702"/><circle cx="606" cy="711"/><circle cx="629" cy="683"/><circle cx="668" cy="845"/><circle cx="607" cy="733"/><circle cx="644" cy="848"/><circle cx="648" cy="703"/><circle cx="680" cy="848"/><circle cx="671" cy="794"/><circle cx="691" cy="790"/><circle cx="628" cy="729"/><circle cx="641" cy="751"/><circle cx="639" cy="851"/><circle cx="663" cy="840"/><circle cx="704" cy="714"/><circle cx="637" cy="808"/><circle cx="663" cy="783"/><circle cx="658" cy="821"/><circle cx="626" cy="838"/><circle cx="670" cy="793"/><circle cx="657" cy="840"/><circle cx="639" cy="819"/><circle cx="690" cy="751"/><circle cx="681" cy="800"/><circle cx="687" cy="819"/><circle cx="644" cy="750"/><circle cx="650" cy="753"/><circle cx="670" cy="830"/><circle cx="684" cy="764"/><circle cx="675" cy="811"/><circle cx="626" cy="819"/><circle cx="684" cy="848"/><circle cx="625" cy="845"/><circle cx="684" cy="778"/><circle cx="671" cy="777"/><circle cx="682" cy="741"/><circle cx="635" cy="806"/><circle cx="626" cy="793"/><circle cx="664" cy="785"/><circle cx="658" cy="774"/><circle cx="629" cy="736"/><circle cx="607" cy="740"/><circle cx="655" cy="790"/><circle cx="684" cy="759"/><circle cx="650" cy="801"/><circle cx="626" cy="851"/><circle cx="674" cy="772"/><circle cx="666" cy="752"/><circle cx="608" cy="771"/><circle cx="645" cy="805"/><circle cx="629" cy="745"/><circle cx="661" cy="803"/><circle cx="675" cy="767"/><circle cx="656" cy="748"/><circle cx="649" cy="704"/><circle cx="682" cy="775"/><circle cx="616" cy="794"/><circle cx="688" cy="809"/><circle cx="648" cy="848"/><circle cx="609" cy="782"/><circle cx="601" cy="757"/><circle cx="674" cy="776"/><circle cx="658" cy="845"/><circle cx="691" cy="827"/><circle cx="647" cy="691"/><circle cx="612" cy="712"/><circle cx="609" cy="777"/><circle cx="617" cy="738"/><circle cx="616" cy="803"/><circle cx="631" cy="770"/><circle cx="628" cy="772"/><circle cx="602" cy="799"/><circle cx="614" cy="793"/><circle cx="618" cy="767"/><circle cx="644" cy="803"/><circle cx="647" cy="813"/><circle cx="633" cy="764"/><circle cx="666" cy="841"/><circle cx="603" cy="743"/><circle cx="622" cy="772"/><circle cx="670" cy="769"/><circle cx="614" cy="825"/><circle cx="621" cy="823"/><circle cx="639" cy="818"/><circle cx="600" cy="846"/><circle cx="698" cy="775"/><circle cx="685" cy="848"/><circle cx="694" cy="813"/><circle cx="650" cy="846"/><circle cx="618" cy="752"/><circle cx="662" cy="813"/><circle cx="634" cy="788"/><circle cx="661" cy="761"/><circle cx="663" cy="776"/><circle cx="690" cy="781"/><circle cx="627" cy="726"/><circle cx="649" cy="710"/><circle cx="625" cy="768"/><circle cx="658" cy="751"/><circle cx="661" cy="764"/><circle cx="691" cy="775"/><circle cx="670" cy="777"/><circle cx="628" cy="802"/><circle cx="649" cy="814"/><circle cx="692" cy="709"/><circle cx="623" cy="825"/><circle cx="676" cy="779"/><circle cx="642" cy="723"/><circle cx="634" cy="770"/><circle cx="672" cy="832"/><circle cx="602" cy="797"/><circle cx="667" cy="794"/><circle cx="649" cy="736"/><circle cx="601" cy="795"/><circle cx="650" cy="812"/><circle cx="628" cy="714"/><circle cx="624" cy="761"/><circle cx="635" cy="740"/><circle cx="616" cy="777"/><circle cx="679" cy="807"/><circle cx="648" cy="835"/><circle cx="680" cy="847"/><circle cx="620" cy="810"/><circle cx="630" cy="764"/><circle cx="661" cy="788"/><circle cx="660" cy="795"/><circle cx="664" cy="793"/><circle cx="680" cy="823"/><circle cx="643" cy="817"/><circle cx="692" cy="816"/><circle cx="656" cy="812"/><circle cx="642" cy="802"/><circle cx="608" cy="781"/><circle cx="630" cy="714"/><circle cx="617" cy="837"/><circle cx="647" cy="847"/><circle cx="607" cy="784"/><circle cx="642" cy="796"/><circle cx="672" cy="712"/><circle cx="639" cy="832"/><circle cx="687" cy="754"/><circle cx="677" cy="794"/><circle cx="666" cy="778"/><circle cx="656" cy="699"/><circle cx="670" cy="817"/><circle cx="605" cy="842"/><circle cx="627" cy="812"/><circle cx="628" cy="787"/><circle cx="646" cy="814"/><circle cx="623" cy="730"/><circle cx="623" cy="817"/><circle cx="632" cy="849"/><circle cx="612" cy="821"/><circle cx="618" cy="838"/><circle cx="646" cy="737"/><circle cx="617" cy="806"/><circle cx="644" cy="839"/><circle cx="672" cy="780"/><circle cx="650" cy="755"/><circle cx="600" cy="741"/><circle cx="688" cy="795"/><circle cx="629" cy="753"/><circle cx="627" cy="730"/><circle cx="608" cy="747"/><circle cx="709" cy="781"/><circle cx="659" cy="777"/><circle cx="675" cy="794"/><circle cx="650" cy="779"/><circle cx="600" cy="820"/><circle cx="668" cy="819"/><circle cx="675" cy="777"/><circle cx="665" cy="734"/><circle cx="622" cy="802"/><circle cx="664" cy="846"/><circle cx="693" cy="827"/><circle cx="687" cy="719"/><circle cx="631" cy="836"/><circle cx="653" cy="751"/><circle cx="669" cy="846"/><circle cx="608" cy="830"/><circle cx="623" cy="737"/><circle cx="644" cy="815"/><circle cx="644" cy="763"/><circle cx="634" cy="712"/><circle cx="685" cy="811"/><circle cx="639" cy="842"/><circle cx="685" cy="812"/><circle cx="691" cy="799"/><circle cx="632" cy="801"/><circle cx="634" cy="761"/><circle cx="678" cy="785"/><circle cx="676" cy="817"/><circle cx="623" cy="788"/><circle cx="677" cy="726"/><circle cx="652" cy="801"/><circle cx="645" cy="775"/><circle cx="671" cy="750"/><circle cx="653" cy="711"/><circle cx="696" cy="721"/><circle cx="691" cy="752"/><circle cx="648" cy="824"/><circle cx="677" cy="785"/><circle cx="634" cy="836"/><circle cx="658" cy="843"/><circle cx="664" cy="840"/><circle cx="665" cy="757"/><circle cx="605" cy="845"/><circle cx="640" cy="729"/><circle cx="642" cy="695"/><circle cx="659" cy="734"/><circle cx="609" cy="786"/><circle cx="615" cy="790"/><circle cx="673" cy="766"/><circle cx="639" cy="843"/><circle cx="695" cy="826"/><circle cx="647" cy="824"/><circle cx="601" cy="740"/><circle cx="608" cy="823"/><circle cx="664" cy="830"/><circle cx="660" cy="764"/><circle cx="662" cy="821"/><circle cx="635" cy="769"/><circle cx="700" cy="811"/><circle cx="644" cy="744"/><circle cx="660" cy="807"/><circle cx="697" cy="805"/><circle cx="613" cy="780"/><circle cx="646" cy="809"/><circle cx="633" cy="820"/><circle cx="610" cy="819"/><circle cx="635" cy="748"/><circle cx="683" cy="808"/><circle cx="623" cy="815"/><circle cx="609" cy="742"/><circle cx="606" cy="765"/><circle cx="659" cy="736"/><circle cx="656" cy="816"/><circle cx="637" cy="780"/><circle cx="642" cy="797"/><circle cx="620" cy="800"/><circle cx="656" cy="828"/><circle cx="621" cy="818"/><circle cx="652" cy="719"/><circle cx="625" cy="762"/><circle cx="659" cy="820"/><circle cx="688" cy="851"/><circle cx="604" cy="793"/><circle cx="682" cy="816"/><circle cx="657" cy="695"/><circle cx="656" cy="830"/><circle cx="667" cy="684"/><circle cx="650" cy="792"/><circle cx="616" cy="841"/><circle cx="656" cy="709"/><circle cx="668" cy="762"/><circle cx="602" cy="814"/><circle cx="615" cy="831"/><circle cx="662" cy="840"/><circle cx="640" cy="763"/><circle cx="607" cy="834"/><circle cx="668" cy="808"/><circle cx="669" cy="740"/><circle cx="640" cy="797"/><circle cx="646" cy="777"/><circle cx="660" cy="708"/><circle cx="622" cy="842"/><circle cx="605" cy="739"/><circle cx="654" cy="733"/><circle cx="681" cy="745"/><circle cx="693" cy="728"/><circle cx="626" cy="803"/><circle cx="608" cy="824"/><circle cx="616" cy="784"/><circle cx="648" cy="839"/><circle cx="648" cy="797"/><circle cx="662" cy="847"/><circle cx="705" cy="827"/><circle cx="625" cy="728"/><circle cx="604" cy="834"/><circle cx="650" cy="769"/><circle cx="636" cy="730"/><circle cx="639" cy="748"/><circle cx="613" cy="817"/><circle cx="609" cy="789"/><circle cx="660" cy="809"/><circle cx="636" cy="772"/><circle cx="647" cy="694"/><circle cx="692" cy="812"/><circle cx="652" cy="722"/><circle cx="608" cy="806"/><circle cx="670" cy="792"/><circle cx="618" cy="721"/><circle cx="696" cy="812"/><circle cx="663" cy="730"/><circle cx="667" cy="764"/><circle cx="661" cy="717"/><circle cx="697" cy="793"/><circle cx="609" cy="815"/><circle cx="600" cy="830"/><circle cx="682" cy="749"/><circle cx="600" cy="789"/><circle cx="617" cy="785"/><circle cx="615" cy="781"/><circle cx="647" cy="755"/><circle cx="661" cy="769"/><circle cx="670" cy="844"/><circle cx="634" cy="795"/><circle cx="656" cy="790"/><circle cx="684" cy="764"/><circle cx="601" cy="744"/><circle cx="666" cy="780"/><circle cx="636" cy="741"/><circle cx="620" cy="774"/><circle cx="638" cy="789"/><circle cx="637" cy="788"/><circle cx="689" cy="732"/><circle cx="685" cy="840"/><circle cx="670" cy="767"/><circle cx="608" cy="821"/><circle cx="649" cy="822"/><circle cx="615" cy="742"/><circle cx="606" cy="796"/><circle cx="683" cy="751"/><circle cx="627" cy="699"/><circle cx="622" cy="807"/><circle cx="680" cy="764"/><circle cx="624" cy="755"/><circle cx="604" cy="803"/><circle cx="625" cy="770"/><circle cx="639" cy="807"/><circle cx="633" cy="819"/><circle cx="680" cy="763"/><circle cx="655" cy="797"/><circle cx="600" cy="729"/><circle cx="663" cy="774"/><circle cx="632" cy="759"/><circle cx="624" cy="740"/><circle cx="683" cy="816"/><circle cx="653" cy="733"/><circle cx="609" cy="829"/><circle cx="609" cy="840"/><circle cx="648" cy="789"/><circle cx="662" cy="824"/><circle cx="669" cy="819"/><circle cx="661" cy="809"/><circle cx="656" cy="828"/><circle cx="694" cy="682"/><circle cx="653" cy="762"/><circle cx="631" cy="792"/><circle cx="623" cy="796"/><circle cx="652" cy="687"/><circle cx="698" cy="772"/><circle cx="656" cy="806"/><circle cx="605" cy="751"/><circle cx="663" cy="706"/><circle cx="656" cy="751"/><circle cx="626" cy="749"/><circle cx="689" cy="823"/><circle cx="628" cy="815"/><circle cx="648" cy="823"/><circle cx="668" cy="848"/><circle cx="646" cy="742"/><circle cx="605" cy="811"/><circle cx="679" cy="788"/><circle cx="620" cy="779"/><circle cx="676" cy="818"/><circle cx="613" cy="789"/><circle cx="653" cy="741"/><circle cx="647" cy="700"/><circle cx="681" cy="805"/><circle cx="679" cy="763"/><circle cx="620" cy="763"/><circle cx="693" cy="779"/><circle cx="667" cy="768"/><circle cx="644" cy="815"/><circle cx="618" cy="786"/><circle cx="664" cy="824"/><circle cx="632" cy="703"/><circle cx="617" cy="809"/><circle cx="614" cy="834"/><circle cx="624" cy="835"/><circle cx="639" cy="783"/><circle cx="661" cy="820"/><circle cx="647" cy="846"/><circle cx="623" cy="808"/><circle cx="686" cy="785"/><circle cx="604" cy="819"/><circle cx="611" cy="778"/><circle cx="682" cy="819"/><circle cx="641" cy="812"/><circle cx="651" cy="840"/><circle cx="626" cy="799"/><circle cx="635" cy="727"/><circle cx="703" cy="792"/><circle cx="623" cy="686"/><circle cx="637" cy="798"/><circle cx="613" cy="813"/><circle cx="681" cy="747"/><circle cx="612" cy="841"/><circle cx="606" cy="805"/><circle cx="623" cy="693"/><circle cx="641" cy="795"/><circle cx="687" cy="691"/><circle cx="621" cy="772"/><circle cx="616" cy="723"/><circle cx="601" cy="819"/><circle cx="680" cy="679"/><circle cx="679" cy="836"/><circle cx="636" cy="838"/><circle cx="603" cy="775"/><circle cx="669" cy="845"/><circle cx="629" cy="824"/><circle cx="629" cy="760"/><circle cx="662" cy="753"/><circle cx="610" cy="840"/><circle cx="617" cy="807"/><circle cx="636" cy="818"/><circle cx="682" cy="784"/><circle cx="606" cy="814"/><circle cx="626" cy="787"/><circle cx="635" cy="778"/><circle cx="675" cy="846"/><circle cx="628" cy="751"/><circle cx="600" cy="743"/><circle cx="662" cy="782"/><circle cx="617" cy="750"/><circle cx="652" cy="760"/><circle cx="628" cy="721"/><circle cx="650" cy="786"/><circle cx="668" cy="725"/><circle cx="616" cy="759"/><circle cx="632" cy="713"/><circle cx="683" cy="814"/><circle cx="687" cy="794"/><circle cx="620" cy="804"/><circle cx="637" cy="824"/><circle cx="671" cy="825"/><circle cx="664" cy="751"/><circle cx="638" cy="830"/><circle cx="634" cy="800"/><circle cx="656" cy="787"/><circle cx="645" cy="697"/><circle cx="639" cy="722"/><circle cx="614" cy="780"/><circle cx="633" cy="772"/><circle cx="652" cy="798"/><circle cx="625" cy="827"/><circle cx="664" cy="840"/><circle cx="605" cy="773"/><circle cx="626" cy="844"/><circle cx="666" cy="762"/><circle cx="638" cy="812"/><circle cx="646" cy="701"/><circle cx="683" cy="808"/><circle cx="636" cy="769"/><circle cx="646" cy="829"/><circle cx="605" cy="765"/><circle cx="649" cy="797"/><circle cx="696" cy="779"/><circle cx="670" cy="836"/><circle cx="671" cy="800"/><circle cx="686" cy="755"/><circle cx="682" cy="758"/><circle cx="660" cy="744"/><circle cx="663" cy="737"/><circle cx="636" cy="729"/><circle cx="625" cy="838"/><circle cx="650" cy="742"/><circle cx="678" cy="812"/><circle cx="609" cy="822"/><circle cx="674" cy="732"/><circle cx="642" cy="836"/><circle cx="622" cy="776"/><circle cx="646" cy="740"/><circle cx="639" cy="825"/><circle cx="698" cy="755"/><circle cx="662" cy="813"/><circle cx="647" cy="763"/><circle cx="645" cy="783"/><circle cx="619" cy="840"/><circle cx="601" cy="699"/><circle cx="651" cy="803"/><circle cx="680" cy="734"/><circle cx="607" cy="791"/><circle cx="650" cy="744"/><circle cx="632" cy="794"/><circle cx="676" cy="753"/><circle cx="639" cy="847"/><circle cx="693" cy="815"/><circle cx="652" cy="828"/><circle cx="620" cy="793"/><circle cx="613" cy="749"/><circle cx="655" cy="848"/><circle cx="671" cy="801"/><circle cx="612" cy="840"/><circle cx="601" cy="786"/><circle cx="648" cy="771"/><circle cx="677" cy="765"/><circle cx="642" cy="756"/><circle cx="638" cy="715"/><circle cx="601" cy="712"/><circle cx="610" cy="750"/><circle cx="669" cy="816"/><circle cx="600" cy="747"/><circle cx="679" cy="754"/><circle cx="631" cy="710"/><circle cx="691" cy="794"/><circle cx="610" cy="749"/><circle cx="679" cy="755"/><circle cx="655" cy="758"/><circle cx="621" cy="799"/></g>
<path d="M600.8,845.9 C597.3,832.6 599.6,779.5 600.8,765.7 C601.9,751.8 603.8,762.0 607.7,762.9 C611.6,763.8 619.7,770.8 624.3,771.2 C628.9,771.7 632.1,769.8 635.3,765.7 C638.6,761.5 641.6,750.9 643.6,746.3 C645.7,741.7 645.9,738.0 647.8,738.0 C649.6,738.0 652.2,743.1 654.7,746.3 C657.2,749.5 660.7,756.7 663.0,757.4 C665.3,758.1 666.2,748.2 668.5,750.5 C670.9,752.8 674.1,765.0 676.8,771.2 C679.6,777.4 682.8,781.8 685.1,787.8 C687.5,793.8 692.5,801.7 690.7,807.2 C688.8,812.7 677.3,816.4 674.1,821.0 C670.9,825.6 675.5,831.2 671.3,834.9 C667.2,838.5 657.5,841.3 649.2,843.2 C640.9,845.0 629.6,845.5 621.5,845.9 C613.4,846.4 604.2,859.3 600.8,845.9 Z" fill="none" stroke="#3a3a3a" stroke-width="1.0"/>
<path d="M610.5,836.8 C607.8,826.4 609.6,785.0 610.5,774.2 C611.4,763.4 612.8,771.3 615.9,772.1 C618.9,772.8 625.2,778.2 628.8,778.5 C632.4,778.9 635.0,777.5 637.5,774.2 C640.0,771.0 642.3,762.7 643.9,759.1 C645.6,755.5 645.7,752.6 647.2,752.6 C648.6,752.6 650.6,756.6 652.6,759.1 C654.6,761.6 657.3,767.2 659.1,767.7 C660.9,768.3 661.6,760.6 663.4,762.4 C665.2,764.2 667.7,773.7 669.8,778.5 C672.0,783.4 674.5,786.8 676.3,791.5 C678.1,796.2 682.1,802.3 680.6,806.6 C679.2,810.9 670.2,813.8 667.7,817.4 C665.2,821.0 668.8,825.3 665.5,828.2 C662.3,831.1 654.7,833.2 648.3,834.7 C641.8,836.1 633.0,836.5 626.7,836.8 C620.4,837.2 613.2,847.2 610.5,836.8 Z" fill="none" stroke="#3a3a3a" stroke-width="0.8"/>
<path d="M619.3,828.5 C617.3,820.8 618.7,790.0 619.3,782.0 C620.0,774.0 621.1,779.8 623.4,780.4 C625.6,780.9 630.3,784.9 633.0,785.2 C635.7,785.5 637.5,784.4 639.4,782.0 C641.3,779.6 643.0,773.4 644.2,770.8 C645.4,768.1 645.6,765.9 646.6,765.9 C647.7,765.9 649.2,768.9 650.6,770.8 C652.1,772.6 654.1,776.8 655.5,777.2 C656.8,777.6 657.3,771.8 658.7,773.2 C660.0,774.5 661.9,781.6 663.5,785.2 C665.1,788.8 667.0,791.3 668.3,794.8 C669.6,798.3 672.6,802.9 671.5,806.1 C670.4,809.3 663.7,811.4 661.9,814.1 C660.0,816.8 662.7,820.0 660.3,822.1 C657.9,824.2 652.2,825.9 647.4,826.9 C642.6,828.0 636.1,828.3 631.4,828.5 C626.7,828.8 621.4,836.3 619.3,828.5 Z" fill="none" stroke="#3a3a3a" stroke-width="0.7"/>
</g>
<clipPath id="cl5"><rect x="722" y="661.3" width="131.5" height="212.20000000000005"/></clipPath>
<g clip-path="url(#cl5)">
<path d="M730.8,850.1 C720.9,831.4 729.6,760.4 730.8,738.0 C732.0,715.6 733.3,720.9 737.7,715.9 C742.1,710.8 751.1,707.1 757.1,707.6 C763.1,708.0 769.1,712.6 773.7,718.6 C778.3,724.6 780.6,734.3 784.8,743.5 C788.9,752.8 794.4,762.9 798.6,774.0 C802.7,785.0 807.8,799.3 809.7,810.0 C811.5,820.6 812.9,830.9 809.7,837.6 C806.4,844.3 803.4,848.0 790.3,850.1 C777.1,852.1 740.7,868.8 730.8,850.1 Z" fill="#e4e4ff" fill-opacity="0.85" filter="url(#blur5)"/>
<path d="M730.8,832.1 C728.5,821.0 731.3,792.0 732.2,779.5 C733.1,767.1 734.0,761.1 736.3,757.4 C738.6,753.7 742.6,758.8 746.0,757.4 C749.5,756.0 754.3,748.2 757.1,749.1 C759.9,750.0 759.9,759.7 762.6,762.9 C765.4,766.1 770.9,765.7 773.7,768.4 C776.5,771.2 776.9,774.4 779.2,779.5 C781.5,784.6 785.2,792.0 787.5,798.9 C789.8,805.8 792.6,815.5 793.1,821.0 C793.5,826.6 793.5,827.9 790.3,832.1 C787.1,836.2 781.1,843.6 773.7,845.9 C766.3,848.2 753.2,848.2 746.0,845.9 C738.9,843.6 733.1,843.2 730.8,832.1 Z" fill="#b4b4ff" fill-opacity="0.75" filter="url(#blur3)"/>
<path d="M729.3,850.9 C724.3,841.2 729.4,806.4 730.1,792.8 C730.9,779.2 732.1,774.4 733.6,769.6 C735.2,764.7 736.5,764.2 739.4,763.7 C742.3,763.3 747.2,764.7 751.0,766.6 C754.9,768.6 758.8,772.0 762.7,775.4 C766.5,778.8 770.4,783.1 774.3,787.0 C778.2,790.9 782.5,793.8 785.9,798.6 C789.3,803.5 793.2,810.2 794.6,816.0 C796.1,821.9 796.1,828.1 794.6,833.5 C793.2,838.8 791.7,845.1 785.9,848.0 C780.1,850.9 769.2,850.4 759.8,850.9 C750.3,851.4 734.2,860.6 729.3,850.9 Z" fill="#5a5af0" fill-opacity="0.55" filter="url(#blur3)"/>
<mask id="mk5"><path d="M730.8,848.7 C726.1,839.5 730.9,806.3 731.6,793.4 C732.3,780.4 733.5,775.8 735.0,771.2 C736.4,766.6 737.7,766.1 740.5,765.7 C743.3,765.2 747.9,766.6 751.6,768.4 C755.2,770.3 758.9,773.5 762.6,776.7 C766.3,780.0 770.0,784.1 773.7,787.8 C777.4,791.5 781.5,794.3 784.8,798.9 C788.0,803.5 791.7,810.0 793.1,815.5 C794.4,821.0 794.4,827.0 793.1,832.1 C791.7,837.2 790.3,843.2 784.8,845.9 C779.2,848.7 768.8,848.2 759.9,848.7 C750.9,849.2 735.5,857.9 730.8,848.7 Z" fill="#fff" filter="url(#blur2)"/></mask>
<path d="M730.8,848.7 C726.1,839.5 730.9,806.3 731.6,793.4 C732.3,780.4 733.5,775.8 735.0,771.2 C736.4,766.6 737.7,766.1 740.5,765.7 C743.3,765.2 747.9,766.6 751.6,768.4 C755.2,770.3 758.9,773.5 762.6,776.7 C766.3,780.0 770.0,784.1 773.7,787.8 C777.4,791.5 781.5,794.3 784.8,798.9 C788.0,803.5 791.7,810.0 793.1,815.5 C794.4,821.0 794.4,827.0 793.1,832.1 C791.7,837.2 790.3,843.2 784.8,845.9 C779.2,848.7 768.8,848.2 759.9,848.7 C750.9,849.2 735.5,857.9 730.8,848.7 Z" fill="#2828c8" fill-opacity="0.85" filter="url(#blur2)"/>
<rect x="722" y="661.3" width="131.5" height="212.20000000000005" fill="url(#pt)" fill-opacity="0.62" mask="url(#mk5)"/>
<g class="pc"><circle cx="779" cy="848"/><circle cx="766" cy="807"/><circle cx="742" cy="809"/><circle cx="771" cy="831"/><circle cx="781" cy="776"/><circle cx="740" cy="750"/><circle cx="743" cy="701"/><circle cx="754" cy="804"/><circle cx="772" cy="820"/><circle cx="759" cy="685"/><circle cx="733" cy="733"/><circle cx="782" cy="780"/><circle cx="757" cy="758"/><circle cx="768" cy="803"/><circle cx="770" cy="846"/><circle cx="787" cy="800"/><circle cx="758" cy="786"/><circle cx="751" cy="837"/><circle cx="803" cy="791"/><circle cx="793" cy="824"/><circle cx="759" cy="815"/><circle cx="767" cy="731"/><circle cx="826" cy="789"/><circle cx="775" cy="804"/><circle cx="772" cy="788"/><circle cx="781" cy="761"/><circle cx="761" cy="838"/><circle cx="807" cy="821"/><circle cx="801" cy="822"/><circle cx="732" cy="807"/><circle cx="776" cy="821"/><circle cx="781" cy="702"/><circle cx="766" cy="742"/><circle cx="803" cy="815"/><circle cx="790" cy="824"/><circle cx="766" cy="752"/><circle cx="752" cy="762"/><circle cx="732" cy="839"/><circle cx="817" cy="692"/><circle cx="749" cy="846"/><circle cx="796" cy="815"/><circle cx="764" cy="829"/><circle cx="754" cy="736"/><circle cx="749" cy="769"/><circle cx="799" cy="819"/><circle cx="765" cy="767"/><circle cx="793" cy="777"/><circle cx="762" cy="837"/><circle cx="774" cy="825"/><circle cx="780" cy="824"/><circle cx="746" cy="763"/><circle cx="745" cy="780"/><circle cx="779" cy="804"/><circle cx="753" cy="749"/><circle cx="755" cy="713"/><circle cx="795" cy="785"/><circle cx="752" cy="772"/><circle cx="765" cy="819"/><circle cx="774" cy="827"/><circle cx="763" cy="764"/><circle cx="750" cy="841"/><circle cx="808" cy="836"/><circle cx="796" cy="832"/><circle cx="785" cy="784"/><circle cx="746" cy="714"/><circle cx="739" cy="824"/><circle cx="803" cy="800"/><circle cx="784" cy="767"/><circle cx="759" cy="748"/><circle cx="734" cy="845"/><circle cx="781" cy="798"/><circle cx="734" cy="786"/><circle cx="763" cy="813"/><circle cx="780" cy="755"/><circle cx="758" cy="794"/><circle cx="744" cy="827"/><circle cx="802" cy="777"/><circle cx="743" cy="827"/><circle cx="750" cy="796"/><circle cx="734" cy="794"/><circle cx="787" cy="834"/><circle cx="777" cy="817"/><circle cx="781" cy="836"/><circle cx="744" cy="755"/><circle cx="778" cy="740"/><circle cx="762" cy="842"/><circle cx="755" cy="774"/><circle cx="759" cy="825"/><circle cx="758" cy="777"/><circle cx="757" cy="798"/><circle cx="753" cy="761"/><circle cx="770" cy="777"/><circle cx="743" cy="722"/><circle cx="764" cy="850"/><circle cx="747" cy="824"/><circle cx="759" cy="823"/><circle cx="769" cy="816"/><circle cx="772" cy="766"/><circle cx="759" cy="823"/><circle cx="749" cy="805"/><circle cx="738" cy="797"/><circle cx="770" cy="744"/><circle cx="765" cy="759"/><circle cx="742" cy="704"/><circle cx="764" cy="827"/><circle cx="743" cy="842"/><circle cx="802" cy="816"/><circle cx="788" cy="823"/><circle cx="780" cy="839"/><circle cx="770" cy="767"/><circle cx="748" cy="790"/><circle cx="759" cy="809"/><circle cx="763" cy="796"/><circle cx="779" cy="821"/><circle cx="772" cy="734"/><circle cx="769" cy="836"/><circle cx="738" cy="788"/><circle cx="765" cy="732"/><circle cx="764" cy="790"/><circle cx="761" cy="746"/><circle cx="741" cy="786"/><circle cx="749" cy="824"/><circle cx="782" cy="753"/><circle cx="778" cy="792"/><circle cx="742" cy="825"/><circle cx="770" cy="734"/><circle cx="743" cy="829"/><circle cx="744" cy="785"/><circle cx="755" cy="835"/><circle cx="794" cy="841"/><circle cx="770" cy="834"/><circle cx="734" cy="805"/><circle cx="761" cy="745"/><circle cx="802" cy="824"/><circle cx="766" cy="738"/><circle cx="741" cy="765"/><circle cx="745" cy="848"/><circle cx="781" cy="792"/><circle cx="788" cy="799"/><circle cx="741" cy="829"/><circle cx="771" cy="739"/><circle cx="773" cy="720"/><circle cx="801" cy="813"/><circle cx="741" cy="719"/><circle cx="734" cy="759"/><circle cx="753" cy="803"/><circle cx="756" cy="759"/><circle cx="749" cy="746"/><circle cx="774" cy="835"/><circle cx="787" cy="848"/><circle cx="781" cy="798"/><circle cx="803" cy="820"/><circle cx="777" cy="748"/><circle cx="735" cy="848"/><circle cx="749" cy="721"/><circle cx="753" cy="718"/><circle cx="758" cy="822"/><circle cx="740" cy="821"/><circle cx="763" cy="808"/><circle cx="766" cy="749"/><circle cx="787" cy="849"/><circle cx="784" cy="681"/><circle cx="787" cy="850"/><circle cx="763" cy="848"/><circle cx="745" cy="785"/><circle cx="767" cy="734"/><circle cx="744" cy="773"/><circle cx="774" cy="847"/><circle cx="760" cy="836"/><circle cx="740" cy="788"/><circle cx="805" cy="810"/><circle cx="772" cy="774"/><circle cx="769" cy="804"/><circle cx="753" cy="824"/><circle cx="737" cy="808"/><circle cx="774" cy="769"/><circle cx="749" cy="784"/><circle cx="785" cy="769"/><circle cx="760" cy="833"/><circle cx="792" cy="773"/><circle cx="754" cy="791"/><circle cx="740" cy="757"/><circle cx="807" cy="835"/><circle cx="769" cy="827"/><circle cx="784" cy="796"/><circle cx="755" cy="830"/><circle cx="799" cy="793"/><circle cx="754" cy="794"/><circle cx="808" cy="782"/><circle cx="748" cy="795"/><circle cx="765" cy="801"/><circle cx="790" cy="830"/><circle cx="798" cy="769"/><circle cx="779" cy="783"/><circle cx="733" cy="776"/><circle cx="759" cy="821"/><circle cx="741" cy="806"/><circle cx="782" cy="743"/><circle cx="800" cy="674"/><circle cx="781" cy="797"/><circle cx="777" cy="750"/><circle cx="753" cy="734"/><circle cx="746" cy="829"/><circle cx="752" cy="812"/><circle cx="798" cy="672"/><circle cx="755" cy="764"/><circle cx="770" cy="814"/><circle cx="762" cy="836"/><circle cx="738" cy="784"/><circle cx="749" cy="759"/><circle cx="732" cy="784"/><circle cx="800" cy="799"/><circle cx="734" cy="833"/><circle cx="768" cy="743"/><circle cx="734" cy="803"/><circle cx="746" cy="781"/><circle cx="767" cy="780"/><circle cx="748" cy="742"/><circle cx="739" cy="812"/><circle cx="758" cy="831"/><circle cx="734" cy="850"/><circle cx="771" cy="750"/><circle cx="767" cy="842"/><circle cx="793" cy="818"/><circle cx="767" cy="797"/><circle cx="732" cy="762"/><circle cx="803" cy="821"/><circle cx="739" cy="771"/><circle cx="800" cy="792"/><circle cx="773" cy="822"/><circle cx="744" cy="788"/><circle cx="771" cy="717"/><circle cx="773" cy="805"/><circle cx="782" cy="818"/><circle cx="774" cy="834"/><circle cx="740" cy="738"/><circle cx="753" cy="682"/><circle cx="764" cy="826"/><circle cx="752" cy="752"/><circle cx="733" cy="838"/><circle cx="788" cy="791"/><circle cx="793" cy="798"/><circle cx="752" cy="788"/><circle cx="788" cy="810"/><circle cx="746" cy="781"/><circle cx="760" cy="800"/><circle cx="764" cy="716"/><circle cx="803" cy="710"/><circle cx="746" cy="727"/><circle cx="778" cy="840"/><circle cx="801" cy="688"/><circle cx="794" cy="780"/><circle cx="751" cy="789"/><circle cx="745" cy="804"/><circle cx="761" cy="837"/><circle cx="748" cy="776"/><circle cx="770" cy="752"/><circle cx="769" cy="828"/><circle cx="772" cy="818"/><circle cx="792" cy="803"/><circle cx="780" cy="767"/><circle cx="765" cy="788"/><circle cx="770" cy="782"/><circle cx="748" cy="763"/><circle cx="734" cy="835"/><circle cx="777" cy="790"/><circle cx="747" cy="755"/><circle cx="750" cy="806"/><circle cx="790" cy="783"/><circle cx="746" cy="731"/><circle cx="747" cy="842"/><circle cx="772" cy="778"/><circle cx="772" cy="819"/><circle cx="771" cy="730"/><circle cx="744" cy="849"/><circle cx="747" cy="769"/><circle cx="801" cy="709"/><circle cx="761" cy="800"/><circle cx="774" cy="821"/><circle cx="731" cy="794"/><circle cx="737" cy="774"/><circle cx="799" cy="794"/><circle cx="783" cy="812"/><circle cx="775" cy="772"/><circle cx="751" cy="844"/><circle cx="768" cy="801"/><circle cx="787" cy="763"/><circle cx="801" cy="792"/><circle cx="753" cy="845"/><circle cx="751" cy="844"/><circle cx="745" cy="724"/><circle cx="743" cy="776"/><circle cx="826" cy="709"/><circle cx="774" cy="805"/><circle cx="762" cy="767"/><circle cx="804" cy="805"/><circle cx="780" cy="749"/><circle cx="749" cy="837"/><circle cx="745" cy="776"/><circle cx="806" cy="814"/><circle cx="740" cy="794"/><circle cx="731" cy="753"/><circle cx="766" cy="843"/><circle cx="789" cy="850"/><circle cx="778" cy="780"/><circle cx="747" cy="798"/><circle cx="776" cy="769"/><circle cx="739" cy="768"/><circle cx="752" cy="805"/><circle cx="783" cy="769"/><circle cx="735" cy="763"/><circle cx="772" cy="793"/><circle cx="828" cy="784"/><circle cx="765" cy="797"/><circle cx="788" cy="777"/><circle cx="750" cy="777"/><circle cx="774" cy="735"/><circle cx="775" cy="825"/><circle cx="759" cy="776"/><circle cx="756" cy="719"/><circle cx="818" cy="764"/><circle cx="734" cy="802"/><circle cx="732" cy="796"/><circle cx="760" cy="824"/><circle cx="768" cy="674"/><circle cx="741" cy="725"/><circle cx="778" cy="800"/><circle cx="785" cy="797"/><circle cx="776" cy="828"/><circle cx="767" cy="809"/><circle cx="740" cy="797"/><circle cx="740" cy="760"/><circle cx="780" cy="784"/><circle cx="766" cy="715"/><circle cx="759" cy="769"/><circle cx="803" cy="805"/><circle cx="757" cy="779"/><circle cx="769" cy="762"/><circle cx="787" cy="786"/><circle cx="769" cy="754"/><circle cx="789" cy="728"/><circle cx="753" cy="799"/><circle cx="814" cy="748"/><circle cx="737" cy="711"/><circle cx="732" cy="756"/><circle cx="779" cy="687"/><circle cx="798" cy="798"/><circle cx="754" cy="771"/><circle cx="772" cy="732"/><circle cx="787" cy="774"/><circle cx="742" cy="837"/><circle cx="758" cy="834"/><circle cx="768" cy="744"/><circle cx="757" cy="764"/><circle cx="764" cy="734"/><circle cx="760" cy="841"/><circle cx="771" cy="734"/><circle cx="784" cy="806"/><circle cx="762" cy="825"/><circle cx="768" cy="733"/><circle cx="749" cy="844"/><circle cx="756" cy="685"/><circle cx="752" cy="759"/><circle cx="737" cy="799"/><circle cx="798" cy="835"/><circle cx="823" cy="755"/><circle cx="737" cy="768"/><circle cx="760" cy="841"/><circle cx="799" cy="825"/><circle cx="776" cy="754"/><circle cx="826" cy="808"/><circle cx="733" cy="795"/><circle cx="744" cy="723"/><circle cx="760" cy="813"/><circle cx="741" cy="783"/><circle cx="778" cy="742"/><circle cx="745" cy="826"/><circle cx="785" cy="769"/><circle cx="738" cy="775"/><circle cx="760" cy="802"/><circle cx="731" cy="804"/><circle cx="754" cy="711"/><circle cx="733" cy="839"/><circle cx="787" cy="755"/><circle cx="796" cy="819"/><circle cx="733" cy="817"/><circle cx="765" cy="812"/><circle cx="740" cy="807"/><circle cx="747" cy="738"/><circle cx="747" cy="763"/><circle cx="745" cy="779"/><circle cx="750" cy="798"/><circle cx="734" cy="813"/><circle cx="769" cy="814"/><circle cx="735" cy="746"/><circle cx="770" cy="723"/><circle cx="761" cy="741"/><circle cx="782" cy="800"/><circle cx="785" cy="823"/><circle cx="754" cy="764"/><circle cx="768" cy="797"/><circle cx="758" cy="761"/><circle cx="761" cy="835"/><circle cx="750" cy="753"/><circle cx="760" cy="759"/><circle cx="762" cy="819"/><circle cx="732" cy="763"/><circle cx="762" cy="750"/><circle cx="805" cy="770"/><circle cx="751" cy="747"/><circle cx="748" cy="777"/><circle cx="783" cy="742"/><circle cx="785" cy="754"/><circle cx="737" cy="812"/><circle cx="791" cy="764"/><circle cx="756" cy="840"/><circle cx="756" cy="829"/><circle cx="775" cy="827"/><circle cx="775" cy="807"/><circle cx="739" cy="787"/><circle cx="734" cy="832"/><circle cx="753" cy="848"/><circle cx="780" cy="843"/><circle cx="782" cy="827"/><circle cx="804" cy="815"/><circle cx="739" cy="788"/><circle cx="773" cy="813"/><circle cx="763" cy="714"/><circle cx="747" cy="730"/><circle cx="784" cy="831"/><circle cx="755" cy="781"/><circle cx="767" cy="792"/><circle cx="776" cy="849"/><circle cx="770" cy="807"/><circle cx="737" cy="766"/><circle cx="743" cy="801"/><circle cx="781" cy="743"/><circle cx="755" cy="827"/><circle cx="757" cy="796"/><circle cx="735" cy="840"/><circle cx="775" cy="741"/><circle cx="739" cy="717"/><circle cx="739" cy="718"/><circle cx="761" cy="711"/><circle cx="774" cy="830"/><circle cx="733" cy="785"/><circle cx="764" cy="761"/><circle cx="794" cy="840"/><circle cx="794" cy="786"/><circle cx="768" cy="826"/><circle cx="758" cy="812"/><circle cx="766" cy="844"/><circle cx="798" cy="828"/><circle cx="800" cy="761"/><circle cx="733" cy="843"/><circle cx="801" cy="833"/><circle cx="749" cy="787"/><circle cx="780" cy="825"/><circle cx="731" cy="840"/><circle cx="734" cy="788"/><circle cx="763" cy="743"/><circle cx="781" cy="821"/><circle cx="781" cy="756"/><circle cx="797" cy="772"/><circle cx="792" cy="777"/><circle cx="758" cy="792"/><circle cx="778" cy="673"/><circle cx="750" cy="752"/><circle cx="744" cy="830"/><circle cx="786" cy="838"/><circle cx="776" cy="814"/><circle cx="759" cy="825"/><circle cx="764" cy="774"/><circle cx="768" cy="715"/><circle cx="749" cy="758"/><circle cx="754" cy="772"/><circle cx="788" cy="768"/><circle cx="781" cy="782"/><circle cx="739" cy="818"/><circle cx="760" cy="783"/><circle cx="761" cy="831"/><circle cx="764" cy="751"/><circle cx="798" cy="830"/><circle cx="755" cy="784"/><circle cx="776" cy="792"/><circle cx="748" cy="741"/><circle cx="757" cy="845"/><circle cx="796" cy="850"/><circle cx="753" cy="800"/><circle cx="818" cy="767"/><circle cx="766" cy="699"/><circle cx="804" cy="808"/><circle cx="735" cy="777"/><circle cx="751" cy="770"/><circle cx="763" cy="790"/><circle cx="776" cy="784"/><circle cx="732" cy="796"/><circle cx="741" cy="756"/><circle cx="780" cy="733"/><circle cx="759" cy="778"/><circle cx="796" cy="846"/><circle cx="741" cy="846"/><circle cx="758" cy="824"/><circle cx="756" cy="778"/><circle cx="784" cy="806"/><circle cx="795" cy="833"/><circle cx="776" cy="750"/><circle cx="733" cy="834"/></g>
<path d="M730.8,832.1 C728.5,821.0 731.3,792.0 732.2,779.5 C733.1,767.1 734.0,761.1 736.3,757.4 C738.6,753.7 742.6,758.8 746.0,757.4 C749.5,756.0 754.3,748.2 757.1,749.1 C759.9,750.0 759.9,759.7 762.6,762.9 C765.4,766.1 770.9,765.7 773.7,768.4 C776.5,771.2 776.9,774.4 779.2,779.5 C781.5,784.6 785.2,792.0 787.5,798.9 C789.8,805.8 792.6,815.5 793.1,821.0 C793.5,826.6 793.5,827.9 790.3,832.1 C787.1,836.2 781.1,843.6 773.7,845.9 C766.3,848.2 753.2,848.2 746.0,845.9 C738.9,843.6 733.1,843.2 730.8,832.1 Z" fill="none" stroke="#2c2c50" stroke-width="1.0"/>
<path d="M737.6,826.0 C735.8,817.4 738.0,794.7 738.7,785.0 C739.4,775.3 740.1,770.6 741.9,767.7 C743.7,764.9 746.8,768.8 749.5,767.7 C752.2,766.6 756.0,760.5 758.1,761.3 C760.3,762.0 760.3,769.5 762.4,772.0 C764.6,774.6 768.9,774.2 771.1,776.4 C773.2,778.5 773.6,781.0 775.4,785.0 C777.2,789.0 780.1,794.7 781.9,800.1 C783.7,805.5 785.8,813.1 786.2,817.4 C786.5,821.7 786.5,822.8 784.0,826.0 C781.5,829.2 776.8,835.0 771.1,836.8 C765.3,838.6 755.1,838.6 749.5,836.8 C743.9,835.0 739.4,834.6 737.6,826.0 Z" fill="none" stroke="#2c2c50" stroke-width="0.8"/>
<path d="M743.8,820.5 C742.5,814.0 744.1,797.2 744.6,790.0 C745.1,782.8 745.7,779.3 747.0,777.1 C748.4,775.0 750.6,777.9 752.6,777.1 C754.6,776.3 757.5,771.8 759.1,772.3 C760.7,772.9 760.7,778.5 762.3,780.3 C763.9,782.2 767.1,782.0 768.7,783.6 C770.3,785.2 770.6,787.0 771.9,790.0 C773.2,792.9 775.4,797.2 776.7,801.2 C778.0,805.2 779.7,810.8 779.9,814.0 C780.2,817.3 780.2,818.1 778.3,820.5 C776.4,822.9 773.0,827.2 768.7,828.5 C764.4,829.8 756.8,829.8 752.6,828.5 C748.5,827.2 745.1,826.9 743.8,820.5 Z" fill="none" stroke="#2c2c50" stroke-width="0.7"/>
</g>
<clipPath id="cl6"><rect x="855.5" y="661.3" width="132.0" height="212.20000000000005"/></clipPath>
<g clip-path="url(#cl6)">
<path d="M862.2,850.1 C853.9,826.8 860.4,735.9 862.2,710.3 C864.1,684.7 868.7,697.4 873.3,696.5 C877.9,695.6 884.4,698.8 889.9,704.8 C895.4,710.8 900.1,723.3 906.5,732.5 C913.0,741.7 921.3,750.9 928.6,760.1 C936.0,769.4 945.2,777.7 950.8,787.8 C956.3,798.0 961.8,811.3 961.8,821.0 C961.8,830.7 959.1,841.1 950.8,845.9 C942.5,850.8 926.8,849.4 912.0,850.1 C897.3,850.8 870.5,873.4 862.2,850.1 Z" fill="#f7eff7" fill-opacity="0.85" filter="url(#blur5)"/>
<path d="M863.6,834.9 C860.4,821.9 864.1,778.6 865.0,765.7 C865.9,752.8 866.8,758.3 869.2,757.4 C871.5,756.5 875.4,760.1 878.8,760.1 C882.3,760.1 886.2,755.5 889.9,757.4 C893.6,759.2 897.7,766.1 901.0,771.2 C904.2,776.3 906.5,784.6 909.3,787.8 C912.0,791.0 915.3,786.0 917.6,790.6 C919.9,795.2 921.7,809.0 923.1,815.5 C924.5,821.9 927.7,826.1 925.9,829.3 C924.0,832.6 919.0,832.6 912.0,834.9 C905.1,837.2 892.4,843.2 884.4,843.2 C876.3,843.2 866.8,847.8 863.6,834.9 Z" fill="#efdcef" fill-opacity="0.75" filter="url(#blur3)"/>
<mask id="mk6"><path d="M862.2,848.7 C858.5,837.2 861.5,792.4 862.2,779.5 C862.9,766.6 863.6,773.1 866.4,771.2 C869.2,769.4 874.5,768.0 878.8,768.4 C883.2,768.9 888.1,771.2 892.7,774.0 C897.3,776.7 902.4,780.9 906.5,785.0 C910.7,789.2 914.3,792.9 917.6,798.9 C920.8,804.9 924.5,814.6 925.9,821.0 C927.3,827.5 928.2,833.5 925.9,837.6 C923.6,841.8 919.0,844.1 912.0,845.9 C905.1,847.8 892.7,848.2 884.4,848.7 C876.1,849.2 865.9,860.2 862.2,848.7 Z" fill="#fff" filter="url(#blur2)"/></mask>
<path d="M862.2,848.7 C858.5,837.2 861.5,792.4 862.2,779.5 C862.9,766.6 863.6,773.1 866.4,771.2 C869.2,769.4 874.5,768.0 878.8,768.4 C883.2,768.9 888.1,771.2 892.7,774.0 C897.3,776.7 902.4,780.9 906.5,785.0 C910.7,789.2 914.3,792.9 917.6,798.9 C920.8,804.9 924.5,814.6 925.9,821.0 C927.3,827.5 928.2,833.5 925.9,837.6 C923.6,841.8 919.0,844.1 912.0,845.9 C905.1,847.8 892.7,848.2 884.4,848.7 C876.1,849.2 865.9,860.2 862.2,848.7 Z" fill="#7a7080" fill-opacity="0.85" filter="url(#blur2)"/>
<rect x="855.5" y="661.3" width="132.0" height="212.20000000000005" fill="url(#pt)" fill-opacity="1.0" mask="url(#mk6)"/>
<g class="pc"><circle cx="897" cy="784"/><circle cx="893" cy="816"/><circle cx="882" cy="849"/><circle cx="914" cy="765"/><circle cx="910" cy="846"/><circle cx="926" cy="787"/><circle cx="901" cy="780"/><circle cx="865" cy="809"/><circle cx="887" cy="766"/><circle cx="890" cy="842"/><circle cx="968" cy="726"/><circle cx="887" cy="843"/><circle cx="878" cy="729"/><circle cx="921" cy="827"/><circle cx="899" cy="810"/><circle cx="935" cy="682"/><circle cx="913" cy="821"/><circle cx="902" cy="784"/><circle cx="867" cy="733"/><circle cx="915" cy="795"/><circle cx="916" cy="792"/><circle cx="871" cy="724"/><circle cx="871" cy="828"/><circle cx="891" cy="798"/><circle cx="894" cy="824"/><circle cx="897" cy="719"/><circle cx="884" cy="786"/><circle cx="901" cy="836"/><circle cx="918" cy="780"/><circle cx="913" cy="835"/><circle cx="866" cy="832"/><circle cx="940" cy="836"/><circle cx="917" cy="818"/><circle cx="933" cy="824"/><circle cx="911" cy="775"/><circle cx="904" cy="775"/><circle cx="902" cy="751"/><circle cx="883" cy="811"/><circle cx="887" cy="737"/><circle cx="881" cy="814"/><circle cx="907" cy="805"/><circle cx="889" cy="740"/><circle cx="930" cy="770"/><circle cx="869" cy="677"/><circle cx="920" cy="807"/><circle cx="925" cy="825"/><circle cx="909" cy="807"/><circle cx="917" cy="785"/><circle cx="944" cy="710"/><circle cx="938" cy="784"/><circle cx="895" cy="850"/><circle cx="868" cy="817"/><circle cx="920" cy="757"/><circle cx="945" cy="791"/><circle cx="892" cy="837"/><circle cx="887" cy="718"/><circle cx="915" cy="797"/><circle cx="898" cy="793"/><circle cx="896" cy="842"/><circle cx="907" cy="830"/><circle cx="903" cy="798"/><circle cx="880" cy="812"/><circle cx="936" cy="824"/><circle cx="913" cy="792"/><circle cx="893" cy="758"/><circle cx="917" cy="803"/><circle cx="864" cy="816"/><circle cx="879" cy="707"/><circle cx="871" cy="709"/><circle cx="887" cy="821"/><circle cx="881" cy="790"/><circle cx="864" cy="784"/><circle cx="885" cy="848"/><circle cx="932" cy="793"/><circle cx="888" cy="841"/><circle cx="899" cy="716"/><circle cx="867" cy="846"/><circle cx="946" cy="680"/><circle cx="914" cy="801"/><circle cx="878" cy="792"/><circle cx="913" cy="839"/><circle cx="876" cy="760"/><circle cx="904" cy="796"/><circle cx="890" cy="784"/><circle cx="909" cy="825"/><circle cx="871" cy="732"/><circle cx="887" cy="779"/><circle cx="933" cy="773"/><circle cx="894" cy="822"/><circle cx="874" cy="743"/><circle cx="928" cy="763"/><circle cx="930" cy="764"/><circle cx="898" cy="797"/><circle cx="911" cy="810"/><circle cx="869" cy="782"/><circle cx="878" cy="743"/><circle cx="904" cy="828"/><circle cx="895" cy="804"/><circle cx="880" cy="817"/><circle cx="907" cy="821"/><circle cx="871" cy="809"/><circle cx="903" cy="848"/><circle cx="907" cy="829"/><circle cx="899" cy="784"/><circle cx="904" cy="835"/><circle cx="916" cy="782"/><circle cx="909" cy="786"/><circle cx="878" cy="835"/><circle cx="889" cy="815"/><circle cx="864" cy="792"/><circle cx="904" cy="754"/><circle cx="890" cy="766"/><circle cx="902" cy="690"/><circle cx="911" cy="811"/><circle cx="875" cy="727"/><circle cx="903" cy="792"/><circle cx="892" cy="839"/><circle cx="900" cy="815"/><circle cx="889" cy="806"/><circle cx="907" cy="737"/><circle cx="889" cy="778"/><circle cx="905" cy="823"/><circle cx="874" cy="835"/><circle cx="875" cy="704"/><circle cx="929" cy="720"/><circle cx="884" cy="812"/><circle cx="903" cy="841"/><circle cx="917" cy="748"/><circle cx="891" cy="830"/><circle cx="864" cy="849"/><circle cx="903" cy="832"/><circle cx="920" cy="782"/><circle cx="906" cy="752"/><circle cx="908" cy="814"/><circle cx="948" cy="819"/><circle cx="939" cy="782"/><circle cx="921" cy="798"/><circle cx="872" cy="778"/><circle cx="875" cy="775"/><circle cx="890" cy="710"/><circle cx="925" cy="827"/><circle cx="879" cy="791"/><circle cx="884" cy="705"/><circle cx="899" cy="846"/><circle cx="878" cy="794"/><circle cx="902" cy="798"/><circle cx="866" cy="686"/><circle cx="932" cy="816"/><circle cx="963" cy="828"/><circle cx="944" cy="772"/><circle cx="879" cy="708"/><circle cx="904" cy="734"/><circle cx="886" cy="798"/><circle cx="869" cy="829"/><circle cx="869" cy="798"/><circle cx="876" cy="751"/><circle cx="872" cy="739"/><circle cx="865" cy="839"/><circle cx="862" cy="844"/><circle cx="898" cy="784"/><circle cx="865" cy="820"/><circle cx="905" cy="782"/><circle cx="873" cy="808"/><circle cx="927" cy="830"/><circle cx="905" cy="823"/><circle cx="889" cy="745"/><circle cx="938" cy="785"/><circle cx="882" cy="736"/><circle cx="923" cy="799"/><circle cx="913" cy="770"/><circle cx="873" cy="768"/><circle cx="897" cy="735"/><circle cx="878" cy="753"/><circle cx="883" cy="785"/><circle cx="880" cy="791"/><circle cx="883" cy="801"/><circle cx="913" cy="780"/><circle cx="927" cy="831"/><circle cx="877" cy="773"/><circle cx="953" cy="802"/><circle cx="896" cy="807"/><circle cx="894" cy="791"/><circle cx="905" cy="850"/><circle cx="896" cy="829"/><circle cx="897" cy="743"/><circle cx="874" cy="845"/><circle cx="895" cy="746"/><circle cx="914" cy="777"/><circle cx="896" cy="766"/><circle cx="894" cy="773"/><circle cx="896" cy="818"/><circle cx="882" cy="818"/><circle cx="943" cy="697"/><circle cx="929" cy="813"/><circle cx="904" cy="819"/><circle cx="908" cy="762"/><circle cx="951" cy="802"/><circle cx="891" cy="737"/><circle cx="864" cy="787"/><circle cx="866" cy="812"/><circle cx="870" cy="767"/><circle cx="872" cy="735"/><circle cx="877" cy="809"/><circle cx="869" cy="776"/><circle cx="869" cy="839"/><circle cx="910" cy="759"/><circle cx="931" cy="824"/><circle cx="892" cy="782"/><circle cx="924" cy="807"/><circle cx="863" cy="757"/><circle cx="873" cy="694"/><circle cx="917" cy="838"/><circle cx="896" cy="834"/><circle cx="876" cy="802"/><circle cx="909" cy="805"/><circle cx="953" cy="815"/><circle cx="919" cy="827"/><circle cx="883" cy="832"/><circle cx="936" cy="817"/><circle cx="898" cy="801"/><circle cx="864" cy="829"/><circle cx="896" cy="845"/><circle cx="873" cy="778"/><circle cx="871" cy="797"/><circle cx="873" cy="845"/><circle cx="898" cy="737"/><circle cx="898" cy="755"/><circle cx="923" cy="823"/><circle cx="871" cy="846"/><circle cx="881" cy="826"/><circle cx="945" cy="758"/><circle cx="919" cy="827"/><circle cx="916" cy="767"/><circle cx="892" cy="835"/><circle cx="888" cy="761"/><circle cx="958" cy="817"/><circle cx="910" cy="818"/><circle cx="877" cy="823"/><circle cx="898" cy="797"/><circle cx="884" cy="802"/><circle cx="933" cy="788"/><circle cx="868" cy="839"/><circle cx="895" cy="753"/><circle cx="937" cy="822"/><circle cx="889" cy="733"/><circle cx="965" cy="723"/><circle cx="892" cy="792"/><circle cx="888" cy="789"/><circle cx="865" cy="833"/><circle cx="962" cy="805"/><circle cx="945" cy="832"/><circle cx="878" cy="710"/><circle cx="878" cy="823"/><circle cx="895" cy="837"/><circle cx="924" cy="812"/><circle cx="887" cy="747"/><circle cx="907" cy="802"/><circle cx="907" cy="800"/><circle cx="912" cy="739"/><circle cx="886" cy="742"/><circle cx="941" cy="775"/><circle cx="914" cy="835"/><circle cx="949" cy="791"/><circle cx="884" cy="751"/><circle cx="895" cy="837"/><circle cx="882" cy="775"/><circle cx="901" cy="765"/><circle cx="872" cy="726"/><circle cx="877" cy="847"/><circle cx="913" cy="779"/><circle cx="902" cy="810"/><circle cx="910" cy="791"/><circle cx="888" cy="768"/><circle cx="900" cy="810"/><circle cx="877" cy="825"/><circle cx="942" cy="779"/><circle cx="939" cy="747"/><circle cx="865" cy="807"/><circle cx="916" cy="789"/><circle cx="865" cy="836"/><circle cx="866" cy="777"/><circle cx="882" cy="732"/><circle cx="894" cy="847"/><circle cx="905" cy="833"/><circle cx="881" cy="767"/><circle cx="878" cy="741"/><circle cx="915" cy="828"/><circle cx="864" cy="811"/><circle cx="868" cy="803"/><circle cx="906" cy="776"/><circle cx="863" cy="843"/><circle cx="870" cy="824"/><circle cx="892" cy="802"/><circle cx="871" cy="817"/><circle cx="890" cy="721"/><circle cx="884" cy="713"/><circle cx="902" cy="845"/><circle cx="904" cy="738"/><circle cx="903" cy="833"/><circle cx="945" cy="791"/><circle cx="871" cy="700"/><circle cx="869" cy="794"/><circle cx="911" cy="756"/><circle cx="885" cy="779"/><circle cx="898" cy="779"/><circle cx="872" cy="810"/><circle cx="934" cy="846"/><circle cx="894" cy="798"/><circle cx="937" cy="790"/><circle cx="879" cy="775"/><circle cx="918" cy="804"/><circle cx="885" cy="814"/><circle cx="893" cy="774"/><circle cx="911" cy="757"/><circle cx="867" cy="769"/><circle cx="919" cy="835"/><circle cx="926" cy="813"/><circle cx="917" cy="804"/><circle cx="874" cy="678"/><circle cx="950" cy="792"/><circle cx="891" cy="746"/><circle cx="934" cy="787"/><circle cx="886" cy="829"/><circle cx="879" cy="797"/><circle cx="970" cy="702"/><circle cx="900" cy="764"/><circle cx="918" cy="774"/><circle cx="895" cy="782"/><circle cx="912" cy="779"/><circle cx="870" cy="743"/><circle cx="874" cy="708"/><circle cx="894" cy="795"/><circle cx="905" cy="784"/><circle cx="892" cy="722"/><circle cx="958" cy="820"/><circle cx="885" cy="780"/><circle cx="862" cy="758"/><circle cx="867" cy="829"/><circle cx="904" cy="819"/><circle cx="911" cy="816"/><circle cx="921" cy="759"/><circle cx="938" cy="779"/><circle cx="912" cy="848"/><circle cx="877" cy="709"/><circle cx="869" cy="769"/><circle cx="864" cy="800"/><circle cx="871" cy="826"/><circle cx="876" cy="831"/><circle cx="945" cy="813"/><circle cx="867" cy="734"/><circle cx="931" cy="768"/><circle cx="913" cy="808"/><circle cx="941" cy="797"/><circle cx="902" cy="817"/><circle cx="906" cy="786"/><circle cx="883" cy="807"/><circle cx="946" cy="804"/><circle cx="904" cy="825"/><circle cx="883" cy="766"/><circle cx="907" cy="808"/><circle cx="889" cy="674"/><circle cx="943" cy="692"/><circle cx="923" cy="676"/><circle cx="873" cy="818"/><circle cx="883" cy="785"/><circle cx="916" cy="804"/><circle cx="903" cy="850"/><circle cx="880" cy="754"/><circle cx="907" cy="834"/><circle cx="956" cy="820"/><circle cx="867" cy="818"/><circle cx="882" cy="831"/><circle cx="903" cy="738"/><circle cx="888" cy="748"/><circle cx="889" cy="802"/><circle cx="877" cy="742"/><circle cx="871" cy="829"/><circle cx="865" cy="842"/><circle cx="933" cy="785"/><circle cx="874" cy="770"/><circle cx="907" cy="761"/><circle cx="870" cy="771"/><circle cx="866" cy="770"/><circle cx="897" cy="815"/><circle cx="913" cy="821"/><circle cx="889" cy="778"/><circle cx="938" cy="808"/><circle cx="892" cy="733"/><circle cx="912" cy="758"/><circle cx="914" cy="772"/><circle cx="942" cy="794"/><circle cx="921" cy="838"/><circle cx="899" cy="804"/><circle cx="900" cy="800"/><circle cx="915" cy="754"/><circle cx="915" cy="747"/><circle cx="879" cy="730"/><circle cx="942" cy="805"/><circle cx="910" cy="789"/><circle cx="887" cy="809"/><circle cx="932" cy="813"/><circle cx="910" cy="764"/><circle cx="936" cy="820"/><circle cx="899" cy="787"/><circle cx="929" cy="808"/><circle cx="870" cy="819"/><circle cx="874" cy="826"/><circle cx="916" cy="810"/><circle cx="927" cy="766"/><circle cx="927" cy="789"/><circle cx="881" cy="713"/><circle cx="918" cy="776"/><circle cx="914" cy="843"/><circle cx="903" cy="747"/><circle cx="938" cy="816"/><circle cx="904" cy="797"/><circle cx="941" cy="829"/><circle cx="877" cy="784"/><circle cx="896" cy="684"/><circle cx="891" cy="845"/><circle cx="877" cy="761"/><circle cx="889" cy="789"/><circle cx="888" cy="827"/><circle cx="913" cy="751"/><circle cx="935" cy="809"/><circle cx="907" cy="826"/><circle cx="864" cy="821"/><circle cx="934" cy="830"/><circle cx="961" cy="740"/><circle cx="928" cy="738"/><circle cx="926" cy="758"/><circle cx="913" cy="800"/><circle cx="929" cy="765"/><circle cx="869" cy="797"/><circle cx="881" cy="820"/><circle cx="895" cy="745"/><circle cx="871" cy="776"/><circle cx="867" cy="799"/><circle cx="868" cy="798"/><circle cx="962" cy="724"/><circle cx="915" cy="812"/><circle cx="913" cy="825"/><circle cx="867" cy="821"/><circle cx="942" cy="825"/><circle cx="868" cy="760"/><circle cx="959" cy="689"/><circle cx="889" cy="730"/><circle cx="865" cy="734"/><circle cx="874" cy="712"/><circle cx="898" cy="738"/><circle cx="873" cy="824"/><circle cx="916" cy="821"/><circle cx="947" cy="839"/><circle cx="908" cy="764"/><circle cx="902" cy="749"/><circle cx="944" cy="826"/><circle cx="867" cy="737"/><circle cx="893" cy="745"/><circle cx="863" cy="713"/><circle cx="901" cy="735"/><circle cx="865" cy="833"/><circle cx="864" cy="768"/><circle cx="956" cy="811"/><circle cx="900" cy="840"/><circle cx="915" cy="782"/><circle cx="865" cy="847"/><circle cx="959" cy="827"/><circle cx="944" cy="715"/><circle cx="915" cy="769"/><circle cx="895" cy="736"/><circle cx="875" cy="760"/><circle cx="875" cy="742"/><circle cx="912" cy="813"/><circle cx="875" cy="776"/><circle cx="941" cy="794"/><circle cx="872" cy="698"/><circle cx="910" cy="831"/><circle cx="863" cy="783"/><circle cx="868" cy="795"/><circle cx="889" cy="827"/><circle cx="944" cy="832"/><circle cx="874" cy="706"/><circle cx="913" cy="780"/><circle cx="938" cy="815"/><circle cx="910" cy="782"/><circle cx="921" cy="808"/><circle cx="870" cy="811"/><circle cx="864" cy="789"/><circle cx="954" cy="801"/><circle cx="919" cy="780"/><circle cx="888" cy="845"/><circle cx="890" cy="784"/><circle cx="902" cy="804"/><circle cx="905" cy="745"/><circle cx="889" cy="718"/><circle cx="913" cy="826"/><circle cx="886" cy="844"/><circle cx="892" cy="844"/><circle cx="922" cy="823"/><circle cx="939" cy="751"/><circle cx="876" cy="792"/><circle cx="870" cy="768"/><circle cx="871" cy="787"/><circle cx="903" cy="837"/><circle cx="903" cy="788"/><circle cx="895" cy="784"/><circle cx="883" cy="820"/><circle cx="903" cy="799"/><circle cx="957" cy="823"/><circle cx="925" cy="790"/><circle cx="943" cy="827"/><circle cx="933" cy="800"/><circle cx="876" cy="785"/><circle cx="923" cy="750"/><circle cx="881" cy="779"/><circle cx="909" cy="779"/><circle cx="888" cy="776"/><circle cx="955" cy="841"/><circle cx="944" cy="791"/><circle cx="892" cy="724"/><circle cx="877" cy="833"/><circle cx="866" cy="838"/><circle cx="863" cy="748"/><circle cx="934" cy="800"/><circle cx="943" cy="820"/><circle cx="872" cy="793"/><circle cx="901" cy="792"/><circle cx="908" cy="809"/><circle cx="924" cy="770"/><circle cx="869" cy="800"/><circle cx="906" cy="839"/><circle cx="893" cy="806"/><circle cx="874" cy="845"/><circle cx="869" cy="751"/><circle cx="894" cy="787"/><circle cx="918" cy="769"/><circle cx="926" cy="837"/></g>
<path d="M863.6,834.9 C860.4,821.9 864.1,778.6 865.0,765.7 C865.9,752.8 866.8,758.3 869.2,757.4 C871.5,756.5 875.4,760.1 878.8,760.1 C882.3,760.1 886.2,755.5 889.9,757.4 C893.6,759.2 897.7,766.1 901.0,771.2 C904.2,776.3 906.5,784.6 909.3,787.8 C912.0,791.0 915.3,786.0 917.6,790.6 C919.9,795.2 921.7,809.0 923.1,815.5 C924.5,821.9 927.7,826.1 925.9,829.3 C924.0,832.6 919.0,832.6 912.0,834.9 C905.1,837.2 892.4,843.2 884.4,843.2 C876.3,843.2 866.8,847.8 863.6,834.9 Z" fill="none" stroke="#3a3a3a" stroke-width="1.0"/>
<path d="M865.8,836.5 C862.8,825.2 866.2,787.0 867.1,775.6 C868.0,764.3 868.8,769.1 870.9,768.3 C873.1,767.5 876.7,770.8 879.9,770.8 C883.1,770.8 886.8,766.7 890.2,768.3 C893.6,770.0 897.5,776.0 900.5,780.5 C903.5,785.0 905.6,792.3 908.2,795.1 C910.7,798.0 913.7,793.5 915.9,797.6 C918.0,801.6 919.7,813.8 921.0,819.5 C922.3,825.2 925.3,828.8 923.6,831.6 C921.9,834.5 917.2,834.5 910.7,836.5 C904.3,838.5 892.6,843.8 885.1,843.8 C877.6,843.8 868.8,847.9 865.8,836.5 Z" fill="none" stroke="#3a3a3a" stroke-width="0.8"/>
<path d="M868.0,838.2 C865.2,828.4 868.4,795.4 869.2,785.6 C870.0,775.8 870.8,780.0 872.7,779.3 C874.7,778.6 878.1,781.4 881.0,781.4 C884.0,781.4 887.3,777.9 890.5,779.3 C893.7,780.7 897.2,786.0 900.0,789.8 C902.7,793.7 904.7,800.0 907.1,802.4 C909.5,804.9 912.2,801.0 914.2,804.5 C916.2,808.0 917.7,818.5 918.9,823.5 C920.1,828.4 922.9,831.5 921.3,834.0 C919.7,836.4 915.4,836.4 909.5,838.2 C903.5,839.9 892.7,844.5 885.8,844.5 C878.9,844.5 870.8,848.0 868.0,838.2 Z" fill="none" stroke="#3a3a3a" stroke-width="0.7"/>
</g>
<rect x="588" y="660.3" width="400.5" height="214.20000000000005" fill="none" stroke="#808080" stroke-width="2"/>
<line x1="721.0" y1="660.3" x2="721.0" y2="874.5" stroke="#808080" stroke-width="2" />
<line x1="854.5" y1="660.3" x2="854.5" y2="874.5" stroke="#808080" stroke-width="2" />
<line x1="578.0" y1="659.5" x2="588.0" y2="659.5" stroke="#808080" stroke-width="2" />
<line x1="578.0" y1="757.5" x2="588.0" y2="757.5" stroke="#808080" stroke-width="2" />
<line x1="578.0" y1="855.5" x2="588.0" y2="855.5" stroke="#808080" stroke-width="2" />
<line x1="583.0" y1="708.5" x2="588.0" y2="708.5" stroke="#808080" stroke-width="2" />
<line x1="583.0" y1="806.5" x2="588.0" y2="806.5" stroke="#808080" stroke-width="2" />
<line x1="711.0" y1="659.5" x2="721.0" y2="659.5" stroke="#808080" stroke-width="2" />
<line x1="711.0" y1="757.5" x2="721.0" y2="757.5" stroke="#808080" stroke-width="2" />
<line x1="711.0" y1="855.5" x2="721.0" y2="855.5" stroke="#808080" stroke-width="2" />
<line x1="716.0" y1="708.5" x2="721.0" y2="708.5" stroke="#808080" stroke-width="2" />
<line x1="716.0" y1="806.5" x2="721.0" y2="806.5" stroke="#808080" stroke-width="2" />
<line x1="844.5" y1="659.5" x2="854.5" y2="659.5" stroke="#808080" stroke-width="2" />
<line x1="844.5" y1="757.5" x2="854.5" y2="757.5" stroke="#808080" stroke-width="2" />
<line x1="844.5" y1="855.5" x2="854.5" y2="855.5" stroke="#808080" stroke-width="2" />
<line x1="849.5" y1="708.5" x2="854.5" y2="708.5" stroke="#808080" stroke-width="2" />
<line x1="849.5" y1="806.5" x2="854.5" y2="806.5" stroke="#808080" stroke-width="2" />
<line x1="603.3" y1="874.5" x2="603.3" y2="884.5" stroke="#808080" stroke-width="2" />
<line x1="650.7" y1="874.5" x2="650.7" y2="884.5" stroke="#808080" stroke-width="2" />
<line x1="697.7" y1="874.5" x2="697.7" y2="884.5" stroke="#808080" stroke-width="2" />
<line x1="627.0" y1="874.5" x2="627.0" y2="880.5" stroke="#808080" stroke-width="2" />
<line x1="674.2" y1="874.5" x2="674.2" y2="880.5" stroke="#808080" stroke-width="2" />
<line x1="721.0" y1="874.5" x2="721.0" y2="880.5" stroke="#808080" stroke-width="2" />
<text x="603.3" y="915.0" font-size="28" text-anchor="middle">0</text>
<text x="650.7" y="915.0" font-size="28" text-anchor="middle">3</text>
<text x="697.7" y="915.0" font-size="28" text-anchor="middle">6</text>
<line x1="735.0" y1="874.5" x2="735.0" y2="884.5" stroke="#808080" stroke-width="2" />
<line x1="781.7" y1="874.5" x2="781.7" y2="884.5" stroke="#808080" stroke-width="2" />
<line x1="828.3" y1="874.5" x2="828.3" y2="884.5" stroke="#808080" stroke-width="2" />
<line x1="758.3" y1="874.5" x2="758.3" y2="880.5" stroke="#808080" stroke-width="2" />
<line x1="805.0" y1="874.5" x2="805.0" y2="880.5" stroke="#808080" stroke-width="2" />
<line x1="851.7" y1="874.5" x2="851.7" y2="880.5" stroke="#808080" stroke-width="2" />
<text x="735.0" y="915.0" font-size="28" text-anchor="middle">0</text>
<text x="781.7" y="915.0" font-size="28" text-anchor="middle">7</text>
<text x="828.3" y="915.0" font-size="28" text-anchor="middle">14</text>
<line x1="866.0" y1="874.5" x2="866.0" y2="884.5" stroke="#808080" stroke-width="2" />
<line x1="921.7" y1="874.5" x2="921.7" y2="884.5" stroke="#808080" stroke-width="2" />
<line x1="977.3" y1="874.5" x2="977.3" y2="884.5" stroke="#808080" stroke-width="2" />
<line x1="893.8" y1="874.5" x2="893.8" y2="880.5" stroke="#808080" stroke-width="2" />
<line x1="949.5" y1="874.5" x2="949.5" y2="880.5" stroke="#808080" stroke-width="2" />
<text x="866.0" y="915.0" font-size="28" text-anchor="middle">0</text>
<text x="921.7" y="915.0" font-size="28" text-anchor="middle">0.5</text>
<text x="977.3" y="915.0" font-size="28" text-anchor="middle">1.0</text>
<text x="576.7" y="671.3" font-size="28" text-anchor="end">1.0</text>
<text x="576.7" y="769.3" font-size="28" text-anchor="end">0.5</text>
<text x="576.7" y="867.3" font-size="28" text-anchor="end">0</text>
<text x="529.4" y="794.7" font-size="28.7" text-anchor="middle" transform="rotate(-90 529.4 794.7)">Deviated angle DP (rad)</text>
<text x="654.2" y="946.7" font-size="28.6" text-anchor="middle">OT (deg)</text>
<text x="799.2" y="946.7" font-size="28.6" text-anchor="middle">OD (pm)</text>
<text x="923.3" y="946.7" font-size="28.6" text-anchor="middle"><tspan font-style="italic">r</tspan><tspan font-size="21" dy="7">CO</tspan></text>
<line x1="1092.0" y1="757.5" x2="1492.3" y2="757.5" stroke="#8c8c8c" stroke-width="1" stroke-dasharray="5,3,1.5,3"/>
<line x1="1092.0" y1="855.5" x2="1492.3" y2="855.5" stroke="#8c8c8c" stroke-width="1" stroke-dasharray="5,3,1.5,3"/>
<clipPath id="cl7"><rect x="1093" y="661.3" width="131" height="212.20000000000005"/></clipPath>
<g clip-path="url(#cl7)">
<path d="M1105.8,850.1 C1097.7,829.1 1104.1,744.7 1105.8,724.2 C1107.4,703.7 1111.5,722.3 1115.4,726.9 C1119.4,731.6 1123.7,744.5 1129.3,751.8 C1134.8,759.2 1142.2,765.7 1148.6,771.2 C1155.1,776.7 1161.1,780.4 1168.0,785.0 C1174.9,789.7 1185.1,792.0 1190.1,798.9 C1195.2,805.8 1198.4,818.7 1198.4,826.6 C1198.4,834.4 1197.5,842.0 1190.1,845.9 C1182.8,849.8 1168.2,849.4 1154.2,850.1 C1140.1,850.8 1113.8,871.1 1105.8,850.1 Z" fill="#fbfbb4" fill-opacity="0.3825" filter="url(#blur5)"/>
<path d="M1107.1,821.0 C1106.2,812.3 1106.2,780.4 1107.1,771.2 C1108.1,762.0 1109.9,764.8 1112.7,765.7 C1115.4,766.6 1119.6,773.1 1123.7,776.7 C1127.9,780.4 1133.0,784.1 1137.6,787.8 C1142.2,791.5 1147.7,794.7 1151.4,798.9 C1155.1,803.0 1159.2,809.0 1159.7,812.7 C1160.2,816.4 1158.3,819.2 1154.2,821.0 C1150.0,822.9 1141.7,823.3 1134.8,823.8 C1127.9,824.2 1117.3,824.2 1112.7,823.8 C1108.1,823.3 1108.1,829.8 1107.1,821.0 Z" fill="#f4f04a" fill-opacity="0.3375" filter="url(#blur3)"/>
<path d="M1104.9,850.1 C1104.3,833.7 1104.3,768.2 1104.9,751.8 C1105.5,735.5 1107.9,735.5 1108.5,751.8 C1109.1,768.2 1109.1,833.7 1108.5,850.1 C1107.9,866.4 1105.5,866.4 1104.9,850.1 Z" fill="#e0e020" fill-opacity="0.7" filter="url(#blur1)"/>
<mask id="mk7"><path d="M1105.8,848.7 C1103.7,836.9 1105.1,792.4 1105.8,779.5 C1106.4,766.6 1107.4,770.3 1109.9,771.2 C1112.4,772.1 1116.8,781.4 1121.0,785.0 C1125.1,788.7 1130.2,790.6 1134.8,793.4 C1139.4,796.1 1144.5,798.4 1148.6,801.7 C1152.8,804.9 1156.9,808.6 1159.7,812.7 C1162.5,816.9 1164.8,821.5 1165.2,826.6 C1165.7,831.6 1166.6,839.5 1162.5,843.2 C1158.3,846.8 1147.7,847.5 1140.3,848.7 C1133.0,849.8 1124.0,850.1 1118.2,850.1 C1112.4,850.1 1107.8,860.5 1105.8,848.7 Z" fill="#fff" filter="url(#blur2)"/></mask>
<path d="M1105.8,848.7 C1103.7,836.9 1105.1,792.4 1105.8,779.5 C1106.4,766.6 1107.4,770.3 1109.9,771.2 C1112.4,772.1 1116.8,781.4 1121.0,785.0 C1125.1,788.7 1130.2,790.6 1134.8,793.4 C1139.4,796.1 1144.5,798.4 1148.6,801.7 C1152.8,804.9 1156.9,808.6 1159.7,812.7 C1162.5,816.9 1164.8,821.5 1165.2,826.6 C1165.7,831.6 1166.6,839.5 1162.5,843.2 C1158.3,846.8 1147.7,847.5 1140.3,848.7 C1133.0,849.8 1124.0,850.1 1118.2,850.1 C1112.4,850.1 1107.8,860.5 1105.8,848.7 Z" fill="#a09878" fill-opacity="0.85" filter="url(#blur2)"/>
<rect x="1093" y="661.3" width="131" height="212.20000000000005" fill="url(#pt)" fill-opacity="1.0" mask="url(#mk7)"/>
<g class="pc"><circle cx="1133" cy="828"/><circle cx="1164" cy="785"/><circle cx="1144" cy="836"/><circle cx="1129" cy="794"/><circle cx="1189" cy="803"/><circle cx="1132" cy="816"/><circle cx="1180" cy="718"/><circle cx="1162" cy="819"/><circle cx="1165" cy="812"/><circle cx="1148" cy="847"/><circle cx="1153" cy="794"/><circle cx="1110" cy="791"/><circle cx="1160" cy="844"/><circle cx="1118" cy="835"/><circle cx="1152" cy="818"/><circle cx="1161" cy="810"/><circle cx="1152" cy="786"/><circle cx="1139" cy="798"/><circle cx="1174" cy="820"/><circle cx="1141" cy="828"/><circle cx="1175" cy="801"/><circle cx="1150" cy="810"/><circle cx="1150" cy="801"/><circle cx="1115" cy="837"/><circle cx="1130" cy="838"/><circle cx="1119" cy="816"/><circle cx="1166" cy="815"/><circle cx="1112" cy="832"/><circle cx="1185" cy="819"/><circle cx="1108" cy="775"/><circle cx="1167" cy="829"/><circle cx="1166" cy="816"/><circle cx="1115" cy="801"/><circle cx="1149" cy="796"/><circle cx="1163" cy="846"/><circle cx="1137" cy="770"/><circle cx="1140" cy="841"/><circle cx="1138" cy="765"/><circle cx="1121" cy="813"/><circle cx="1151" cy="711"/><circle cx="1136" cy="746"/><circle cx="1154" cy="831"/><circle cx="1182" cy="816"/><circle cx="1126" cy="784"/><circle cx="1122" cy="847"/><circle cx="1143" cy="795"/><circle cx="1111" cy="823"/><circle cx="1151" cy="823"/><circle cx="1112" cy="829"/><circle cx="1154" cy="832"/><circle cx="1153" cy="842"/><circle cx="1130" cy="803"/><circle cx="1128" cy="813"/><circle cx="1128" cy="835"/><circle cx="1129" cy="823"/><circle cx="1142" cy="810"/><circle cx="1153" cy="798"/><circle cx="1111" cy="805"/><circle cx="1154" cy="814"/><circle cx="1113" cy="847"/><circle cx="1156" cy="785"/><circle cx="1149" cy="807"/><circle cx="1134" cy="790"/><circle cx="1152" cy="798"/><circle cx="1117" cy="757"/><circle cx="1138" cy="833"/><circle cx="1140" cy="825"/><circle cx="1118" cy="791"/><circle cx="1142" cy="837"/><circle cx="1131" cy="759"/><circle cx="1162" cy="837"/><circle cx="1163" cy="837"/><circle cx="1116" cy="765"/><circle cx="1120" cy="791"/><circle cx="1187" cy="834"/><circle cx="1146" cy="839"/><circle cx="1159" cy="826"/><circle cx="1175" cy="750"/><circle cx="1144" cy="793"/><circle cx="1110" cy="790"/><circle cx="1144" cy="811"/><circle cx="1180" cy="833"/><circle cx="1156" cy="809"/><circle cx="1160" cy="808"/><circle cx="1138" cy="806"/><circle cx="1135" cy="831"/><circle cx="1110" cy="812"/><circle cx="1140" cy="782"/><circle cx="1112" cy="732"/><circle cx="1109" cy="816"/><circle cx="1107" cy="818"/><circle cx="1158" cy="799"/><circle cx="1179" cy="800"/><circle cx="1146" cy="807"/><circle cx="1118" cy="810"/><circle cx="1147" cy="825"/><circle cx="1138" cy="821"/><circle cx="1149" cy="824"/><circle cx="1154" cy="732"/><circle cx="1138" cy="824"/><circle cx="1150" cy="790"/><circle cx="1154" cy="834"/><circle cx="1123" cy="776"/><circle cx="1121" cy="790"/><circle cx="1109" cy="830"/><circle cx="1112" cy="748"/><circle cx="1187" cy="811"/><circle cx="1121" cy="783"/><circle cx="1193" cy="818"/><circle cx="1120" cy="799"/><circle cx="1120" cy="818"/><circle cx="1149" cy="809"/><circle cx="1130" cy="844"/><circle cx="1188" cy="825"/><circle cx="1144" cy="842"/><circle cx="1140" cy="735"/><circle cx="1133" cy="828"/><circle cx="1132" cy="760"/><circle cx="1113" cy="801"/><circle cx="1142" cy="804"/><circle cx="1126" cy="845"/><circle cx="1185" cy="828"/><circle cx="1124" cy="840"/><circle cx="1124" cy="806"/><circle cx="1124" cy="781"/><circle cx="1170" cy="809"/><circle cx="1111" cy="826"/><circle cx="1153" cy="830"/><circle cx="1159" cy="825"/><circle cx="1121" cy="776"/><circle cx="1126" cy="791"/><circle cx="1131" cy="844"/><circle cx="1132" cy="847"/><circle cx="1175" cy="714"/><circle cx="1127" cy="781"/><circle cx="1124" cy="729"/><circle cx="1161" cy="816"/><circle cx="1143" cy="771"/><circle cx="1130" cy="761"/><circle cx="1115" cy="729"/><circle cx="1152" cy="823"/><circle cx="1150" cy="834"/><circle cx="1152" cy="832"/><circle cx="1141" cy="796"/><circle cx="1155" cy="823"/><circle cx="1115" cy="826"/><circle cx="1120" cy="830"/><circle cx="1161" cy="823"/><circle cx="1156" cy="838"/><circle cx="1190" cy="832"/><circle cx="1128" cy="802"/><circle cx="1113" cy="800"/><circle cx="1131" cy="786"/><circle cx="1131" cy="766"/><circle cx="1189" cy="842"/><circle cx="1190" cy="827"/><circle cx="1145" cy="820"/><circle cx="1142" cy="822"/><circle cx="1155" cy="781"/><circle cx="1139" cy="811"/><circle cx="1124" cy="834"/><circle cx="1150" cy="840"/><circle cx="1111" cy="805"/><circle cx="1148" cy="825"/><circle cx="1121" cy="751"/><circle cx="1126" cy="794"/><circle cx="1137" cy="686"/><circle cx="1134" cy="832"/><circle cx="1111" cy="814"/><circle cx="1190" cy="820"/><circle cx="1186" cy="806"/><circle cx="1134" cy="826"/><circle cx="1118" cy="802"/><circle cx="1131" cy="757"/><circle cx="1147" cy="824"/><circle cx="1129" cy="832"/><circle cx="1124" cy="827"/><circle cx="1111" cy="794"/><circle cx="1189" cy="804"/><circle cx="1124" cy="806"/><circle cx="1197" cy="824"/><circle cx="1143" cy="839"/><circle cx="1165" cy="768"/><circle cx="1164" cy="829"/><circle cx="1183" cy="835"/><circle cx="1115" cy="804"/><circle cx="1129" cy="815"/><circle cx="1183" cy="765"/><circle cx="1110" cy="780"/><circle cx="1170" cy="803"/><circle cx="1125" cy="780"/><circle cx="1126" cy="820"/><circle cx="1114" cy="734"/><circle cx="1131" cy="829"/><circle cx="1176" cy="826"/><circle cx="1117" cy="780"/><circle cx="1161" cy="798"/><circle cx="1120" cy="804"/><circle cx="1147" cy="823"/><circle cx="1147" cy="805"/><circle cx="1174" cy="835"/><circle cx="1145" cy="795"/><circle cx="1136" cy="796"/><circle cx="1123" cy="822"/><circle cx="1126" cy="791"/><circle cx="1115" cy="850"/><circle cx="1107" cy="846"/><circle cx="1182" cy="834"/><circle cx="1139" cy="816"/><circle cx="1174" cy="805"/><circle cx="1131" cy="849"/><circle cx="1122" cy="783"/><circle cx="1109" cy="772"/><circle cx="1162" cy="774"/><circle cx="1143" cy="789"/><circle cx="1111" cy="805"/><circle cx="1117" cy="821"/><circle cx="1134" cy="796"/><circle cx="1117" cy="749"/><circle cx="1131" cy="794"/><circle cx="1117" cy="823"/><circle cx="1123" cy="779"/><circle cx="1148" cy="844"/><circle cx="1160" cy="832"/><circle cx="1107" cy="812"/><circle cx="1108" cy="808"/><circle cx="1116" cy="795"/><circle cx="1143" cy="827"/><circle cx="1154" cy="825"/><circle cx="1167" cy="820"/><circle cx="1162" cy="846"/><circle cx="1180" cy="846"/><circle cx="1134" cy="816"/><circle cx="1139" cy="835"/><circle cx="1157" cy="807"/><circle cx="1138" cy="801"/><circle cx="1120" cy="778"/><circle cx="1177" cy="791"/><circle cx="1131" cy="780"/><circle cx="1115" cy="834"/><circle cx="1114" cy="832"/><circle cx="1150" cy="808"/><circle cx="1127" cy="765"/><circle cx="1170" cy="806"/><circle cx="1142" cy="768"/><circle cx="1181" cy="752"/><circle cx="1137" cy="820"/><circle cx="1114" cy="812"/><circle cx="1126" cy="840"/><circle cx="1141" cy="829"/><circle cx="1131" cy="804"/><circle cx="1132" cy="824"/><circle cx="1136" cy="773"/><circle cx="1117" cy="780"/><circle cx="1162" cy="830"/><circle cx="1164" cy="839"/><circle cx="1174" cy="796"/><circle cx="1146" cy="828"/><circle cx="1141" cy="813"/><circle cx="1194" cy="828"/><circle cx="1147" cy="825"/><circle cx="1134" cy="835"/><circle cx="1121" cy="832"/><circle cx="1122" cy="787"/><circle cx="1109" cy="844"/><circle cx="1142" cy="807"/><circle cx="1127" cy="837"/><circle cx="1178" cy="694"/><circle cx="1140" cy="832"/><circle cx="1121" cy="820"/><circle cx="1140" cy="820"/><circle cx="1127" cy="842"/><circle cx="1144" cy="799"/><circle cx="1151" cy="795"/><circle cx="1161" cy="799"/><circle cx="1138" cy="788"/><circle cx="1153" cy="843"/><circle cx="1159" cy="796"/><circle cx="1113" cy="785"/><circle cx="1159" cy="838"/><circle cx="1171" cy="695"/><circle cx="1197" cy="794"/><circle cx="1122" cy="844"/><circle cx="1162" cy="819"/><circle cx="1139" cy="734"/><circle cx="1151" cy="792"/><circle cx="1114" cy="790"/><circle cx="1153" cy="798"/><circle cx="1116" cy="821"/><circle cx="1145" cy="791"/><circle cx="1127" cy="796"/><circle cx="1201" cy="737"/><circle cx="1147" cy="786"/><circle cx="1146" cy="849"/><circle cx="1137" cy="768"/><circle cx="1114" cy="806"/><circle cx="1161" cy="787"/><circle cx="1148" cy="782"/><circle cx="1172" cy="833"/><circle cx="1106" cy="837"/><circle cx="1152" cy="849"/><circle cx="1108" cy="727"/><circle cx="1164" cy="819"/><circle cx="1165" cy="822"/><circle cx="1179" cy="808"/><circle cx="1162" cy="844"/><circle cx="1127" cy="820"/><circle cx="1171" cy="820"/><circle cx="1113" cy="739"/><circle cx="1110" cy="817"/><circle cx="1132" cy="814"/><circle cx="1185" cy="819"/><circle cx="1171" cy="826"/><circle cx="1157" cy="822"/><circle cx="1124" cy="794"/><circle cx="1160" cy="840"/><circle cx="1132" cy="774"/><circle cx="1116" cy="740"/><circle cx="1144" cy="798"/><circle cx="1172" cy="822"/><circle cx="1157" cy="809"/><circle cx="1172" cy="830"/><circle cx="1140" cy="844"/><circle cx="1127" cy="680"/><circle cx="1145" cy="794"/><circle cx="1125" cy="821"/><circle cx="1164" cy="828"/><circle cx="1158" cy="848"/><circle cx="1114" cy="815"/><circle cx="1134" cy="775"/><circle cx="1162" cy="847"/><circle cx="1140" cy="801"/><circle cx="1179" cy="799"/><circle cx="1130" cy="797"/><circle cx="1124" cy="751"/><circle cx="1172" cy="832"/><circle cx="1147" cy="787"/><circle cx="1137" cy="789"/><circle cx="1184" cy="821"/><circle cx="1177" cy="825"/><circle cx="1130" cy="764"/><circle cx="1180" cy="816"/><circle cx="1125" cy="767"/><circle cx="1166" cy="815"/><circle cx="1123" cy="766"/><circle cx="1123" cy="803"/><circle cx="1172" cy="816"/><circle cx="1175" cy="746"/><circle cx="1107" cy="792"/><circle cx="1144" cy="834"/><circle cx="1132" cy="818"/><circle cx="1124" cy="843"/><circle cx="1136" cy="845"/><circle cx="1128" cy="756"/><circle cx="1114" cy="815"/><circle cx="1106" cy="763"/><circle cx="1107" cy="735"/><circle cx="1132" cy="792"/><circle cx="1149" cy="761"/><circle cx="1118" cy="807"/><circle cx="1111" cy="803"/><circle cx="1145" cy="799"/><circle cx="1159" cy="830"/><circle cx="1172" cy="806"/><circle cx="1167" cy="786"/><circle cx="1151" cy="832"/><circle cx="1128" cy="839"/><circle cx="1164" cy="829"/><circle cx="1151" cy="840"/><circle cx="1153" cy="837"/><circle cx="1156" cy="843"/><circle cx="1183" cy="707"/><circle cx="1176" cy="799"/><circle cx="1127" cy="806"/><circle cx="1130" cy="822"/><circle cx="1118" cy="837"/><circle cx="1110" cy="801"/><circle cx="1171" cy="838"/><circle cx="1139" cy="843"/><circle cx="1118" cy="792"/><circle cx="1170" cy="791"/><circle cx="1161" cy="812"/><circle cx="1136" cy="816"/><circle cx="1182" cy="807"/><circle cx="1129" cy="752"/><circle cx="1169" cy="788"/><circle cx="1117" cy="677"/><circle cx="1117" cy="798"/><circle cx="1163" cy="812"/><circle cx="1161" cy="807"/><circle cx="1174" cy="828"/><circle cx="1167" cy="794"/><circle cx="1110" cy="849"/><circle cx="1140" cy="829"/><circle cx="1146" cy="815"/><circle cx="1109" cy="738"/><circle cx="1155" cy="714"/><circle cx="1109" cy="734"/><circle cx="1188" cy="831"/><circle cx="1126" cy="806"/><circle cx="1196" cy="670"/><circle cx="1154" cy="777"/><circle cx="1114" cy="837"/><circle cx="1161" cy="848"/><circle cx="1127" cy="745"/><circle cx="1127" cy="800"/><circle cx="1123" cy="762"/><circle cx="1143" cy="827"/><circle cx="1118" cy="748"/><circle cx="1129" cy="841"/><circle cx="1143" cy="830"/><circle cx="1188" cy="828"/><circle cx="1150" cy="838"/><circle cx="1153" cy="792"/><circle cx="1189" cy="841"/><circle cx="1149" cy="827"/><circle cx="1129" cy="823"/><circle cx="1156" cy="827"/><circle cx="1143" cy="788"/><circle cx="1123" cy="781"/><circle cx="1139" cy="787"/><circle cx="1124" cy="791"/><circle cx="1134" cy="780"/><circle cx="1150" cy="801"/><circle cx="1111" cy="776"/><circle cx="1127" cy="787"/><circle cx="1124" cy="828"/><circle cx="1166" cy="802"/><circle cx="1123" cy="816"/><circle cx="1117" cy="841"/><circle cx="1183" cy="815"/><circle cx="1137" cy="787"/><circle cx="1184" cy="791"/><circle cx="1138" cy="766"/><circle cx="1153" cy="845"/><circle cx="1168" cy="833"/><circle cx="1181" cy="810"/><circle cx="1172" cy="811"/><circle cx="1146" cy="743"/><circle cx="1149" cy="796"/><circle cx="1108" cy="812"/><circle cx="1127" cy="775"/><circle cx="1128" cy="840"/><circle cx="1137" cy="674"/><circle cx="1166" cy="847"/><circle cx="1189" cy="814"/><circle cx="1138" cy="810"/><circle cx="1110" cy="776"/><circle cx="1142" cy="809"/><circle cx="1159" cy="824"/><circle cx="1111" cy="831"/><circle cx="1174" cy="808"/><circle cx="1118" cy="792"/><circle cx="1140" cy="817"/><circle cx="1116" cy="784"/><circle cx="1137" cy="766"/><circle cx="1168" cy="851"/><circle cx="1109" cy="848"/><circle cx="1137" cy="720"/><circle cx="1173" cy="835"/><circle cx="1106" cy="838"/><circle cx="1117" cy="783"/><circle cx="1134" cy="816"/><circle cx="1137" cy="766"/><circle cx="1151" cy="665"/><circle cx="1107" cy="739"/><circle cx="1167" cy="836"/><circle cx="1128" cy="786"/><circle cx="1198" cy="851"/><circle cx="1115" cy="790"/><circle cx="1135" cy="774"/><circle cx="1186" cy="814"/><circle cx="1134" cy="794"/><circle cx="1139" cy="776"/><circle cx="1126" cy="817"/><circle cx="1154" cy="832"/><circle cx="1132" cy="841"/><circle cx="1145" cy="771"/><circle cx="1152" cy="819"/><circle cx="1140" cy="776"/><circle cx="1112" cy="809"/><circle cx="1124" cy="760"/><circle cx="1119" cy="823"/><circle cx="1150" cy="788"/><circle cx="1107" cy="738"/><circle cx="1164" cy="846"/><circle cx="1152" cy="842"/><circle cx="1138" cy="796"/><circle cx="1156" cy="782"/><circle cx="1144" cy="791"/><circle cx="1107" cy="787"/><circle cx="1134" cy="778"/><circle cx="1113" cy="781"/></g>
<path d="M1107.1,821.0 C1106.2,812.3 1106.2,780.4 1107.1,771.2 C1108.1,762.0 1109.9,764.8 1112.7,765.7 C1115.4,766.6 1119.6,773.1 1123.7,776.7 C1127.9,780.4 1133.0,784.1 1137.6,787.8 C1142.2,791.5 1147.7,794.7 1151.4,798.9 C1155.1,803.0 1159.2,809.0 1159.7,812.7 C1160.2,816.4 1158.3,819.2 1154.2,821.0 C1150.0,822.9 1141.7,823.3 1134.8,823.8 C1127.9,824.2 1117.3,824.2 1112.7,823.8 C1108.1,823.3 1108.1,829.8 1107.1,821.0 Z" fill="none" stroke="#d8d860" stroke-width="1.0"/>
</g>
<clipPath id="cl8"><rect x="1226" y="661.3" width="131.5" height="212.20000000000005"/></clipPath>
<g clip-path="url(#cl8)">
<path d="M1235.8,850.1 C1221.7,830.5 1233.3,753.5 1235.8,732.5 C1238.3,711.5 1243.9,723.3 1251.0,724.2 C1258.2,725.1 1270.4,732.0 1278.7,738.0 C1287.0,744.0 1293.4,752.8 1300.8,760.1 C1308.2,767.5 1316.0,774.0 1323.0,782.3 C1329.9,790.6 1339.1,800.7 1342.3,810.0 C1345.6,819.2 1346.0,830.9 1342.3,837.6 C1338.6,844.3 1338.0,848.0 1320.2,850.1 C1302.4,852.1 1249.9,869.7 1235.8,850.1 Z" fill="#e4e4ff" fill-opacity="0.85" filter="url(#blur5)"/>
<path d="M1235.8,832.1 C1235.8,824.7 1235.6,807.6 1237.2,798.9 C1238.8,790.1 1242.7,784.1 1245.5,779.5 C1248.3,774.9 1251.5,772.1 1253.8,771.2 C1256.1,770.3 1257.5,771.7 1259.3,774.0 C1261.2,776.3 1261.6,781.8 1264.9,785.0 C1268.1,788.3 1274.1,790.1 1278.7,793.4 C1283.3,796.6 1288.8,801.2 1292.5,804.4 C1296.2,807.6 1299.0,810.0 1300.8,812.7 C1302.7,815.5 1304.5,817.3 1303.6,821.0 C1302.7,824.7 1299.4,831.2 1295.3,834.9 C1291.1,838.5 1286.1,841.3 1278.7,843.2 C1271.3,845.0 1257.9,845.9 1251.0,845.9 C1244.1,845.9 1239.7,845.5 1237.2,843.2 C1234.6,840.9 1235.8,839.5 1235.8,832.1 Z" fill="#b4b4ff" fill-opacity="0.75" filter="url(#blur3)"/>
<path d="M1235.5,850.2 C1233.1,842.2 1234.6,814.3 1235.5,803.7 C1236.5,793.0 1237.9,789.7 1241.3,786.3 C1244.7,782.9 1250.5,782.4 1255.9,783.4 C1261.2,784.3 1268.0,788.7 1273.3,792.1 C1278.6,795.5 1283.0,799.8 1287.8,803.7 C1292.7,807.6 1299.0,811.4 1302.3,815.3 C1305.7,819.2 1307.7,822.1 1308.2,826.9 C1308.6,831.8 1310.1,840.5 1305.3,844.4 C1300.4,848.2 1288.3,849.0 1279.1,850.2 C1269.9,851.4 1257.3,851.6 1250.1,851.6 C1242.8,851.6 1237.9,858.2 1235.5,850.2 Z" fill="#5a5af0" fill-opacity="0.55" filter="url(#blur3)"/>
<mask id="mk8"><path d="M1237.2,848.7 C1234.9,841.1 1236.3,814.6 1237.2,804.4 C1238.1,794.3 1239.5,791.0 1242.7,787.8 C1245.9,784.6 1251.5,784.1 1256.6,785.0 C1261.6,786.0 1268.1,790.1 1273.2,793.4 C1278.2,796.6 1282.4,800.7 1287.0,804.4 C1291.6,808.1 1297.6,811.8 1300.8,815.5 C1304.1,819.2 1305.9,821.9 1306.4,826.6 C1306.8,831.2 1308.2,839.5 1303.6,843.2 C1299.0,846.8 1287.5,847.5 1278.7,848.7 C1269.9,849.8 1257.9,850.1 1251.0,850.1 C1244.1,850.1 1239.5,856.3 1237.2,848.7 Z" fill="#fff" filter="url(#blur2)"/></mask>
<path d="M1237.2,848.7 C1234.9,841.1 1236.3,814.6 1237.2,804.4 C1238.1,794.3 1239.5,791.0 1242.7,787.8 C1245.9,784.6 1251.5,784.1 1256.6,785.0 C1261.6,786.0 1268.1,790.1 1273.2,793.4 C1278.2,796.6 1282.4,800.7 1287.0,804.4 C1291.6,808.1 1297.6,811.8 1300.8,815.5 C1304.1,819.2 1305.9,821.9 1306.4,826.6 C1306.8,831.2 1308.2,839.5 1303.6,843.2 C1299.0,846.8 1287.5,847.5 1278.7,848.7 C1269.9,849.8 1257.9,850.1 1251.0,850.1 C1244.1,850.1 1239.5,856.3 1237.2,848.7 Z" fill="#2828c8" fill-opacity="0.85" filter="url(#blur2)"/>
<rect x="1226" y="661.3" width="131.5" height="212.20000000000005" fill="url(#pt)" fill-opacity="0.62" mask="url(#mk8)"/>
<g class="pc"><circle cx="1275" cy="809"/><circle cx="1244" cy="751"/><circle cx="1251" cy="828"/><circle cx="1244" cy="720"/><circle cx="1282" cy="743"/><circle cx="1265" cy="835"/><circle cx="1303" cy="791"/><circle cx="1245" cy="745"/><circle cx="1248" cy="829"/><circle cx="1277" cy="833"/><circle cx="1239" cy="759"/><circle cx="1284" cy="835"/><circle cx="1278" cy="833"/><circle cx="1286" cy="789"/><circle cx="1280" cy="798"/><circle cx="1289" cy="759"/><circle cx="1292" cy="786"/><circle cx="1241" cy="810"/><circle cx="1267" cy="749"/><circle cx="1299" cy="779"/><circle cx="1318" cy="798"/><circle cx="1302" cy="801"/><circle cx="1268" cy="742"/><circle cx="1313" cy="839"/><circle cx="1238" cy="722"/><circle cx="1280" cy="761"/><circle cx="1324" cy="805"/><circle cx="1288" cy="800"/><circle cx="1291" cy="790"/><circle cx="1276" cy="806"/><circle cx="1311" cy="833"/><circle cx="1267" cy="782"/><circle cx="1249" cy="812"/><circle cx="1276" cy="843"/><circle cx="1267" cy="828"/><circle cx="1307" cy="846"/><circle cx="1281" cy="787"/><circle cx="1311" cy="827"/><circle cx="1253" cy="796"/><circle cx="1293" cy="846"/><circle cx="1259" cy="817"/><circle cx="1248" cy="763"/><circle cx="1256" cy="841"/><circle cx="1266" cy="807"/><circle cx="1273" cy="739"/><circle cx="1301" cy="826"/><circle cx="1252" cy="822"/><circle cx="1245" cy="819"/><circle cx="1322" cy="825"/><circle cx="1257" cy="812"/><circle cx="1251" cy="737"/><circle cx="1249" cy="832"/><circle cx="1276" cy="849"/><circle cx="1272" cy="832"/><circle cx="1286" cy="829"/><circle cx="1303" cy="833"/><circle cx="1288" cy="777"/><circle cx="1266" cy="817"/><circle cx="1305" cy="725"/><circle cx="1256" cy="766"/><circle cx="1261" cy="817"/><circle cx="1276" cy="809"/><circle cx="1294" cy="810"/><circle cx="1338" cy="823"/><circle cx="1255" cy="745"/><circle cx="1296" cy="841"/><circle cx="1276" cy="754"/><circle cx="1260" cy="791"/><circle cx="1291" cy="762"/><circle cx="1308" cy="828"/><circle cx="1286" cy="824"/><circle cx="1299" cy="849"/><circle cx="1247" cy="831"/><circle cx="1239" cy="836"/><circle cx="1268" cy="828"/><circle cx="1260" cy="733"/><circle cx="1276" cy="829"/><circle cx="1289" cy="848"/><circle cx="1329" cy="840"/><circle cx="1290" cy="800"/><circle cx="1289" cy="786"/><circle cx="1274" cy="789"/><circle cx="1282" cy="792"/><circle cx="1307" cy="795"/><circle cx="1304" cy="814"/><circle cx="1298" cy="808"/><circle cx="1270" cy="777"/><circle cx="1281" cy="741"/><circle cx="1314" cy="810"/><circle cx="1277" cy="758"/><circle cx="1269" cy="843"/><circle cx="1281" cy="817"/><circle cx="1280" cy="804"/><circle cx="1305" cy="822"/><circle cx="1259" cy="793"/><circle cx="1237" cy="838"/><circle cx="1238" cy="824"/><circle cx="1303" cy="818"/><circle cx="1261" cy="753"/><circle cx="1240" cy="730"/><circle cx="1282" cy="839"/><circle cx="1301" cy="810"/><circle cx="1284" cy="763"/><circle cx="1253" cy="842"/><circle cx="1278" cy="783"/><circle cx="1250" cy="826"/><circle cx="1265" cy="770"/><circle cx="1240" cy="801"/><circle cx="1256" cy="828"/><circle cx="1267" cy="789"/><circle cx="1246" cy="788"/><circle cx="1237" cy="793"/><circle cx="1290" cy="842"/><circle cx="1236" cy="840"/><circle cx="1239" cy="773"/><circle cx="1265" cy="761"/><circle cx="1288" cy="838"/><circle cx="1295" cy="822"/><circle cx="1251" cy="773"/><circle cx="1257" cy="734"/><circle cx="1265" cy="737"/><circle cx="1280" cy="752"/><circle cx="1267" cy="794"/><circle cx="1273" cy="758"/><circle cx="1295" cy="720"/><circle cx="1263" cy="777"/><circle cx="1254" cy="788"/><circle cx="1247" cy="778"/><circle cx="1245" cy="766"/><circle cx="1336" cy="807"/><circle cx="1289" cy="794"/><circle cx="1296" cy="768"/><circle cx="1276" cy="814"/><circle cx="1237" cy="844"/><circle cx="1334" cy="676"/><circle cx="1327" cy="815"/><circle cx="1238" cy="823"/><circle cx="1254" cy="783"/><circle cx="1264" cy="843"/><circle cx="1328" cy="824"/><circle cx="1344" cy="821"/><circle cx="1308" cy="834"/><circle cx="1322" cy="847"/><circle cx="1317" cy="836"/><circle cx="1240" cy="691"/><circle cx="1324" cy="719"/><circle cx="1320" cy="755"/><circle cx="1305" cy="843"/><circle cx="1278" cy="794"/><circle cx="1312" cy="838"/><circle cx="1249" cy="821"/><circle cx="1327" cy="813"/><circle cx="1245" cy="848"/><circle cx="1243" cy="778"/><circle cx="1326" cy="845"/><circle cx="1317" cy="835"/><circle cx="1320" cy="790"/><circle cx="1269" cy="842"/><circle cx="1303" cy="815"/><circle cx="1254" cy="769"/><circle cx="1250" cy="833"/><circle cx="1244" cy="802"/><circle cx="1237" cy="825"/><circle cx="1297" cy="813"/><circle cx="1247" cy="832"/><circle cx="1264" cy="848"/><circle cx="1247" cy="818"/><circle cx="1244" cy="816"/><circle cx="1251" cy="796"/><circle cx="1251" cy="789"/><circle cx="1256" cy="840"/><circle cx="1269" cy="845"/><circle cx="1242" cy="765"/><circle cx="1267" cy="804"/><circle cx="1274" cy="782"/><circle cx="1282" cy="765"/><circle cx="1279" cy="778"/><circle cx="1308" cy="787"/><circle cx="1250" cy="829"/><circle cx="1274" cy="726"/><circle cx="1259" cy="832"/><circle cx="1283" cy="757"/><circle cx="1238" cy="739"/><circle cx="1313" cy="667"/><circle cx="1255" cy="767"/><circle cx="1282" cy="817"/><circle cx="1291" cy="807"/><circle cx="1260" cy="840"/><circle cx="1302" cy="778"/><circle cx="1301" cy="729"/><circle cx="1323" cy="829"/><circle cx="1303" cy="845"/><circle cx="1329" cy="836"/><circle cx="1292" cy="827"/><circle cx="1264" cy="830"/><circle cx="1237" cy="825"/><circle cx="1280" cy="809"/><circle cx="1238" cy="833"/><circle cx="1262" cy="784"/><circle cx="1299" cy="841"/><circle cx="1319" cy="668"/><circle cx="1319" cy="798"/><circle cx="1276" cy="825"/><circle cx="1342" cy="806"/><circle cx="1268" cy="753"/><circle cx="1249" cy="774"/><circle cx="1244" cy="848"/><circle cx="1274" cy="828"/><circle cx="1263" cy="846"/><circle cx="1290" cy="753"/><circle cx="1254" cy="770"/><circle cx="1281" cy="752"/><circle cx="1268" cy="845"/><circle cx="1271" cy="773"/><circle cx="1306" cy="784"/><circle cx="1253" cy="799"/><circle cx="1302" cy="770"/><circle cx="1258" cy="833"/><circle cx="1309" cy="835"/><circle cx="1247" cy="776"/><circle cx="1288" cy="754"/><circle cx="1269" cy="790"/><circle cx="1316" cy="826"/><circle cx="1281" cy="762"/><circle cx="1291" cy="840"/><circle cx="1278" cy="781"/><circle cx="1293" cy="777"/><circle cx="1253" cy="793"/><circle cx="1247" cy="768"/><circle cx="1274" cy="837"/><circle cx="1296" cy="828"/><circle cx="1237" cy="817"/><circle cx="1256" cy="829"/><circle cx="1271" cy="833"/><circle cx="1252" cy="816"/><circle cx="1286" cy="792"/><circle cx="1298" cy="785"/><circle cx="1302" cy="794"/><circle cx="1332" cy="817"/><circle cx="1271" cy="836"/><circle cx="1266" cy="802"/><circle cx="1283" cy="761"/><circle cx="1335" cy="760"/><circle cx="1268" cy="803"/><circle cx="1258" cy="804"/><circle cx="1322" cy="789"/><circle cx="1304" cy="783"/><circle cx="1303" cy="823"/><circle cx="1248" cy="833"/><circle cx="1250" cy="780"/><circle cx="1273" cy="807"/><circle cx="1284" cy="765"/><circle cx="1296" cy="821"/><circle cx="1236" cy="835"/><circle cx="1266" cy="809"/><circle cx="1248" cy="834"/><circle cx="1263" cy="759"/><circle cx="1314" cy="796"/><circle cx="1312" cy="848"/><circle cx="1238" cy="802"/><circle cx="1310" cy="789"/><circle cx="1271" cy="755"/><circle cx="1237" cy="787"/><circle cx="1306" cy="801"/><circle cx="1274" cy="764"/><circle cx="1251" cy="780"/><circle cx="1280" cy="809"/><circle cx="1238" cy="804"/><circle cx="1243" cy="801"/><circle cx="1328" cy="815"/><circle cx="1258" cy="813"/><circle cx="1249" cy="816"/><circle cx="1277" cy="749"/><circle cx="1323" cy="806"/><circle cx="1277" cy="822"/><circle cx="1244" cy="824"/><circle cx="1333" cy="806"/><circle cx="1275" cy="811"/><circle cx="1266" cy="813"/><circle cx="1310" cy="781"/><circle cx="1255" cy="778"/><circle cx="1341" cy="824"/><circle cx="1260" cy="813"/><circle cx="1314" cy="746"/><circle cx="1327" cy="807"/><circle cx="1301" cy="844"/><circle cx="1254" cy="846"/><circle cx="1293" cy="836"/><circle cx="1283" cy="768"/><circle cx="1283" cy="787"/><circle cx="1277" cy="801"/><circle cx="1264" cy="792"/><circle cx="1293" cy="804"/><circle cx="1263" cy="843"/><circle cx="1262" cy="803"/><circle cx="1264" cy="735"/><circle cx="1264" cy="785"/><circle cx="1308" cy="771"/><circle cx="1276" cy="784"/><circle cx="1296" cy="799"/><circle cx="1238" cy="811"/><circle cx="1302" cy="829"/><circle cx="1245" cy="729"/><circle cx="1243" cy="757"/><circle cx="1262" cy="767"/><circle cx="1296" cy="836"/><circle cx="1307" cy="796"/><circle cx="1251" cy="841"/><circle cx="1322" cy="781"/><circle cx="1290" cy="780"/><circle cx="1340" cy="689"/><circle cx="1260" cy="750"/><circle cx="1256" cy="734"/><circle cx="1295" cy="841"/><circle cx="1305" cy="846"/><circle cx="1299" cy="825"/><circle cx="1263" cy="782"/><circle cx="1267" cy="757"/><circle cx="1251" cy="802"/><circle cx="1247" cy="778"/><circle cx="1241" cy="763"/><circle cx="1270" cy="845"/><circle cx="1300" cy="805"/><circle cx="1275" cy="774"/><circle cx="1289" cy="801"/><circle cx="1326" cy="689"/><circle cx="1237" cy="758"/><circle cx="1295" cy="795"/><circle cx="1296" cy="838"/><circle cx="1258" cy="841"/><circle cx="1308" cy="827"/><circle cx="1312" cy="790"/><circle cx="1274" cy="817"/><circle cx="1257" cy="783"/><circle cx="1317" cy="826"/><circle cx="1249" cy="847"/><circle cx="1337" cy="824"/><circle cx="1348" cy="796"/><circle cx="1238" cy="815"/><circle cx="1239" cy="842"/><circle cx="1298" cy="825"/><circle cx="1334" cy="829"/><circle cx="1293" cy="818"/><circle cx="1281" cy="828"/><circle cx="1303" cy="842"/><circle cx="1273" cy="745"/><circle cx="1294" cy="804"/><circle cx="1266" cy="673"/><circle cx="1323" cy="816"/><circle cx="1263" cy="840"/><circle cx="1323" cy="808"/><circle cx="1315" cy="786"/><circle cx="1304" cy="799"/><circle cx="1298" cy="809"/><circle cx="1328" cy="816"/><circle cx="1305" cy="843"/><circle cx="1272" cy="826"/><circle cx="1290" cy="816"/><circle cx="1286" cy="804"/><circle cx="1292" cy="768"/><circle cx="1281" cy="812"/><circle cx="1253" cy="748"/><circle cx="1330" cy="832"/><circle cx="1276" cy="790"/><circle cx="1248" cy="793"/><circle cx="1258" cy="818"/><circle cx="1246" cy="789"/><circle cx="1274" cy="676"/><circle cx="1253" cy="738"/><circle cx="1262" cy="740"/><circle cx="1260" cy="731"/><circle cx="1261" cy="742"/><circle cx="1259" cy="820"/><circle cx="1278" cy="837"/><circle cx="1244" cy="717"/><circle cx="1253" cy="767"/><circle cx="1254" cy="827"/><circle cx="1288" cy="806"/><circle cx="1332" cy="797"/><circle cx="1282" cy="765"/><circle cx="1328" cy="793"/><circle cx="1287" cy="844"/><circle cx="1312" cy="838"/><circle cx="1237" cy="815"/><circle cx="1314" cy="836"/><circle cx="1245" cy="828"/><circle cx="1294" cy="802"/><circle cx="1295" cy="809"/><circle cx="1313" cy="843"/><circle cx="1271" cy="794"/><circle cx="1245" cy="776"/><circle cx="1301" cy="763"/><circle cx="1319" cy="814"/><circle cx="1292" cy="778"/><circle cx="1269" cy="815"/><circle cx="1318" cy="788"/><circle cx="1331" cy="801"/><circle cx="1320" cy="833"/><circle cx="1291" cy="845"/><circle cx="1313" cy="824"/><circle cx="1261" cy="818"/><circle cx="1337" cy="827"/><circle cx="1342" cy="811"/><circle cx="1296" cy="820"/><circle cx="1254" cy="811"/><circle cx="1330" cy="834"/><circle cx="1309" cy="750"/><circle cx="1308" cy="823"/><circle cx="1281" cy="792"/><circle cx="1331" cy="728"/><circle cx="1261" cy="804"/><circle cx="1290" cy="808"/><circle cx="1244" cy="681"/><circle cx="1286" cy="749"/><circle cx="1324" cy="802"/><circle cx="1266" cy="844"/><circle cx="1236" cy="848"/><circle cx="1269" cy="761"/><circle cx="1315" cy="810"/><circle cx="1265" cy="810"/><circle cx="1287" cy="826"/><circle cx="1239" cy="808"/><circle cx="1300" cy="808"/><circle cx="1269" cy="694"/><circle cx="1278" cy="846"/><circle cx="1274" cy="801"/><circle cx="1236" cy="840"/><circle cx="1302" cy="803"/><circle cx="1282" cy="843"/><circle cx="1303" cy="784"/><circle cx="1239" cy="835"/><circle cx="1251" cy="826"/><circle cx="1275" cy="758"/><circle cx="1289" cy="842"/><circle cx="1339" cy="713"/><circle cx="1303" cy="836"/><circle cx="1248" cy="778"/><circle cx="1281" cy="779"/><circle cx="1287" cy="805"/><circle cx="1269" cy="817"/><circle cx="1294" cy="831"/><circle cx="1280" cy="800"/><circle cx="1308" cy="811"/><circle cx="1303" cy="819"/><circle cx="1290" cy="756"/><circle cx="1334" cy="694"/><circle cx="1267" cy="789"/><circle cx="1302" cy="786"/><circle cx="1259" cy="773"/><circle cx="1244" cy="816"/><circle cx="1268" cy="830"/><circle cx="1297" cy="751"/><circle cx="1274" cy="789"/><circle cx="1318" cy="791"/><circle cx="1256" cy="763"/><circle cx="1249" cy="773"/><circle cx="1250" cy="815"/><circle cx="1330" cy="845"/><circle cx="1267" cy="807"/><circle cx="1279" cy="801"/><circle cx="1251" cy="782"/><circle cx="1273" cy="844"/><circle cx="1267" cy="814"/><circle cx="1241" cy="792"/><circle cx="1294" cy="839"/><circle cx="1309" cy="761"/><circle cx="1247" cy="848"/><circle cx="1308" cy="814"/><circle cx="1280" cy="850"/><circle cx="1290" cy="819"/><circle cx="1268" cy="740"/><circle cx="1275" cy="741"/><circle cx="1338" cy="804"/><circle cx="1296" cy="699"/><circle cx="1321" cy="800"/><circle cx="1298" cy="843"/><circle cx="1308" cy="821"/><circle cx="1243" cy="843"/><circle cx="1292" cy="820"/><circle cx="1306" cy="810"/><circle cx="1244" cy="829"/><circle cx="1238" cy="837"/><circle cx="1275" cy="821"/><circle cx="1273" cy="781"/><circle cx="1307" cy="791"/><circle cx="1275" cy="836"/><circle cx="1284" cy="838"/><circle cx="1327" cy="801"/><circle cx="1258" cy="749"/><circle cx="1334" cy="847"/><circle cx="1236" cy="809"/><circle cx="1292" cy="778"/><circle cx="1273" cy="753"/><circle cx="1257" cy="813"/><circle cx="1244" cy="817"/><circle cx="1262" cy="802"/><circle cx="1240" cy="846"/><circle cx="1249" cy="840"/><circle cx="1267" cy="846"/><circle cx="1248" cy="803"/><circle cx="1263" cy="797"/><circle cx="1245" cy="838"/><circle cx="1249" cy="763"/><circle cx="1271" cy="760"/><circle cx="1330" cy="825"/><circle cx="1240" cy="768"/><circle cx="1278" cy="848"/><circle cx="1261" cy="789"/></g>
<path d="M1235.8,832.1 C1235.8,824.7 1235.6,807.6 1237.2,798.9 C1238.8,790.1 1242.7,784.1 1245.5,779.5 C1248.3,774.9 1251.5,772.1 1253.8,771.2 C1256.1,770.3 1257.5,771.7 1259.3,774.0 C1261.2,776.3 1261.6,781.8 1264.9,785.0 C1268.1,788.3 1274.1,790.1 1278.7,793.4 C1283.3,796.6 1288.8,801.2 1292.5,804.4 C1296.2,807.6 1299.0,810.0 1300.8,812.7 C1302.7,815.5 1304.5,817.3 1303.6,821.0 C1302.7,824.7 1299.4,831.2 1295.3,834.9 C1291.1,838.5 1286.1,841.3 1278.7,843.2 C1271.3,845.0 1257.9,845.9 1251.0,845.9 C1244.1,845.9 1239.7,845.5 1237.2,843.2 C1234.6,840.9 1235.8,839.5 1235.8,832.1 Z" fill="none" stroke="#2c2c50" stroke-width="1.0"/>
<path d="M1243.4,829.2 C1243.4,823.4 1243.2,810.1 1244.5,803.3 C1245.7,796.4 1248.8,791.8 1251.0,788.2 C1253.1,784.6 1255.6,782.4 1257.4,781.7 C1259.2,781.0 1260.3,782.1 1261.8,783.9 C1263.2,785.7 1263.6,790.0 1266.1,792.5 C1268.6,795.0 1273.3,796.4 1276.9,799.0 C1280.5,801.5 1284.8,805.1 1287.7,807.6 C1290.5,810.1 1292.7,811.9 1294.1,814.1 C1295.6,816.2 1297.0,817.7 1296.3,820.6 C1295.6,823.4 1293.1,828.5 1289.8,831.3 C1286.6,834.2 1282.6,836.4 1276.9,837.8 C1271.1,839.3 1260.7,840.0 1255.3,840.0 C1249.9,840.0 1246.5,839.6 1244.5,837.8 C1242.5,836.0 1243.4,834.9 1243.4,829.2 Z" fill="none" stroke="#2c2c50" stroke-width="0.8"/>
<path d="M1250.3,826.5 C1250.3,822.3 1250.2,812.4 1251.1,807.3 C1252.1,802.2 1254.3,798.7 1255.9,796.0 C1257.6,793.4 1259.4,791.8 1260.8,791.2 C1262.1,790.7 1262.9,791.5 1264.0,792.8 C1265.0,794.2 1265.3,797.4 1267.2,799.3 C1269.1,801.1 1272.5,802.2 1275.2,804.1 C1277.9,805.9 1281.1,808.6 1283.2,810.5 C1285.4,812.4 1287.0,813.7 1288.0,815.3 C1289.1,816.9 1290.2,818.0 1289.6,820.1 C1289.1,822.3 1287.2,826.0 1284.8,828.1 C1282.4,830.3 1279.5,831.9 1275.2,833.0 C1270.9,834.0 1263.2,834.6 1259.2,834.6 C1255.1,834.6 1252.6,834.3 1251.1,833.0 C1249.7,831.6 1250.3,830.8 1250.3,826.5 Z" fill="none" stroke="#2c2c50" stroke-width="0.7"/>
</g>
<clipPath id="cl9"><rect x="1359.5" y="661.3" width="131.79999999999995" height="212.20000000000005"/></clipPath>
<g clip-path="url(#cl9)">
<path d="M1367.2,850.1 C1358.9,829.1 1364.5,746.1 1367.2,724.2 C1370.0,702.3 1377.4,716.3 1383.8,718.6 C1390.3,720.9 1398.1,730.2 1406.0,738.0 C1413.8,745.9 1423.0,757.4 1430.9,765.7 C1438.7,774.0 1448.4,779.5 1453.0,787.8 C1457.6,796.1 1458.5,805.8 1458.5,815.5 C1458.5,825.2 1459.9,840.2 1453.0,845.9 C1446.1,851.7 1431.3,849.4 1417.0,850.1 C1402.7,850.8 1375.5,871.1 1367.2,850.1 Z" fill="#f7eff7" fill-opacity="0.85" filter="url(#blur5)"/>
<path d="M1367.2,810.0 C1367.5,801.2 1368.8,785.5 1370.0,779.5 C1371.2,773.5 1372.8,773.1 1374.2,774.0 C1375.5,774.9 1376.2,784.1 1378.3,785.0 C1380.4,786.0 1383.8,780.9 1386.6,779.5 C1389.4,778.1 1391.7,776.7 1394.9,776.7 C1398.1,776.7 1402.3,777.7 1406.0,779.5 C1409.7,781.4 1413.8,784.6 1417.0,787.8 C1420.3,791.0 1423.0,793.4 1425.3,798.9 C1427.6,804.4 1428.8,816.4 1430.9,821.0 C1433.0,825.6 1436.9,824.7 1437.8,826.6 C1438.7,828.4 1438.0,830.2 1436.4,832.1 C1434.8,833.9 1433.6,836.2 1428.1,837.6 C1422.6,839.0 1411.5,839.9 1403.2,840.4 C1394.9,840.9 1384.1,841.8 1378.3,840.4 C1372.5,839.0 1370.5,837.2 1368.6,832.1 C1366.8,827.0 1367.0,818.7 1367.2,810.0 Z" fill="#efdcef" fill-opacity="0.75" filter="url(#blur3)"/>
<mask id="mk9"><path d="M1367.2,848.7 C1364.9,839.2 1366.3,804.0 1367.2,793.4 C1368.2,782.7 1370.0,786.4 1372.8,785.0 C1375.5,783.7 1379.7,784.6 1383.8,785.0 C1388.0,785.5 1393.1,786.4 1397.7,787.8 C1402.3,789.2 1406.9,790.6 1411.5,793.4 C1416.1,796.1 1421.7,799.8 1425.3,804.4 C1429.0,809.0 1431.8,816.4 1433.6,821.0 C1435.5,825.6 1436.9,827.9 1436.4,832.1 C1436.0,836.2 1436.4,842.9 1430.9,845.9 C1425.3,848.9 1411.5,849.4 1403.2,850.1 C1394.9,850.8 1387.1,850.3 1381.1,850.1 C1375.1,849.8 1369.5,858.1 1367.2,848.7 Z" fill="#fff" filter="url(#blur2)"/></mask>
<path d="M1367.2,848.7 C1364.9,839.2 1366.3,804.0 1367.2,793.4 C1368.2,782.7 1370.0,786.4 1372.8,785.0 C1375.5,783.7 1379.7,784.6 1383.8,785.0 C1388.0,785.5 1393.1,786.4 1397.7,787.8 C1402.3,789.2 1406.9,790.6 1411.5,793.4 C1416.1,796.1 1421.7,799.8 1425.3,804.4 C1429.0,809.0 1431.8,816.4 1433.6,821.0 C1435.5,825.6 1436.9,827.9 1436.4,832.1 C1436.0,836.2 1436.4,842.9 1430.9,845.9 C1425.3,848.9 1411.5,849.4 1403.2,850.1 C1394.9,850.8 1387.1,850.3 1381.1,850.1 C1375.1,849.8 1369.5,858.1 1367.2,848.7 Z" fill="#7a7080" fill-opacity="0.85" filter="url(#blur2)"/>
<rect x="1359.5" y="661.3" width="131.79999999999995" height="212.20000000000005" fill="url(#pt)" fill-opacity="1.0" mask="url(#mk9)"/>
<g class="pc"><circle cx="1391" cy="829"/><circle cx="1368" cy="778"/><circle cx="1374" cy="782"/><circle cx="1399" cy="805"/><circle cx="1368" cy="842"/><circle cx="1409" cy="778"/><circle cx="1397" cy="728"/><circle cx="1402" cy="756"/><circle cx="1380" cy="779"/><circle cx="1405" cy="810"/><circle cx="1422" cy="806"/><circle cx="1391" cy="790"/><circle cx="1409" cy="781"/><circle cx="1435" cy="801"/><circle cx="1373" cy="802"/><circle cx="1425" cy="828"/><circle cx="1404" cy="840"/><circle cx="1430" cy="766"/><circle cx="1407" cy="806"/><circle cx="1392" cy="843"/><circle cx="1390" cy="811"/><circle cx="1376" cy="773"/><circle cx="1400" cy="847"/><circle cx="1412" cy="785"/><circle cx="1426" cy="772"/><circle cx="1438" cy="753"/><circle cx="1380" cy="723"/><circle cx="1382" cy="831"/><circle cx="1389" cy="789"/><circle cx="1395" cy="690"/><circle cx="1401" cy="842"/><circle cx="1389" cy="804"/><circle cx="1422" cy="830"/><circle cx="1444" cy="805"/><circle cx="1396" cy="749"/><circle cx="1370" cy="828"/><circle cx="1426" cy="820"/><circle cx="1406" cy="830"/><circle cx="1398" cy="798"/><circle cx="1447" cy="788"/><circle cx="1393" cy="754"/><circle cx="1417" cy="819"/><circle cx="1374" cy="805"/><circle cx="1378" cy="847"/><circle cx="1395" cy="786"/><circle cx="1390" cy="797"/><circle cx="1447" cy="816"/><circle cx="1384" cy="833"/><circle cx="1421" cy="767"/><circle cx="1370" cy="787"/><circle cx="1376" cy="828"/><circle cx="1391" cy="814"/><circle cx="1387" cy="844"/><circle cx="1410" cy="821"/><circle cx="1416" cy="805"/><circle cx="1413" cy="771"/><circle cx="1374" cy="763"/><circle cx="1409" cy="819"/><circle cx="1422" cy="823"/><circle cx="1439" cy="763"/><circle cx="1435" cy="842"/><circle cx="1368" cy="839"/><circle cx="1450" cy="797"/><circle cx="1387" cy="790"/><circle cx="1391" cy="751"/><circle cx="1418" cy="837"/><circle cx="1449" cy="793"/><circle cx="1374" cy="779"/><circle cx="1413" cy="811"/><circle cx="1429" cy="821"/><circle cx="1401" cy="757"/><circle cx="1453" cy="832"/><circle cx="1387" cy="815"/><circle cx="1394" cy="822"/><circle cx="1391" cy="836"/><circle cx="1449" cy="788"/><circle cx="1451" cy="778"/><circle cx="1376" cy="781"/><circle cx="1369" cy="789"/><circle cx="1368" cy="733"/><circle cx="1385" cy="728"/><circle cx="1413" cy="788"/><circle cx="1447" cy="814"/><circle cx="1426" cy="799"/><circle cx="1430" cy="767"/><circle cx="1398" cy="698"/><circle cx="1386" cy="794"/><circle cx="1374" cy="847"/><circle cx="1431" cy="805"/><circle cx="1438" cy="759"/><circle cx="1371" cy="818"/><circle cx="1393" cy="804"/><circle cx="1433" cy="838"/><circle cx="1397" cy="769"/><circle cx="1388" cy="840"/><circle cx="1386" cy="818"/><circle cx="1390" cy="814"/><circle cx="1403" cy="772"/><circle cx="1392" cy="842"/><circle cx="1392" cy="749"/><circle cx="1430" cy="794"/><circle cx="1419" cy="780"/><circle cx="1392" cy="849"/><circle cx="1423" cy="791"/><circle cx="1445" cy="817"/><circle cx="1426" cy="765"/><circle cx="1412" cy="821"/><circle cx="1397" cy="832"/><circle cx="1451" cy="837"/><circle cx="1389" cy="827"/><circle cx="1387" cy="726"/><circle cx="1403" cy="776"/><circle cx="1413" cy="770"/><circle cx="1407" cy="808"/><circle cx="1418" cy="843"/><circle cx="1409" cy="833"/><circle cx="1421" cy="770"/><circle cx="1401" cy="746"/><circle cx="1411" cy="792"/><circle cx="1392" cy="809"/><circle cx="1382" cy="784"/><circle cx="1401" cy="695"/><circle cx="1441" cy="794"/><circle cx="1445" cy="800"/><circle cx="1376" cy="800"/><circle cx="1440" cy="790"/><circle cx="1425" cy="810"/><circle cx="1412" cy="788"/><circle cx="1430" cy="784"/><circle cx="1382" cy="769"/><circle cx="1390" cy="831"/><circle cx="1391" cy="807"/><circle cx="1413" cy="832"/><circle cx="1430" cy="728"/><circle cx="1398" cy="745"/><circle cx="1375" cy="792"/><circle cx="1392" cy="747"/><circle cx="1408" cy="761"/><circle cx="1407" cy="780"/><circle cx="1389" cy="727"/><circle cx="1451" cy="822"/><circle cx="1376" cy="775"/><circle cx="1383" cy="758"/><circle cx="1375" cy="745"/><circle cx="1447" cy="829"/><circle cx="1430" cy="847"/><circle cx="1455" cy="815"/><circle cx="1394" cy="754"/><circle cx="1393" cy="814"/><circle cx="1395" cy="807"/><circle cx="1398" cy="732"/><circle cx="1389" cy="812"/><circle cx="1393" cy="769"/><circle cx="1402" cy="833"/><circle cx="1388" cy="828"/><circle cx="1398" cy="811"/><circle cx="1444" cy="794"/><circle cx="1434" cy="779"/><circle cx="1383" cy="812"/><circle cx="1399" cy="836"/><circle cx="1458" cy="723"/><circle cx="1392" cy="746"/><circle cx="1389" cy="799"/><circle cx="1397" cy="718"/><circle cx="1389" cy="849"/><circle cx="1384" cy="838"/><circle cx="1405" cy="730"/><circle cx="1391" cy="819"/><circle cx="1401" cy="801"/><circle cx="1378" cy="824"/><circle cx="1425" cy="784"/><circle cx="1407" cy="763"/><circle cx="1447" cy="824"/><circle cx="1432" cy="833"/><circle cx="1382" cy="828"/><circle cx="1439" cy="842"/><circle cx="1408" cy="788"/><circle cx="1428" cy="794"/><circle cx="1391" cy="831"/><circle cx="1401" cy="823"/><circle cx="1385" cy="810"/><circle cx="1399" cy="761"/><circle cx="1425" cy="844"/><circle cx="1378" cy="769"/><circle cx="1417" cy="818"/><circle cx="1382" cy="670"/><circle cx="1417" cy="816"/><circle cx="1455" cy="813"/><circle cx="1425" cy="830"/><circle cx="1382" cy="812"/><circle cx="1401" cy="790"/><circle cx="1403" cy="825"/><circle cx="1382" cy="846"/><circle cx="1375" cy="805"/><circle cx="1397" cy="761"/><circle cx="1398" cy="802"/><circle cx="1369" cy="836"/><circle cx="1394" cy="841"/><circle cx="1417" cy="771"/><circle cx="1372" cy="762"/><circle cx="1390" cy="777"/><circle cx="1384" cy="808"/><circle cx="1373" cy="768"/><circle cx="1388" cy="734"/><circle cx="1417" cy="822"/><circle cx="1446" cy="800"/><circle cx="1415" cy="813"/><circle cx="1392" cy="734"/><circle cx="1393" cy="844"/><circle cx="1393" cy="815"/><circle cx="1396" cy="754"/><circle cx="1399" cy="842"/><circle cx="1414" cy="802"/><circle cx="1405" cy="822"/><circle cx="1452" cy="831"/><circle cx="1397" cy="849"/><circle cx="1403" cy="847"/><circle cx="1414" cy="802"/><circle cx="1379" cy="762"/><circle cx="1403" cy="784"/><circle cx="1417" cy="790"/><circle cx="1409" cy="754"/><circle cx="1397" cy="818"/><circle cx="1429" cy="841"/><circle cx="1394" cy="779"/><circle cx="1450" cy="834"/><circle cx="1378" cy="821"/><circle cx="1427" cy="773"/><circle cx="1378" cy="777"/><circle cx="1391" cy="848"/><circle cx="1438" cy="830"/><circle cx="1448" cy="830"/><circle cx="1396" cy="833"/><circle cx="1384" cy="822"/><circle cx="1420" cy="849"/><circle cx="1401" cy="824"/><circle cx="1375" cy="799"/><circle cx="1382" cy="773"/><circle cx="1453" cy="844"/><circle cx="1394" cy="756"/><circle cx="1369" cy="807"/><circle cx="1370" cy="755"/><circle cx="1440" cy="823"/><circle cx="1396" cy="845"/><circle cx="1421" cy="794"/><circle cx="1420" cy="844"/><circle cx="1451" cy="835"/><circle cx="1409" cy="793"/><circle cx="1436" cy="778"/><circle cx="1455" cy="811"/><circle cx="1439" cy="828"/><circle cx="1375" cy="694"/><circle cx="1382" cy="803"/><circle cx="1398" cy="848"/><circle cx="1448" cy="687"/><circle cx="1409" cy="821"/><circle cx="1420" cy="841"/><circle cx="1382" cy="792"/><circle cx="1391" cy="842"/><circle cx="1421" cy="828"/><circle cx="1371" cy="693"/><circle cx="1407" cy="775"/><circle cx="1431" cy="833"/><circle cx="1369" cy="689"/><circle cx="1433" cy="834"/><circle cx="1396" cy="835"/><circle cx="1404" cy="743"/><circle cx="1392" cy="795"/><circle cx="1384" cy="718"/><circle cx="1389" cy="789"/><circle cx="1410" cy="796"/><circle cx="1447" cy="821"/><circle cx="1384" cy="831"/><circle cx="1390" cy="835"/><circle cx="1395" cy="804"/><circle cx="1454" cy="824"/><circle cx="1454" cy="823"/><circle cx="1436" cy="834"/><circle cx="1389" cy="754"/><circle cx="1390" cy="740"/><circle cx="1443" cy="824"/><circle cx="1405" cy="804"/><circle cx="1397" cy="786"/><circle cx="1408" cy="827"/><circle cx="1418" cy="824"/><circle cx="1423" cy="840"/><circle cx="1453" cy="819"/><circle cx="1401" cy="834"/><circle cx="1405" cy="773"/><circle cx="1419" cy="806"/><circle cx="1439" cy="837"/><circle cx="1436" cy="815"/><circle cx="1389" cy="721"/><circle cx="1416" cy="793"/><circle cx="1374" cy="789"/><circle cx="1414" cy="830"/><circle cx="1437" cy="814"/><circle cx="1387" cy="802"/><circle cx="1427" cy="837"/><circle cx="1391" cy="840"/><circle cx="1381" cy="798"/><circle cx="1418" cy="828"/><circle cx="1390" cy="824"/><circle cx="1451" cy="818"/><circle cx="1387" cy="738"/><circle cx="1414" cy="765"/><circle cx="1396" cy="763"/><circle cx="1409" cy="816"/><circle cx="1411" cy="802"/><circle cx="1432" cy="826"/><circle cx="1446" cy="808"/><circle cx="1376" cy="841"/><circle cx="1400" cy="830"/><circle cx="1395" cy="762"/><circle cx="1412" cy="810"/><circle cx="1420" cy="785"/><circle cx="1395" cy="787"/><circle cx="1402" cy="806"/><circle cx="1407" cy="784"/><circle cx="1433" cy="775"/><circle cx="1395" cy="827"/><circle cx="1386" cy="816"/><circle cx="1397" cy="781"/><circle cx="1384" cy="820"/><circle cx="1393" cy="806"/><circle cx="1409" cy="844"/><circle cx="1382" cy="849"/><circle cx="1439" cy="777"/><circle cx="1382" cy="771"/><circle cx="1427" cy="807"/><circle cx="1403" cy="773"/><circle cx="1369" cy="751"/><circle cx="1436" cy="756"/><circle cx="1373" cy="789"/><circle cx="1371" cy="751"/><circle cx="1401" cy="812"/><circle cx="1416" cy="813"/><circle cx="1396" cy="837"/><circle cx="1432" cy="742"/><circle cx="1446" cy="782"/><circle cx="1384" cy="749"/><circle cx="1386" cy="825"/><circle cx="1422" cy="803"/><circle cx="1452" cy="796"/><circle cx="1381" cy="737"/><circle cx="1409" cy="804"/><circle cx="1368" cy="730"/><circle cx="1382" cy="748"/><circle cx="1401" cy="776"/><circle cx="1406" cy="741"/><circle cx="1391" cy="849"/><circle cx="1390" cy="826"/><circle cx="1395" cy="773"/><circle cx="1403" cy="801"/><circle cx="1382" cy="747"/><circle cx="1412" cy="773"/><circle cx="1373" cy="850"/><circle cx="1454" cy="799"/><circle cx="1383" cy="745"/><circle cx="1369" cy="799"/><circle cx="1410" cy="800"/><circle cx="1449" cy="833"/><circle cx="1409" cy="839"/><circle cx="1406" cy="843"/><circle cx="1396" cy="791"/><circle cx="1400" cy="771"/><circle cx="1384" cy="831"/><circle cx="1376" cy="728"/><circle cx="1395" cy="758"/><circle cx="1380" cy="832"/><circle cx="1381" cy="834"/><circle cx="1425" cy="783"/><circle cx="1423" cy="787"/><circle cx="1404" cy="846"/><circle cx="1386" cy="737"/><circle cx="1446" cy="815"/><circle cx="1416" cy="799"/><circle cx="1407" cy="810"/><circle cx="1406" cy="803"/><circle cx="1379" cy="738"/><circle cx="1387" cy="771"/><circle cx="1375" cy="845"/><circle cx="1371" cy="817"/><circle cx="1426" cy="844"/><circle cx="1384" cy="780"/><circle cx="1382" cy="846"/><circle cx="1421" cy="849"/><circle cx="1382" cy="834"/><circle cx="1443" cy="770"/><circle cx="1412" cy="835"/><circle cx="1404" cy="847"/><circle cx="1444" cy="755"/><circle cx="1421" cy="764"/><circle cx="1420" cy="796"/><circle cx="1413" cy="778"/><circle cx="1451" cy="826"/><circle cx="1441" cy="788"/><circle cx="1408" cy="812"/><circle cx="1455" cy="723"/><circle cx="1447" cy="684"/><circle cx="1425" cy="828"/><circle cx="1417" cy="810"/><circle cx="1407" cy="759"/><circle cx="1412" cy="830"/><circle cx="1386" cy="809"/><circle cx="1370" cy="835"/><circle cx="1396" cy="795"/><circle cx="1446" cy="801"/><circle cx="1405" cy="762"/><circle cx="1415" cy="759"/><circle cx="1428" cy="824"/><circle cx="1416" cy="828"/><circle cx="1415" cy="808"/><circle cx="1381" cy="818"/><circle cx="1389" cy="748"/><circle cx="1401" cy="838"/><circle cx="1451" cy="832"/><circle cx="1422" cy="814"/><circle cx="1370" cy="816"/><circle cx="1420" cy="788"/><circle cx="1374" cy="727"/><circle cx="1421" cy="773"/><circle cx="1409" cy="832"/><circle cx="1407" cy="825"/><circle cx="1385" cy="796"/><circle cx="1452" cy="731"/><circle cx="1414" cy="815"/><circle cx="1405" cy="815"/><circle cx="1370" cy="837"/><circle cx="1447" cy="725"/><circle cx="1418" cy="810"/><circle cx="1379" cy="809"/><circle cx="1410" cy="838"/><circle cx="1386" cy="820"/><circle cx="1418" cy="810"/><circle cx="1389" cy="754"/><circle cx="1400" cy="777"/><circle cx="1399" cy="801"/><circle cx="1398" cy="752"/><circle cx="1423" cy="801"/><circle cx="1416" cy="822"/><circle cx="1403" cy="805"/><circle cx="1399" cy="757"/><circle cx="1416" cy="811"/><circle cx="1384" cy="733"/><circle cx="1385" cy="726"/><circle cx="1458" cy="780"/><circle cx="1387" cy="808"/><circle cx="1456" cy="672"/><circle cx="1402" cy="834"/><circle cx="1370" cy="826"/><circle cx="1414" cy="796"/><circle cx="1430" cy="831"/><circle cx="1389" cy="762"/><circle cx="1403" cy="824"/><circle cx="1383" cy="825"/><circle cx="1407" cy="772"/><circle cx="1394" cy="840"/><circle cx="1390" cy="764"/><circle cx="1380" cy="825"/><circle cx="1428" cy="813"/><circle cx="1455" cy="806"/><circle cx="1416" cy="668"/><circle cx="1430" cy="837"/><circle cx="1452" cy="730"/><circle cx="1413" cy="788"/><circle cx="1394" cy="817"/><circle cx="1436" cy="776"/><circle cx="1447" cy="795"/><circle cx="1387" cy="764"/><circle cx="1453" cy="840"/><circle cx="1381" cy="847"/><circle cx="1394" cy="848"/><circle cx="1419" cy="802"/><circle cx="1443" cy="786"/><circle cx="1369" cy="796"/><circle cx="1426" cy="836"/><circle cx="1399" cy="842"/><circle cx="1388" cy="841"/><circle cx="1401" cy="821"/><circle cx="1369" cy="790"/><circle cx="1406" cy="841"/><circle cx="1389" cy="802"/><circle cx="1379" cy="811"/><circle cx="1431" cy="760"/><circle cx="1400" cy="836"/><circle cx="1441" cy="748"/><circle cx="1452" cy="837"/><circle cx="1440" cy="843"/><circle cx="1434" cy="827"/><circle cx="1368" cy="756"/><circle cx="1419" cy="794"/><circle cx="1409" cy="825"/><circle cx="1416" cy="763"/><circle cx="1426" cy="800"/><circle cx="1414" cy="779"/><circle cx="1389" cy="837"/><circle cx="1393" cy="755"/><circle cx="1389" cy="819"/><circle cx="1453" cy="817"/><circle cx="1430" cy="767"/><circle cx="1399" cy="734"/><circle cx="1373" cy="763"/><circle cx="1414" cy="830"/><circle cx="1417" cy="832"/><circle cx="1382" cy="821"/><circle cx="1412" cy="750"/><circle cx="1392" cy="788"/></g>
<path d="M1367.2,810.0 C1367.5,801.2 1368.8,785.5 1370.0,779.5 C1371.2,773.5 1372.8,773.1 1374.2,774.0 C1375.5,774.9 1376.2,784.1 1378.3,785.0 C1380.4,786.0 1383.8,780.9 1386.6,779.5 C1389.4,778.1 1391.7,776.7 1394.9,776.7 C1398.1,776.7 1402.3,777.7 1406.0,779.5 C1409.7,781.4 1413.8,784.6 1417.0,787.8 C1420.3,791.0 1423.0,793.4 1425.3,798.9 C1427.6,804.4 1428.8,816.4 1430.9,821.0 C1433.0,825.6 1436.9,824.7 1437.8,826.6 C1438.7,828.4 1438.0,830.2 1436.4,832.1 C1434.8,833.9 1433.6,836.2 1428.1,837.6 C1422.6,839.0 1411.5,839.9 1403.2,840.4 C1394.9,840.9 1384.1,841.8 1378.3,840.4 C1372.5,839.0 1370.5,837.2 1368.6,832.1 C1366.8,827.0 1367.0,818.7 1367.2,810.0 Z" fill="none" stroke="#3a3a3a" stroke-width="1.0"/>
<path d="M1369.7,814.8 C1369.9,807.1 1371.2,793.3 1372.2,788.0 C1373.3,782.7 1374.8,782.3 1376.1,783.1 C1377.4,783.9 1378.0,792.0 1379.9,792.9 C1381.9,793.7 1385.1,789.2 1387.6,788.0 C1390.2,786.8 1392.3,785.5 1395.3,785.5 C1398.3,785.5 1402.2,786.4 1405.6,788.0 C1409.0,789.6 1412.9,792.4 1415.9,795.3 C1418.9,798.1 1421.4,800.2 1423.6,805.0 C1425.7,809.9 1426.8,820.4 1428.7,824.5 C1430.6,828.6 1434.3,827.8 1435.1,829.4 C1436.0,831.0 1435.4,832.6 1433.9,834.2 C1432.4,835.9 1431.3,837.9 1426.2,839.1 C1421.0,840.3 1410.7,841.1 1403.0,841.6 C1395.3,842.0 1385.3,842.8 1379.9,841.6 C1374.6,840.3 1372.7,838.7 1370.9,834.2 C1369.2,829.8 1369.4,822.5 1369.7,814.8 Z" fill="none" stroke="#3a3a3a" stroke-width="0.8"/>
<path d="M1372.1,819.6 C1372.3,812.9 1373.5,801.0 1374.5,796.4 C1375.4,791.9 1376.8,791.5 1378.0,792.2 C1379.2,792.9 1379.8,800.0 1381.6,800.7 C1383.3,801.4 1386.3,797.5 1388.7,796.4 C1391.0,795.4 1393.0,794.3 1395.8,794.3 C1398.5,794.3 1402.1,795.0 1405.2,796.4 C1408.4,797.9 1412.0,800.3 1414.7,802.8 C1417.5,805.2 1419.8,807.0 1421.8,811.2 C1423.8,815.4 1424.8,824.5 1426.6,828.0 C1428.3,831.5 1431.7,830.8 1432.5,832.2 C1433.3,833.6 1432.7,835.0 1431.3,836.4 C1429.9,837.8 1428.9,839.6 1424.2,840.6 C1419.5,841.7 1410.0,842.4 1402.9,842.7 C1395.8,843.1 1386.5,843.8 1381.6,842.7 C1376.6,841.7 1374.8,840.3 1373.3,836.4 C1371.7,832.6 1371.9,826.2 1372.1,819.6 Z" fill="none" stroke="#3a3a3a" stroke-width="0.7"/>
</g>
<rect x="1092" y="661.3" width="400.29999999999995" height="213.70000000000005" fill="none" stroke="#808080" stroke-width="2"/>
<line x1="1225.0" y1="661.3" x2="1225.0" y2="875.0" stroke="#808080" stroke-width="2" />
<line x1="1358.5" y1="661.3" x2="1358.5" y2="875.0" stroke="#808080" stroke-width="2" />
<line x1="1082.0" y1="886.0" x2="1493.0" y2="886.0" stroke="#dcdcdc" stroke-width="1.2" />
<line x1="1082.0" y1="659.5" x2="1092.0" y2="659.5" stroke="#808080" stroke-width="2" />
<line x1="1082.0" y1="757.5" x2="1092.0" y2="757.5" stroke="#808080" stroke-width="2" />
<line x1="1082.0" y1="855.5" x2="1092.0" y2="855.5" stroke="#808080" stroke-width="2" />
<line x1="1087.0" y1="708.5" x2="1092.0" y2="708.5" stroke="#808080" stroke-width="2" />
<line x1="1087.0" y1="806.5" x2="1092.0" y2="806.5" stroke="#808080" stroke-width="2" />
<line x1="1215.0" y1="659.5" x2="1225.0" y2="659.5" stroke="#808080" stroke-width="2" />
<line x1="1215.0" y1="757.5" x2="1225.0" y2="757.5" stroke="#808080" stroke-width="2" />
<line x1="1215.0" y1="855.5" x2="1225.0" y2="855.5" stroke="#808080" stroke-width="2" />
<line x1="1220.0" y1="708.5" x2="1225.0" y2="708.5" stroke="#808080" stroke-width="2" />
<line x1="1220.0" y1="806.5" x2="1225.0" y2="806.5" stroke="#808080" stroke-width="2" />
<line x1="1348.5" y1="659.5" x2="1358.5" y2="659.5" stroke="#808080" stroke-width="2" />
<line x1="1348.5" y1="757.5" x2="1358.5" y2="757.5" stroke="#808080" stroke-width="2" />
<line x1="1348.5" y1="855.5" x2="1358.5" y2="855.5" stroke="#808080" stroke-width="2" />
<line x1="1353.5" y1="708.5" x2="1358.5" y2="708.5" stroke="#808080" stroke-width="2" />
<line x1="1353.5" y1="806.5" x2="1358.5" y2="806.5" stroke="#808080" stroke-width="2" />
<line x1="1106.7" y1="874.5" x2="1106.7" y2="884.5" stroke="#808080" stroke-width="2" />
<line x1="1154.0" y1="874.5" x2="1154.0" y2="884.5" stroke="#808080" stroke-width="2" />
<line x1="1201.0" y1="874.5" x2="1201.0" y2="884.5" stroke="#808080" stroke-width="2" />
<line x1="1130.3" y1="874.5" x2="1130.3" y2="880.5" stroke="#808080" stroke-width="2" />
<line x1="1177.5" y1="874.5" x2="1177.5" y2="880.5" stroke="#808080" stroke-width="2" />
<line x1="1225.0" y1="874.5" x2="1225.0" y2="880.5" stroke="#808080" stroke-width="2" />
<text x="1106.7" y="915.0" font-size="28" text-anchor="middle">0</text>
<text x="1154.0" y="915.0" font-size="28" text-anchor="middle">3</text>
<text x="1201.0" y="915.0" font-size="28" text-anchor="middle">6</text>
<line x1="1237.7" y1="874.5" x2="1237.7" y2="884.5" stroke="#808080" stroke-width="2" />
<line x1="1285.0" y1="874.5" x2="1285.0" y2="884.5" stroke="#808080" stroke-width="2" />
<line x1="1331.7" y1="874.5" x2="1331.7" y2="884.5" stroke="#808080" stroke-width="2" />
<line x1="1261.3" y1="874.5" x2="1261.3" y2="880.5" stroke="#808080" stroke-width="2" />
<line x1="1308.3" y1="874.5" x2="1308.3" y2="880.5" stroke="#808080" stroke-width="2" />
<line x1="1355.0" y1="874.5" x2="1355.0" y2="880.5" stroke="#808080" stroke-width="2" />
<text x="1237.7" y="915.0" font-size="28" text-anchor="middle">0</text>
<text x="1285.0" y="915.0" font-size="28" text-anchor="middle">7</text>
<text x="1331.7" y="915.0" font-size="28" text-anchor="middle">14</text>
<line x1="1370.0" y1="874.5" x2="1370.0" y2="884.5" stroke="#808080" stroke-width="2" />
<line x1="1425.7" y1="874.5" x2="1425.7" y2="884.5" stroke="#808080" stroke-width="2" />
<line x1="1481.0" y1="874.5" x2="1481.0" y2="884.5" stroke="#808080" stroke-width="2" />
<line x1="1397.8" y1="874.5" x2="1397.8" y2="880.5" stroke="#808080" stroke-width="2" />
<line x1="1453.3" y1="874.5" x2="1453.3" y2="880.5" stroke="#808080" stroke-width="2" />
<text x="1370.0" y="915.0" font-size="28" text-anchor="middle">0</text>
<text x="1425.7" y="915.0" font-size="28" text-anchor="middle">0.5</text>
<text x="1481.0" y="915.0" font-size="28" text-anchor="middle">1.0</text>
<text x="1078.3" y="671.3" font-size="28" text-anchor="end">1.0</text>
<text x="1078.3" y="769.3" font-size="28" text-anchor="end">0.5</text>
<text x="1078.3" y="867.3" font-size="28" text-anchor="end">0</text>
<text x="1029.4" y="795.3" font-size="28.7" text-anchor="middle" transform="rotate(-90 1029.4 795.3)">Deviated angle DP (rad)</text>
<text x="1158.3" y="946.7" font-size="28.6" text-anchor="middle">OT (deg)</text>
<text x="1303.3" y="946.7" font-size="28.6" text-anchor="middle">OD (pm)</text>
<text x="1428.3" y="946.7" font-size="28.6" text-anchor="middle"><tspan font-style="italic">r</tspan><tspan font-size="21" dy="7">CO</tspan></text>
<rect x="599.5" y="782" width="3.2" height="64" fill="#1a1a1a" fill-opacity="0.85" filter="url(#blur1)"/>
<text x="-1.0" y="990.0" font-size="36" font-weight="bold">g</text>
<text x="504.0" y="990.0" font-size="36" font-weight="bold">h</text>
<text x="1012.5" y="990.0" font-size="36" font-weight="bold">i</text>
<text x="263.3" y="990.0" font-size="30.8" text-anchor="middle" font-weight="bold">A-O length vs. DP (BNT-RD12)</text>
<text x="771.7" y="990.0" font-size="30.8" text-anchor="middle" font-weight="bold">A-O length vs. DP (BNT-RD26)</text>
<text x="1274.2" y="990.0" font-size="30.8" text-anchor="middle" font-weight="bold">A-O length vs. DP (BNT-RD38)</text>
<line x1="80.5" y1="1007.9" x2="488.5" y2="1007.9" stroke="#d2d2d2" stroke-width="1.6" />
<line x1="80.5" y1="1127.5" x2="488.5" y2="1127.5" stroke="#d2d2d2" stroke-width="1.6" />
<line x1="84.0" y1="1037.8" x2="488.5" y2="1037.8" stroke="#d2d2d2" stroke-width="1.6" />
<line x1="84.0" y1="1097.6" x2="488.5" y2="1097.6" stroke="#d2d2d2" stroke-width="1.6" />
<line x1="80.5" y1="1067.7" x2="488.5" y2="1067.7" stroke="#8a8a8a" stroke-width="1.6" />
<rect x="137.3" y="1067.7" width="47.7" height="28.4" fill="#f5f59a" stroke="#2a2a2a" stroke-width="1.2" />
<rect x="270.0" y="1047.4" width="47.7" height="20.3" fill="#dcdcfa" stroke="#2a2a2a" stroke-width="1.2" />
<rect x="402.3" y="1052.8" width="47.7" height="15.0" fill="#f4eff3" stroke="#2a2a2a" stroke-width="1.2" />
<rect x="89.5" y="1002.8" width="399.0" height="124.2" fill="none" stroke="#8a8a8a" stroke-width="1.6" />
<text x="75.3" y="1018.7" font-size="28" text-anchor="end">0.4</text>
<text x="56.3" y="1078.4" font-size="28" text-anchor="middle">0</text>
<text x="76.5" y="1138.2" font-size="28" text-anchor="end">-0.4</text>
<text x="22.7" y="1080.7" font-size="29" transform="rotate(-90 22.7 1080.7)"><tspan font-style="italic">r</tspan><tspan font-size="19.3" dy="6.7">p</tspan></text>
<line x1="582.5" y1="1007.5" x2="991.2" y2="1007.5" stroke="#d2d2d2" stroke-width="1.6" />
<line x1="582.5" y1="1127.1" x2="991.2" y2="1127.1" stroke="#d2d2d2" stroke-width="1.6" />
<line x1="586.0" y1="1037.4" x2="991.2" y2="1037.4" stroke="#d2d2d2" stroke-width="1.6" />
<line x1="586.0" y1="1097.2" x2="991.2" y2="1097.2" stroke="#d2d2d2" stroke-width="1.6" />
<line x1="582.5" y1="1067.3" x2="991.2" y2="1067.3" stroke="#8a8a8a" stroke-width="1.6" />
<rect x="639.3" y="1067.3" width="48.0" height="32.9" fill="#f5f59a" stroke="#2a2a2a" stroke-width="1.2" />
<rect x="771.7" y="1027.7" width="48.3" height="39.6" fill="#dcdcfa" stroke="#2a2a2a" stroke-width="1.2" />
<rect x="904.0" y="1067.3" width="48.3" height="21.7" fill="#f4eff3" stroke="#2a2a2a" stroke-width="1.2" />
<rect x="591.5" y="1002.8" width="399.7" height="124.2" fill="none" stroke="#8a8a8a" stroke-width="1.6" />
<text x="577.3" y="1018.3" font-size="28" text-anchor="end">0.4</text>
<text x="558.3" y="1078.0" font-size="28" text-anchor="middle">0</text>
<text x="580.0" y="1137.8" font-size="28" text-anchor="end">-0.4</text>
<text x="524.7" y="1080.3" font-size="29" transform="rotate(-90 524.7 1080.3)"><tspan font-style="italic">r</tspan><tspan font-size="19.3" dy="6.7">p</tspan></text>
<line x1="1082.5" y1="1006.9" x2="1491.2" y2="1006.9" stroke="#d2d2d2" stroke-width="1.6" />
<line x1="1082.5" y1="1126.5" x2="1491.2" y2="1126.5" stroke="#d2d2d2" stroke-width="1.6" />
<line x1="1086.0" y1="1036.8" x2="1491.2" y2="1036.8" stroke="#d2d2d2" stroke-width="1.6" />
<line x1="1086.0" y1="1096.6" x2="1491.2" y2="1096.6" stroke="#d2d2d2" stroke-width="1.6" />
<line x1="1082.5" y1="1066.7" x2="1491.2" y2="1066.7" stroke="#8a8a8a" stroke-width="1.6" />
<rect x="1139.3" y="1066.7" width="48.0" height="52.3" fill="#f5f59a" stroke="#2a2a2a" stroke-width="1.2" />
<rect x="1271.7" y="1009.1" width="47.6" height="57.6" fill="#dcdcfa" stroke="#2a2a2a" stroke-width="1.2" />
<rect x="1404.0" y="1066.7" width="47.7" height="42.6" fill="#f4eff3" stroke="#2a2a2a" stroke-width="1.2" />
<rect x="1091.5" y="1002.8" width="399.7" height="123.9" fill="none" stroke="#8a8a8a" stroke-width="1.6" />
<text x="1073.3" y="1017.7" font-size="28" text-anchor="end">0.4</text>
<text x="1058.3" y="1077.4" font-size="28" text-anchor="middle">0</text>
<text x="1079.3" y="1137.2" font-size="28" text-anchor="end">-0.4</text>
<text x="1024.7" y="1079.7" font-size="29" transform="rotate(-90 1024.7 1079.7)"><tspan font-style="italic">r</tspan><tspan font-size="19.3" dy="6.7">p</tspan></text>
<text x="123.3" y="1154.0" font-size="28.4"><tspan font-style="italic">d</tspan><tspan font-size="19.5" dy="7">AO</tspan><tspan dy="-7">-</tspan><tspan font-style="italic">I</tspan><tspan font-size="19.5" dy="7">A</tspan></text>
<text x="231.7" y="1154.0" font-size="28.4"><tspan font-style="italic">d</tspan><tspan font-size="19.5" dy="7">AO2(+)</tspan><tspan dy="-7">-DP</tspan></text>
<text x="365.0" y="1154.0" font-size="28.4"><tspan font-style="italic">d</tspan><tspan font-size="19.5" dy="7">AO2(-)</tspan><tspan dy="-7">-DP</tspan></text>
<text x="626.0" y="1154.0" font-size="28.4"><tspan font-style="italic">d</tspan><tspan font-size="19.5" dy="7">AO</tspan><tspan dy="-7">-</tspan><tspan font-style="italic">I</tspan><tspan font-size="19.5" dy="7">A</tspan></text>
<text x="734.4" y="1154.0" font-size="28.4"><tspan font-style="italic">d</tspan><tspan font-size="19.5" dy="7">AO2(+)</tspan><tspan dy="-7">-DP</tspan></text>
<text x="867.7" y="1154.0" font-size="28.4"><tspan font-style="italic">d</tspan><tspan font-size="19.5" dy="7">AO2(-)</tspan><tspan dy="-7">-DP</tspan></text>
<text x="1126.0" y="1154.0" font-size="28.4"><tspan font-style="italic">d</tspan><tspan font-size="19.5" dy="7">AO</tspan><tspan dy="-7">-</tspan><tspan font-style="italic">I</tspan><tspan font-size="19.5" dy="7">A</tspan></text>
<text x="1234.4" y="1154.0" font-size="28.4"><tspan font-style="italic">d</tspan><tspan font-size="19.5" dy="7">AO2(+)</tspan><tspan dy="-7">-DP</tspan></text>
<text x="1367.7" y="1154.0" font-size="28.4"><tspan font-style="italic">d</tspan><tspan font-size="19.5" dy="7">AO2(-)</tspan><tspan dy="-7">-DP</tspan></text>
<clipPath id="cl10"><rect x="90.5" y="1172.3" width="198.10000000000002" height="259.70000000000005"/></clipPath>
<g clip-path="url(#cl10)">
<path d="M253.2,1262.8 C253.1,1267.9 254.1,1273.5 251.4,1278.1 C248.7,1282.7 242.9,1287.3 236.9,1290.5 C230.9,1293.6 222.7,1295.4 215.2,1297.0 C207.7,1298.6 199.6,1300.1 191.8,1300.0 C184.0,1299.8 175.6,1298.2 168.3,1296.2 C161.0,1294.1 153.5,1291.2 147.8,1287.6 C142.1,1284.0 136.4,1279.2 134.0,1274.5 C131.5,1269.8 132.3,1264.1 133.0,1259.2 C133.8,1254.3 135.7,1249.6 138.3,1245.0 C141.0,1240.3 143.5,1234.8 148.9,1231.3 C154.2,1227.9 162.9,1226.2 170.5,1224.5 C178.0,1222.8 186.5,1220.8 194.2,1221.2 C201.9,1221.6 209.6,1224.8 216.8,1227.1 C224.0,1229.4 231.6,1231.5 237.5,1234.9 C243.3,1238.3 249.1,1242.9 251.7,1247.6 C254.3,1252.2 253.2,1257.7 253.2,1262.8 Z" fill="#fbfbb0" fill-opacity="0.9" filter="url(#blur4)"/>
<path d="M249.7,1263.5 C249.6,1267.3 248.5,1271.7 245.6,1274.9 C242.6,1278.1 236.9,1280.5 232.1,1282.8 C227.4,1285.0 222.5,1286.9 217.0,1288.4 C211.5,1289.9 205.2,1291.7 199.1,1291.8 C193.0,1291.8 186.2,1290.4 180.5,1288.7 C174.8,1287.1 169.1,1284.6 165.0,1281.7 C160.9,1278.9 158.3,1275.1 156.0,1271.6 C153.8,1268.1 151.7,1264.2 151.6,1260.5 C151.5,1256.9 153.2,1252.8 155.6,1249.5 C158.1,1246.1 161.9,1242.7 166.5,1240.3 C171.0,1238.0 177.2,1236.6 182.9,1235.4 C188.7,1234.2 194.9,1233.1 200.9,1233.2 C206.9,1233.3 213.3,1234.5 219.0,1236.0 C224.7,1237.5 230.6,1239.5 235.2,1242.2 C239.7,1244.8 244.0,1248.3 246.4,1251.9 C248.9,1255.4 249.9,1259.7 249.7,1263.5 Z" fill="#f4f040" fill-opacity="0.85" filter="url(#blur3)"/>
<path d="M237.3,1264.0 C237.4,1266.6 236.9,1269.6 235.3,1272.0 C233.6,1274.4 230.5,1276.6 227.3,1278.4 C224.2,1280.2 220.5,1282.0 216.5,1282.9 C212.5,1283.9 207.6,1284.5 203.4,1284.2 C199.1,1283.9 194.7,1282.6 190.9,1281.3 C187.1,1280.1 183.7,1278.4 180.5,1276.6 C177.2,1274.7 173.1,1272.7 171.5,1270.3 C169.9,1267.9 170.3,1264.7 170.7,1262.0 C171.0,1259.3 172.0,1256.7 173.5,1254.2 C175.0,1251.7 176.5,1248.6 179.5,1246.8 C182.5,1245.0 187.4,1244.2 191.6,1243.3 C195.8,1242.4 200.3,1241.3 204.6,1241.4 C209.0,1241.6 213.5,1242.8 217.6,1244.0 C221.6,1245.2 225.9,1246.7 228.7,1248.7 C231.6,1250.7 233.3,1253.6 234.8,1256.1 C236.2,1258.7 237.2,1261.3 237.3,1264.0 Z" fill="#d86020" fill-opacity="0.55" filter="url(#blur2)"/>
<mask id="mk10"><path d="M237.3,1264.0 C237.2,1266.9 235.5,1270.1 233.4,1272.7 C231.3,1275.4 228.3,1278.2 224.5,1279.9 C220.8,1281.6 215.5,1282.7 210.8,1283.1 C206.0,1283.6 200.8,1283.3 196.1,1282.5 C191.4,1281.8 186.5,1280.5 182.5,1278.7 C178.5,1276.8 174.3,1274.2 172.1,1271.5 C169.9,1268.7 169.0,1265.1 169.2,1262.0 C169.4,1258.8 170.6,1255.4 173.0,1252.8 C175.4,1250.2 179.8,1248.1 183.8,1246.3 C187.8,1244.6 192.3,1242.8 197.0,1242.2 C201.7,1241.7 207.3,1242.2 212.0,1243.1 C216.7,1244.0 221.5,1245.6 225.1,1247.6 C228.8,1249.6 231.9,1252.3 233.9,1255.1 C235.9,1257.8 237.4,1261.1 237.3,1264.0 Z" fill="#fff" filter="url(#blur2)"/></mask>
<path d="M237.3,1264.0 C237.2,1266.9 235.5,1270.1 233.4,1272.7 C231.3,1275.4 228.3,1278.2 224.5,1279.9 C220.8,1281.6 215.5,1282.7 210.8,1283.1 C206.0,1283.6 200.8,1283.3 196.1,1282.5 C191.4,1281.8 186.5,1280.5 182.5,1278.7 C178.5,1276.8 174.3,1274.2 172.1,1271.5 C169.9,1268.7 169.0,1265.1 169.2,1262.0 C169.4,1258.8 170.6,1255.4 173.0,1252.8 C175.4,1250.2 179.8,1248.1 183.8,1246.3 C187.8,1244.6 192.3,1242.8 197.0,1242.2 C201.7,1241.7 207.3,1242.2 212.0,1243.1 C216.7,1244.0 221.5,1245.6 225.1,1247.6 C228.8,1249.6 231.9,1252.3 233.9,1255.1 C235.9,1257.8 237.4,1261.1 237.3,1264.0 Z" fill="#c05030" fill-opacity="0.85" filter="url(#blur2)"/>
<rect x="90.5" y="1172.3" width="198.10000000000002" height="259.70000000000005" fill="url(#pt)" fill-opacity="1.0" mask="url(#mk10)"/>
<g class="pc"><circle cx="211" cy="1284"/><circle cx="225" cy="1274"/><circle cx="203" cy="1254"/><circle cx="200" cy="1243"/><circle cx="234" cy="1257"/><circle cx="223" cy="1240"/><circle cx="182" cy="1254"/><circle cx="180" cy="1238"/><circle cx="188" cy="1284"/><circle cx="160" cy="1265"/><circle cx="204" cy="1265"/><circle cx="199" cy="1270"/><circle cx="164" cy="1253"/><circle cx="192" cy="1292"/><circle cx="198" cy="1258"/><circle cx="222" cy="1270"/><circle cx="198" cy="1266"/><circle cx="192" cy="1243"/><circle cx="156" cy="1275"/><circle cx="204" cy="1242"/><circle cx="186" cy="1261"/><circle cx="249" cy="1249"/><circle cx="199" cy="1255"/><circle cx="219" cy="1267"/><circle cx="169" cy="1290"/><circle cx="241" cy="1273"/><circle cx="245" cy="1259"/><circle cx="231" cy="1276"/><circle cx="243" cy="1261"/><circle cx="232" cy="1288"/><circle cx="213" cy="1270"/><circle cx="222" cy="1231"/><circle cx="152" cy="1250"/><circle cx="192" cy="1281"/><circle cx="186" cy="1275"/><circle cx="190" cy="1287"/><circle cx="114" cy="1300"/><circle cx="194" cy="1235"/><circle cx="208" cy="1244"/><circle cx="208" cy="1275"/><circle cx="230" cy="1247"/><circle cx="249" cy="1277"/><circle cx="209" cy="1270"/><circle cx="169" cy="1258"/><circle cx="175" cy="1227"/><circle cx="199" cy="1259"/><circle cx="208" cy="1276"/><circle cx="153" cy="1240"/><circle cx="203" cy="1280"/><circle cx="133" cy="1241"/><circle cx="210" cy="1234"/><circle cx="183" cy="1242"/><circle cx="205" cy="1277"/><circle cx="155" cy="1271"/><circle cx="220" cy="1232"/><circle cx="178" cy="1269"/><circle cx="192" cy="1289"/><circle cx="250" cy="1263"/><circle cx="230" cy="1275"/><circle cx="175" cy="1232"/><circle cx="105" cy="1222"/><circle cx="228" cy="1235"/><circle cx="136" cy="1256"/><circle cx="223" cy="1269"/><circle cx="215" cy="1250"/><circle cx="206" cy="1257"/><circle cx="151" cy="1273"/><circle cx="214" cy="1293"/><circle cx="245" cy="1247"/><circle cx="201" cy="1248"/><circle cx="240" cy="1251"/><circle cx="181" cy="1246"/><circle cx="166" cy="1274"/><circle cx="228" cy="1259"/><circle cx="161" cy="1231"/><circle cx="191" cy="1279"/><circle cx="270" cy="1222"/><circle cx="218" cy="1272"/><circle cx="187" cy="1269"/><circle cx="222" cy="1256"/><circle cx="169" cy="1231"/><circle cx="195" cy="1269"/><circle cx="181" cy="1275"/><circle cx="190" cy="1268"/><circle cx="208" cy="1268"/><circle cx="183" cy="1254"/><circle cx="150" cy="1263"/><circle cx="183" cy="1252"/><circle cx="175" cy="1276"/><circle cx="167" cy="1268"/><circle cx="200" cy="1260"/><circle cx="185" cy="1229"/><circle cx="170" cy="1298"/><circle cx="177" cy="1268"/><circle cx="231" cy="1273"/><circle cx="187" cy="1271"/><circle cx="233" cy="1259"/><circle cx="255" cy="1263"/><circle cx="199" cy="1250"/><circle cx="233" cy="1266"/><circle cx="246" cy="1268"/><circle cx="233" cy="1248"/><circle cx="264" cy="1287"/><circle cx="181" cy="1233"/><circle cx="248" cy="1274"/><circle cx="184" cy="1252"/><circle cx="206" cy="1235"/><circle cx="189" cy="1231"/><circle cx="188" cy="1241"/><circle cx="236" cy="1284"/><circle cx="131" cy="1276"/><circle cx="181" cy="1264"/><circle cx="214" cy="1261"/><circle cx="254" cy="1257"/><circle cx="212" cy="1246"/><circle cx="215" cy="1261"/><circle cx="236" cy="1257"/><circle cx="194" cy="1245"/><circle cx="208" cy="1244"/><circle cx="242" cy="1278"/><circle cx="189" cy="1258"/><circle cx="191" cy="1251"/><circle cx="183" cy="1265"/><circle cx="138" cy="1264"/><circle cx="185" cy="1252"/><circle cx="207" cy="1268"/><circle cx="235" cy="1281"/><circle cx="222" cy="1257"/><circle cx="194" cy="1268"/><circle cx="151" cy="1274"/><circle cx="165" cy="1251"/><circle cx="213" cy="1270"/><circle cx="209" cy="1269"/><circle cx="230" cy="1288"/><circle cx="204" cy="1250"/><circle cx="188" cy="1274"/><circle cx="199" cy="1249"/><circle cx="162" cy="1283"/><circle cx="157" cy="1260"/><circle cx="246" cy="1260"/><circle cx="203" cy="1278"/><circle cx="180" cy="1241"/><circle cx="211" cy="1287"/><circle cx="214" cy="1240"/><circle cx="164" cy="1240"/><circle cx="164" cy="1250"/><circle cx="184" cy="1269"/><circle cx="195" cy="1284"/><circle cx="220" cy="1272"/><circle cx="174" cy="1243"/><circle cx="184" cy="1265"/><circle cx="177" cy="1238"/><circle cx="220" cy="1251"/><circle cx="184" cy="1253"/><circle cx="184" cy="1232"/><circle cx="191" cy="1225"/><circle cx="248" cy="1265"/><circle cx="175" cy="1288"/><circle cx="156" cy="1257"/><circle cx="241" cy="1247"/><circle cx="184" cy="1272"/><circle cx="207" cy="1220"/><circle cx="209" cy="1279"/><circle cx="150" cy="1239"/><circle cx="187" cy="1276"/><circle cx="159" cy="1241"/><circle cx="249" cy="1249"/><circle cx="271" cy="1293"/><circle cx="211" cy="1270"/><circle cx="242" cy="1275"/><circle cx="237" cy="1273"/><circle cx="205" cy="1294"/><circle cx="222" cy="1243"/><circle cx="253" cy="1258"/><circle cx="174" cy="1246"/><circle cx="151" cy="1256"/><circle cx="205" cy="1276"/><circle cx="220" cy="1263"/><circle cx="162" cy="1271"/><circle cx="213" cy="1273"/><circle cx="182" cy="1289"/><circle cx="168" cy="1285"/><circle cx="163" cy="1233"/><circle cx="199" cy="1258"/><circle cx="200" cy="1293"/><circle cx="195" cy="1255"/><circle cx="235" cy="1259"/><circle cx="176" cy="1257"/><circle cx="200" cy="1274"/><circle cx="237" cy="1273"/><circle cx="171" cy="1266"/><circle cx="160" cy="1270"/><circle cx="253" cy="1305"/><circle cx="225" cy="1263"/><circle cx="206" cy="1271"/><circle cx="175" cy="1274"/><circle cx="197" cy="1281"/><circle cx="187" cy="1279"/><circle cx="234" cy="1244"/><circle cx="236" cy="1246"/><circle cx="149" cy="1276"/><circle cx="186" cy="1271"/><circle cx="212" cy="1224"/><circle cx="203" cy="1234"/><circle cx="177" cy="1261"/><circle cx="226" cy="1236"/><circle cx="193" cy="1271"/><circle cx="232" cy="1277"/><circle cx="216" cy="1239"/><circle cx="207" cy="1242"/><circle cx="233" cy="1236"/><circle cx="243" cy="1263"/><circle cx="241" cy="1280"/><circle cx="207" cy="1259"/><circle cx="215" cy="1229"/><circle cx="219" cy="1244"/><circle cx="204" cy="1258"/><circle cx="188" cy="1273"/><circle cx="157" cy="1284"/><circle cx="215" cy="1280"/><circle cx="151" cy="1271"/><circle cx="198" cy="1257"/><circle cx="179" cy="1246"/><circle cx="211" cy="1269"/><circle cx="181" cy="1227"/><circle cx="238" cy="1244"/><circle cx="242" cy="1256"/><circle cx="213" cy="1238"/><circle cx="217" cy="1246"/><circle cx="249" cy="1264"/><circle cx="223" cy="1248"/><circle cx="227" cy="1235"/><circle cx="246" cy="1261"/><circle cx="164" cy="1262"/><circle cx="166" cy="1253"/><circle cx="204" cy="1233"/><circle cx="172" cy="1234"/><circle cx="147" cy="1260"/><circle cx="230" cy="1251"/><circle cx="170" cy="1252"/><circle cx="176" cy="1263"/><circle cx="233" cy="1275"/><circle cx="174" cy="1263"/><circle cx="196" cy="1258"/><circle cx="176" cy="1285"/><circle cx="170" cy="1254"/><circle cx="240" cy="1253"/><circle cx="239" cy="1250"/><circle cx="208" cy="1285"/><circle cx="156" cy="1258"/><circle cx="168" cy="1254"/><circle cx="135" cy="1257"/><circle cx="178" cy="1295"/><circle cx="201" cy="1253"/><circle cx="173" cy="1235"/><circle cx="170" cy="1268"/><circle cx="208" cy="1294"/><circle cx="139" cy="1268"/><circle cx="184" cy="1303"/><circle cx="158" cy="1262"/><circle cx="167" cy="1286"/><circle cx="192" cy="1248"/><circle cx="185" cy="1260"/><circle cx="170" cy="1268"/><circle cx="216" cy="1236"/><circle cx="187" cy="1259"/><circle cx="132" cy="1298"/><circle cx="204" cy="1282"/><circle cx="218" cy="1289"/><circle cx="208" cy="1263"/><circle cx="196" cy="1259"/><circle cx="182" cy="1246"/><circle cx="225" cy="1270"/><circle cx="192" cy="1250"/><circle cx="178" cy="1279"/><circle cx="176" cy="1242"/><circle cx="179" cy="1240"/><circle cx="151" cy="1278"/><circle cx="150" cy="1230"/><circle cx="222" cy="1283"/><circle cx="181" cy="1240"/><circle cx="167" cy="1235"/><circle cx="143" cy="1254"/><circle cx="205" cy="1294"/><circle cx="189" cy="1256"/><circle cx="239" cy="1246"/><circle cx="196" cy="1264"/><circle cx="161" cy="1275"/><circle cx="143" cy="1245"/><circle cx="174" cy="1246"/><circle cx="209" cy="1247"/><circle cx="190" cy="1302"/><circle cx="159" cy="1273"/><circle cx="199" cy="1290"/><circle cx="190" cy="1261"/><circle cx="180" cy="1279"/><circle cx="208" cy="1265"/><circle cx="244" cy="1270"/><circle cx="172" cy="1291"/><circle cx="198" cy="1244"/><circle cx="225" cy="1270"/><circle cx="203" cy="1244"/><circle cx="182" cy="1228"/><circle cx="210" cy="1273"/><circle cx="233" cy="1268"/><circle cx="108" cy="1279"/><circle cx="219" cy="1254"/><circle cx="245" cy="1267"/><circle cx="144" cy="1273"/><circle cx="176" cy="1289"/><circle cx="228" cy="1249"/><circle cx="197" cy="1230"/><circle cx="215" cy="1272"/><circle cx="146" cy="1267"/><circle cx="118" cy="1283"/><circle cx="187" cy="1261"/><circle cx="148" cy="1263"/><circle cx="158" cy="1246"/><circle cx="214" cy="1296"/><circle cx="184" cy="1303"/><circle cx="219" cy="1241"/><circle cx="205" cy="1243"/><circle cx="185" cy="1225"/><circle cx="199" cy="1248"/><circle cx="250" cy="1249"/><circle cx="124" cy="1229"/><circle cx="217" cy="1236"/><circle cx="196" cy="1273"/><circle cx="237" cy="1259"/><circle cx="249" cy="1257"/><circle cx="202" cy="1236"/><circle cx="171" cy="1255"/><circle cx="179" cy="1227"/><circle cx="146" cy="1272"/><circle cx="171" cy="1290"/><circle cx="162" cy="1257"/><circle cx="211" cy="1258"/><circle cx="178" cy="1293"/><circle cx="202" cy="1288"/><circle cx="221" cy="1272"/><circle cx="173" cy="1268"/><circle cx="178" cy="1267"/><circle cx="130" cy="1268"/><circle cx="225" cy="1279"/><circle cx="214" cy="1282"/><circle cx="212" cy="1244"/><circle cx="192" cy="1268"/><circle cx="230" cy="1258"/><circle cx="203" cy="1244"/><circle cx="210" cy="1252"/><circle cx="189" cy="1242"/><circle cx="201" cy="1254"/><circle cx="208" cy="1232"/><circle cx="218" cy="1284"/><circle cx="207" cy="1241"/><circle cx="252" cy="1261"/><circle cx="216" cy="1240"/><circle cx="180" cy="1250"/><circle cx="155" cy="1259"/><circle cx="238" cy="1266"/><circle cx="185" cy="1290"/><circle cx="186" cy="1235"/><circle cx="152" cy="1261"/><circle cx="114" cy="1245"/><circle cx="153" cy="1249"/><circle cx="246" cy="1270"/><circle cx="137" cy="1251"/><circle cx="193" cy="1231"/><circle cx="209" cy="1241"/><circle cx="142" cy="1304"/><circle cx="225" cy="1253"/><circle cx="163" cy="1264"/><circle cx="211" cy="1268"/><circle cx="188" cy="1246"/><circle cx="196" cy="1291"/><circle cx="142" cy="1257"/><circle cx="234" cy="1272"/><circle cx="108" cy="1242"/><circle cx="205" cy="1272"/><circle cx="191" cy="1264"/><circle cx="207" cy="1249"/><circle cx="158" cy="1240"/><circle cx="166" cy="1279"/><circle cx="213" cy="1231"/><circle cx="168" cy="1284"/><circle cx="197" cy="1280"/><circle cx="222" cy="1260"/><circle cx="183" cy="1255"/><circle cx="134" cy="1261"/><circle cx="264" cy="1222"/><circle cx="200" cy="1272"/><circle cx="235" cy="1298"/><circle cx="195" cy="1283"/><circle cx="147" cy="1251"/><circle cx="169" cy="1229"/><circle cx="250" cy="1262"/><circle cx="185" cy="1246"/><circle cx="196" cy="1263"/><circle cx="161" cy="1270"/><circle cx="210" cy="1261"/><circle cx="210" cy="1268"/><circle cx="186" cy="1244"/><circle cx="197" cy="1252"/><circle cx="222" cy="1261"/><circle cx="215" cy="1261"/><circle cx="218" cy="1279"/><circle cx="190" cy="1248"/><circle cx="201" cy="1261"/><circle cx="155" cy="1258"/><circle cx="192" cy="1260"/><circle cx="219" cy="1230"/><circle cx="217" cy="1244"/><circle cx="199" cy="1253"/><circle cx="158" cy="1282"/><circle cx="237" cy="1288"/><circle cx="231" cy="1288"/><circle cx="206" cy="1282"/><circle cx="223" cy="1281"/><circle cx="188" cy="1282"/><circle cx="151" cy="1235"/><circle cx="215" cy="1257"/><circle cx="147" cy="1246"/><circle cx="195" cy="1250"/><circle cx="169" cy="1272"/><circle cx="212" cy="1236"/><circle cx="205" cy="1255"/><circle cx="181" cy="1227"/><circle cx="255" cy="1261"/><circle cx="176" cy="1276"/><circle cx="167" cy="1290"/><circle cx="187" cy="1233"/><circle cx="174" cy="1308"/><circle cx="136" cy="1264"/><circle cx="211" cy="1248"/><circle cx="184" cy="1252"/><circle cx="167" cy="1291"/><circle cx="175" cy="1252"/><circle cx="233" cy="1268"/><circle cx="165" cy="1268"/><circle cx="138" cy="1249"/><circle cx="249" cy="1266"/><circle cx="192" cy="1271"/><circle cx="207" cy="1246"/><circle cx="223" cy="1283"/><circle cx="154" cy="1256"/><circle cx="159" cy="1242"/><circle cx="214" cy="1245"/><circle cx="255" cy="1235"/><circle cx="205" cy="1244"/><circle cx="159" cy="1293"/></g>
<path d="M250.8,1263.3 C250.6,1267.8 248.3,1272.8 244.4,1276.4 C240.5,1280.0 233.8,1283.3 227.3,1285.1 C220.8,1287.0 212.4,1287.9 205.2,1287.6 C198.0,1287.3 190.4,1285.5 184.0,1283.2 C177.7,1280.9 170.8,1277.7 167.1,1274.0 C163.5,1270.2 162.0,1265.1 162.1,1260.7 C162.2,1256.3 163.9,1251.3 167.7,1247.6 C171.5,1244.0 178.3,1241.0 184.8,1239.0 C191.4,1237.0 199.5,1235.4 206.8,1235.6 C214.0,1235.8 222.0,1238.1 228.4,1240.5 C234.8,1242.8 241.4,1246.1 245.2,1249.9 C248.9,1253.7 250.9,1258.9 250.8,1263.3 Z" fill="none" stroke="#4a4a2a" stroke-width="0.8"/>
</g>
<clipPath id="cl11"><rect x="290.6" y="1172.3" width="197.39999999999998" height="259.70000000000005"/></clipPath>
<g clip-path="url(#cl11)">
<path d="M323.8,1391.4 C320.9,1371.6 323.3,1307.7 323.8,1274.5 C324.2,1241.4 324.2,1208.8 326.5,1192.4 C328.8,1176.0 333.5,1178.7 337.5,1176.0 C341.4,1173.2 345.4,1172.3 350.2,1176.0 C355.1,1179.6 361.5,1189.9 366.7,1197.9 C371.8,1205.8 377.0,1215.2 381.3,1223.4 C385.5,1231.6 390.4,1229.5 392.2,1247.1 C394.1,1264.8 394.1,1309.5 392.2,1329.3 C390.4,1349.1 386.1,1356.7 381.3,1365.8 C376.4,1374.9 369.7,1379.5 363.0,1384.1 C356.3,1388.6 347.7,1392.0 341.1,1393.2 C334.6,1394.4 326.7,1411.1 323.8,1391.4 Z" fill="#d4d4ff" fill-opacity="0.9" filter="url(#blur3)"/>
<path d="M325.7,1390.8 C322.5,1374.4 323.5,1332.8 323.3,1304.4 C323.1,1276.0 323.3,1241.4 324.5,1220.4 C325.7,1199.4 327.5,1187.2 330.5,1178.4 C333.5,1169.6 338.7,1168.2 342.5,1167.6 C346.3,1167.0 349.9,1167.0 353.3,1174.8 C356.7,1182.6 360.5,1196.8 362.9,1214.4 C365.3,1232.0 367.1,1259.4 367.7,1280.4 C368.3,1301.4 368.1,1323.4 366.5,1340.4 C364.9,1357.4 362.1,1372.0 358.1,1382.4 C354.1,1392.8 347.9,1401.4 342.5,1402.8 C337.1,1404.2 328.9,1407.2 325.7,1390.8 Z" fill="#7070ff" fill-opacity="0.6" filter="url(#blur3)"/>
<mask id="mk11"><path d="M329.0,1372.0 C326.3,1358.3 327.2,1323.7 327.0,1300.0 C326.8,1276.3 327.0,1247.5 328.0,1230.0 C329.0,1212.5 330.5,1202.3 333.0,1195.0 C335.5,1187.7 339.8,1186.5 343.0,1186.0 C346.2,1185.5 349.2,1185.5 352.0,1192.0 C354.8,1198.5 358.0,1210.3 360.0,1225.0 C362.0,1239.7 363.5,1262.5 364.0,1280.0 C364.5,1297.5 364.3,1315.8 363.0,1330.0 C361.7,1344.2 359.3,1356.3 356.0,1365.0 C352.7,1373.7 347.5,1380.8 343.0,1382.0 C338.5,1383.2 331.7,1385.7 329.0,1372.0 Z" fill="#fff" filter="url(#blur2)"/></mask>
<path d="M329.0,1372.0 C326.3,1358.3 327.2,1323.7 327.0,1300.0 C326.8,1276.3 327.0,1247.5 328.0,1230.0 C329.0,1212.5 330.5,1202.3 333.0,1195.0 C335.5,1187.7 339.8,1186.5 343.0,1186.0 C346.2,1185.5 349.2,1185.5 352.0,1192.0 C354.8,1198.5 358.0,1210.3 360.0,1225.0 C362.0,1239.7 363.5,1262.5 364.0,1280.0 C364.5,1297.5 364.3,1315.8 363.0,1330.0 C361.7,1344.2 359.3,1356.3 356.0,1365.0 C352.7,1373.7 347.5,1380.8 343.0,1382.0 C338.5,1383.2 331.7,1385.7 329.0,1372.0 Z" fill="#2a2ad0" fill-opacity="0.85" filter="url(#blur2)"/>
<g class="pc"><circle cx="340" cy="1330"/><circle cx="367" cy="1233"/><circle cx="342" cy="1232"/><circle cx="330" cy="1273"/><circle cx="340" cy="1196"/><circle cx="338" cy="1372"/><circle cx="357" cy="1222"/><circle cx="347" cy="1231"/><circle cx="355" cy="1314"/><circle cx="338" cy="1264"/><circle cx="332" cy="1218"/><circle cx="331" cy="1356"/><circle cx="339" cy="1326"/><circle cx="336" cy="1260"/><circle cx="345" cy="1265"/><circle cx="339" cy="1331"/><circle cx="375" cy="1296"/><circle cx="342" cy="1311"/><circle cx="334" cy="1220"/><circle cx="357" cy="1332"/><circle cx="350" cy="1288"/><circle cx="335" cy="1350"/><circle cx="341" cy="1265"/><circle cx="357" cy="1273"/><circle cx="334" cy="1199"/><circle cx="353" cy="1190"/><circle cx="360" cy="1251"/><circle cx="370" cy="1293"/><circle cx="342" cy="1275"/><circle cx="333" cy="1360"/><circle cx="360" cy="1337"/><circle cx="330" cy="1316"/><circle cx="358" cy="1284"/><circle cx="355" cy="1208"/><circle cx="345" cy="1310"/><circle cx="342" cy="1324"/><circle cx="330" cy="1332"/><circle cx="355" cy="1235"/><circle cx="333" cy="1264"/><circle cx="335" cy="1246"/><circle cx="361" cy="1281"/><circle cx="342" cy="1285"/><circle cx="346" cy="1247"/><circle cx="337" cy="1197"/><circle cx="343" cy="1228"/><circle cx="338" cy="1200"/><circle cx="347" cy="1206"/><circle cx="339" cy="1353"/><circle cx="387" cy="1404"/><circle cx="355" cy="1294"/><circle cx="352" cy="1303"/><circle cx="386" cy="1310"/><circle cx="350" cy="1245"/><circle cx="335" cy="1213"/><circle cx="355" cy="1321"/><circle cx="349" cy="1234"/><circle cx="351" cy="1269"/><circle cx="361" cy="1318"/><circle cx="343" cy="1371"/><circle cx="335" cy="1228"/><circle cx="333" cy="1321"/><circle cx="345" cy="1251"/><circle cx="351" cy="1229"/><circle cx="327" cy="1297"/><circle cx="346" cy="1209"/><circle cx="363" cy="1270"/><circle cx="346" cy="1371"/><circle cx="342" cy="1208"/><circle cx="329" cy="1228"/><circle cx="343" cy="1331"/><circle cx="356" cy="1261"/><circle cx="342" cy="1313"/><circle cx="337" cy="1286"/><circle cx="326" cy="1244"/><circle cx="351" cy="1279"/><circle cx="347" cy="1307"/><circle cx="346" cy="1259"/><circle cx="345" cy="1304"/><circle cx="329" cy="1256"/><circle cx="355" cy="1350"/><circle cx="345" cy="1198"/><circle cx="333" cy="1218"/><circle cx="353" cy="1264"/><circle cx="335" cy="1194"/><circle cx="403" cy="1398"/><circle cx="355" cy="1245"/><circle cx="332" cy="1349"/><circle cx="355" cy="1272"/><circle cx="330" cy="1319"/><circle cx="330" cy="1219"/><circle cx="350" cy="1225"/><circle cx="359" cy="1202"/><circle cx="326" cy="1223"/><circle cx="351" cy="1300"/><circle cx="351" cy="1334"/><circle cx="339" cy="1303"/><circle cx="346" cy="1313"/><circle cx="344" cy="1319"/><circle cx="353" cy="1365"/><circle cx="354" cy="1206"/><circle cx="345" cy="1276"/><circle cx="350" cy="1225"/><circle cx="353" cy="1274"/><circle cx="388" cy="1218"/><circle cx="372" cy="1235"/><circle cx="341" cy="1296"/><circle cx="345" cy="1216"/><circle cx="360" cy="1273"/><circle cx="391" cy="1406"/><circle cx="337" cy="1181"/><circle cx="355" cy="1302"/><circle cx="336" cy="1205"/><circle cx="353" cy="1222"/><circle cx="356" cy="1283"/><circle cx="337" cy="1235"/><circle cx="352" cy="1264"/><circle cx="356" cy="1327"/><circle cx="353" cy="1286"/><circle cx="351" cy="1206"/><circle cx="333" cy="1411"/><circle cx="359" cy="1236"/><circle cx="340" cy="1229"/><circle cx="354" cy="1209"/><circle cx="361" cy="1266"/><circle cx="344" cy="1243"/><circle cx="338" cy="1213"/><circle cx="344" cy="1316"/><circle cx="358" cy="1329"/><circle cx="382" cy="1355"/><circle cx="343" cy="1281"/><circle cx="375" cy="1322"/><circle cx="401" cy="1359"/><circle cx="353" cy="1306"/><circle cx="339" cy="1336"/><circle cx="336" cy="1214"/><circle cx="331" cy="1330"/><circle cx="352" cy="1239"/><circle cx="344" cy="1257"/><circle cx="341" cy="1301"/><circle cx="350" cy="1279"/><circle cx="341" cy="1256"/><circle cx="370" cy="1298"/><circle cx="344" cy="1226"/><circle cx="353" cy="1244"/><circle cx="329" cy="1254"/><circle cx="334" cy="1294"/><circle cx="358" cy="1238"/><circle cx="341" cy="1337"/><circle cx="340" cy="1237"/><circle cx="360" cy="1342"/><circle cx="335" cy="1223"/><circle cx="354" cy="1413"/><circle cx="329" cy="1237"/><circle cx="341" cy="1320"/><circle cx="332" cy="1218"/><circle cx="346" cy="1264"/><circle cx="345" cy="1198"/><circle cx="333" cy="1218"/><circle cx="356" cy="1213"/><circle cx="344" cy="1241"/><circle cx="345" cy="1287"/><circle cx="384" cy="1256"/><circle cx="347" cy="1325"/><circle cx="337" cy="1262"/><circle cx="355" cy="1272"/><circle cx="331" cy="1370"/><circle cx="352" cy="1313"/><circle cx="393" cy="1278"/><circle cx="350" cy="1350"/><circle cx="344" cy="1302"/><circle cx="332" cy="1225"/><circle cx="343" cy="1267"/><circle cx="345" cy="1280"/><circle cx="332" cy="1366"/><circle cx="341" cy="1307"/><circle cx="348" cy="1212"/><circle cx="331" cy="1296"/><circle cx="342" cy="1284"/><circle cx="338" cy="1254"/><circle cx="337" cy="1221"/><circle cx="371" cy="1189"/><circle cx="347" cy="1295"/><circle cx="360" cy="1380"/><circle cx="332" cy="1342"/><circle cx="330" cy="1303"/><circle cx="345" cy="1337"/><circle cx="357" cy="1268"/><circle cx="331" cy="1284"/><circle cx="346" cy="1367"/><circle cx="353" cy="1288"/><circle cx="356" cy="1204"/><circle cx="332" cy="1310"/><circle cx="349" cy="1337"/><circle cx="328" cy="1265"/><circle cx="352" cy="1348"/><circle cx="350" cy="1177"/><circle cx="359" cy="1285"/><circle cx="340" cy="1199"/><circle cx="381" cy="1243"/><circle cx="330" cy="1302"/><circle cx="342" cy="1232"/><circle cx="341" cy="1330"/><circle cx="368" cy="1308"/><circle cx="338" cy="1195"/><circle cx="345" cy="1344"/><circle cx="362" cy="1332"/><circle cx="414" cy="1206"/><circle cx="340" cy="1251"/><circle cx="332" cy="1225"/><circle cx="338" cy="1306"/><circle cx="338" cy="1252"/><circle cx="349" cy="1305"/><circle cx="338" cy="1287"/><circle cx="361" cy="1224"/><circle cx="352" cy="1327"/><circle cx="345" cy="1204"/><circle cx="356" cy="1330"/><circle cx="363" cy="1279"/><circle cx="358" cy="1278"/><circle cx="354" cy="1335"/><circle cx="352" cy="1315"/><circle cx="341" cy="1304"/><circle cx="342" cy="1283"/><circle cx="335" cy="1324"/><circle cx="346" cy="1210"/><circle cx="356" cy="1327"/><circle cx="342" cy="1200"/><circle cx="329" cy="1339"/><circle cx="329" cy="1298"/><circle cx="344" cy="1375"/><circle cx="344" cy="1295"/><circle cx="350" cy="1331"/><circle cx="331" cy="1225"/><circle cx="359" cy="1277"/><circle cx="365" cy="1332"/><circle cx="371" cy="1283"/><circle cx="356" cy="1234"/><circle cx="336" cy="1207"/><circle cx="348" cy="1299"/><circle cx="353" cy="1268"/><circle cx="346" cy="1209"/><circle cx="372" cy="1377"/><circle cx="329" cy="1291"/><circle cx="350" cy="1342"/><circle cx="333" cy="1276"/><circle cx="348" cy="1228"/><circle cx="346" cy="1322"/><circle cx="346" cy="1261"/><circle cx="357" cy="1324"/><circle cx="339" cy="1239"/><circle cx="348" cy="1215"/><circle cx="342" cy="1375"/><circle cx="337" cy="1310"/><circle cx="365" cy="1338"/><circle cx="340" cy="1356"/><circle cx="340" cy="1277"/><circle cx="341" cy="1243"/><circle cx="352" cy="1309"/><circle cx="342" cy="1250"/><circle cx="362" cy="1300"/><circle cx="345" cy="1282"/><circle cx="351" cy="1206"/><circle cx="345" cy="1273"/><circle cx="353" cy="1232"/><circle cx="328" cy="1320"/><circle cx="328" cy="1240"/><circle cx="329" cy="1255"/><circle cx="360" cy="1283"/><circle cx="345" cy="1256"/><circle cx="361" cy="1263"/><circle cx="331" cy="1306"/><circle cx="340" cy="1352"/><circle cx="336" cy="1237"/><circle cx="351" cy="1319"/><circle cx="343" cy="1363"/><circle cx="341" cy="1347"/><circle cx="335" cy="1385"/><circle cx="356" cy="1356"/><circle cx="359" cy="1196"/><circle cx="341" cy="1364"/><circle cx="338" cy="1253"/><circle cx="339" cy="1285"/><circle cx="341" cy="1270"/><circle cx="332" cy="1248"/><circle cx="339" cy="1276"/><circle cx="364" cy="1279"/><circle cx="331" cy="1242"/><circle cx="339" cy="1239"/><circle cx="356" cy="1248"/><circle cx="344" cy="1245"/><circle cx="335" cy="1329"/><circle cx="337" cy="1222"/><circle cx="346" cy="1220"/><circle cx="333" cy="1342"/><circle cx="331" cy="1290"/><circle cx="396" cy="1389"/><circle cx="363" cy="1298"/><circle cx="344" cy="1356"/><circle cx="353" cy="1272"/><circle cx="334" cy="1319"/><circle cx="374" cy="1220"/><circle cx="334" cy="1205"/><circle cx="351" cy="1204"/><circle cx="338" cy="1294"/><circle cx="346" cy="1323"/><circle cx="347" cy="1312"/><circle cx="357" cy="1258"/><circle cx="344" cy="1209"/><circle cx="327" cy="1303"/><circle cx="325" cy="1336"/><circle cx="350" cy="1246"/><circle cx="349" cy="1268"/><circle cx="348" cy="1257"/><circle cx="341" cy="1377"/><circle cx="347" cy="1311"/><circle cx="350" cy="1310"/><circle cx="350" cy="1277"/><circle cx="351" cy="1257"/><circle cx="359" cy="1314"/><circle cx="339" cy="1190"/><circle cx="353" cy="1341"/><circle cx="360" cy="1256"/><circle cx="343" cy="1206"/><circle cx="347" cy="1312"/><circle cx="359" cy="1309"/><circle cx="336" cy="1234"/><circle cx="342" cy="1351"/><circle cx="353" cy="1338"/><circle cx="355" cy="1228"/><circle cx="338" cy="1340"/><circle cx="345" cy="1279"/><circle cx="333" cy="1226"/><circle cx="335" cy="1214"/><circle cx="337" cy="1289"/><circle cx="355" cy="1301"/><circle cx="347" cy="1258"/><circle cx="346" cy="1208"/><circle cx="341" cy="1194"/><circle cx="337" cy="1203"/><circle cx="355" cy="1328"/><circle cx="372" cy="1250"/><circle cx="331" cy="1218"/><circle cx="337" cy="1241"/><circle cx="351" cy="1271"/><circle cx="355" cy="1317"/><circle cx="339" cy="1235"/><circle cx="332" cy="1347"/><circle cx="355" cy="1351"/><circle cx="347" cy="1329"/><circle cx="355" cy="1299"/><circle cx="347" cy="1290"/><circle cx="352" cy="1239"/><circle cx="353" cy="1310"/><circle cx="353" cy="1353"/><circle cx="334" cy="1239"/><circle cx="339" cy="1324"/><circle cx="331" cy="1255"/><circle cx="343" cy="1187"/><circle cx="338" cy="1283"/><circle cx="333" cy="1284"/><circle cx="370" cy="1199"/><circle cx="361" cy="1322"/><circle cx="349" cy="1295"/><circle cx="342" cy="1205"/><circle cx="352" cy="1336"/><circle cx="340" cy="1262"/><circle cx="331" cy="1357"/><circle cx="360" cy="1335"/><circle cx="344" cy="1255"/><circle cx="355" cy="1327"/><circle cx="359" cy="1234"/><circle cx="349" cy="1339"/><circle cx="341" cy="1281"/><circle cx="338" cy="1240"/><circle cx="340" cy="1370"/><circle cx="351" cy="1249"/><circle cx="347" cy="1306"/><circle cx="335" cy="1250"/><circle cx="351" cy="1322"/><circle cx="340" cy="1257"/><circle cx="348" cy="1247"/><circle cx="339" cy="1277"/><circle cx="344" cy="1294"/><circle cx="345" cy="1234"/><circle cx="353" cy="1201"/><circle cx="335" cy="1331"/><circle cx="346" cy="1254"/><circle cx="334" cy="1259"/><circle cx="408" cy="1387"/><circle cx="342" cy="1291"/><circle cx="336" cy="1273"/><circle cx="357" cy="1343"/><circle cx="341" cy="1207"/><circle cx="335" cy="1291"/><circle cx="360" cy="1280"/><circle cx="331" cy="1312"/><circle cx="342" cy="1230"/><circle cx="352" cy="1338"/><circle cx="334" cy="1249"/><circle cx="351" cy="1240"/><circle cx="347" cy="1373"/><circle cx="354" cy="1321"/><circle cx="333" cy="1259"/><circle cx="356" cy="1276"/><circle cx="331" cy="1334"/><circle cx="338" cy="1222"/><circle cx="391" cy="1290"/><circle cx="342" cy="1372"/><circle cx="361" cy="1335"/><circle cx="353" cy="1213"/><circle cx="347" cy="1253"/><circle cx="358" cy="1356"/><circle cx="346" cy="1250"/><circle cx="358" cy="1250"/><circle cx="332" cy="1292"/><circle cx="336" cy="1305"/><circle cx="357" cy="1244"/><circle cx="354" cy="1201"/><circle cx="341" cy="1213"/><circle cx="335" cy="1215"/><circle cx="351" cy="1375"/><circle cx="347" cy="1304"/><circle cx="338" cy="1366"/><circle cx="333" cy="1205"/><circle cx="331" cy="1263"/><circle cx="345" cy="1336"/><circle cx="353" cy="1236"/><circle cx="330" cy="1355"/><circle cx="335" cy="1339"/><circle cx="336" cy="1222"/><circle cx="351" cy="1235"/><circle cx="338" cy="1325"/><circle cx="329" cy="1293"/><circle cx="342" cy="1215"/><circle cx="324" cy="1274"/><circle cx="342" cy="1327"/><circle cx="357" cy="1366"/><circle cx="336" cy="1254"/><circle cx="375" cy="1322"/><circle cx="374" cy="1211"/><circle cx="349" cy="1293"/><circle cx="355" cy="1187"/><circle cx="333" cy="1276"/><circle cx="328" cy="1259"/><circle cx="359" cy="1251"/><circle cx="343" cy="1275"/><circle cx="349" cy="1247"/><circle cx="355" cy="1279"/><circle cx="363" cy="1304"/><circle cx="336" cy="1315"/><circle cx="359" cy="1272"/><circle cx="334" cy="1360"/><circle cx="360" cy="1401"/><circle cx="334" cy="1261"/><circle cx="336" cy="1295"/><circle cx="360" cy="1314"/><circle cx="396" cy="1229"/><circle cx="344" cy="1197"/><circle cx="348" cy="1271"/><circle cx="343" cy="1236"/><circle cx="351" cy="1303"/><circle cx="342" cy="1223"/><circle cx="339" cy="1281"/><circle cx="344" cy="1305"/><circle cx="342" cy="1245"/><circle cx="347" cy="1249"/><circle cx="361" cy="1294"/><circle cx="359" cy="1289"/><circle cx="348" cy="1347"/><circle cx="353" cy="1240"/><circle cx="333" cy="1249"/><circle cx="346" cy="1336"/><circle cx="340" cy="1346"/><circle cx="329" cy="1276"/><circle cx="345" cy="1364"/><circle cx="346" cy="1283"/><circle cx="346" cy="1323"/><circle cx="361" cy="1253"/><circle cx="353" cy="1373"/><circle cx="355" cy="1244"/><circle cx="351" cy="1342"/><circle cx="339" cy="1294"/><circle cx="352" cy="1368"/><circle cx="346" cy="1399"/><circle cx="350" cy="1194"/><circle cx="356" cy="1297"/><circle cx="361" cy="1338"/><circle cx="353" cy="1249"/><circle cx="356" cy="1313"/><circle cx="339" cy="1245"/><circle cx="333" cy="1251"/><circle cx="352" cy="1239"/><circle cx="329" cy="1338"/><circle cx="331" cy="1218"/><circle cx="346" cy="1332"/><circle cx="333" cy="1367"/><circle cx="377" cy="1370"/><circle cx="363" cy="1312"/><circle cx="354" cy="1182"/><circle cx="340" cy="1293"/><circle cx="343" cy="1328"/><circle cx="337" cy="1210"/><circle cx="346" cy="1356"/><circle cx="348" cy="1314"/><circle cx="335" cy="1286"/><circle cx="347" cy="1352"/><circle cx="348" cy="1206"/><circle cx="350" cy="1245"/><circle cx="347" cy="1311"/><circle cx="342" cy="1195"/><circle cx="359" cy="1260"/><circle cx="340" cy="1239"/><circle cx="368" cy="1200"/><circle cx="333" cy="1349"/><circle cx="344" cy="1206"/><circle cx="358" cy="1344"/><circle cx="334" cy="1291"/><circle cx="355" cy="1361"/><circle cx="347" cy="1283"/><circle cx="341" cy="1324"/><circle cx="372" cy="1343"/><circle cx="348" cy="1223"/><circle cx="353" cy="1310"/><circle cx="359" cy="1307"/><circle cx="374" cy="1244"/><circle cx="356" cy="1287"/><circle cx="329" cy="1326"/><circle cx="343" cy="1238"/><circle cx="391" cy="1318"/><circle cx="353" cy="1244"/><circle cx="346" cy="1375"/><circle cx="332" cy="1313"/><circle cx="338" cy="1321"/><circle cx="342" cy="1327"/><circle cx="411" cy="1291"/><circle cx="346" cy="1309"/><circle cx="349" cy="1224"/><circle cx="343" cy="1316"/><circle cx="339" cy="1326"/><circle cx="332" cy="1226"/><circle cx="412" cy="1233"/><circle cx="388" cy="1353"/><circle cx="352" cy="1195"/><circle cx="335" cy="1365"/><circle cx="345" cy="1265"/><circle cx="338" cy="1344"/><circle cx="355" cy="1298"/><circle cx="340" cy="1278"/><circle cx="346" cy="1311"/><circle cx="396" cy="1293"/><circle cx="332" cy="1255"/><circle cx="355" cy="1345"/><circle cx="362" cy="1257"/><circle cx="330" cy="1368"/><circle cx="362" cy="1328"/><circle cx="342" cy="1215"/><circle cx="343" cy="1281"/><circle cx="362" cy="1264"/><circle cx="353" cy="1282"/><circle cx="347" cy="1374"/><circle cx="357" cy="1306"/><circle cx="359" cy="1266"/><circle cx="351" cy="1322"/><circle cx="351" cy="1227"/><circle cx="336" cy="1354"/><circle cx="363" cy="1276"/><circle cx="348" cy="1364"/><circle cx="336" cy="1244"/><circle cx="359" cy="1297"/><circle cx="356" cy="1356"/><circle cx="354" cy="1230"/><circle cx="338" cy="1326"/><circle cx="349" cy="1286"/><circle cx="345" cy="1356"/><circle cx="348" cy="1311"/><circle cx="339" cy="1183"/><circle cx="340" cy="1198"/><circle cx="339" cy="1349"/><circle cx="342" cy="1261"/><circle cx="345" cy="1290"/><circle cx="380" cy="1263"/><circle cx="350" cy="1203"/><circle cx="344" cy="1231"/><circle cx="327" cy="1285"/><circle cx="349" cy="1307"/><circle cx="338" cy="1286"/><circle cx="383" cy="1230"/><circle cx="357" cy="1213"/><circle cx="337" cy="1370"/><circle cx="352" cy="1248"/><circle cx="347" cy="1233"/><circle cx="364" cy="1208"/><circle cx="403" cy="1197"/><circle cx="333" cy="1257"/><circle cx="360" cy="1253"/><circle cx="340" cy="1327"/><circle cx="332" cy="1341"/><circle cx="353" cy="1299"/><circle cx="331" cy="1286"/><circle cx="333" cy="1267"/><circle cx="332" cy="1353"/><circle cx="333" cy="1204"/><circle cx="350" cy="1322"/><circle cx="349" cy="1219"/><circle cx="352" cy="1340"/><circle cx="354" cy="1302"/><circle cx="341" cy="1305"/><circle cx="357" cy="1259"/><circle cx="363" cy="1329"/><circle cx="337" cy="1203"/><circle cx="342" cy="1230"/><circle cx="327" cy="1380"/><circle cx="357" cy="1319"/><circle cx="341" cy="1273"/><circle cx="357" cy="1328"/><circle cx="330" cy="1289"/><circle cx="358" cy="1234"/><circle cx="335" cy="1372"/><circle cx="357" cy="1346"/><circle cx="349" cy="1270"/><circle cx="329" cy="1284"/><circle cx="355" cy="1274"/><circle cx="348" cy="1298"/><circle cx="348" cy="1258"/><circle cx="340" cy="1259"/><circle cx="341" cy="1335"/><circle cx="341" cy="1297"/><circle cx="331" cy="1226"/><circle cx="333" cy="1198"/><circle cx="357" cy="1275"/><circle cx="356" cy="1299"/><circle cx="345" cy="1299"/><circle cx="354" cy="1345"/><circle cx="360" cy="1339"/><circle cx="336" cy="1384"/><circle cx="338" cy="1328"/><circle cx="357" cy="1238"/><circle cx="338" cy="1247"/><circle cx="351" cy="1327"/><circle cx="350" cy="1233"/><circle cx="351" cy="1286"/><circle cx="367" cy="1255"/><circle cx="333" cy="1314"/><circle cx="338" cy="1221"/><circle cx="332" cy="1267"/><circle cx="334" cy="1274"/><circle cx="350" cy="1351"/><circle cx="351" cy="1350"/><circle cx="343" cy="1272"/><circle cx="353" cy="1253"/><circle cx="356" cy="1261"/><circle cx="353" cy="1302"/><circle cx="355" cy="1223"/><circle cx="348" cy="1317"/><circle cx="358" cy="1252"/><circle cx="339" cy="1191"/><circle cx="349" cy="1265"/><circle cx="332" cy="1261"/><circle cx="331" cy="1246"/><circle cx="358" cy="1287"/><circle cx="358" cy="1322"/><circle cx="362" cy="1303"/><circle cx="335" cy="1301"/><circle cx="349" cy="1357"/><circle cx="339" cy="1275"/><circle cx="364" cy="1295"/><circle cx="363" cy="1317"/><circle cx="336" cy="1256"/><circle cx="364" cy="1292"/><circle cx="348" cy="1258"/><circle cx="336" cy="1179"/><circle cx="352" cy="1222"/><circle cx="332" cy="1259"/><circle cx="357" cy="1291"/><circle cx="356" cy="1361"/><circle cx="335" cy="1275"/><circle cx="357" cy="1348"/><circle cx="338" cy="1331"/><circle cx="342" cy="1338"/><circle cx="341" cy="1292"/><circle cx="363" cy="1283"/><circle cx="389" cy="1249"/><circle cx="353" cy="1328"/><circle cx="345" cy="1195"/><circle cx="349" cy="1306"/><circle cx="328" cy="1285"/><circle cx="341" cy="1218"/><circle cx="353" cy="1263"/><circle cx="352" cy="1352"/><circle cx="344" cy="1291"/><circle cx="335" cy="1235"/><circle cx="335" cy="1239"/><circle cx="357" cy="1222"/><circle cx="350" cy="1294"/><circle cx="347" cy="1198"/><circle cx="326" cy="1262"/><circle cx="356" cy="1272"/><circle cx="342" cy="1303"/><circle cx="345" cy="1298"/><circle cx="342" cy="1209"/><circle cx="357" cy="1319"/><circle cx="341" cy="1362"/><circle cx="350" cy="1317"/><circle cx="352" cy="1261"/><circle cx="349" cy="1204"/><circle cx="341" cy="1266"/><circle cx="331" cy="1212"/><circle cx="365" cy="1224"/><circle cx="358" cy="1275"/><circle cx="339" cy="1336"/><circle cx="352" cy="1219"/><circle cx="337" cy="1363"/><circle cx="347" cy="1314"/><circle cx="383" cy="1296"/><circle cx="346" cy="1227"/><circle cx="330" cy="1305"/><circle cx="357" cy="1304"/><circle cx="356" cy="1345"/><circle cx="354" cy="1296"/><circle cx="354" cy="1268"/><circle cx="357" cy="1239"/><circle cx="337" cy="1268"/><circle cx="354" cy="1268"/><circle cx="337" cy="1319"/><circle cx="338" cy="1291"/><circle cx="330" cy="1259"/><circle cx="330" cy="1346"/><circle cx="339" cy="1343"/><circle cx="368" cy="1308"/><circle cx="348" cy="1299"/><circle cx="353" cy="1352"/><circle cx="341" cy="1314"/><circle cx="344" cy="1268"/><circle cx="345" cy="1349"/><circle cx="337" cy="1282"/><circle cx="342" cy="1291"/><circle cx="333" cy="1371"/><circle cx="334" cy="1297"/><circle cx="343" cy="1308"/><circle cx="341" cy="1230"/><circle cx="350" cy="1219"/><circle cx="341" cy="1267"/><circle cx="356" cy="1245"/><circle cx="342" cy="1346"/><circle cx="340" cy="1235"/><circle cx="343" cy="1193"/><circle cx="337" cy="1328"/><circle cx="342" cy="1252"/><circle cx="357" cy="1293"/><circle cx="329" cy="1320"/><circle cx="370" cy="1264"/><circle cx="355" cy="1315"/><circle cx="357" cy="1287"/><circle cx="357" cy="1301"/><circle cx="389" cy="1359"/><circle cx="326" cy="1316"/><circle cx="330" cy="1360"/><circle cx="354" cy="1303"/><circle cx="352" cy="1236"/><circle cx="332" cy="1235"/><circle cx="377" cy="1314"/><circle cx="339" cy="1325"/><circle cx="348" cy="1329"/><circle cx="334" cy="1333"/><circle cx="360" cy="1245"/><circle cx="346" cy="1310"/><circle cx="356" cy="1297"/><circle cx="347" cy="1197"/><circle cx="332" cy="1339"/><circle cx="338" cy="1275"/><circle cx="377" cy="1251"/><circle cx="356" cy="1233"/><circle cx="356" cy="1343"/><circle cx="336" cy="1265"/><circle cx="335" cy="1213"/><circle cx="354" cy="1243"/><circle cx="356" cy="1272"/><circle cx="333" cy="1268"/><circle cx="391" cy="1375"/><circle cx="360" cy="1248"/><circle cx="333" cy="1224"/><circle cx="332" cy="1300"/><circle cx="331" cy="1246"/><circle cx="338" cy="1316"/><circle cx="334" cy="1286"/><circle cx="333" cy="1339"/><circle cx="352" cy="1195"/><circle cx="351" cy="1238"/><circle cx="335" cy="1289"/><circle cx="361" cy="1309"/><circle cx="349" cy="1296"/><circle cx="348" cy="1281"/><circle cx="360" cy="1282"/><circle cx="361" cy="1284"/><circle cx="342" cy="1191"/><circle cx="346" cy="1264"/><circle cx="333" cy="1314"/><circle cx="337" cy="1378"/><circle cx="356" cy="1326"/><circle cx="360" cy="1273"/><circle cx="358" cy="1259"/><circle cx="357" cy="1268"/><circle cx="351" cy="1360"/><circle cx="350" cy="1344"/><circle cx="358" cy="1323"/></g>
</g>
<line x1="89.5" y1="1180.8" x2="489.0" y2="1180.8" stroke="#8c8c8c" stroke-width="1" stroke-dasharray="5,3,1.5,3"/>
<line x1="89.5" y1="1278.2" x2="489.0" y2="1278.2" stroke="#8c8c8c" stroke-width="1" stroke-dasharray="5,3,1.5,3"/>
<line x1="89.5" y1="1375.6" x2="489.0" y2="1375.6" stroke="#8c8c8c" stroke-width="1" stroke-dasharray="5,3,1.5,3"/>
<line x1="79.5" y1="1180.8" x2="89.5" y2="1180.8" stroke="#808080" stroke-width="2" />
<line x1="79.5" y1="1278.2" x2="89.5" y2="1278.2" stroke="#808080" stroke-width="2" />
<line x1="79.5" y1="1375.6" x2="89.5" y2="1375.6" stroke="#808080" stroke-width="2" />
<line x1="84.5" y1="1229.5" x2="89.5" y2="1229.5" stroke="#808080" stroke-width="2" />
<line x1="84.5" y1="1326.9" x2="89.5" y2="1326.9" stroke="#808080" stroke-width="2" />
<line x1="84.5" y1="1424.3" x2="89.5" y2="1424.3" stroke="#808080" stroke-width="2" />
<line x1="279.6" y1="1180.8" x2="289.6" y2="1180.8" stroke="#808080" stroke-width="2" />
<line x1="279.6" y1="1278.2" x2="289.6" y2="1278.2" stroke="#808080" stroke-width="2" />
<line x1="279.6" y1="1375.6" x2="289.6" y2="1375.6" stroke="#808080" stroke-width="2" />
<line x1="284.6" y1="1229.5" x2="289.6" y2="1229.5" stroke="#808080" stroke-width="2" />
<line x1="284.6" y1="1326.9" x2="289.6" y2="1326.9" stroke="#808080" stroke-width="2" />
<line x1="284.6" y1="1424.3" x2="289.6" y2="1424.3" stroke="#808080" stroke-width="2" />
<line x1="286.6" y1="1290.7" x2="489.0" y2="1290.7" stroke="#111" stroke-width="1.6" stroke-dasharray="4.5,2.5"/>
<rect x="89.5" y="1171.3" width="399.5" height="261.4000000000001" fill="none" stroke="#808080" stroke-width="2"/>
<line x1="289.6" y1="1171.3" x2="289.6" y2="1432.7" stroke="#707070" stroke-width="2" />
<line x1="103.3" y1="1432.7" x2="103.3" y2="1442.7" stroke="#808080" stroke-width="2" />
<line x1="189.3" y1="1432.7" x2="189.3" y2="1442.7" stroke="#808080" stroke-width="2" />
<line x1="275.0" y1="1432.7" x2="275.0" y2="1442.7" stroke="#808080" stroke-width="2" />
<line x1="146.7" y1="1432.7" x2="146.7" y2="1438.7" stroke="#808080" stroke-width="2" />
<line x1="231.7" y1="1432.7" x2="231.7" y2="1438.7" stroke="#808080" stroke-width="2" />
<line x1="321.0" y1="1432.7" x2="321.0" y2="1442.7" stroke="#808080" stroke-width="2" />
<line x1="385.7" y1="1432.7" x2="385.7" y2="1442.7" stroke="#808080" stroke-width="2" />
<line x1="450.7" y1="1432.7" x2="450.7" y2="1442.7" stroke="#808080" stroke-width="2" />
<line x1="353.3" y1="1432.7" x2="353.3" y2="1438.7" stroke="#808080" stroke-width="2" />
<line x1="418.3" y1="1432.7" x2="418.3" y2="1438.7" stroke="#808080" stroke-width="2" />
<line x1="483.3" y1="1432.7" x2="483.3" y2="1438.7" stroke="#808080" stroke-width="2" />
<text x="113.8" y="1467.7" font-size="28" text-anchor="middle">0.8M</text>
<text x="194.2" y="1467.7" font-size="28" text-anchor="middle">0.9M</text>
<text x="274.2" y="1467.7" font-size="28" text-anchor="middle">1.0M</text>
<text x="325.3" y="1467.7" font-size="28" text-anchor="middle">0</text>
<text x="390.3" y="1467.7" font-size="28" text-anchor="middle">0.5</text>
<text x="454.7" y="1467.7" font-size="28" text-anchor="middle">1.0</text>
<text x="81.7" y="1199.1" font-size="28" text-anchor="end">260</text>
<text x="81.7" y="1296.5" font-size="28" text-anchor="end">240</text>
<text x="81.7" y="1393.9" font-size="28" text-anchor="end">220</text>
<text x="26.0" y="1333.4" font-size="28.4" text-anchor="middle" transform="rotate(-90 26.0 1333.4)">A-O distance <tspan font-style="italic">d</tspan><tspan font-size="20.5" dy="7">AO</tspan><tspan dy="-7"> (pm)</tspan></text>
<text x="81.7" y="1496.7" font-size="28.6">A-site intensity <tspan font-style="italic">I</tspan><tspan font-size="20.5" dy="7">A</tspan></text>
<text x="343.3" y="1496.7" font-size="28.2">DP (rad)</text>
<text x="480.5" y="1198.3" font-size="23" text-anchor="end">A-O2 (+)</text>
<text x="477.5" y="1423.3" font-size="23" text-anchor="end">A-O2 (-)</text>
<clipPath id="cl12"><rect x="592.7" y="1172.7" width="198.0" height="259.29999999999995"/></clipPath>
<g clip-path="url(#cl12)">
<path d="M770.2,1276.9 C769.9,1281.5 767.7,1286.4 763.7,1290.1 C759.8,1293.8 753.1,1297.1 746.3,1299.4 C739.6,1301.7 731.3,1303.4 723.2,1304.1 C715.1,1304.8 706.3,1304.1 697.6,1303.4 C689.0,1302.7 679.3,1302.2 671.5,1300.0 C663.7,1297.7 656.8,1293.6 650.8,1289.8 C644.9,1286.0 638.6,1281.6 635.8,1277.2 C633.0,1272.8 633.6,1267.8 634.0,1263.3 C634.5,1258.7 634.8,1253.7 638.5,1250.0 C642.2,1246.3 649.9,1243.7 656.5,1241.1 C663.0,1238.5 669.8,1235.5 677.8,1234.4 C685.8,1233.3 695.9,1233.5 704.6,1234.5 C713.2,1235.6 722.1,1238.0 729.9,1240.6 C737.7,1243.2 745.5,1246.4 751.5,1250.1 C757.4,1253.8 762.6,1258.4 765.8,1262.8 C768.9,1267.3 770.6,1272.4 770.2,1276.9 Z" fill="#fbfbb0" fill-opacity="0.9" filter="url(#blur4)"/>
<path d="M759.0,1276.4 C758.6,1279.6 756.0,1282.7 753.2,1285.6 C750.4,1288.4 747.4,1291.7 742.3,1293.4 C737.3,1295.2 729.6,1295.5 722.9,1296.1 C716.3,1296.7 709.2,1297.5 702.4,1296.9 C695.6,1296.4 688.0,1294.6 681.9,1292.6 C675.8,1290.6 670.7,1287.7 665.9,1284.9 C661.2,1282.1 655.7,1279.0 653.4,1275.8 C651.1,1272.6 651.9,1269.0 652.3,1265.7 C652.7,1262.4 652.8,1258.8 655.7,1256.1 C658.5,1253.4 664.2,1251.3 669.4,1249.6 C674.6,1247.9 680.7,1246.6 687.1,1245.8 C693.4,1245.1 700.6,1244.8 707.6,1245.3 C714.6,1245.7 722.8,1246.7 729.0,1248.6 C735.1,1250.6 739.9,1254.1 744.3,1257.0 C748.7,1260.0 753.0,1263.0 755.4,1266.3 C757.9,1269.5 759.3,1273.2 759.0,1276.4 Z" fill="#f4f040" fill-opacity="0.85" filter="url(#blur3)"/>
<path d="M748.9,1276.1 C749.0,1278.6 749.5,1281.6 747.3,1283.5 C745.0,1285.5 739.5,1286.5 735.4,1287.8 C731.2,1289.2 727.3,1291.0 722.5,1291.4 C717.6,1291.8 711.5,1290.9 706.2,1290.3 C700.9,1289.6 695.7,1288.8 690.6,1287.5 C685.6,1286.3 679.4,1284.9 675.9,1282.8 C672.4,1280.8 671.3,1277.8 669.6,1275.3 C667.9,1272.8 665.6,1270.2 665.7,1267.8 C665.8,1265.4 667.9,1262.9 670.2,1260.9 C672.6,1258.9 676.0,1257.1 679.9,1255.7 C683.8,1254.4 688.8,1253.3 693.8,1252.9 C698.8,1252.6 704.4,1253.1 709.9,1253.6 C715.3,1254.0 721.5,1254.3 726.2,1255.7 C730.9,1257.1 734.5,1259.8 737.9,1261.9 C741.3,1264.1 744.7,1266.4 746.5,1268.7 C748.3,1271.1 748.7,1273.6 748.9,1276.1 Z" fill="#d86020" fill-opacity="0.55" filter="url(#blur2)"/>
<mask id="mk12"><path d="M749.7,1276.2 C749.4,1278.9 747.4,1281.7 744.5,1283.9 C741.5,1286.0 736.7,1287.5 731.9,1288.9 C727.1,1290.2 721.4,1291.9 715.7,1291.9 C709.9,1291.9 703.2,1290.1 697.3,1288.8 C691.4,1287.5 685.3,1286.2 680.5,1284.2 C675.6,1282.1 670.4,1279.3 668.3,1276.6 C666.2,1273.9 667.2,1270.7 667.6,1267.9 C668.1,1265.2 668.4,1262.2 671.0,1260.0 C673.6,1257.7 678.2,1255.5 683.2,1254.4 C688.2,1253.3 694.8,1253.3 700.8,1253.3 C706.8,1253.4 713.2,1253.6 719.0,1254.7 C724.9,1255.7 731.4,1257.5 736.0,1259.6 C740.5,1261.8 744.0,1264.8 746.3,1267.6 C748.6,1270.3 750.0,1273.5 749.7,1276.2 Z" fill="#fff" filter="url(#blur2)"/></mask>
<path d="M749.7,1276.2 C749.4,1278.9 747.4,1281.7 744.5,1283.9 C741.5,1286.0 736.7,1287.5 731.9,1288.9 C727.1,1290.2 721.4,1291.9 715.7,1291.9 C709.9,1291.9 703.2,1290.1 697.3,1288.8 C691.4,1287.5 685.3,1286.2 680.5,1284.2 C675.6,1282.1 670.4,1279.3 668.3,1276.6 C666.2,1273.9 667.2,1270.7 667.6,1267.9 C668.1,1265.2 668.4,1262.2 671.0,1260.0 C673.6,1257.7 678.2,1255.5 683.2,1254.4 C688.2,1253.3 694.8,1253.3 700.8,1253.3 C706.8,1253.4 713.2,1253.6 719.0,1254.7 C724.9,1255.7 731.4,1257.5 736.0,1259.6 C740.5,1261.8 744.0,1264.8 746.3,1267.6 C748.6,1270.3 750.0,1273.5 749.7,1276.2 Z" fill="#c05030" fill-opacity="0.85" filter="url(#blur2)"/>
<rect x="592.7" y="1172.7" width="198.0" height="259.29999999999995" fill="url(#pt)" fill-opacity="1.0" mask="url(#mk12)"/>
<g class="pc"><circle cx="661" cy="1294"/><circle cx="678" cy="1254"/><circle cx="709" cy="1272"/><circle cx="730" cy="1271"/><circle cx="718" cy="1264"/><circle cx="707" cy="1278"/><circle cx="680" cy="1243"/><circle cx="617" cy="1273"/><circle cx="745" cy="1280"/><circle cx="649" cy="1268"/><circle cx="706" cy="1240"/><circle cx="707" cy="1258"/><circle cx="663" cy="1290"/><circle cx="753" cy="1258"/><circle cx="714" cy="1241"/><circle cx="737" cy="1255"/><circle cx="684" cy="1250"/><circle cx="657" cy="1269"/><circle cx="651" cy="1258"/><circle cx="715" cy="1256"/><circle cx="692" cy="1301"/><circle cx="695" cy="1276"/><circle cx="664" cy="1258"/><circle cx="743" cy="1248"/><circle cx="743" cy="1256"/><circle cx="692" cy="1267"/><circle cx="721" cy="1261"/><circle cx="666" cy="1292"/><circle cx="695" cy="1262"/><circle cx="666" cy="1263"/><circle cx="737" cy="1284"/><circle cx="701" cy="1275"/><circle cx="702" cy="1253"/><circle cx="692" cy="1285"/><circle cx="722" cy="1254"/><circle cx="750" cy="1292"/><circle cx="680" cy="1246"/><circle cx="695" cy="1266"/><circle cx="739" cy="1249"/><circle cx="687" cy="1299"/><circle cx="726" cy="1296"/><circle cx="726" cy="1271"/><circle cx="719" cy="1306"/><circle cx="711" cy="1277"/><circle cx="745" cy="1295"/><circle cx="695" cy="1293"/><circle cx="655" cy="1245"/><circle cx="671" cy="1242"/><circle cx="659" cy="1287"/><circle cx="734" cy="1277"/><circle cx="740" cy="1262"/><circle cx="681" cy="1269"/><circle cx="735" cy="1251"/><circle cx="733" cy="1300"/><circle cx="625" cy="1308"/><circle cx="656" cy="1276"/><circle cx="752" cy="1259"/><circle cx="704" cy="1261"/><circle cx="715" cy="1261"/><circle cx="673" cy="1244"/><circle cx="756" cy="1275"/><circle cx="746" cy="1290"/><circle cx="762" cy="1273"/><circle cx="697" cy="1280"/><circle cx="641" cy="1277"/><circle cx="671" cy="1283"/><circle cx="653" cy="1255"/><circle cx="672" cy="1261"/><circle cx="680" cy="1287"/><circle cx="706" cy="1273"/><circle cx="649" cy="1266"/><circle cx="758" cy="1271"/><circle cx="642" cy="1265"/><circle cx="706" cy="1256"/><circle cx="665" cy="1292"/><circle cx="725" cy="1251"/><circle cx="717" cy="1265"/><circle cx="722" cy="1274"/><circle cx="690" cy="1272"/><circle cx="726" cy="1249"/><circle cx="745" cy="1274"/><circle cx="647" cy="1280"/><circle cx="711" cy="1265"/><circle cx="661" cy="1266"/><circle cx="714" cy="1290"/><circle cx="670" cy="1290"/><circle cx="718" cy="1273"/><circle cx="710" cy="1297"/><circle cx="689" cy="1283"/><circle cx="726" cy="1262"/><circle cx="721" cy="1260"/><circle cx="724" cy="1318"/><circle cx="701" cy="1272"/><circle cx="702" cy="1286"/><circle cx="678" cy="1279"/><circle cx="628" cy="1256"/><circle cx="735" cy="1283"/><circle cx="682" cy="1251"/><circle cx="672" cy="1265"/><circle cx="656" cy="1256"/><circle cx="625" cy="1274"/><circle cx="706" cy="1288"/><circle cx="677" cy="1276"/><circle cx="745" cy="1295"/><circle cx="734" cy="1318"/><circle cx="660" cy="1279"/><circle cx="681" cy="1297"/><circle cx="729" cy="1253"/><circle cx="683" cy="1301"/><circle cx="678" cy="1259"/><circle cx="715" cy="1270"/><circle cx="703" cy="1283"/><circle cx="682" cy="1244"/><circle cx="685" cy="1322"/><circle cx="661" cy="1262"/><circle cx="718" cy="1274"/><circle cx="672" cy="1287"/><circle cx="754" cy="1275"/><circle cx="747" cy="1257"/><circle cx="672" cy="1241"/><circle cx="749" cy="1268"/><circle cx="704" cy="1289"/><circle cx="747" cy="1261"/><circle cx="714" cy="1241"/><circle cx="675" cy="1269"/><circle cx="713" cy="1264"/><circle cx="717" cy="1290"/><circle cx="730" cy="1250"/><circle cx="723" cy="1295"/><circle cx="636" cy="1261"/><circle cx="675" cy="1291"/><circle cx="666" cy="1289"/><circle cx="726" cy="1252"/><circle cx="748" cy="1280"/><circle cx="664" cy="1296"/><circle cx="760" cy="1275"/><circle cx="732" cy="1282"/><circle cx="744" cy="1283"/><circle cx="684" cy="1275"/><circle cx="729" cy="1280"/><circle cx="705" cy="1271"/><circle cx="745" cy="1278"/><circle cx="663" cy="1295"/><circle cx="717" cy="1267"/><circle cx="651" cy="1285"/><circle cx="704" cy="1257"/><circle cx="708" cy="1282"/><circle cx="718" cy="1278"/><circle cx="708" cy="1257"/><circle cx="681" cy="1290"/><circle cx="735" cy="1271"/><circle cx="759" cy="1285"/><circle cx="733" cy="1253"/><circle cx="691" cy="1251"/><circle cx="684" cy="1306"/><circle cx="706" cy="1284"/><circle cx="740" cy="1260"/><circle cx="733" cy="1231"/><circle cx="691" cy="1276"/><circle cx="673" cy="1240"/><circle cx="683" cy="1266"/><circle cx="670" cy="1283"/><circle cx="761" cy="1312"/><circle cx="692" cy="1273"/><circle cx="719" cy="1268"/><circle cx="695" cy="1285"/><circle cx="729" cy="1300"/><circle cx="712" cy="1260"/><circle cx="692" cy="1293"/><circle cx="679" cy="1270"/><circle cx="675" cy="1246"/><circle cx="672" cy="1267"/><circle cx="682" cy="1246"/><circle cx="694" cy="1294"/><circle cx="715" cy="1240"/><circle cx="696" cy="1241"/><circle cx="722" cy="1251"/><circle cx="658" cy="1243"/><circle cx="728" cy="1276"/><circle cx="676" cy="1268"/><circle cx="642" cy="1252"/><circle cx="756" cy="1266"/><circle cx="658" cy="1278"/><circle cx="742" cy="1281"/><circle cx="663" cy="1235"/><circle cx="674" cy="1289"/><circle cx="738" cy="1250"/><circle cx="722" cy="1256"/><circle cx="666" cy="1276"/><circle cx="730" cy="1275"/><circle cx="685" cy="1236"/><circle cx="674" cy="1254"/><circle cx="657" cy="1285"/><circle cx="628" cy="1227"/><circle cx="755" cy="1258"/><circle cx="682" cy="1288"/><circle cx="730" cy="1298"/><circle cx="715" cy="1269"/><circle cx="703" cy="1241"/><circle cx="771" cy="1258"/><circle cx="672" cy="1254"/><circle cx="704" cy="1296"/><circle cx="677" cy="1268"/><circle cx="709" cy="1247"/><circle cx="706" cy="1260"/><circle cx="694" cy="1270"/><circle cx="710" cy="1293"/><circle cx="710" cy="1277"/><circle cx="727" cy="1264"/><circle cx="673" cy="1260"/><circle cx="683" cy="1248"/><circle cx="720" cy="1281"/><circle cx="649" cy="1255"/><circle cx="739" cy="1269"/><circle cx="661" cy="1295"/><circle cx="662" cy="1270"/><circle cx="744" cy="1276"/><circle cx="745" cy="1284"/><circle cx="715" cy="1285"/><circle cx="696" cy="1244"/><circle cx="709" cy="1302"/><circle cx="648" cy="1283"/><circle cx="722" cy="1259"/><circle cx="662" cy="1263"/><circle cx="736" cy="1296"/><circle cx="718" cy="1257"/><circle cx="722" cy="1286"/><circle cx="636" cy="1281"/><circle cx="703" cy="1258"/><circle cx="714" cy="1285"/><circle cx="661" cy="1281"/><circle cx="695" cy="1282"/><circle cx="699" cy="1241"/><circle cx="740" cy="1291"/><circle cx="657" cy="1266"/><circle cx="685" cy="1276"/><circle cx="668" cy="1288"/><circle cx="691" cy="1261"/><circle cx="693" cy="1253"/><circle cx="681" cy="1251"/><circle cx="666" cy="1244"/><circle cx="659" cy="1288"/><circle cx="716" cy="1282"/><circle cx="713" cy="1261"/><circle cx="716" cy="1289"/><circle cx="688" cy="1293"/><circle cx="755" cy="1283"/><circle cx="720" cy="1303"/><circle cx="674" cy="1302"/><circle cx="678" cy="1271"/><circle cx="734" cy="1269"/><circle cx="674" cy="1277"/><circle cx="659" cy="1259"/><circle cx="649" cy="1256"/><circle cx="655" cy="1255"/><circle cx="730" cy="1275"/><circle cx="746" cy="1281"/><circle cx="711" cy="1263"/><circle cx="641" cy="1308"/><circle cx="716" cy="1249"/><circle cx="717" cy="1314"/><circle cx="693" cy="1279"/><circle cx="718" cy="1265"/><circle cx="711" cy="1238"/><circle cx="643" cy="1263"/><circle cx="696" cy="1269"/><circle cx="692" cy="1259"/><circle cx="717" cy="1294"/><circle cx="739" cy="1278"/><circle cx="768" cy="1278"/><circle cx="704" cy="1297"/><circle cx="680" cy="1273"/><circle cx="770" cy="1268"/><circle cx="719" cy="1255"/><circle cx="733" cy="1287"/><circle cx="661" cy="1257"/><circle cx="691" cy="1247"/><circle cx="719" cy="1275"/><circle cx="661" cy="1294"/><circle cx="652" cy="1231"/><circle cx="676" cy="1286"/><circle cx="700" cy="1236"/><circle cx="679" cy="1245"/><circle cx="741" cy="1268"/><circle cx="666" cy="1259"/><circle cx="647" cy="1254"/><circle cx="689" cy="1226"/><circle cx="701" cy="1270"/><circle cx="681" cy="1256"/><circle cx="681" cy="1268"/><circle cx="651" cy="1288"/><circle cx="642" cy="1248"/><circle cx="740" cy="1249"/><circle cx="731" cy="1271"/><circle cx="647" cy="1255"/><circle cx="721" cy="1251"/><circle cx="670" cy="1285"/><circle cx="715" cy="1283"/><circle cx="687" cy="1299"/><circle cx="684" cy="1281"/><circle cx="687" cy="1273"/><circle cx="655" cy="1279"/><circle cx="675" cy="1265"/><circle cx="656" cy="1276"/><circle cx="740" cy="1294"/><circle cx="738" cy="1252"/><circle cx="687" cy="1275"/><circle cx="707" cy="1273"/><circle cx="722" cy="1249"/><circle cx="650" cy="1287"/><circle cx="766" cy="1276"/><circle cx="620" cy="1289"/><circle cx="669" cy="1266"/><circle cx="679" cy="1297"/><circle cx="705" cy="1280"/><circle cx="750" cy="1294"/><circle cx="713" cy="1282"/><circle cx="716" cy="1265"/><circle cx="752" cy="1266"/><circle cx="725" cy="1261"/><circle cx="723" cy="1256"/><circle cx="734" cy="1246"/><circle cx="726" cy="1302"/><circle cx="639" cy="1273"/><circle cx="694" cy="1323"/><circle cx="730" cy="1250"/><circle cx="676" cy="1236"/><circle cx="675" cy="1290"/><circle cx="701" cy="1275"/><circle cx="634" cy="1281"/><circle cx="667" cy="1263"/><circle cx="670" cy="1284"/><circle cx="733" cy="1278"/><circle cx="714" cy="1239"/><circle cx="640" cy="1254"/><circle cx="759" cy="1283"/><circle cx="664" cy="1267"/><circle cx="745" cy="1256"/><circle cx="707" cy="1294"/><circle cx="698" cy="1292"/><circle cx="731" cy="1290"/><circle cx="713" cy="1262"/><circle cx="677" cy="1291"/><circle cx="726" cy="1284"/><circle cx="665" cy="1243"/><circle cx="696" cy="1295"/><circle cx="699" cy="1271"/><circle cx="705" cy="1243"/><circle cx="693" cy="1288"/><circle cx="695" cy="1256"/><circle cx="731" cy="1288"/><circle cx="725" cy="1288"/><circle cx="705" cy="1237"/><circle cx="699" cy="1274"/><circle cx="731" cy="1280"/><circle cx="681" cy="1242"/><circle cx="651" cy="1265"/><circle cx="668" cy="1241"/><circle cx="725" cy="1270"/><circle cx="660" cy="1293"/><circle cx="694" cy="1285"/><circle cx="743" cy="1284"/><circle cx="724" cy="1287"/><circle cx="700" cy="1275"/><circle cx="722" cy="1290"/><circle cx="684" cy="1291"/><circle cx="764" cy="1275"/><circle cx="714" cy="1287"/><circle cx="670" cy="1247"/><circle cx="680" cy="1270"/><circle cx="690" cy="1271"/><circle cx="730" cy="1291"/><circle cx="678" cy="1250"/><circle cx="704" cy="1239"/><circle cx="676" cy="1271"/><circle cx="707" cy="1273"/><circle cx="714" cy="1254"/><circle cx="684" cy="1242"/><circle cx="712" cy="1267"/><circle cx="701" cy="1275"/><circle cx="736" cy="1258"/><circle cx="683" cy="1283"/><circle cx="741" cy="1273"/><circle cx="734" cy="1294"/><circle cx="730" cy="1292"/><circle cx="733" cy="1298"/><circle cx="712" cy="1287"/><circle cx="742" cy="1295"/><circle cx="710" cy="1291"/><circle cx="709" cy="1258"/><circle cx="693" cy="1269"/><circle cx="704" cy="1300"/><circle cx="760" cy="1239"/><circle cx="723" cy="1257"/><circle cx="707" cy="1262"/><circle cx="746" cy="1310"/><circle cx="684" cy="1301"/><circle cx="705" cy="1242"/><circle cx="693" cy="1261"/><circle cx="686" cy="1262"/><circle cx="724" cy="1273"/><circle cx="687" cy="1296"/><circle cx="717" cy="1277"/><circle cx="712" cy="1322"/><circle cx="680" cy="1273"/><circle cx="680" cy="1258"/><circle cx="684" cy="1256"/><circle cx="656" cy="1291"/><circle cx="756" cy="1271"/><circle cx="727" cy="1248"/><circle cx="642" cy="1279"/><circle cx="700" cy="1248"/><circle cx="681" cy="1283"/><circle cx="697" cy="1250"/><circle cx="721" cy="1272"/><circle cx="689" cy="1275"/><circle cx="697" cy="1272"/><circle cx="736" cy="1262"/><circle cx="668" cy="1262"/><circle cx="698" cy="1256"/><circle cx="709" cy="1269"/><circle cx="653" cy="1260"/><circle cx="646" cy="1251"/><circle cx="700" cy="1289"/><circle cx="718" cy="1302"/><circle cx="702" cy="1280"/><circle cx="710" cy="1253"/><circle cx="751" cy="1242"/><circle cx="693" cy="1237"/><circle cx="752" cy="1260"/><circle cx="715" cy="1286"/><circle cx="716" cy="1271"/><circle cx="745" cy="1286"/><circle cx="644" cy="1276"/><circle cx="652" cy="1282"/><circle cx="726" cy="1288"/><circle cx="756" cy="1285"/><circle cx="734" cy="1253"/><circle cx="648" cy="1257"/><circle cx="650" cy="1279"/><circle cx="736" cy="1255"/><circle cx="637" cy="1267"/><circle cx="665" cy="1288"/><circle cx="751" cy="1272"/><circle cx="742" cy="1277"/><circle cx="675" cy="1242"/><circle cx="711" cy="1273"/><circle cx="731" cy="1286"/><circle cx="646" cy="1281"/><circle cx="694" cy="1252"/></g>
<path d="M758.6,1276.5 C758.3,1280.8 755.1,1285.4 750.3,1288.8 C745.5,1292.1 737.9,1295.4 729.8,1296.8 C721.6,1298.1 710.6,1297.8 701.4,1296.8 C692.2,1295.8 682.1,1293.6 674.4,1290.7 C666.6,1287.7 659.1,1283.4 655.1,1279.2 C651.0,1275.0 649.8,1269.9 650.3,1265.6 C650.8,1261.3 653.1,1256.6 657.9,1253.3 C662.6,1250.0 670.6,1247.1 678.7,1245.7 C686.8,1244.2 697.6,1243.6 706.6,1244.7 C715.7,1245.7 725.3,1248.8 732.9,1251.8 C740.5,1254.9 747.8,1258.8 752.1,1262.9 C756.4,1267.0 758.9,1272.2 758.6,1276.5 Z" fill="none" stroke="#4a4a2a" stroke-width="0.8"/>
</g>
<clipPath id="cl13"><rect x="792.7" y="1172.7" width="198.0" height="259.29999999999995"/></clipPath>
<g clip-path="url(#cl13)">
<path d="M825.0,1425.0 C819.2,1395.3 823.8,1287.5 825.0,1250.0 C826.2,1212.5 827.8,1210.0 832.0,1200.0 C836.2,1190.0 843.7,1188.3 850.0,1190.0 C856.3,1191.7 863.3,1196.7 870.0,1210.0 C876.7,1223.3 885.5,1246.7 890.0,1270.0 C894.5,1293.3 897.5,1327.5 897.0,1350.0 C896.5,1372.5 893.2,1392.0 887.0,1405.0 C880.8,1418.0 870.3,1424.7 860.0,1428.0 C849.7,1431.3 830.8,1454.7 825.0,1425.0 Z" fill="#d4d4ff" fill-opacity="0.9" filter="url(#blur3)"/>
<path d="M824.3,1429.6 C820.9,1407.2 821.9,1333.6 821.9,1300.0 C821.9,1266.4 822.7,1245.6 824.3,1228.0 C825.9,1210.4 828.1,1201.6 831.5,1194.4 C834.9,1187.2 840.5,1184.2 844.7,1184.8 C848.9,1185.4 852.9,1188.8 856.7,1198.0 C860.5,1207.2 865.1,1223.0 867.5,1240.0 C869.9,1257.0 871.1,1278.0 871.1,1300.0 C871.1,1322.0 869.7,1352.0 867.5,1372.0 C865.3,1392.0 862.1,1409.6 857.9,1420.0 C853.7,1430.4 847.9,1432.8 842.3,1434.4 C836.7,1436.0 827.7,1452.0 824.3,1429.6 Z" fill="#7070ff" fill-opacity="0.6" filter="url(#blur3)"/>
<mask id="mk13"><path d="M828.0,1408.0 C825.2,1389.3 826.0,1328.0 826.0,1300.0 C826.0,1272.0 826.7,1254.7 828.0,1240.0 C829.3,1225.3 831.2,1218.0 834.0,1212.0 C836.8,1206.0 841.5,1203.5 845.0,1204.0 C848.5,1204.5 851.8,1207.3 855.0,1215.0 C858.2,1222.7 862.0,1235.8 864.0,1250.0 C866.0,1264.2 867.0,1281.7 867.0,1300.0 C867.0,1318.3 865.8,1343.3 864.0,1360.0 C862.2,1376.7 859.5,1391.3 856.0,1400.0 C852.5,1408.7 847.7,1410.7 843.0,1412.0 C838.3,1413.3 830.8,1426.7 828.0,1408.0 Z" fill="#fff" filter="url(#blur2)"/></mask>
<path d="M828.0,1408.0 C825.2,1389.3 826.0,1328.0 826.0,1300.0 C826.0,1272.0 826.7,1254.7 828.0,1240.0 C829.3,1225.3 831.2,1218.0 834.0,1212.0 C836.8,1206.0 841.5,1203.5 845.0,1204.0 C848.5,1204.5 851.8,1207.3 855.0,1215.0 C858.2,1222.7 862.0,1235.8 864.0,1250.0 C866.0,1264.2 867.0,1281.7 867.0,1300.0 C867.0,1318.3 865.8,1343.3 864.0,1360.0 C862.2,1376.7 859.5,1391.3 856.0,1400.0 C852.5,1408.7 847.7,1410.7 843.0,1412.0 C838.3,1413.3 830.8,1426.7 828.0,1408.0 Z" fill="#2a2ad0" fill-opacity="0.85" filter="url(#blur2)"/>
<g class="pc"><circle cx="827" cy="1266"/><circle cx="841" cy="1323"/><circle cx="842" cy="1358"/><circle cx="881" cy="1350"/><circle cx="840" cy="1392"/><circle cx="850" cy="1339"/><circle cx="828" cy="1256"/><circle cx="857" cy="1286"/><circle cx="827" cy="1281"/><circle cx="844" cy="1241"/><circle cx="877" cy="1340"/><circle cx="841" cy="1345"/><circle cx="840" cy="1230"/><circle cx="833" cy="1400"/><circle cx="834" cy="1313"/><circle cx="845" cy="1292"/><circle cx="844" cy="1211"/><circle cx="840" cy="1335"/><circle cx="851" cy="1366"/><circle cx="856" cy="1337"/><circle cx="863" cy="1216"/><circle cx="834" cy="1391"/><circle cx="861" cy="1318"/><circle cx="844" cy="1233"/><circle cx="839" cy="1276"/><circle cx="842" cy="1233"/><circle cx="827" cy="1296"/><circle cx="837" cy="1223"/><circle cx="874" cy="1296"/><circle cx="833" cy="1332"/><circle cx="869" cy="1216"/><circle cx="851" cy="1368"/><circle cx="838" cy="1273"/><circle cx="985" cy="1200"/><circle cx="846" cy="1266"/><circle cx="839" cy="1346"/><circle cx="832" cy="1234"/><circle cx="842" cy="1346"/><circle cx="843" cy="1341"/><circle cx="843" cy="1405"/><circle cx="847" cy="1250"/><circle cx="847" cy="1250"/><circle cx="831" cy="1330"/><circle cx="869" cy="1259"/><circle cx="863" cy="1263"/><circle cx="865" cy="1290"/><circle cx="846" cy="1384"/><circle cx="854" cy="1322"/><circle cx="851" cy="1317"/><circle cx="844" cy="1290"/><circle cx="847" cy="1429"/><circle cx="887" cy="1228"/><circle cx="839" cy="1379"/><circle cx="840" cy="1307"/><circle cx="835" cy="1401"/><circle cx="831" cy="1323"/><circle cx="854" cy="1350"/><circle cx="851" cy="1344"/><circle cx="836" cy="1266"/><circle cx="831" cy="1339"/><circle cx="847" cy="1309"/><circle cx="854" cy="1283"/><circle cx="847" cy="1330"/><circle cx="823" cy="1217"/><circle cx="839" cy="1265"/><circle cx="833" cy="1273"/><circle cx="852" cy="1365"/><circle cx="830" cy="1349"/><circle cx="851" cy="1267"/><circle cx="846" cy="1286"/><circle cx="842" cy="1246"/><circle cx="848" cy="1364"/><circle cx="843" cy="1343"/><circle cx="842" cy="1325"/><circle cx="851" cy="1386"/><circle cx="849" cy="1335"/><circle cx="836" cy="1256"/><circle cx="870" cy="1316"/><circle cx="836" cy="1243"/><circle cx="828" cy="1281"/><circle cx="864" cy="1340"/><circle cx="832" cy="1301"/><circle cx="857" cy="1320"/><circle cx="830" cy="1401"/><circle cx="859" cy="1361"/><circle cx="839" cy="1398"/><circle cx="844" cy="1357"/><circle cx="836" cy="1377"/><circle cx="833" cy="1311"/><circle cx="843" cy="1276"/><circle cx="850" cy="1253"/><circle cx="866" cy="1307"/><circle cx="846" cy="1237"/><circle cx="861" cy="1326"/><circle cx="882" cy="1318"/><circle cx="851" cy="1352"/><circle cx="840" cy="1323"/><circle cx="851" cy="1285"/><circle cx="851" cy="1237"/><circle cx="823" cy="1354"/><circle cx="843" cy="1226"/><circle cx="831" cy="1231"/><circle cx="832" cy="1380"/><circle cx="863" cy="1251"/><circle cx="858" cy="1375"/><circle cx="832" cy="1242"/><circle cx="855" cy="1318"/><circle cx="859" cy="1378"/><circle cx="836" cy="1217"/><circle cx="844" cy="1241"/><circle cx="826" cy="1336"/><circle cx="861" cy="1321"/><circle cx="849" cy="1381"/><circle cx="843" cy="1245"/><circle cx="848" cy="1310"/><circle cx="831" cy="1331"/><circle cx="831" cy="1277"/><circle cx="846" cy="1273"/><circle cx="843" cy="1234"/><circle cx="841" cy="1327"/><circle cx="854" cy="1276"/><circle cx="837" cy="1351"/><circle cx="840" cy="1378"/><circle cx="868" cy="1204"/><circle cx="854" cy="1266"/><circle cx="833" cy="1246"/><circle cx="867" cy="1301"/><circle cx="844" cy="1380"/><circle cx="842" cy="1252"/><circle cx="847" cy="1250"/><circle cx="833" cy="1319"/><circle cx="932" cy="1408"/><circle cx="846" cy="1325"/><circle cx="834" cy="1395"/><circle cx="850" cy="1226"/><circle cx="830" cy="1300"/><circle cx="829" cy="1268"/><circle cx="846" cy="1316"/><circle cx="859" cy="1310"/><circle cx="831" cy="1239"/><circle cx="959" cy="1304"/><circle cx="847" cy="1320"/><circle cx="937" cy="1274"/><circle cx="857" cy="1350"/><circle cx="828" cy="1402"/><circle cx="851" cy="1363"/><circle cx="848" cy="1243"/><circle cx="843" cy="1412"/><circle cx="879" cy="1342"/><circle cx="834" cy="1329"/><circle cx="826" cy="1321"/><circle cx="853" cy="1341"/><circle cx="848" cy="1229"/><circle cx="852" cy="1295"/><circle cx="839" cy="1263"/><circle cx="838" cy="1235"/><circle cx="848" cy="1313"/><circle cx="846" cy="1329"/><circle cx="847" cy="1261"/><circle cx="827" cy="1259"/><circle cx="842" cy="1378"/><circle cx="831" cy="1327"/><circle cx="853" cy="1362"/><circle cx="847" cy="1255"/><circle cx="855" cy="1259"/><circle cx="844" cy="1248"/><circle cx="836" cy="1341"/><circle cx="842" cy="1322"/><circle cx="846" cy="1220"/><circle cx="847" cy="1199"/><circle cx="827" cy="1298"/><circle cx="842" cy="1325"/><circle cx="861" cy="1348"/><circle cx="854" cy="1355"/><circle cx="837" cy="1316"/><circle cx="916" cy="1186"/><circle cx="852" cy="1273"/><circle cx="838" cy="1328"/><circle cx="853" cy="1303"/><circle cx="864" cy="1281"/><circle cx="890" cy="1315"/><circle cx="830" cy="1270"/><circle cx="835" cy="1293"/><circle cx="842" cy="1357"/><circle cx="858" cy="1251"/><circle cx="835" cy="1236"/><circle cx="839" cy="1228"/><circle cx="851" cy="1253"/><circle cx="851" cy="1313"/><circle cx="856" cy="1336"/><circle cx="851" cy="1262"/><circle cx="847" cy="1220"/><circle cx="846" cy="1254"/><circle cx="854" cy="1298"/><circle cx="844" cy="1282"/><circle cx="841" cy="1377"/><circle cx="840" cy="1239"/><circle cx="855" cy="1343"/><circle cx="848" cy="1333"/><circle cx="842" cy="1303"/><circle cx="848" cy="1360"/><circle cx="835" cy="1252"/><circle cx="862" cy="1371"/><circle cx="831" cy="1392"/><circle cx="866" cy="1316"/><circle cx="848" cy="1235"/><circle cx="826" cy="1301"/><circle cx="851" cy="1350"/><circle cx="878" cy="1308"/><circle cx="839" cy="1279"/><circle cx="849" cy="1276"/><circle cx="853" cy="1300"/><circle cx="829" cy="1407"/><circle cx="861" cy="1209"/><circle cx="868" cy="1403"/><circle cx="845" cy="1287"/><circle cx="828" cy="1306"/><circle cx="832" cy="1370"/><circle cx="836" cy="1291"/><circle cx="842" cy="1352"/><circle cx="863" cy="1300"/><circle cx="841" cy="1287"/><circle cx="859" cy="1322"/><circle cx="837" cy="1358"/><circle cx="846" cy="1398"/><circle cx="883" cy="1345"/><circle cx="847" cy="1372"/><circle cx="863" cy="1210"/><circle cx="846" cy="1235"/><circle cx="851" cy="1216"/><circle cx="854" cy="1350"/><circle cx="867" cy="1259"/><circle cx="851" cy="1403"/><circle cx="844" cy="1241"/><circle cx="836" cy="1335"/><circle cx="856" cy="1302"/><circle cx="830" cy="1383"/><circle cx="847" cy="1349"/><circle cx="830" cy="1282"/><circle cx="856" cy="1346"/><circle cx="832" cy="1323"/><circle cx="833" cy="1328"/><circle cx="846" cy="1291"/><circle cx="833" cy="1332"/><circle cx="834" cy="1225"/><circle cx="833" cy="1340"/><circle cx="831" cy="1358"/><circle cx="845" cy="1323"/><circle cx="854" cy="1261"/><circle cx="833" cy="1382"/><circle cx="835" cy="1388"/><circle cx="842" cy="1338"/><circle cx="831" cy="1384"/><circle cx="832" cy="1284"/><circle cx="838" cy="1220"/><circle cx="875" cy="1363"/><circle cx="852" cy="1385"/><circle cx="839" cy="1364"/><circle cx="856" cy="1372"/><circle cx="845" cy="1292"/><circle cx="848" cy="1253"/><circle cx="861" cy="1296"/><circle cx="837" cy="1387"/><circle cx="855" cy="1353"/><circle cx="862" cy="1276"/><circle cx="841" cy="1403"/><circle cx="848" cy="1333"/><circle cx="843" cy="1308"/><circle cx="843" cy="1294"/><circle cx="824" cy="1232"/><circle cx="846" cy="1371"/><circle cx="842" cy="1270"/><circle cx="842" cy="1265"/><circle cx="859" cy="1241"/><circle cx="859" cy="1262"/><circle cx="845" cy="1349"/><circle cx="837" cy="1353"/><circle cx="847" cy="1368"/><circle cx="859" cy="1285"/><circle cx="827" cy="1308"/><circle cx="839" cy="1377"/><circle cx="849" cy="1297"/><circle cx="915" cy="1394"/><circle cx="856" cy="1259"/><circle cx="853" cy="1266"/><circle cx="858" cy="1262"/><circle cx="847" cy="1233"/><circle cx="863" cy="1300"/><circle cx="858" cy="1382"/><circle cx="850" cy="1247"/><circle cx="854" cy="1198"/><circle cx="829" cy="1288"/><circle cx="841" cy="1296"/><circle cx="840" cy="1397"/><circle cx="862" cy="1286"/><circle cx="840" cy="1251"/><circle cx="830" cy="1270"/><circle cx="838" cy="1323"/><circle cx="933" cy="1272"/><circle cx="841" cy="1247"/><circle cx="840" cy="1405"/><circle cx="849" cy="1339"/><circle cx="828" cy="1353"/><circle cx="837" cy="1399"/><circle cx="837" cy="1212"/><circle cx="862" cy="1262"/><circle cx="852" cy="1316"/><circle cx="838" cy="1341"/><circle cx="864" cy="1318"/><circle cx="853" cy="1317"/><circle cx="884" cy="1387"/><circle cx="836" cy="1305"/><circle cx="858" cy="1283"/><circle cx="839" cy="1344"/><circle cx="843" cy="1336"/><circle cx="848" cy="1343"/><circle cx="862" cy="1251"/><circle cx="886" cy="1385"/><circle cx="852" cy="1296"/><circle cx="852" cy="1341"/><circle cx="849" cy="1281"/><circle cx="859" cy="1342"/><circle cx="836" cy="1329"/><circle cx="854" cy="1312"/><circle cx="844" cy="1307"/><circle cx="835" cy="1328"/><circle cx="854" cy="1225"/><circle cx="841" cy="1207"/><circle cx="841" cy="1364"/><circle cx="828" cy="1258"/><circle cx="855" cy="1365"/><circle cx="838" cy="1404"/><circle cx="853" cy="1390"/><circle cx="860" cy="1341"/><circle cx="878" cy="1344"/><circle cx="835" cy="1380"/><circle cx="851" cy="1301"/><circle cx="898" cy="1343"/><circle cx="824" cy="1284"/><circle cx="839" cy="1321"/><circle cx="850" cy="1399"/><circle cx="846" cy="1332"/><circle cx="835" cy="1239"/><circle cx="837" cy="1334"/><circle cx="857" cy="1305"/><circle cx="849" cy="1358"/><circle cx="834" cy="1327"/><circle cx="829" cy="1389"/><circle cx="846" cy="1373"/><circle cx="843" cy="1311"/><circle cx="904" cy="1410"/><circle cx="871" cy="1231"/><circle cx="856" cy="1324"/><circle cx="836" cy="1262"/><circle cx="833" cy="1396"/><circle cx="848" cy="1348"/><circle cx="862" cy="1252"/><circle cx="865" cy="1300"/><circle cx="839" cy="1387"/><circle cx="851" cy="1228"/><circle cx="848" cy="1265"/><circle cx="857" cy="1300"/><circle cx="858" cy="1389"/><circle cx="839" cy="1349"/><circle cx="830" cy="1358"/><circle cx="924" cy="1221"/><circle cx="841" cy="1405"/><circle cx="852" cy="1264"/><circle cx="853" cy="1327"/><circle cx="890" cy="1384"/><circle cx="866" cy="1194"/><circle cx="843" cy="1379"/><circle cx="835" cy="1283"/><circle cx="829" cy="1262"/><circle cx="822" cy="1379"/><circle cx="892" cy="1324"/><circle cx="842" cy="1294"/><circle cx="861" cy="1388"/><circle cx="855" cy="1343"/><circle cx="831" cy="1386"/><circle cx="865" cy="1291"/><circle cx="836" cy="1341"/><circle cx="843" cy="1297"/><circle cx="841" cy="1281"/><circle cx="857" cy="1257"/><circle cx="832" cy="1262"/><circle cx="840" cy="1393"/><circle cx="858" cy="1292"/><circle cx="850" cy="1301"/><circle cx="851" cy="1394"/><circle cx="846" cy="1243"/><circle cx="834" cy="1355"/><circle cx="833" cy="1272"/><circle cx="838" cy="1349"/><circle cx="861" cy="1317"/><circle cx="846" cy="1235"/><circle cx="831" cy="1270"/><circle cx="857" cy="1378"/><circle cx="836" cy="1276"/><circle cx="833" cy="1347"/><circle cx="840" cy="1355"/><circle cx="864" cy="1284"/><circle cx="853" cy="1337"/><circle cx="851" cy="1392"/><circle cx="849" cy="1267"/><circle cx="842" cy="1332"/><circle cx="852" cy="1266"/><circle cx="840" cy="1330"/><circle cx="843" cy="1408"/><circle cx="849" cy="1369"/><circle cx="941" cy="1336"/><circle cx="894" cy="1344"/><circle cx="850" cy="1208"/><circle cx="838" cy="1221"/><circle cx="830" cy="1276"/><circle cx="837" cy="1350"/><circle cx="849" cy="1264"/><circle cx="847" cy="1350"/><circle cx="853" cy="1327"/><circle cx="842" cy="1267"/><circle cx="850" cy="1241"/><circle cx="852" cy="1378"/><circle cx="828" cy="1345"/><circle cx="844" cy="1343"/><circle cx="857" cy="1380"/><circle cx="834" cy="1381"/><circle cx="828" cy="1318"/><circle cx="859" cy="1358"/><circle cx="865" cy="1326"/><circle cx="851" cy="1371"/><circle cx="957" cy="1188"/><circle cx="856" cy="1282"/><circle cx="856" cy="1374"/><circle cx="836" cy="1390"/><circle cx="839" cy="1299"/><circle cx="836" cy="1251"/><circle cx="834" cy="1337"/><circle cx="838" cy="1252"/><circle cx="848" cy="1293"/><circle cx="837" cy="1243"/><circle cx="829" cy="1398"/><circle cx="857" cy="1255"/><circle cx="856" cy="1393"/><circle cx="842" cy="1279"/><circle cx="851" cy="1342"/><circle cx="854" cy="1292"/><circle cx="870" cy="1405"/><circle cx="833" cy="1252"/><circle cx="859" cy="1341"/><circle cx="865" cy="1274"/><circle cx="831" cy="1307"/><circle cx="861" cy="1343"/><circle cx="853" cy="1363"/><circle cx="860" cy="1355"/><circle cx="849" cy="1336"/><circle cx="833" cy="1301"/><circle cx="831" cy="1363"/><circle cx="856" cy="1400"/><circle cx="852" cy="1352"/><circle cx="861" cy="1301"/><circle cx="853" cy="1351"/><circle cx="848" cy="1316"/><circle cx="840" cy="1318"/><circle cx="839" cy="1405"/><circle cx="833" cy="1216"/><circle cx="855" cy="1351"/><circle cx="889" cy="1307"/><circle cx="851" cy="1310"/><circle cx="848" cy="1389"/><circle cx="838" cy="1397"/><circle cx="864" cy="1351"/><circle cx="861" cy="1418"/><circle cx="834" cy="1318"/><circle cx="849" cy="1327"/><circle cx="845" cy="1369"/><circle cx="845" cy="1283"/><circle cx="862" cy="1267"/><circle cx="849" cy="1215"/><circle cx="863" cy="1320"/><circle cx="836" cy="1316"/><circle cx="847" cy="1264"/><circle cx="843" cy="1315"/><circle cx="863" cy="1245"/><circle cx="845" cy="1285"/><circle cx="858" cy="1322"/><circle cx="849" cy="1332"/><circle cx="831" cy="1288"/><circle cx="855" cy="1264"/><circle cx="844" cy="1284"/><circle cx="841" cy="1314"/><circle cx="837" cy="1237"/><circle cx="834" cy="1301"/><circle cx="859" cy="1263"/><circle cx="855" cy="1270"/><circle cx="828" cy="1338"/><circle cx="848" cy="1222"/><circle cx="835" cy="1340"/><circle cx="857" cy="1309"/><circle cx="843" cy="1308"/><circle cx="828" cy="1359"/><circle cx="826" cy="1340"/><circle cx="850" cy="1297"/><circle cx="843" cy="1372"/><circle cx="928" cy="1187"/><circle cx="833" cy="1412"/><circle cx="836" cy="1373"/><circle cx="831" cy="1369"/><circle cx="843" cy="1217"/><circle cx="851" cy="1296"/><circle cx="861" cy="1361"/><circle cx="837" cy="1330"/><circle cx="847" cy="1281"/><circle cx="833" cy="1226"/><circle cx="831" cy="1235"/><circle cx="854" cy="1384"/><circle cx="834" cy="1337"/><circle cx="860" cy="1318"/><circle cx="829" cy="1415"/><circle cx="844" cy="1272"/><circle cx="848" cy="1317"/><circle cx="834" cy="1388"/><circle cx="855" cy="1272"/><circle cx="849" cy="1291"/><circle cx="834" cy="1343"/><circle cx="870" cy="1418"/><circle cx="835" cy="1243"/><circle cx="829" cy="1311"/><circle cx="836" cy="1315"/><circle cx="831" cy="1299"/><circle cx="857" cy="1275"/><circle cx="865" cy="1342"/><circle cx="841" cy="1308"/><circle cx="842" cy="1234"/><circle cx="845" cy="1370"/><circle cx="846" cy="1213"/><circle cx="829" cy="1268"/><circle cx="844" cy="1383"/><circle cx="914" cy="1193"/><circle cx="847" cy="1331"/><circle cx="840" cy="1253"/><circle cx="862" cy="1317"/><circle cx="856" cy="1377"/><circle cx="853" cy="1298"/><circle cx="859" cy="1295"/><circle cx="847" cy="1346"/><circle cx="844" cy="1328"/><circle cx="843" cy="1338"/><circle cx="854" cy="1292"/><circle cx="848" cy="1324"/><circle cx="851" cy="1214"/><circle cx="837" cy="1344"/><circle cx="845" cy="1286"/><circle cx="835" cy="1316"/><circle cx="865" cy="1269"/><circle cx="882" cy="1351"/><circle cx="830" cy="1296"/><circle cx="859" cy="1328"/><circle cx="979" cy="1287"/><circle cx="830" cy="1311"/><circle cx="854" cy="1349"/><circle cx="877" cy="1186"/><circle cx="863" cy="1313"/><circle cx="839" cy="1291"/><circle cx="849" cy="1246"/><circle cx="864" cy="1353"/><circle cx="831" cy="1322"/><circle cx="866" cy="1291"/><circle cx="871" cy="1262"/><circle cx="852" cy="1236"/><circle cx="831" cy="1261"/><circle cx="862" cy="1336"/><circle cx="872" cy="1292"/><circle cx="838" cy="1240"/><circle cx="839" cy="1365"/><circle cx="857" cy="1246"/><circle cx="832" cy="1300"/><circle cx="842" cy="1308"/><circle cx="861" cy="1333"/><circle cx="862" cy="1336"/><circle cx="845" cy="1221"/><circle cx="847" cy="1347"/><circle cx="847" cy="1277"/><circle cx="841" cy="1248"/><circle cx="854" cy="1343"/><circle cx="846" cy="1227"/><circle cx="847" cy="1352"/><circle cx="830" cy="1287"/><circle cx="859" cy="1261"/><circle cx="847" cy="1337"/><circle cx="836" cy="1298"/><circle cx="830" cy="1366"/><circle cx="864" cy="1267"/><circle cx="842" cy="1285"/><circle cx="843" cy="1312"/><circle cx="844" cy="1357"/><circle cx="855" cy="1228"/><circle cx="849" cy="1335"/><circle cx="837" cy="1258"/><circle cx="846" cy="1286"/><circle cx="847" cy="1408"/><circle cx="852" cy="1380"/><circle cx="860" cy="1412"/><circle cx="837" cy="1401"/><circle cx="855" cy="1334"/><circle cx="874" cy="1337"/><circle cx="865" cy="1325"/><circle cx="836" cy="1392"/><circle cx="832" cy="1342"/><circle cx="828" cy="1328"/><circle cx="829" cy="1348"/><circle cx="853" cy="1249"/><circle cx="877" cy="1420"/><circle cx="839" cy="1358"/><circle cx="848" cy="1258"/><circle cx="838" cy="1242"/><circle cx="854" cy="1322"/><circle cx="833" cy="1300"/><circle cx="848" cy="1241"/><circle cx="851" cy="1302"/><circle cx="852" cy="1302"/><circle cx="831" cy="1314"/><circle cx="843" cy="1256"/><circle cx="871" cy="1191"/><circle cx="850" cy="1246"/><circle cx="846" cy="1300"/><circle cx="847" cy="1231"/><circle cx="847" cy="1273"/><circle cx="864" cy="1325"/><circle cx="845" cy="1286"/><circle cx="831" cy="1383"/><circle cx="851" cy="1261"/><circle cx="831" cy="1297"/><circle cx="866" cy="1292"/><circle cx="854" cy="1364"/><circle cx="835" cy="1254"/><circle cx="840" cy="1291"/><circle cx="828" cy="1254"/><circle cx="838" cy="1275"/><circle cx="860" cy="1374"/><circle cx="835" cy="1397"/><circle cx="849" cy="1253"/><circle cx="837" cy="1221"/><circle cx="832" cy="1377"/><circle cx="866" cy="1312"/><circle cx="859" cy="1330"/><circle cx="837" cy="1367"/><circle cx="840" cy="1229"/><circle cx="830" cy="1246"/><circle cx="853" cy="1388"/><circle cx="837" cy="1262"/><circle cx="846" cy="1323"/><circle cx="848" cy="1226"/><circle cx="834" cy="1372"/><circle cx="853" cy="1388"/><circle cx="874" cy="1416"/><circle cx="834" cy="1227"/><circle cx="830" cy="1385"/><circle cx="832" cy="1235"/><circle cx="864" cy="1286"/><circle cx="845" cy="1373"/><circle cx="856" cy="1371"/><circle cx="857" cy="1330"/><circle cx="846" cy="1373"/><circle cx="843" cy="1367"/><circle cx="854" cy="1331"/><circle cx="845" cy="1237"/><circle cx="851" cy="1241"/><circle cx="833" cy="1360"/><circle cx="834" cy="1364"/><circle cx="845" cy="1227"/><circle cx="875" cy="1271"/><circle cx="838" cy="1369"/><circle cx="876" cy="1396"/><circle cx="848" cy="1242"/><circle cx="858" cy="1371"/><circle cx="834" cy="1306"/><circle cx="842" cy="1211"/><circle cx="831" cy="1231"/><circle cx="935" cy="1311"/><circle cx="829" cy="1406"/><circle cx="839" cy="1384"/><circle cx="836" cy="1398"/><circle cx="856" cy="1298"/><circle cx="847" cy="1242"/><circle cx="828" cy="1256"/><circle cx="841" cy="1269"/><circle cx="849" cy="1243"/><circle cx="857" cy="1344"/><circle cx="890" cy="1335"/><circle cx="859" cy="1268"/><circle cx="855" cy="1325"/><circle cx="853" cy="1234"/><circle cx="860" cy="1362"/><circle cx="840" cy="1244"/><circle cx="846" cy="1248"/><circle cx="844" cy="1232"/><circle cx="834" cy="1276"/><circle cx="847" cy="1225"/><circle cx="848" cy="1307"/><circle cx="853" cy="1269"/><circle cx="834" cy="1242"/><circle cx="849" cy="1368"/><circle cx="916" cy="1297"/><circle cx="832" cy="1246"/><circle cx="861" cy="1393"/><circle cx="861" cy="1319"/><circle cx="851" cy="1302"/><circle cx="851" cy="1326"/><circle cx="831" cy="1259"/><circle cx="824" cy="1264"/><circle cx="848" cy="1266"/><circle cx="823" cy="1377"/><circle cx="823" cy="1248"/><circle cx="851" cy="1360"/><circle cx="874" cy="1336"/><circle cx="843" cy="1245"/><circle cx="837" cy="1241"/><circle cx="841" cy="1264"/><circle cx="832" cy="1388"/><circle cx="858" cy="1354"/><circle cx="831" cy="1282"/><circle cx="828" cy="1337"/><circle cx="848" cy="1383"/><circle cx="851" cy="1285"/><circle cx="831" cy="1297"/><circle cx="866" cy="1279"/><circle cx="837" cy="1365"/><circle cx="838" cy="1358"/><circle cx="857" cy="1242"/><circle cx="874" cy="1266"/><circle cx="834" cy="1290"/><circle cx="844" cy="1299"/><circle cx="843" cy="1320"/><circle cx="833" cy="1321"/><circle cx="828" cy="1281"/><circle cx="838" cy="1348"/><circle cx="850" cy="1281"/><circle cx="842" cy="1346"/><circle cx="829" cy="1351"/><circle cx="832" cy="1250"/><circle cx="832" cy="1315"/><circle cx="858" cy="1412"/><circle cx="845" cy="1304"/><circle cx="844" cy="1268"/><circle cx="841" cy="1258"/><circle cx="839" cy="1280"/><circle cx="827" cy="1302"/><circle cx="848" cy="1389"/><circle cx="858" cy="1283"/><circle cx="850" cy="1241"/><circle cx="846" cy="1346"/><circle cx="864" cy="1305"/><circle cx="858" cy="1317"/><circle cx="843" cy="1271"/><circle cx="898" cy="1358"/><circle cx="840" cy="1407"/><circle cx="833" cy="1373"/><circle cx="856" cy="1305"/><circle cx="849" cy="1342"/><circle cx="850" cy="1255"/><circle cx="934" cy="1224"/><circle cx="885" cy="1248"/><circle cx="858" cy="1384"/><circle cx="842" cy="1388"/><circle cx="853" cy="1281"/><circle cx="836" cy="1234"/><circle cx="853" cy="1365"/><circle cx="854" cy="1356"/><circle cx="859" cy="1271"/><circle cx="850" cy="1210"/><circle cx="848" cy="1398"/><circle cx="829" cy="1364"/><circle cx="857" cy="1246"/><circle cx="850" cy="1373"/><circle cx="859" cy="1315"/><circle cx="830" cy="1264"/><circle cx="837" cy="1330"/><circle cx="853" cy="1274"/><circle cx="853" cy="1254"/><circle cx="852" cy="1408"/><circle cx="843" cy="1350"/><circle cx="830" cy="1355"/><circle cx="881" cy="1420"/><circle cx="864" cy="1344"/><circle cx="842" cy="1292"/><circle cx="831" cy="1408"/><circle cx="835" cy="1262"/><circle cx="831" cy="1323"/><circle cx="846" cy="1343"/><circle cx="856" cy="1361"/><circle cx="831" cy="1259"/><circle cx="833" cy="1252"/><circle cx="839" cy="1239"/><circle cx="848" cy="1248"/><circle cx="856" cy="1272"/><circle cx="850" cy="1343"/><circle cx="840" cy="1297"/><circle cx="847" cy="1372"/><circle cx="901" cy="1312"/><circle cx="853" cy="1369"/><circle cx="843" cy="1300"/><circle cx="845" cy="1362"/><circle cx="836" cy="1296"/><circle cx="862" cy="1255"/><circle cx="844" cy="1214"/><circle cx="842" cy="1255"/><circle cx="830" cy="1248"/><circle cx="841" cy="1352"/></g>
</g>
<line x1="591.7" y1="1180.9" x2="991.7" y2="1180.9" stroke="#8c8c8c" stroke-width="1" stroke-dasharray="5,3,1.5,3"/>
<line x1="591.7" y1="1278.3" x2="991.7" y2="1278.3" stroke="#8c8c8c" stroke-width="1" stroke-dasharray="5,3,1.5,3"/>
<line x1="591.7" y1="1375.7" x2="991.7" y2="1375.7" stroke="#8c8c8c" stroke-width="1" stroke-dasharray="5,3,1.5,3"/>
<line x1="581.7" y1="1180.9" x2="591.7" y2="1180.9" stroke="#808080" stroke-width="2" />
<line x1="581.7" y1="1278.3" x2="591.7" y2="1278.3" stroke="#808080" stroke-width="2" />
<line x1="581.7" y1="1375.7" x2="591.7" y2="1375.7" stroke="#808080" stroke-width="2" />
<line x1="586.7" y1="1229.6" x2="591.7" y2="1229.6" stroke="#808080" stroke-width="2" />
<line x1="586.7" y1="1327.0" x2="591.7" y2="1327.0" stroke="#808080" stroke-width="2" />
<line x1="586.7" y1="1424.4" x2="591.7" y2="1424.4" stroke="#808080" stroke-width="2" />
<line x1="781.7" y1="1180.9" x2="791.7" y2="1180.9" stroke="#808080" stroke-width="2" />
<line x1="781.7" y1="1278.3" x2="791.7" y2="1278.3" stroke="#808080" stroke-width="2" />
<line x1="781.7" y1="1375.7" x2="791.7" y2="1375.7" stroke="#808080" stroke-width="2" />
<line x1="786.7" y1="1229.6" x2="791.7" y2="1229.6" stroke="#808080" stroke-width="2" />
<line x1="786.7" y1="1327.0" x2="791.7" y2="1327.0" stroke="#808080" stroke-width="2" />
<line x1="786.7" y1="1424.4" x2="791.7" y2="1424.4" stroke="#808080" stroke-width="2" />
<line x1="788.7" y1="1301.3" x2="991.7" y2="1301.3" stroke="#111" stroke-width="1.6" stroke-dasharray="4.5,2.5"/>
<rect x="591.7" y="1171.7" width="400.0" height="261.0" fill="none" stroke="#808080" stroke-width="2"/>
<line x1="791.7" y1="1171.7" x2="791.7" y2="1432.7" stroke="#707070" stroke-width="2" />
<line x1="611.7" y1="1432.7" x2="611.7" y2="1442.7" stroke="#808080" stroke-width="2" />
<line x1="691.7" y1="1432.7" x2="691.7" y2="1442.7" stroke="#808080" stroke-width="2" />
<line x1="771.7" y1="1432.7" x2="771.7" y2="1442.7" stroke="#808080" stroke-width="2" />
<line x1="651.7" y1="1432.7" x2="651.7" y2="1438.7" stroke="#808080" stroke-width="2" />
<line x1="731.7" y1="1432.7" x2="731.7" y2="1438.7" stroke="#808080" stroke-width="2" />
<line x1="824.0" y1="1432.7" x2="824.0" y2="1442.7" stroke="#808080" stroke-width="2" />
<line x1="888.3" y1="1432.7" x2="888.3" y2="1442.7" stroke="#808080" stroke-width="2" />
<line x1="952.3" y1="1432.7" x2="952.3" y2="1442.7" stroke="#808080" stroke-width="2" />
<line x1="856.0" y1="1432.7" x2="856.0" y2="1438.7" stroke="#808080" stroke-width="2" />
<line x1="920.7" y1="1432.7" x2="920.7" y2="1438.7" stroke="#808080" stroke-width="2" />
<line x1="985.0" y1="1432.7" x2="985.0" y2="1438.7" stroke="#808080" stroke-width="2" />
<text x="616.3" y="1467.7" font-size="28" text-anchor="middle">0.8M</text>
<text x="697.2" y="1467.7" font-size="28" text-anchor="middle">0.9M</text>
<text x="776.3" y="1467.7" font-size="28" text-anchor="middle">1.0M</text>
<text x="828.0" y="1467.7" font-size="28" text-anchor="middle">0</text>
<text x="893.8" y="1467.7" font-size="28" text-anchor="middle">0.5</text>
<text x="958.0" y="1467.7" font-size="28" text-anchor="middle">1.0</text>
<text x="582.7" y="1199.2" font-size="28" text-anchor="end">260</text>
<text x="582.7" y="1296.6" font-size="28" text-anchor="end">240</text>
<text x="582.7" y="1394.0" font-size="28" text-anchor="end">220</text>
<text x="528.5" y="1333.4" font-size="28.4" text-anchor="middle" transform="rotate(-90 528.5 1333.4)">A-O distance <tspan font-style="italic">d</tspan><tspan font-size="20.5" dy="7">AO</tspan><tspan dy="-7"> (pm)</tspan></text>
<text x="583.3" y="1496.7" font-size="28.6">A-site intensity <tspan font-style="italic">I</tspan><tspan font-size="20.5" dy="7">A</tspan></text>
<text x="845.0" y="1496.7" font-size="28.2">DP (rad)</text>
<text x="983.2" y="1198.7" font-size="23" text-anchor="end">A-O2 (+)</text>
<text x="980.2" y="1423.3" font-size="23" text-anchor="end">A-O2 (-)</text>
<line x1="804.0" y1="1280.0" x2="804.0" y2="1263.3" stroke="#ff0000" stroke-width="2" />
<polygon points="804.0,1256.7 799.5,1267.7 804.0,1263.9 808.5,1267.7" fill="#ff0000" />
<line x1="804.0" y1="1325.0" x2="804.0" y2="1341.7" stroke="#ff0000" stroke-width="2" />
<polygon points="804.0,1348.3 799.5,1337.3 804.0,1341.1 808.5,1337.3" fill="#ff0000" />
<line x1="804.0" y1="1275.0" x2="804.0" y2="1296.7" stroke="#ff0000" stroke-width="2" />
<line x1="804.0" y1="1308.3" x2="804.0" y2="1330.0" stroke="#ff0000" stroke-width="2" />
<clipPath id="cl14"><rect x="1092.7" y="1172.7" width="198.0" height="259.29999999999995"/></clipPath>
<g clip-path="url(#cl14)">
<path d="M1243.6,1297.9 C1243.3,1300.5 1241.2,1303.0 1238.5,1305.0 C1235.8,1307.0 1232.2,1309.1 1227.3,1310.0 C1222.5,1310.8 1215.6,1310.5 1209.4,1310.0 C1203.2,1309.6 1196.7,1308.9 1190.4,1307.5 C1184.2,1306.1 1177.3,1304.2 1171.9,1301.9 C1166.6,1299.5 1162.2,1296.5 1158.2,1293.6 C1154.2,1290.8 1150.2,1287.7 1148.1,1284.8 C1146.0,1281.8 1145.3,1278.7 1145.7,1276.0 C1146.1,1273.3 1147.5,1270.4 1150.7,1268.7 C1153.8,1266.9 1159.7,1266.2 1164.8,1265.5 C1169.8,1264.8 1175.0,1264.0 1180.8,1264.3 C1186.6,1264.5 1193.2,1265.9 1199.4,1267.2 C1205.7,1268.4 1212.8,1269.7 1218.5,1271.9 C1224.1,1274.0 1229.7,1277.2 1233.3,1280.1 C1236.9,1283.0 1238.4,1286.2 1240.1,1289.2 C1241.8,1292.1 1243.9,1295.2 1243.6,1297.9 Z" fill="#fbfbc0" fill-opacity="0.85" filter="url(#blur3)"/>
<path d="M1236.9,1297.1 C1236.3,1299.2 1235.3,1301.2 1233.0,1302.6 C1230.7,1304.1 1227.0,1305.3 1222.9,1305.8 C1218.7,1306.2 1213.1,1305.9 1208.1,1305.4 C1203.1,1305.0 1197.8,1304.1 1192.6,1303.0 C1187.5,1301.9 1181.9,1300.6 1177.3,1298.8 C1172.7,1297.1 1168.7,1294.7 1165.1,1292.5 C1161.5,1290.3 1157.6,1287.7 1155.8,1285.4 C1154.0,1283.1 1153.8,1280.7 1154.4,1278.7 C1154.9,1276.7 1156.7,1274.8 1159.2,1273.4 C1161.7,1272.1 1165.3,1271.0 1169.4,1270.4 C1173.4,1269.8 1178.4,1269.4 1183.4,1269.8 C1188.4,1270.2 1194.2,1271.6 1199.4,1272.8 C1204.6,1274.0 1210.3,1275.3 1214.8,1277.1 C1219.4,1278.9 1223.0,1281.3 1226.6,1283.6 C1230.2,1285.8 1234.8,1288.3 1236.5,1290.6 C1238.2,1292.8 1237.5,1295.1 1236.9,1297.1 Z" fill="#f0f050" fill-opacity="0.6" filter="url(#blur2)"/>
<mask id="mk14"><path d="M1233.4,1295.9 C1233.1,1297.9 1232.2,1299.9 1229.7,1301.2 C1227.2,1302.5 1222.9,1303.2 1218.5,1303.6 C1214.1,1303.9 1208.5,1303.8 1203.3,1303.1 C1198.1,1302.3 1192.3,1300.4 1187.4,1298.8 C1182.4,1297.1 1177.4,1295.2 1173.7,1293.2 C1170.0,1291.1 1167.0,1288.7 1165.1,1286.5 C1163.3,1284.3 1162.5,1282.1 1162.7,1280.1 C1162.9,1278.1 1163.5,1275.9 1166.2,1274.8 C1168.8,1273.6 1173.9,1273.4 1178.4,1273.1 C1182.8,1272.9 1187.8,1272.6 1192.8,1273.3 C1197.9,1274.0 1203.7,1275.6 1208.7,1277.2 C1213.6,1278.8 1218.6,1280.8 1222.4,1282.8 C1226.2,1284.9 1229.8,1287.4 1231.6,1289.6 C1233.5,1291.7 1233.7,1294.0 1233.4,1295.9 Z" fill="#fff" filter="url(#blur2)"/></mask>
<path d="M1233.4,1295.9 C1233.1,1297.9 1232.2,1299.9 1229.7,1301.2 C1227.2,1302.5 1222.9,1303.2 1218.5,1303.6 C1214.1,1303.9 1208.5,1303.8 1203.3,1303.1 C1198.1,1302.3 1192.3,1300.4 1187.4,1298.8 C1182.4,1297.1 1177.4,1295.2 1173.7,1293.2 C1170.0,1291.1 1167.0,1288.7 1165.1,1286.5 C1163.3,1284.3 1162.5,1282.1 1162.7,1280.1 C1162.9,1278.1 1163.5,1275.9 1166.2,1274.8 C1168.8,1273.6 1173.9,1273.4 1178.4,1273.1 C1182.8,1272.9 1187.8,1272.6 1192.8,1273.3 C1197.9,1274.0 1203.7,1275.6 1208.7,1277.2 C1213.6,1278.8 1218.6,1280.8 1222.4,1282.8 C1226.2,1284.9 1229.8,1287.4 1231.6,1289.6 C1233.5,1291.7 1233.7,1294.0 1233.4,1295.9 Z" fill="#9a9060" fill-opacity="0.85" filter="url(#blur2)"/>
<rect x="1092.7" y="1172.7" width="198.0" height="259.29999999999995" fill="url(#pt)" fill-opacity="1.0" mask="url(#mk14)"/>
<g class="pc"><circle cx="1171" cy="1275"/><circle cx="1205" cy="1291"/><circle cx="1186" cy="1276"/><circle cx="1177" cy="1284"/><circle cx="1215" cy="1301"/><circle cx="1225" cy="1296"/><circle cx="1221" cy="1305"/><circle cx="1223" cy="1289"/><circle cx="1159" cy="1277"/><circle cx="1172" cy="1272"/><circle cx="1229" cy="1283"/><circle cx="1123" cy="1271"/><circle cx="1191" cy="1287"/><circle cx="1211" cy="1299"/><circle cx="1228" cy="1286"/><circle cx="1226" cy="1291"/><circle cx="1201" cy="1279"/><circle cx="1160" cy="1289"/><circle cx="1190" cy="1303"/><circle cx="1180" cy="1289"/><circle cx="1214" cy="1287"/><circle cx="1195" cy="1286"/><circle cx="1220" cy="1283"/><circle cx="1198" cy="1302"/><circle cx="1176" cy="1274"/><circle cx="1207" cy="1277"/><circle cx="1191" cy="1294"/><circle cx="1226" cy="1301"/><circle cx="1162" cy="1291"/><circle cx="1215" cy="1273"/><circle cx="1170" cy="1305"/><circle cx="1167" cy="1286"/><circle cx="1220" cy="1294"/><circle cx="1219" cy="1288"/><circle cx="1158" cy="1301"/><circle cx="1210" cy="1292"/><circle cx="1192" cy="1295"/><circle cx="1193" cy="1285"/><circle cx="1193" cy="1304"/><circle cx="1218" cy="1303"/><circle cx="1206" cy="1294"/><circle cx="1181" cy="1267"/><circle cx="1217" cy="1303"/><circle cx="1168" cy="1297"/><circle cx="1199" cy="1266"/><circle cx="1215" cy="1267"/><circle cx="1209" cy="1272"/><circle cx="1220" cy="1309"/><circle cx="1195" cy="1278"/><circle cx="1132" cy="1271"/><circle cx="1211" cy="1279"/><circle cx="1238" cy="1291"/><circle cx="1229" cy="1293"/><circle cx="1217" cy="1295"/><circle cx="1155" cy="1302"/><circle cx="1153" cy="1293"/><circle cx="1202" cy="1296"/><circle cx="1221" cy="1279"/><circle cx="1214" cy="1296"/><circle cx="1192" cy="1267"/><circle cx="1187" cy="1280"/><circle cx="1179" cy="1283"/><circle cx="1198" cy="1285"/><circle cx="1180" cy="1292"/><circle cx="1213" cy="1293"/><circle cx="1190" cy="1303"/><circle cx="1213" cy="1284"/><circle cx="1163" cy="1276"/><circle cx="1172" cy="1299"/><circle cx="1192" cy="1282"/><circle cx="1230" cy="1304"/><circle cx="1199" cy="1298"/><circle cx="1175" cy="1270"/><circle cx="1168" cy="1299"/><circle cx="1184" cy="1280"/><circle cx="1185" cy="1288"/><circle cx="1197" cy="1301"/><circle cx="1174" cy="1287"/><circle cx="1224" cy="1293"/><circle cx="1196" cy="1268"/><circle cx="1190" cy="1279"/><circle cx="1211" cy="1291"/><circle cx="1168" cy="1275"/><circle cx="1218" cy="1289"/><circle cx="1206" cy="1281"/><circle cx="1201" cy="1284"/><circle cx="1164" cy="1293"/><circle cx="1207" cy="1277"/><circle cx="1161" cy="1277"/><circle cx="1152" cy="1272"/><circle cx="1215" cy="1305"/><circle cx="1190" cy="1275"/><circle cx="1222" cy="1307"/><circle cx="1209" cy="1290"/><circle cx="1135" cy="1303"/><circle cx="1202" cy="1303"/><circle cx="1198" cy="1303"/><circle cx="1224" cy="1303"/><circle cx="1225" cy="1292"/><circle cx="1234" cy="1301"/><circle cx="1195" cy="1283"/><circle cx="1197" cy="1276"/><circle cx="1185" cy="1271"/><circle cx="1218" cy="1301"/><circle cx="1158" cy="1293"/><circle cx="1197" cy="1293"/><circle cx="1176" cy="1294"/><circle cx="1187" cy="1281"/><circle cx="1182" cy="1280"/><circle cx="1162" cy="1293"/><circle cx="1226" cy="1289"/><circle cx="1172" cy="1279"/><circle cx="1208" cy="1280"/><circle cx="1225" cy="1282"/><circle cx="1220" cy="1308"/><circle cx="1191" cy="1278"/><circle cx="1178" cy="1280"/><circle cx="1147" cy="1296"/><circle cx="1180" cy="1296"/><circle cx="1213" cy="1280"/><circle cx="1166" cy="1277"/><circle cx="1161" cy="1290"/><circle cx="1167" cy="1282"/><circle cx="1163" cy="1271"/><circle cx="1198" cy="1278"/><circle cx="1229" cy="1289"/><circle cx="1143" cy="1313"/><circle cx="1228" cy="1276"/><circle cx="1231" cy="1291"/><circle cx="1201" cy="1275"/><circle cx="1201" cy="1269"/><circle cx="1176" cy="1285"/><circle cx="1171" cy="1271"/><circle cx="1202" cy="1276"/><circle cx="1182" cy="1265"/><circle cx="1198" cy="1296"/><circle cx="1165" cy="1284"/><circle cx="1205" cy="1281"/><circle cx="1209" cy="1292"/><circle cx="1204" cy="1280"/><circle cx="1240" cy="1296"/><circle cx="1169" cy="1275"/><circle cx="1207" cy="1299"/><circle cx="1179" cy="1277"/><circle cx="1157" cy="1272"/><circle cx="1155" cy="1280"/><circle cx="1213" cy="1298"/><circle cx="1206" cy="1295"/><circle cx="1226" cy="1282"/><circle cx="1207" cy="1311"/><circle cx="1172" cy="1295"/><circle cx="1178" cy="1278"/><circle cx="1164" cy="1291"/><circle cx="1228" cy="1287"/><circle cx="1178" cy="1289"/><circle cx="1188" cy="1275"/><circle cx="1205" cy="1295"/><circle cx="1164" cy="1278"/><circle cx="1172" cy="1271"/><circle cx="1198" cy="1279"/><circle cx="1225" cy="1301"/><circle cx="1194" cy="1306"/><circle cx="1231" cy="1295"/><circle cx="1169" cy="1284"/><circle cx="1228" cy="1277"/><circle cx="1167" cy="1287"/><circle cx="1193" cy="1295"/><circle cx="1147" cy="1281"/><circle cx="1177" cy="1286"/><circle cx="1214" cy="1290"/><circle cx="1236" cy="1290"/><circle cx="1233" cy="1297"/><circle cx="1161" cy="1272"/><circle cx="1201" cy="1300"/><circle cx="1160" cy="1296"/><circle cx="1188" cy="1272"/><circle cx="1195" cy="1297"/><circle cx="1177" cy="1301"/><circle cx="1180" cy="1268"/><circle cx="1180" cy="1279"/><circle cx="1167" cy="1286"/><circle cx="1206" cy="1287"/><circle cx="1205" cy="1289"/><circle cx="1197" cy="1266"/><circle cx="1228" cy="1298"/><circle cx="1197" cy="1281"/><circle cx="1218" cy="1291"/><circle cx="1235" cy="1292"/><circle cx="1171" cy="1295"/><circle cx="1173" cy="1282"/><circle cx="1184" cy="1265"/><circle cx="1209" cy="1300"/><circle cx="1177" cy="1267"/><circle cx="1230" cy="1313"/><circle cx="1187" cy="1282"/><circle cx="1170" cy="1275"/><circle cx="1227" cy="1281"/><circle cx="1161" cy="1282"/><circle cx="1128" cy="1270"/><circle cx="1172" cy="1280"/><circle cx="1177" cy="1289"/><circle cx="1158" cy="1285"/><circle cx="1221" cy="1280"/><circle cx="1212" cy="1275"/><circle cx="1221" cy="1306"/><circle cx="1196" cy="1274"/><circle cx="1187" cy="1292"/><circle cx="1174" cy="1300"/><circle cx="1230" cy="1292"/><circle cx="1195" cy="1297"/><circle cx="1207" cy="1306"/><circle cx="1171" cy="1274"/><circle cx="1173" cy="1285"/><circle cx="1220" cy="1306"/><circle cx="1191" cy="1284"/><circle cx="1183" cy="1292"/><circle cx="1196" cy="1295"/><circle cx="1219" cy="1295"/><circle cx="1144" cy="1275"/><circle cx="1227" cy="1294"/><circle cx="1197" cy="1283"/><circle cx="1182" cy="1285"/><circle cx="1250" cy="1296"/><circle cx="1177" cy="1286"/><circle cx="1219" cy="1292"/><circle cx="1230" cy="1283"/><circle cx="1184" cy="1274"/><circle cx="1227" cy="1287"/><circle cx="1220" cy="1294"/><circle cx="1146" cy="1292"/><circle cx="1179" cy="1298"/><circle cx="1191" cy="1283"/><circle cx="1215" cy="1300"/><circle cx="1175" cy="1298"/><circle cx="1209" cy="1284"/><circle cx="1184" cy="1274"/><circle cx="1195" cy="1292"/><circle cx="1193" cy="1301"/><circle cx="1207" cy="1298"/><circle cx="1175" cy="1278"/><circle cx="1171" cy="1285"/><circle cx="1183" cy="1276"/><circle cx="1226" cy="1288"/><circle cx="1181" cy="1313"/><circle cx="1190" cy="1288"/><circle cx="1181" cy="1293"/><circle cx="1180" cy="1273"/><circle cx="1195" cy="1293"/><circle cx="1208" cy="1287"/><circle cx="1202" cy="1303"/><circle cx="1206" cy="1271"/><circle cx="1166" cy="1282"/><circle cx="1231" cy="1290"/><circle cx="1221" cy="1304"/><circle cx="1176" cy="1273"/><circle cx="1217" cy="1304"/><circle cx="1199" cy="1282"/><circle cx="1174" cy="1268"/><circle cx="1225" cy="1302"/><circle cx="1222" cy="1287"/><circle cx="1244" cy="1272"/><circle cx="1217" cy="1287"/><circle cx="1150" cy="1280"/><circle cx="1217" cy="1294"/><circle cx="1176" cy="1275"/><circle cx="1191" cy="1305"/><circle cx="1196" cy="1295"/><circle cx="1225" cy="1287"/><circle cx="1204" cy="1274"/><circle cx="1164" cy="1295"/><circle cx="1162" cy="1269"/><circle cx="1193" cy="1286"/><circle cx="1201" cy="1304"/><circle cx="1197" cy="1285"/><circle cx="1220" cy="1303"/><circle cx="1220" cy="1287"/><circle cx="1175" cy="1279"/><circle cx="1212" cy="1273"/><circle cx="1190" cy="1285"/><circle cx="1191" cy="1268"/><circle cx="1197" cy="1281"/><circle cx="1175" cy="1274"/><circle cx="1176" cy="1286"/><circle cx="1205" cy="1287"/><circle cx="1230" cy="1288"/><circle cx="1221" cy="1292"/><circle cx="1158" cy="1274"/><circle cx="1176" cy="1279"/><circle cx="1180" cy="1292"/><circle cx="1186" cy="1280"/><circle cx="1171" cy="1285"/><circle cx="1223" cy="1294"/><circle cx="1194" cy="1271"/><circle cx="1228" cy="1300"/><circle cx="1239" cy="1293"/><circle cx="1193" cy="1303"/><circle cx="1196" cy="1281"/><circle cx="1188" cy="1278"/><circle cx="1194" cy="1289"/><circle cx="1155" cy="1273"/><circle cx="1210" cy="1285"/><circle cx="1229" cy="1286"/><circle cx="1152" cy="1282"/><circle cx="1189" cy="1297"/><circle cx="1182" cy="1277"/><circle cx="1179" cy="1290"/><circle cx="1230" cy="1304"/><circle cx="1198" cy="1277"/><circle cx="1186" cy="1284"/><circle cx="1187" cy="1302"/><circle cx="1188" cy="1296"/><circle cx="1187" cy="1276"/><circle cx="1209" cy="1298"/><circle cx="1183" cy="1283"/><circle cx="1155" cy="1287"/></g>
<path d="M1237.1,1297.2 C1236.4,1299.7 1231.9,1301.6 1227.9,1303.1 C1224.0,1304.6 1219.1,1306.2 1213.2,1306.3 C1207.3,1306.3 1199.4,1304.8 1192.6,1303.3 C1185.8,1301.8 1177.6,1299.9 1172.3,1297.3 C1167.0,1294.8 1163.5,1291.1 1160.7,1288.1 C1157.8,1285.0 1154.7,1281.5 1155.1,1278.8 C1155.4,1276.2 1158.8,1273.8 1162.7,1272.3 C1166.7,1270.7 1172.5,1269.7 1178.7,1269.6 C1184.8,1269.6 1192.9,1270.3 1199.6,1271.9 C1206.3,1273.5 1213.3,1276.4 1218.7,1279.1 C1224.1,1281.8 1229.0,1284.9 1232.0,1287.9 C1235.1,1291.0 1237.8,1294.7 1237.1,1297.2 Z" fill="none" stroke="#d8d860" stroke-width="0.9"/>
</g>
<clipPath id="cl15"><rect x="1292.7" y="1172.7" width="197.29999999999995" height="259.29999999999995"/></clipPath>
<g clip-path="url(#cl15)">
<path d="M1325.0,1440.0 C1314.8,1410.0 1322.8,1296.3 1324.0,1260.0 C1325.2,1223.7 1327.7,1229.8 1332.0,1222.0 C1336.3,1214.2 1343.3,1211.3 1350.0,1213.0 C1356.7,1214.7 1365.8,1217.5 1372.0,1232.0 C1378.2,1246.5 1383.5,1275.3 1387.0,1300.0 C1390.5,1324.7 1393.3,1356.7 1393.0,1380.0 C1392.7,1403.3 1396.3,1430.0 1385.0,1440.0 C1373.7,1450.0 1335.2,1470.0 1325.0,1440.0 Z" fill="#dcdcff" fill-opacity="0.9" filter="url(#blur3)"/>
<path d="M1327.0,1405.0 C1324.8,1380.8 1325.2,1286.7 1327.0,1260.0 C1328.8,1233.3 1333.8,1246.7 1338.0,1245.0 C1342.2,1243.3 1347.0,1244.2 1352.0,1250.0 C1357.0,1255.8 1365.0,1263.3 1368.0,1280.0 C1371.0,1296.7 1371.3,1330.8 1370.0,1350.0 C1368.7,1369.2 1365.0,1385.8 1360.0,1395.0 C1355.0,1404.2 1345.5,1403.3 1340.0,1405.0 C1334.5,1406.7 1329.2,1429.2 1327.0,1405.0 Z" fill="#7a7aff" fill-opacity="0.7" filter="url(#blur3)"/>
<mask id="mk15"><path d="M1329.0,1405.0 C1327.0,1382.5 1326.5,1295.8 1328.0,1270.0 C1329.5,1244.2 1334.0,1253.0 1338.0,1250.0 C1342.0,1247.0 1347.3,1247.0 1352.0,1252.0 C1356.7,1257.0 1363.3,1263.7 1366.0,1280.0 C1368.7,1296.3 1369.3,1330.8 1368.0,1350.0 C1366.7,1369.2 1362.7,1385.8 1358.0,1395.0 C1353.3,1404.2 1344.8,1403.3 1340.0,1405.0 C1335.2,1406.7 1331.0,1427.5 1329.0,1405.0 Z" fill="#fff" filter="url(#blur2)"/></mask>
<path d="M1329.0,1405.0 C1327.0,1382.5 1326.5,1295.8 1328.0,1270.0 C1329.5,1244.2 1334.0,1253.0 1338.0,1250.0 C1342.0,1247.0 1347.3,1247.0 1352.0,1252.0 C1356.7,1257.0 1363.3,1263.7 1366.0,1280.0 C1368.7,1296.3 1369.3,1330.8 1368.0,1350.0 C1366.7,1369.2 1362.7,1385.8 1358.0,1395.0 C1353.3,1404.2 1344.8,1403.3 1340.0,1405.0 C1335.2,1406.7 1331.0,1427.5 1329.0,1405.0 Z" fill="#3030e0" fill-opacity="0.85" filter="url(#blur2)"/>
<rect x="1292.7" y="1172.7" width="197.29999999999995" height="259.29999999999995" fill="url(#pt)" fill-opacity="0.62" mask="url(#mk15)"/>
<g class="pc"><circle cx="1332" cy="1328"/><circle cx="1385" cy="1401"/><circle cx="1333" cy="1318"/><circle cx="1343" cy="1255"/><circle cx="1362" cy="1376"/><circle cx="1341" cy="1324"/><circle cx="1356" cy="1357"/><circle cx="1392" cy="1324"/><circle cx="1356" cy="1347"/><circle cx="1337" cy="1260"/><circle cx="1354" cy="1362"/><circle cx="1354" cy="1201"/><circle cx="1339" cy="1268"/><circle cx="1362" cy="1342"/><circle cx="1365" cy="1306"/><circle cx="1339" cy="1404"/><circle cx="1345" cy="1328"/><circle cx="1405" cy="1392"/><circle cx="1344" cy="1315"/><circle cx="1357" cy="1372"/><circle cx="1325" cy="1420"/><circle cx="1375" cy="1353"/><circle cx="1337" cy="1370"/><circle cx="1350" cy="1311"/><circle cx="1358" cy="1408"/><circle cx="1349" cy="1257"/><circle cx="1387" cy="1406"/><circle cx="1376" cy="1326"/><circle cx="1332" cy="1346"/><circle cx="1364" cy="1257"/><circle cx="1332" cy="1293"/><circle cx="1388" cy="1394"/><circle cx="1366" cy="1375"/><circle cx="1379" cy="1332"/><circle cx="1333" cy="1417"/><circle cx="1328" cy="1269"/><circle cx="1354" cy="1353"/><circle cx="1404" cy="1213"/><circle cx="1340" cy="1292"/><circle cx="1344" cy="1312"/><circle cx="1336" cy="1213"/><circle cx="1330" cy="1419"/><circle cx="1336" cy="1374"/><circle cx="1347" cy="1261"/><circle cx="1371" cy="1337"/><circle cx="1356" cy="1373"/><circle cx="1333" cy="1406"/><circle cx="1351" cy="1242"/><circle cx="1406" cy="1391"/><circle cx="1357" cy="1363"/><circle cx="1337" cy="1327"/><circle cx="1358" cy="1366"/><circle cx="1365" cy="1376"/><circle cx="1347" cy="1350"/><circle cx="1353" cy="1351"/><circle cx="1338" cy="1334"/><circle cx="1363" cy="1345"/><circle cx="1355" cy="1351"/><circle cx="1350" cy="1369"/><circle cx="1354" cy="1271"/><circle cx="1371" cy="1392"/><circle cx="1346" cy="1335"/><circle cx="1351" cy="1361"/><circle cx="1383" cy="1329"/><circle cx="1348" cy="1332"/><circle cx="1346" cy="1390"/><circle cx="1343" cy="1237"/><circle cx="1356" cy="1373"/><circle cx="1390" cy="1272"/><circle cx="1350" cy="1285"/><circle cx="1410" cy="1303"/><circle cx="1390" cy="1398"/><circle cx="1352" cy="1301"/><circle cx="1349" cy="1232"/><circle cx="1337" cy="1281"/><circle cx="1362" cy="1225"/><circle cx="1337" cy="1403"/><circle cx="1329" cy="1304"/><circle cx="1347" cy="1273"/><circle cx="1357" cy="1224"/><circle cx="1349" cy="1404"/><circle cx="1341" cy="1419"/><circle cx="1390" cy="1365"/><circle cx="1386" cy="1223"/><circle cx="1386" cy="1352"/><circle cx="1386" cy="1410"/><circle cx="1340" cy="1392"/><circle cx="1339" cy="1408"/><circle cx="1341" cy="1400"/><circle cx="1376" cy="1286"/><circle cx="1326" cy="1323"/><circle cx="1328" cy="1277"/><circle cx="1341" cy="1245"/><circle cx="1326" cy="1307"/><circle cx="1335" cy="1393"/><circle cx="1333" cy="1219"/><circle cx="1350" cy="1341"/><circle cx="1373" cy="1352"/><circle cx="1359" cy="1225"/><circle cx="1372" cy="1359"/><circle cx="1335" cy="1337"/><circle cx="1359" cy="1404"/><circle cx="1339" cy="1411"/><circle cx="1368" cy="1391"/><circle cx="1337" cy="1392"/><circle cx="1396" cy="1230"/><circle cx="1333" cy="1233"/><circle cx="1376" cy="1299"/><circle cx="1403" cy="1251"/><circle cx="1344" cy="1303"/><circle cx="1372" cy="1282"/><circle cx="1333" cy="1372"/><circle cx="1348" cy="1348"/><circle cx="1360" cy="1278"/><circle cx="1359" cy="1380"/><circle cx="1334" cy="1313"/><circle cx="1336" cy="1402"/><circle cx="1354" cy="1363"/><circle cx="1396" cy="1296"/><circle cx="1349" cy="1245"/><circle cx="1340" cy="1235"/><circle cx="1347" cy="1355"/><circle cx="1352" cy="1323"/><circle cx="1384" cy="1264"/><circle cx="1350" cy="1301"/><circle cx="1343" cy="1227"/><circle cx="1327" cy="1327"/><circle cx="1363" cy="1290"/><circle cx="1346" cy="1280"/><circle cx="1340" cy="1372"/><circle cx="1390" cy="1401"/><circle cx="1336" cy="1315"/><circle cx="1388" cy="1248"/><circle cx="1336" cy="1346"/><circle cx="1373" cy="1323"/><circle cx="1365" cy="1369"/><circle cx="1340" cy="1372"/><circle cx="1347" cy="1305"/><circle cx="1332" cy="1363"/><circle cx="1342" cy="1355"/><circle cx="1325" cy="1378"/><circle cx="1348" cy="1248"/><circle cx="1376" cy="1337"/><circle cx="1372" cy="1279"/><circle cx="1377" cy="1396"/><circle cx="1364" cy="1426"/><circle cx="1356" cy="1264"/><circle cx="1364" cy="1428"/><circle cx="1358" cy="1354"/><circle cx="1357" cy="1372"/><circle cx="1362" cy="1350"/><circle cx="1388" cy="1363"/><circle cx="1411" cy="1422"/><circle cx="1349" cy="1205"/><circle cx="1333" cy="1271"/><circle cx="1389" cy="1377"/><circle cx="1337" cy="1411"/><circle cx="1341" cy="1388"/><circle cx="1353" cy="1302"/><circle cx="1338" cy="1309"/><circle cx="1399" cy="1214"/><circle cx="1381" cy="1211"/><circle cx="1387" cy="1340"/><circle cx="1334" cy="1262"/><circle cx="1379" cy="1321"/><circle cx="1385" cy="1328"/><circle cx="1361" cy="1367"/><circle cx="1356" cy="1247"/><circle cx="1361" cy="1270"/><circle cx="1414" cy="1422"/><circle cx="1334" cy="1288"/><circle cx="1330" cy="1398"/><circle cx="1339" cy="1342"/><circle cx="1342" cy="1297"/><circle cx="1328" cy="1242"/><circle cx="1358" cy="1321"/><circle cx="1349" cy="1288"/><circle cx="1349" cy="1218"/><circle cx="1367" cy="1279"/><circle cx="1331" cy="1310"/><circle cx="1380" cy="1271"/><circle cx="1343" cy="1251"/><circle cx="1368" cy="1308"/><circle cx="1360" cy="1300"/><circle cx="1333" cy="1343"/><circle cx="1375" cy="1390"/><circle cx="1354" cy="1318"/><circle cx="1340" cy="1328"/><circle cx="1337" cy="1370"/><circle cx="1378" cy="1300"/><circle cx="1343" cy="1298"/><circle cx="1369" cy="1320"/><circle cx="1361" cy="1228"/><circle cx="1351" cy="1353"/><circle cx="1326" cy="1373"/><circle cx="1371" cy="1316"/><circle cx="1336" cy="1230"/><circle cx="1416" cy="1333"/><circle cx="1380" cy="1403"/><circle cx="1345" cy="1298"/><circle cx="1392" cy="1375"/><circle cx="1374" cy="1343"/><circle cx="1374" cy="1378"/><circle cx="1349" cy="1399"/><circle cx="1353" cy="1374"/><circle cx="1364" cy="1274"/><circle cx="1340" cy="1288"/><circle cx="1385" cy="1231"/><circle cx="1332" cy="1288"/><circle cx="1367" cy="1328"/><circle cx="1342" cy="1311"/><circle cx="1366" cy="1315"/><circle cx="1345" cy="1339"/><circle cx="1356" cy="1320"/><circle cx="1325" cy="1361"/><circle cx="1338" cy="1410"/><circle cx="1335" cy="1319"/><circle cx="1330" cy="1285"/><circle cx="1367" cy="1237"/><circle cx="1338" cy="1239"/><circle cx="1325" cy="1306"/><circle cx="1364" cy="1297"/><circle cx="1379" cy="1341"/><circle cx="1381" cy="1386"/><circle cx="1399" cy="1309"/><circle cx="1329" cy="1281"/><circle cx="1356" cy="1304"/><circle cx="1338" cy="1282"/><circle cx="1358" cy="1327"/><circle cx="1350" cy="1284"/><circle cx="1369" cy="1244"/><circle cx="1338" cy="1260"/><circle cx="1332" cy="1267"/><circle cx="1397" cy="1232"/><circle cx="1348" cy="1231"/><circle cx="1393" cy="1337"/><circle cx="1340" cy="1402"/><circle cx="1348" cy="1299"/><circle cx="1360" cy="1307"/><circle cx="1373" cy="1268"/><circle cx="1353" cy="1290"/><circle cx="1373" cy="1255"/><circle cx="1357" cy="1241"/><circle cx="1373" cy="1280"/><circle cx="1329" cy="1365"/><circle cx="1352" cy="1293"/><circle cx="1412" cy="1387"/><circle cx="1383" cy="1303"/><circle cx="1369" cy="1350"/><circle cx="1400" cy="1201"/><circle cx="1352" cy="1365"/><circle cx="1361" cy="1334"/><circle cx="1351" cy="1320"/><circle cx="1360" cy="1310"/><circle cx="1346" cy="1293"/><circle cx="1363" cy="1296"/><circle cx="1406" cy="1335"/><circle cx="1344" cy="1303"/></g>
<path d="M1327.0,1390.0 C1326.0,1370.0 1325.3,1302.2 1327.0,1280.0 C1328.7,1257.8 1333.3,1262.5 1337.0,1257.0 C1340.7,1251.5 1345.2,1246.5 1349.0,1247.0 C1352.8,1247.5 1357.2,1252.8 1360.0,1260.0 C1362.8,1267.2 1364.3,1276.7 1366.0,1290.0 C1367.7,1303.3 1369.3,1325.8 1370.0,1340.0 C1370.7,1354.2 1371.7,1367.2 1370.0,1375.0 C1368.3,1382.8 1363.8,1383.2 1360.0,1387.0 C1356.2,1390.8 1351.5,1395.8 1347.0,1398.0 C1342.5,1400.2 1336.3,1401.3 1333.0,1400.0 C1329.7,1398.7 1328.0,1410.0 1327.0,1390.0 Z" fill="none" stroke="#333" stroke-width="1"/>
<path d="M1333.0,1370.0 C1330.5,1355.8 1331.5,1307.0 1333.0,1290.0 C1334.5,1273.0 1339.2,1272.7 1342.0,1268.0 C1344.8,1263.3 1347.5,1260.8 1350.0,1262.0 C1352.5,1263.2 1355.3,1265.3 1357.0,1275.0 C1358.7,1284.7 1359.8,1305.8 1360.0,1320.0 C1360.2,1334.2 1360.0,1350.8 1358.0,1360.0 C1356.0,1369.2 1352.2,1373.3 1348.0,1375.0 C1343.8,1376.7 1335.5,1384.2 1333.0,1370.0 Z" fill="none" stroke="#30305a" stroke-width="0.9"/>
</g>
<line x1="1091.7" y1="1180.9" x2="1491.0" y2="1180.9" stroke="#8c8c8c" stroke-width="1" stroke-dasharray="5,3,1.5,3"/>
<line x1="1091.7" y1="1278.3" x2="1491.0" y2="1278.3" stroke="#8c8c8c" stroke-width="1" stroke-dasharray="5,3,1.5,3"/>
<line x1="1091.7" y1="1375.7" x2="1491.0" y2="1375.7" stroke="#8c8c8c" stroke-width="1" stroke-dasharray="5,3,1.5,3"/>
<line x1="1081.7" y1="1180.9" x2="1091.7" y2="1180.9" stroke="#808080" stroke-width="2" />
<line x1="1081.7" y1="1278.3" x2="1091.7" y2="1278.3" stroke="#808080" stroke-width="2" />
<line x1="1081.7" y1="1375.7" x2="1091.7" y2="1375.7" stroke="#808080" stroke-width="2" />
<line x1="1086.7" y1="1229.6" x2="1091.7" y2="1229.6" stroke="#808080" stroke-width="2" />
<line x1="1086.7" y1="1327.0" x2="1091.7" y2="1327.0" stroke="#808080" stroke-width="2" />
<line x1="1086.7" y1="1424.4" x2="1091.7" y2="1424.4" stroke="#808080" stroke-width="2" />
<line x1="1281.7" y1="1180.9" x2="1291.7" y2="1180.9" stroke="#808080" stroke-width="2" />
<line x1="1281.7" y1="1278.3" x2="1291.7" y2="1278.3" stroke="#808080" stroke-width="2" />
<line x1="1281.7" y1="1375.7" x2="1291.7" y2="1375.7" stroke="#808080" stroke-width="2" />
<line x1="1286.7" y1="1229.6" x2="1291.7" y2="1229.6" stroke="#808080" stroke-width="2" />
<line x1="1286.7" y1="1327.0" x2="1291.7" y2="1327.0" stroke="#808080" stroke-width="2" />
<line x1="1286.7" y1="1424.4" x2="1291.7" y2="1424.4" stroke="#808080" stroke-width="2" />
<line x1="1288.7" y1="1326.7" x2="1491.0" y2="1326.7" stroke="#111" stroke-width="1.6" stroke-dasharray="4.5,2.5"/>
<rect x="1091.7" y="1171.7" width="399.29999999999995" height="261.0" fill="none" stroke="#808080" stroke-width="2"/>
<line x1="1291.7" y1="1171.7" x2="1291.7" y2="1432.7" stroke="#707070" stroke-width="2" />
<line x1="1166.7" y1="1432.7" x2="1166.7" y2="1442.7" stroke="#808080" stroke-width="2" />
<line x1="1266.7" y1="1432.7" x2="1266.7" y2="1442.7" stroke="#808080" stroke-width="2" />
<line x1="1116.7" y1="1432.7" x2="1116.7" y2="1438.7" stroke="#808080" stroke-width="2" />
<line x1="1216.7" y1="1432.7" x2="1216.7" y2="1438.7" stroke="#808080" stroke-width="2" />
<line x1="1323.3" y1="1432.7" x2="1323.3" y2="1442.7" stroke="#808080" stroke-width="2" />
<line x1="1387.7" y1="1432.7" x2="1387.7" y2="1442.7" stroke="#808080" stroke-width="2" />
<line x1="1452.3" y1="1432.7" x2="1452.3" y2="1442.7" stroke="#808080" stroke-width="2" />
<line x1="1356.0" y1="1432.7" x2="1356.0" y2="1438.7" stroke="#808080" stroke-width="2" />
<line x1="1420.0" y1="1432.7" x2="1420.0" y2="1438.7" stroke="#808080" stroke-width="2" />
<line x1="1484.0" y1="1432.7" x2="1484.0" y2="1438.7" stroke="#808080" stroke-width="2" />
<text x="1166.7" y="1467.7" font-size="28" text-anchor="middle">1.35M</text>
<text x="1268.0" y="1467.7" font-size="28" text-anchor="middle">1.5M</text>
<text x="1325.0" y="1467.7" font-size="28" text-anchor="middle">0</text>
<text x="1389.5" y="1467.7" font-size="28" text-anchor="middle">0.5</text>
<text x="1453.8" y="1467.7" font-size="28" text-anchor="middle">1.0</text>
<text x="1083.3" y="1199.2" font-size="28" text-anchor="end">260</text>
<text x="1083.3" y="1296.6" font-size="28" text-anchor="end">240</text>
<text x="1083.3" y="1394.0" font-size="28" text-anchor="end">220</text>
<text x="1028.5" y="1333.4" font-size="28.4" text-anchor="middle" transform="rotate(-90 1028.5 1333.4)">A-O distance <tspan font-style="italic">d</tspan><tspan font-size="20.5" dy="7">AO</tspan><tspan dy="-7"> (pm)</tspan></text>
<text x="1087.3" y="1496.7" font-size="28.6">A-site intensity <tspan font-style="italic">I</tspan><tspan font-size="20.5" dy="7">A</tspan></text>
<text x="1341.7" y="1496.7" font-size="28.2">DP (rad)</text>
<text x="1482.5" y="1198.7" font-size="23" text-anchor="end">A-O2 (+)</text>
<text x="1479.5" y="1423.3" font-size="23" text-anchor="end">A-O2 (-)</text>
<line x1="1302.3" y1="1305.0" x2="1302.3" y2="1288.3" stroke="#ff0000" stroke-width="2" />
<polygon points="1302.3,1281.7 1297.8,1292.7 1302.3,1288.9 1306.8,1292.7" fill="#ff0000" />
<line x1="1302.3" y1="1350.0" x2="1302.3" y2="1366.7" stroke="#ff0000" stroke-width="2" />
<polygon points="1302.3,1373.3 1297.8,1362.3 1302.3,1366.1 1306.8,1362.3" fill="#ff0000" />
<line x1="1302.3" y1="1300.0" x2="1302.3" y2="1321.7" stroke="#ff0000" stroke-width="2" />
<line x1="1302.3" y1="1333.3" x2="1302.3" y2="1355.0" stroke="#ff0000" stroke-width="2" />
</svg></body></html>
